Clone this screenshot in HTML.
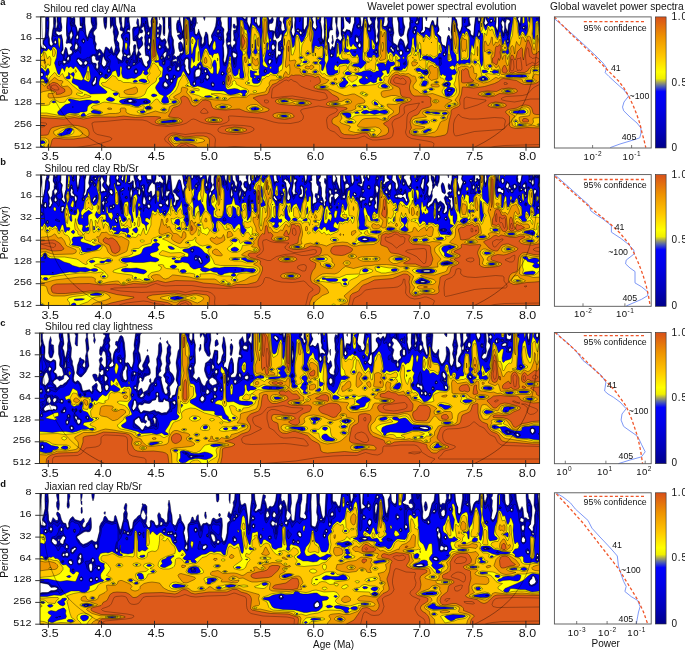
<!DOCTYPE html>
<html><head><meta charset="utf-8"><style>
html,body{margin:0;padding:0;background:#fff;width:685px;height:650px;overflow:hidden}
svg{display:block;will-change:transform}
</style></head><body>
<svg width="685" height="650" viewBox="0 0 685 650" font-family='"Liberation Sans", sans-serif'>
<rect width="685" height="650" fill="#fff"/>
<defs><linearGradient id="cb" x1="0" y1="1" x2="0" y2="0">
<stop offset="0" stop-color="#00008a"/>
<stop offset="0.12" stop-color="#0000b8"/>
<stop offset="0.3" stop-color="#0000e8"/>
<stop offset="0.43" stop-color="#0000ff"/>
<stop offset="0.47" stop-color="#5060b0"/>
<stop offset="0.5" stop-color="#a0a060"/>
<stop offset="0.53" stop-color="#f0f000"/>
<stop offset="0.58" stop-color="#ffff00"/>
<stop offset="0.7" stop-color="#ffc800"/>
<stop offset="0.85" stop-color="#ee9200"/>
<stop offset="1" stop-color="#d8501a"/>
</linearGradient>
<clipPath id="cp0"><rect x="40.6" y="16.9" width="499.0" height="130.29999999999998"/></clipPath>
<clipPath id="cp1"><rect x="40.5" y="175.0" width="499.1" height="130.39999999999998"/></clipPath>
<clipPath id="cp2"><rect x="39.5" y="333.1" width="500.1" height="130.39999999999998"/></clipPath>
<clipPath id="cp3"><rect x="40.0" y="493.5" width="499.6" height="130.70000000000005"/></clipPath>
</defs>
<g clip-path="url(#cp0)">
<rect x="40.6" y="16.9" width="499.0" height="130.29999999999998" fill="#fff"/><path d="M40.5 16l0 20-1 3 0-23zM45.5 16l3.5 0 0 12-0.5 7 1 4 0 5 1 1.5 1 0.5 1-1 0.5-1-1-3-0.5-2 1-8.5 1-4.5 0-10 2 0 0.5 5-0.5 6 0 1 1 0 1-4-0.5-3 0-5 4 0 0 6 1 5-0.5 4-2 1-3-1-0.5 2 2.5 2.5 3-1 1 5.5 0.5 8 0 2-1.5 2-0.5 1 0.5 1 2 0.5 2-7.5 1 1 0.5 1 0.5 3.5 1 2.5 3-1 1-2-0.5-1-0.5-1-1 0-0.5-1 0.5-2 1.5-1 0-1-0.5-1.5-3-0.5-2 0.5-0.5-0.5 1-5-0.5-3 0-7 0.5-12 3.5 0 1 2 1 0 2-1.5 0.5 2.5 0 5 1.5 3.5 1 4.5 1-0.5 1-3.5 2 0 0.5-1-0.5-1-1 0-0.5-1 0-9 5 0 0 7 1 11 0.5 2 1 1.5 2-6 3-4.5-1.5-5 0-6 5.5 0 0.5 8-0.5 4.5-3 3.5 0 1 0 1 1.5 2 0 5 1.5 3-1 4 1 1.5 1 0.5 2-1 1.5 1 2.5 4 2-7 1 0 2 1.5 1 1.5 2-3.5 2 6.5 0.5 0 0.5-1 0-1 0.5-2 0.5-2-1.5-7 0-4-1-4 0.5-4-1-3-2 3.5-0.5-12.5 5.5 0 0.5 9 2.5 7 0 2-1.5 4-0.5 2 2.5 3 0 4 1 4-3 5 0 1 0.5 1 4 2.5 0.5-0.5 0-2 1-3-1-4 1-5 0-5-0.5-2-1-1-0.5-3 1.5-2 0.5-1-0.5-1-2-0.5-0.5-0.5 0.5-4-1-4-0.5-6 2.5 0 0 4 0.5 6 0.5 1.5 1 1 1-2.5 0.5-10 2.5 0 0 1 0-1 2 0-0.5 3 1 10-0.5 1.5-0.5-0.5-1.5-0.5-0.5 1.5 0.5 1 2 0 0.5 3 0 8-1 4 1.5 8-1 0.5-1-0.5-1.5 1 0 1 0.5 1 1 0 1.5-1 0.5-1.5 1 0 2-4.5 0-5 0.5-1 0.5-0.5 1.5 0.5-0.5 6 1 5 2-6-1-2-1-5.5-0.5-1.5-2.5 0-0.5-1-0.5-11 1-2 3 0 1-1-1-3 0.5-3 0.5-1.5 1 1 0.5 5.5 0.5 2 0.5 0 0.5-1.5 0.5-2.5 0-7 5.5 0 1 1 1 8 1 2.5 1 0 1-1.5-0.5-5 1.5-5 4.5 0 0.5 7-0.5 3 0.5 1.5 1-0.5 1-1 0-2.5 1.5 1.5 0.5 1-0.5 7-1 4 0 1 1.5 2 1 0 2-1.5 1 1 1 2.5-1 3 0.5 1 1.5 2.5 1 0.5 0.5-2-1.5-7 1.5-9-0.5-3 0-12 2.5 0 0.5 19 2 5 0 4 1 7 0 2-1 2 0 1 1-0.5 2 2 1-1.5 1 0 1-1 1-2 1 0.5 1-0.5 0.5-1-0.5-1.5-2 1.5-1-0.5-1-3.5 0-5 2-1.5 1.5 1.5 1.5 6 0-1 0.5-7-0.5-3-1 0-2 2-1-0.5-2-3.5 0-1 2-0.5 0.5-1.5-0.5-0.5-2 0.5-1-4 0-5 1-3.5 1.5-0.5 0.5-4 0.5 0 0 4 2.5 12 1-3 0-13 3 0 1 1 2-0.5 1 3.5 1 1.5 1.5-5.5 3 0 0.5 7-2 5 0.5 5 0 1 1.5 0.5 0.5-0.5 1-2 0.5-3 2 6 1.5 3-0.5 5 0.5 1 0.5 0.5 1.5-2.5 0-4 1-3 0.5-3 1 0 1.5 3 0.5 9 1 1.5 3-5.5-1-3 0-2 2.5-5 1.5-4 1-7-0.5-3 5.5 0-1 3 1 4 0 3 2.5 3 0 1-0.5 3 0.5 9-1 4 0.5 2 0.5 8-0.5 4 1 3 1-1.5 2-8.5 0-3-1-5-0.5-5 1-3-0.5-3 1.5-3 0-15 3.5 0 0 9-0.5 7 0 9-0.5 2 1 3.5 1 1 1-2.5 1-0.5 1-1.5 0-1-0.5-1-1.5-0.5 0-0.5 0.5-2-0.5-5 0-2.5 1-0.5 1 0 0.5 0-0.5-3 1.5-2-0.5-9 5 0 3 3 1 0 1-3 1 0-0.5 6 2.5 5.5 1.5-4.5 0-7 6 0-0.5 6 0-3-1-0.5-0.5 0.5 0 3 0.5 1 1-1 1 3 1 1 1-0.5 0.5-1.5 0-8 8.5 0-0.5 2 1.5 2 1-0.5 2-3 1 3.5-1 3-1 0.5-2 0-0.5 1.5 0 3 0.5 2.5 3 0 1.5 0.5 0.5 1-1.5 7 0.5 1.5 2-0.5 1 2-0.5 6 0 4 0 4 0.5 2.5 1-1.5 1-2.5 1 0.5 1.5-1 0-2-0.5-1-2 0-0.5-7 0.5-2 3-2 0.5-4-0.5-2-1 0.5-2 3.5-2 0.5-1.5-3.5-0.5-3 1.5-6 1-10 3.5 0-1 2 0 2 2 2-0.5 6 0.5 2 1 1 2-0.5 0.5-0.5-0.5-5-1.5-3 1-6 8.5 0-0.5 4 0.5 7-1.5 4 1 3 0.5 1.5 1 0.5 1-1.5 0.5-2.5-0.5-7 0.5-5-0.5-4 9 0 0 11 0 1.5 1 1.5 2.5-5 0.5-9 6 0-1.5 2 0 1 1.5 3-1 4 0 1 3 2.5 1.5-2.5-1-4 0-7 5 0-0.5 6 1.5 8-0.5 6 0.5 2 1.5 2.5 1-5.5-0.5-8 0.5-5-0.5-3 0.5-3 8 0-0.5 10 0.5 4-2 0-1 1-0.5 2 0 4-1.5 3 0 1.5 1.5 1.5 0.5 6 1 1 2-4 1 1.5 1 0 1-5.5 1-3 1-0.5 3 2.5 2-3-1.5-4 0-18 2.5 0 0.5 11 0 1-1.5 2 0 1 1 0.5 1.5 0.5 1.5-2.5 2 0.5 1 0 2 3 3-11 0-6 5.5 0 1 6 0 4 0.5 0.5 1-0.5 1.5-10 3.5 0-0.5 3 1.5 5.5 1 0.5 1.5-1 1-2-1.5-2-1-4 6.5 0 0 2-1 3 0 6 1 9-0.5 5 1 2 1-0.5 1-2.5-1.5-4 1.5-5-1-4 0.5-5-1-4 1-2 1 0 0.5 0.5 1.5-0.5 3.5 0-0.5 6-1 3 0.5 1.5 1 0 2-0.5 1-2 0.5-2-0.5-3 0.5-3 4.5 0 0 7 1.5 10-1 4 0 4 0.5 2 2 1 2 2-0.5 3 0.5 1.5 1 0 0.5-1.5-1.5-3 2-6.5 1-1 1 0.5 2 2 2 6.5 2.5-4.5-1-8 1-5 1.5-3 0-4 0.5-2-0.5-5 8.5 0 0 2 0.5 1 0.5-3 3.5 0 0 12 0 2-2 2 1 1 1-0.5 1 0 1.5-1.5 0.5-1-0.5-3 4.5 1.5 2-6.5 1-2 1 1 1 4.5 1 0 1-1.5 0.5-8 1 0 0 9 1 4 0 2-2 2 0.5 1 1.5 1 2 2 0 5 1 2 0.5 1 2 0.5 1 1.5 1-2 1-8 1-2 1 1 0.5 2 0.5 1.5 1-0.5 0.5-2-1-5 1-11 0-5 3 0 0.5 3 1 0.5 1 5.5-0.5 2 2.5 5 1-1 1.5-5 0-10 10.5 0-1 1-1 0-1.5 1 0.5 4 1 3-1 1-2 0.5-0.5 0.5-0.5 1 1 1 1 0 2 2 0 3 1 1 2 1 2-20 3 0-0.5 4 0.5 1.5 1 0 1-1.5-1.5-4 6.5 0-0.5 3-1 4 0.5 1.5 1 0.5 2.5-2-2-4-0.5-3 10.5 0 0 6-0.5 4 2 5 1-5 0-10 8 0 0 2 0.5-2 12 0-1.5 3 1.5 3 0.5 2 1-1 0.5-7 19.5 0 0 132-501 0 0-105.5 1 1.5 1 3.5 4 1.5 1-1-1-1.5-2.5-2.5 0-1 0.5-3.5 1.5-2.5 0.5-6zM506.5 19l-1 5 0.5 4 1.5 3 0 2 1-9 1.5-2 0-1-0.5-1-2-0.5zM490.5 20l-0.5 1 0.5 1 1 0 1-1-0.5-1-0.5-0.5zM417 21l-1 1 0 1 0.5 0.5 1 0 0.5-1.5-0.5-2zM502 21l-1 2 1.5 4-0.5 2 1.5 4.5 1-4.5 0-6-1-2-1-1zM319.5 22l0 0.5 0.5-0.5-0.5-0.5zM71.5 24l0 0.5 0.5-0.5zM191.5 24l0 1.5zM358.5 25l-0.5 1 0.5 1.5 1.5-1.5zM142.5 27l-1.5 2 1.5 1 0.5 1-0.5 1.5-1 0.5-1.5 0 0-2-0.5-1 0 3-1.5 3 0.5 2 1 0.5 2-2 1 0.5 0 1-0.5 2 1 4-0.5 1.5-4 4.5 1 2 1.5 2 0 1-1.5 0.5-0.5 1.5 0.5 1 1 0 1-0.5 2 6 1.5 2.5 1.5 1 1-1 0.5-1-1-3 2-2 0.5-2-1-2-3-0.5 0-0.5-0.5-5 0-3-0.5-3 0.5-3-0.5-4 1-4-1-3-0.5-3-0.5-0.5zM415.5 27l-1 1 0 1 1 0.5 1-1.5zM523 27l0 1 0.5 1 1-1 0-1-1-0.5zM368 28l0 2 0.5 0.5 1 0 0.5-1.5-0.5-2-1 0zM389 29l0.5 2 1-0.5 0-1.5-1-0.5zM157 30l0 1 0.5 1.5 1-0.5 0.5-1-0.5-1.5-1-0.5zM297 30l0 1 0.5 0.5 1 0 0.5-0.5-0.5-1.5-1 0zM217 31l0.5 1.5 1 0 0.5-1.5-0.5-1-1 0.5zM414 31l-0.5 1 0.5 1 0.5 0.5 1-1.5-1-1.5zM71 32l-1.5 3 1 4.5 1-1 1.5-3.5-1.5-3.5zM148.5 32l-1 1 0 1 1 1 1-1 0-1 0-1-1-0.5zM299.5 32l0 1 1 1.5 1-0.5 0.5-1-0.5-1-1-1zM478.5 32l-0.5 3 0.5 2 1-1 0.5-2-0.5-2zM157.5 34l-1 2 1 1.5 1-0.5 0.5-1-0.5-2-1-0.5zM76.5 36l-0.5 2 0.5 1 1 0 1-1 0-2-1-1zM219 38l0.5 1 0.5 0 0.5-1-1-0.5zM356 38l-0.5 3 1 1 1 0.5 1-1.5-0.5-3-1.5-1zM126 39l0.5 1 0.5-1-0.5-1zM148.5 39l0 3 0 1 1 0.5 1-2 0-2-1-1.5zM83.5 40l-1 1 1 1.5 1-1.5zM507.5 40l-0.5 1 0.5 1.5 1-0.5 0.5-1-0.5-1-1-0.5zM54.5 41l-0.5 2 1.5 1 1-1 0-1-1-2zM228.5 42l-1 1-0.5 1 1.5 1 1-0.5 1-0.5 0-1-1-1zM320.5 43l0.5 0zM75.5 44l-1 3 1 3 2-1.5 0.5-2.5-1.5-2.5-1 0zM358.5 44l-0.5 2 0.5 1 1 0.5 1-0.5 0.5-1-0.5-2-1-1zM272 45l-0.5 1 0 2 1 2 1 0 1.5-2 0-1-1.5-2.5-1 0zM148 46l-0.5 2 1 1.5 1-0.5 0.5-2-1.5-2zM159 46l-0.5 1 1 1.5 1-0.5 0.5-1-0.5-1-1-1zM281.5 47l0 2 0 0.5 1-0.5 0-2-1-0.5zM390 48l0.5 1 1 0.5 1 2 1 0.5 0.5-1-0.5-2-1 0-1-2-1 0zM407 49l0 1 0 1 1.5 0 0.5-1-0.5-1zM376 51l-1 1 1.5 1 0.5-1-0.5-1zM165.5 52l-2 1.5-0.5 1.5 1.5 3 1.5-2 0.5-3 0-1zM399.5 52l0 2 1 1 1 0 1-1 0-2-1-1-1 0zM99 53l-1 2 0.5 0.5 2-0.5 0-1-1-1.5zM232.5 53l0 2 1 2.5 2 0 1-1 0.5-1.5-0.5-1-3-1.5zM269 54l0.5 1.5 0.5-0.5 0.5-1-1-1zM443.5 54l0 1 1 0.5 0.5-0.5 0.5-1-1-1zM124 55l0 1 0.5 0.5 2-0.5-1-1.5-1-0.5zM330.5 55l0 1 1 0.5 1-0.5 0-1-1-1zM92.5 56l-1 1 0 1 0.5 4 1.5 1 2 0 1 1-0.5 3 0.5 1.5 1 0.5 1-2-0.5-4 1-2-0.5-0.5-1 0-1 0-1-1.5 0-2-1-1-1-0.5zM168.5 56l-0.5 1 0.5 1 1-1zM68 57l-1 1 0 1 0.5 1.5 1 0 1-2.5-1-1.5zM103 57l-0.5 1-1 6 1 1.5 1 1 1 0 1.5-1.5 0.5-3-2-3-1-3zM161.5 57l-0.5 1 0.5 1 1-1-0.5-1zM175.5 59l-2.5 1-0.5 1.5 1 0 2-0.5 1 0.5 0.5-0.5-0.5-2.5zM186 59l-1 1-0.5 3 1 3-0.5 2 2 5 1.5 1 1-1 0-1-1-4 0-8-1-1.5-1 0zM77 60l0 1 2.5 3.5 1 0.5 1 0 1-1 0-1-1-1.5-3-2.5-1 0zM269 60l-0.5 1 0 2 1 1 1-1 1-2-1-1.5zM63 61l0 1 0.5 1.5 1 0 2-1.5-2-1.5-1 0zM84.5 62l-0.5 1 0 1 1.5 1 1-0.5 1-1.5-0.5-1-0.5-1-1 0zM126.5 62l1 0 0-1zM163.5 62l-0.5 1 0.5 1 1-1-0.5-1zM178 62l0.5 1 0.5-1-0.5-0.5zM133.5 63l-0.5 1 0.5 1 1-0.5 0.5-0.5-0.5-1zM199.5 65l-0.5 1 0.5 2.5 1-0.5 0.5-2-0.5-1zM127.5 67l0.5 1 0.5 1 1-0.5 0.5-0.5 0-1-0.5-1-1 0zM178 67l-1.5 2 0.5 1 1.5 0.5 1-0.5 0-2-1-1.5zM169 69l0.5 1 1 0 0.5-1-0.5-1-1 0zM397 69l1.5 0-1-0.5zM108 70l0 1 0.5 1 1-0.5 0.5-0.5-0.5-1.5-1-0.5zM135.5 70l-0.5 1 0 1 0.5 1 1 0 0.5-1 0-1-0.5-1zM196 70l-1 3 0.5 4 3-0.5 1-0.5 0.5-1 0.5-3 0-1-1-2-2 0.5zM205 70l-0.5 1 0 1 1 0.5 1-0.5 0-1-1-1.5zM264.5 71l1 1 0.5-1-0.5-1zM41 73l-0.5 2 1 1.5 1.5-0.5 0-2-0.5-1-1-0.5zM100 73l0 1 0.5 0.5 1-0.5-1-1.5zM221.5 73l0 1 1 0.5 1-0.5-0.5-1-0.5-1zM425.5 73l1.5 0-0.5-1zM166.5 75l-0.5 1-0.5 1 1 2 1 0.5 1-1 0-1.5-1-2zM207.5 75l-1 0-0.5 2 0.5 1.5 1 0.5 1-0.5 0.5-1.5-0.5-1.5zM105.5 76l0 1 1 0 0-1.5-1 0zM174.5 76l-1 1 1 1 1-1-0.5-1zM94.5 78l0 2-2 3 0 1.5 1 0.5 2-1.5 0.5-1.5 0.5-4-1-1zM258 79l0.5 1.5 0.5-0.5 0-1-0.5-0.5zM481 79l1.5 1 1 0 1.5-1-1.5-1-1 0zM171 80l-0.5 1 1 1.5 1-1.5 0-0.5-1-1zM164 83l-0.5 2 1 1.5 2 0.5 1-1 0.5-1-1.5-2-1-1-1 0zM193.5 83l-0.5 1 0.5 1 1 0 1-1-0.5-1-0.5-1zM223 83l0.5 1 1-1-1-1zM212 84l0 1 0.5 1 1 0 0.5-1-0.5-1.5-1-0.5zM446 84l-0.5 1 1.5 0 0-1zM448 90l0.5 1 1.5 0 1-1-1.5-0.5zM128.5 100l-0.5 1 1 1 2 0 1.5-1-0.5-1-1.5-0.5zM144.5 102l1 0.5 1.5-0.5-1.5-0.5zM147.5 108l1 0.5 1-0.5-1-0.5zM104.5 16l2.5 0-0.5 11-1 2.5-1-2-0.5-2.5-0.5-6 0.5-3zM159.5 16l0.5 0-0.5 4-0.5-3 0-1zM162.5 16l2.5 0 0 16-0.5 4-1-1-0.5-2 0-12-1-5zM176.5 16l1 0-1 1 0-1zM203.5 16l2 0-1 4.5-1-2.5zM335.5 16.5l0-0.5 2 0-0.5 10 2 7-0.5 3-1 1.5-1 0 0-0.5-0.5-4 0.5-7-1-4zM345.5 16l5 0 0 6-1 2-0.5-1-2.5-2-0.5-1-0.5-2-0.5-2zM397.5 16l8 0-1 0.5-1-0.5-0.5 2 0.5 5 1.5 4-1.5 8-2 1.5-1 0-1-1-0.5-1.5-0.5-3 0-8-1-4zM425.5 16l2 0-1 5-1-3 0-2zM448.5 16l0 1.5zM197.5 22.5l0 1zM233.5 24l1 0 1 2 0 1-1 1.5-1-0.5-0.5-2zM448.5 27l1 1 0 3-1-1zM332.5 35l1 7-1 2.5-1-1.5 1-3-0.5-3z" fill="#00009c" stroke="#000" stroke-opacity="0.7" stroke-width="0.55" fill-rule="evenodd"/>
<path d="M40.5 17l0 9-0.5 11-0.5 1.5 0-22.5 1 0zM46.5 16l2.5 0-0.5 3 0.5 3-0.5 7-1.5 5 2 4 0 5 1 2 0.5 1 1 0 1.5-1 0.5-1-1.5-3 0-2 1.5-10 0-0.5 1 0 1 1.5-0.5 3 0 1 3.5 2 2-0.5 1 0.5 1 6.5 0.5 5.5-0.5 2-1.5 2 0.5 2 2 1.5 2-7 1 0.5 1.5 7-1.5 2 0 2.5-3-0.5-0.5 1-0.5 1 1 2 1 0 3-2.5 1 0 1-2.5 0-3 0.5-1 2-1 1-2-2.5-4 1.5-2 0.5-1-2-3 2.5-6-0.5-4-1-1.5-1 0.5-0.5 2-1 2-0.5 5 0-2-1.5-3-0.5-7 1-12 2.5 0 0.5 2.5 1 2 1 0 1-1.5 1 1-1 3.5-2-2.5-1 1.5 0 1.5 1 2 2-1 2 0.5 1 2.5 1 6-1.5 2-0.5 2 1 1.5 1 0 1.5-1.5-1-4 1.5-5 1-0.5 1.5 0.5 1-1-0.5-3-2 0.5 0-0.5-0.5-9 4.5 0-1.5 3 0.5 3-1 1.5 0 1.5 1-1 1 0.5 1.5 10.5 1.5 3.5 1.5-2.5 0.5-2.5 1.5-1.5 1.5-3.5 1-0.5 0 1-1.5 3 0 1 2 5 0.5 4 1 2 0 5 1 1.5 2 0.5-1 3-2 2-2-1-2 1-0.5 1 0 5 2.5 2 2 0.5 0 3.5 1 1.5 1 0.5 1.5-3 0-4 0.5-2-0.5-3 0.5-1 1.5 1 0.5 2 0 4 2 3.5 1 0 1-0.5 2-4 1.5-1-0.5-1-3-1.5-1-2.5 0-3 1-4 1-1 2 1.5 1 2.5 2-1 2 2.5 1-0.5 0.5-1 0-2 1-4-1.5-7-0.5-14-1-3-0.5-5.5-2 9 0-10.5 4.5 0 0 8 2 4 1 5-1.5 6 0 1 2 3.5 0.5 6.5-0.5 2-2 4 0 1 3 4 2 0.5 1-0.5 1-4.5 3 0.5 1 1.5 1 0 3-1 2-6 1-0.5 2 6-0.5 5 0.5 1 1-1 0-5.5 1 0.5 1 1.5 2 0.5 2 6 2.5 2 0.5 0 1-0.5 0.5-1.5 0-3 1.5-2 0-2-1-2.5-2-1-0.5-0.5-0.5-4 1-2.5 1 1.5 1 1 1-0.5 0.5-1.5 0-4 0.5-2 0.5-2-1.5-3-1 0-0.5 2 0 5-1.5 1.5-1-0.5 0-2 0.5-3-0.5-7-0.5-3 0-3-0.5-2.5-1-1.5-0.5 3-1.5 0.5 0-0.5 0-5.5 0.5-1.5-0.5-3 3 0 0 1.5 1 0 1.5 2.5 0.5 6 2 4-2.5 3 0 1 1.5 2 1.5-2 0-5 1.5-3-0.5-5 1.5-4 0-1 4 0 0.5 7-0.5 3 1 2-1 3 1 2-1 3.5 1 1 2-0.5 2 4.5 1 0.5 2-2 1 2-1 4 1.5 4-3 4 0 3-1.5-1-0.5 1-0.5 1 1 1.5 1.5-0.5 0.5-1.5 1 3.5-1 0-0.5 1 0 2 0.5 0.5 1-0.5 0-3 2-5.5 0.5 0.5 0.5 2 1 1 1-0.5 1-1.5-0.5-1-1.5-1-1 0.5-0.5-0.5 0.5-3 2-4-1-10 1-5.5 1-1 0.5 3.5 2 5-0.5 5 1.5 5-0.5 2-1.5 4 0.5 2-1 3 0 4 0 0.5 1 0 1-2.5 1-0.5 1 0 1.5 2.5-0.5 4 0 1 1 1 1 0 1.5-2 0.5-7-2-4 2-3.5 2-0.5 0.5-1 1-4 0-8-0.5-5.5-1 0.5-0.5 2-1.5 1-1.5-2-0.5-1 2-2 0-1-3-2-0.5-5 0.5-2.5 1-1 1-0.5 1 1.5 1.5 7.5 0.5 4.5 1-5 0-14.5 2.5 0 1.5 1.5 1 0 1 0.5 1 5 0 7 1-0.5 1.5-3.5-0.5-5 1.5-5 1.5 0 0.5 6-1.5 6 0.5 6 0.5 1 1 0 2-2.5 1 1 1.5 4.5 0 6 0.5 2 1 0 1.5-1 1-3-0.5-4 1-3 1-1 1 2 0.5 8 1.5 2.5 3-6.5-1-4 5-9 0.5-11 4 0-1.5 3 1.5 4-0.5 3 0 1 2.5 2 0 1 0 3 1 9-1 3 0.5 11-0.5 4 0.5 3 1 1.5 1-1 2.5-8.5 0.5-9 2-0.5 2 4 2-2.5 1.5-4-2-9 0.5-1.5 1 0.5 1-1.5 1.5-6.5-1-9 4 0 4.5 4.5 1-1 0.5 2.5 2.5 7.5 1.5-6.5 0.5-7 5 0 0 1.5-2 1 0 3.5 1 1.5 1-0.5 1 3 1 1 1.5-1 0.5-2 0-8 7.5 0 0 2 1.5 3-1 5 0.5 4 0.5 1 3 0 1 1-0.5 6 0 2 0.5 1 2 0 0.5 2-0.5 3-2-2.5-1 0.5-0.5 1-1 2 1.5 4 1-0.5 1-1 1-0.5 0 7 1 3.5 2-4 2-0.5 1-2-1-2.5-2-0.5 0.5-3-0.5-3 1-2 2-1.5 1.5-8.5 2.5-2-1-5-1-3 0.5-3 0.5-2 2-0.5 1 0 1-0.5 3.5 0 0.5 11-1.5 4 1 4 1.5 1.5 1-1.5 1-3-0.5-6 0.5-6-0.5-4 8 0 0 11 0.5 6 1-1 0.5-2 2.5-5 0-9 5.5 0-1 2 0 1 1 3-1 4 0.5 1 3 3 1.5-3-0.5-4-0.5-7 5 0-0.5 4.5-1 0-0.5 1.5 0.5 1 1 0 1 7 0 4 0 4 2 4 1.5-7-1-9 0.5-4 0-3 0-3 7.5 0-0.5 11-2 2.5-1 2.5 0 5-1 3-0.5 1 2 3 0 5 1.5 1.5 2-1.5 1 1 1-1.5 1.5-6.5 0.5-2 1-0.5 3 2.5 2-4-1-4 0-18 1.5 0 1 10-0.5 2-1.5 2-0.5 1 4 2 1-3 3 0.5 1 1.5 0 1.5 1 1 2-9.5 1.5-3-0.5-2 0-4 5 0 1 7-0.5 1-0.5 0.5-1 0-1 1.5 0 1 1 1 1-0.5 2 1.5 1-1 1.5-12 3 0 0 3 1.5 7-0.5 4 0.5 1 1.5 0 0.5-2-1-3 1-1 3-1.5 0 3.5 1 1.5 0.5 1.5 0 11 1.5 3 1-1 1-3-0.5-4 0.5-5-0.5-4 0-8 0.5-2 1 0 1 0 1-1 2.5 0 0 5-1 5 0.5 0.5 4 0.5 2-6-1-0.5 0-1.5 0-3 3.5 0 0 7 0.5 2 0.5 8-0.5 2-2-1 0 1 0 1 1.5 1 0 4 1 3 0.5 1 2 0 1 1 0.5 4 0.5 1 1-0.5 1-1.5-1-3 1-5 1-1 1 0.5 2 2 1 4.5 2.5 4 0.5 0.5 1 0 1-1.5-1-1.5-1.5-0.5 1.5-6-1-7 1-5 1.5-3 0-3 0.5-3-1-5 8 0-0.5 4-1.5 2 0 1 1 1 1 0 1-1 1-7 2.5 0 0.5 12-0.5 2-1.5 2 0 1 1 0.5 2-0.5 1-1 1-2 0-2.5 3 1 1 1 2-6.5 1-2 1 1 1 4 1 0.5 1-1.5 1 0.5 1.5 3.5-0.5 1.5-1.5 2.5 0 1 3 3 1.5 6.5 1 2 2 0.5 1 2 1-2 1-8.5 1-1.5 2 4 1 0.5 0.5-3.5-0.5-5 1-16 2 0 0 2 2 3 0.5 7 2.5 5 1-1 1.5-5 0-11 9.5 0-2 0.5-1 1.5 1 7-3 1.5-0.5 1.5 1.5 1 1 0.5 1 1 1 4.5 3 2 1-5 0-5 1.5-11 2 0 0 4 0.5 2 1 0 1-2-1-4 6 0-1.5 7 0.5 1.5 1 1 3-2.5-0.5-1-1-2-1-4 10 0 0 6-1 4 2.5 6.5 1-6.5 0-10 5 0 0 0.5 0.5-0.5 1.5 0 0.5 3-0.5 2.5-1 0.5-1-2-1-0.5-1.5 2.5 0 2 1 3-0.5 3 2 6 1-5.5 1-2 2 7 1-1 0-4.5 0.5-5 1.5-3-0.5-2-2-2 0-2 10.5 0-1 3 1.5 3 0.5 4.5 1-1.5 0.5-9 19.5 0 0 132-501 0 0-105 1 1.5 1 4 2 0 2 1 1-1.5-1-2-2-2 0-1 0-2.5 2-2.5 0.5-4 0-11 0.5-4-0.5-3zM490 20l0 2 1.5 0.5 1-1.5 0-1-1-1-1 0zM390.5 27l-2 0.5-0.5 1.5 0.5 2 1 1.5 1 0.5 1.5-2 0.5-1-0.5-2zM414.5 27l-0.5 1 0.5 2-1.5 2 0.5 1 1 1 1-1 0-2 1-3-1-1.5zM523 27l-0.5 1 1 1 2-1-0.5-1-1.5-1zM217 30l0 4 0.5 0.5 1.5-1.5 0.5-2-1-1.5zM297 30l0 1 0.5 1 1 0 1 2 1 1 1 0 1-1 0-1-1-1.5-1-0.5-1 0-1-2-1 0zM478 32l-0.5 3 0 1 1 1 1.5-1 0.5-2-1-2.5-1 0zM219.5 37l-1 1 1 1.5 1-0.5 0.5-1zM355.5 37l0 4 1 1.5 1 0.5 1.5-2-0.5-3-0.5-1-1.5-0.5zM55.5 40l-1.5 1 0 2 1.5 1 1-1 0.5-1-0.5-1zM83 40l-0.5 1 0 1 1 0.5 1-0.5 0.5-1-1.5-1.5zM507 40l0 2 0.5 1 1-0.5 0.5-1.5-0.5-1.5-1-0.5zM360.5 41l-2.5 3-0.5 1 0.5 2 1.5 1 1-0.5 1-1.5-0.5-3zM75.5 43l-1 5 0.5 2 0.5 1 2.5-2 0.5-3-0.5-1-1.5-2-1-0.5zM320 43l0.5 0.5 1.5-0.5-0.5-0.5-1-0.5zM159 45l-0.5 1-0.5 1 1.5 2 1.5-1 0.5-2-1-1-1-0.5zM281.5 46l-1 1 0 1 1 2 1-0.5 0.5-1.5-0.5-1zM390.5 47l-0.5 1 0 1 1.5 1 1 2 1 0.5 1-1.5-0.5-2-2.5-2.5zM375.5 51l-1 1 1 1 1 0.5 1-1.5-0.5-1-0.5-1zM400 51l-1 1 0.5 2 1 1.5 1-0.5 1-1 0-2-1-1.5zM232.5 52l-1 2 1.5 4 0.5 4 1 2.5 0.5-5.5 1.5-1.5 0.5-2.5-0.5-2-3-2-1 0zM269.5 53l-1 1 0.5 1 0.5 0.5 1.5-0.5 0-1zM444.5 53l-1.5 1 0 1 1.5 1 1.5-2-0.5-1zM331 54l-1 1 0 1 1.5 1 1.5-1 0-1-0.5-1-1-0.5zM272.5 55l0-1zM186.5 58l-1.5 1-1.5 5 1 1 0.5 1 0 3 2 4 1.5 1.5 1-1 0.5-1.5-1-4 0-8-1.5-2zM439.5 58l0 1 1 0 0-1zM77.5 59l-0.5 1 0 1 2.5 4 1 0.5 2-0.5 3 0.5 2-1.5 0.5-2-0.5-1-2-0.5-2 1.5-1-0.5-3-2.5-1-0.5zM131.5 60l0-1zM269 60l-1 1 0 2 0.5 1 1 0.5 1.5-1.5 0.5-2-1-1.5-1-0.5zM126.5 61l0 1.5 1 0.5 0.5-1-0.5-2-1 0.5zM133 63l0 2 0.5 0.5 1-0.5 1-1 0-1-1-1-1 0zM404.5 64l0.5 0-0.5-0.5zM199 65l-0.5 1 0 2.5-2 0.5-1.5 2-0.5 6 1 1.5 3.5-1.5 1.5-2 1-4-0.5-2 0-3-0.5-1-1-0.5zM128 66l-1 1 0.5 1 1 1 1 0 1-1-0.5-2-0.5-0.5zM169 68l-0.5 1 0.5 1 0.5 0.5 1 0 1-1.5-0.5-1-0.5-0.5zM108.5 69l-1 2 1 1.5 1-0.5 0.5-1-0.5-2zM396.5 69l1 0.5 1.5-0.5-1.5-1zM135 70l-0.5 1 0.5 2 0.5 0.5 1 0 1-1.5-0.5-2-0.5-0.5-1 0zM204.5 70l-0.5 1 0 1 1.5 1 1.5-1-0.5-2-1-1zM265 70l-0.5 1 0 1 1 0.5 1-1.5-1-1.5zM425 72l0 1 1.5 0.5 0.5-0.5-0.5-1.5zM41 73l-0.5 1 0 1.5 1 1 1 0 1-1.5 0-1-1-1.5-1 0zM99.5 73l0 1 1 1 1.5-1-0.5-1-1-1zM221.5 73l0 1.5 1 0.5 1-1 0-1-1-1zM166 75l-0.5 1 0 2 2 2.5 1.5-1.5 0-2-1.5-2.5-1 0zM206 75l-0.5 3 1 1.5 1 0 1.5-1.5 0-2-1.5-1.5-1 0zM105 76l0.5 1 1.5 0 0-1-0.5-1-1 0zM173.5 76l0 1.5 1 1 1-1.5-1-1.5zM95.5 77l-1 1-0.5 2-2 3 0.5 2 1 0.5 2-1.5 1-1 0-5zM482 78l-1 1 1.5 1 1.5 0 1.5-1-1.5-1zM258 79l0 1 0.5 0.5 1-0.5 0-1-1-1zM170.5 80l-0.5 2 1.5 1 1-1 0.5-2-1.5-1zM46 81l0.5 1 0.5-1-0.5-0.5zM164.5 82l-1.5 2 0.5 2 0.5 1 1.5 0.5 2-0.5 1-1-0.5-2-1.5-2-1-0.5zM194 82l-0.5 0-0.5 2 0.5 1 1 0.5 1-1.5 0-1-1-1.5zM223 82l-0.5 1 0.5 1 0.5 0.5 1-0.5 0-1-1-1.5zM212.5 83l-1 1 0 1 1 1.5 1 0 1-1.5-1-2zM445 84l0 1 1.5 0 1 0 0.5-1-1.5-0.5zM447.5 90l0 1 1 0.5 2-0.5 1.5-1-1.5-1zM128 100l-1 1 0.5 1 3 0.5 4.5-0.5-2.5-2-2-1zM144 102l1.5 0.5 2-0.5-2-1zM147 108l1.5 0.5 1.5-0.5-1.5-0.5zM54.5 16l0.5 6-0.5 2.5-0.5-2.5 0.5-4-0.5-2zM57.5 16l3.5 0 0 6 0.5 6-1 1.5-2 1-1-1.5 0.5-5-0.5-4zM91.5 16l3.5 0 0.5 2 0 6-2 2-1-1.5-1-2.5-0.5-6zM104.5 16l2 0 0 6-1 5.5-1-3-0.5-3.5zM119.5 16l1.5 0-0.5 5 1 2 0 1-1 0-0.5-2 0-2-0.5-0.5zM125.5 16l1 0 1 6 0 0.5 1-1 1.5 5.5-0.5 2-2 0-0.5 2 0 1 0.5 0.5 1 0 1 1.5 0 9-0.5 4 1 7-3.5 1.5-1-1.5-1-0.5-1 0.5-0.5-1 0-3 0.5-9-2-5 0-1 2-2 0-3 1.5-4zM126.5 38l-1 1 0.5 1 0.5 0.5 1-1.5zM162.5 16l1.5 0 0.5 1.5 0 6-0.5-4.5-1.5-2zM168.5 16l2 0 0 11 0 1-1 1.5-1-2.5zM228.5 16l2.5 0 0 9-0.5 7 0 8 0 1-1 0.5-2-0.5-0.5-2 0.5-5 1-3-0.5-12zM277.5 16l2 0-0.5 2 0 2 0.5 1.5 1 0 0.5 1.5-0.5 6-0.5-1 0.5-2-1-1.5-1.5 4.5 0 1 1 2 0.5 2-1 3-1 1-1-0.5-1-2.5 1-14zM336.5 16l0 7-0.5-4 0-3zM345.5 16l5 0-1 6-3-1.5-1-2.5zM370.5 16l2 0-1 2.5-1 0-0.5-2.5zM373.5 16l2 0-1 2.5-1-0.5-0.5-1 0-1zM398.5 16l4.5 0 0 6 1 5-0.5 6-1 1.5-2-0.5-1-1-0.5-10-1-4 0-3zM272.5 18.5l0 3-1 1-0.5-0.5 0-1 0.5-1.5zM437.5 19l0 2.5zM138.5 25l1 4-0.5 4-3 6-1 1-1.5 0.5-0.5-1.5 0-10 0.5-1 1 0 2.5-1zM121.5 27l1 2-0.5 1-0.5 0-1-1 0-1zM159.5 26l1 0.5 0.5 2.5-0.5 5-1 1.5-0.5-2.5 0.5-2-0.5-2zM164.5 26.5l0 7.5-0.5-2zM141.5 30.5l0.5 1.5-0.5 0.5-0.5-0.5zM337.5 30.5l1 2.5-1 2-1-3zM137.5 39l2 0.5 1 0 1 1 1 2.5-0.5 2-2.5 3-1 0-0.5-1-1-7zM180.5 43l1.5 1 0.5 4-0.5 2-1.5 0.5-1-1.5 0-4 0-1zM134.5 45.5l0.5 1.5-0.5 2-0.5-2zM138.5 52l1.5 2-1.5 2-0.5-1z" fill="#0000c8" stroke="#000" stroke-opacity="0.7" stroke-width="0.55" fill-rule="evenodd"/>
<path d="M47.5 16l0.5 0-0.5 1.5-0.5-1.5zM58.5 16l2 0-0.5 7 0.5 4-1 1.5-1 0 0-1.5 1-4-1.5-3 0-4zM68.5 16l1 0 0.5 4 0 4 1.5 4 0 1-3 5-1-2-0.5-4 0.5-10.5 0.5-1.5zM80.5 16l2 0-0.5 7-0.5 1-1 0-0.5-6 0.5-2zM92.5 16l1.5 0 0 1 0 3-0.5 3.5-1-1-0.5-1.5 0-5zM105.5 16l0.5 0-0.5 7-0.5-3 0-4zM113.5 16l1 0-0.5 1-0.5 0.5zM153.5 16l2 0 0.5 2 0.5 5 0 3 0.5 2-0.5 3 0.5 2-0.5 4 1 1.5 2 1 0.5 1.5-2 5 0 2 1.5 1.5 1 0 2-2.5 1 0.5 1 1.5-0.5 3-3.5 5 0 2 2 2-0.5 2 0.5 1.5 1 0.5 1 0 0.5-1 0.5-3 1-1.5 3 0.5 1 1-0.5 5-2.5 1-0.5 1 0.5 2 1 1.5 2-0.5 1-1 0.5-3 1.5-1 1-1.5 1 1.5 0 4 1 1 2 0.5 1-0.5 1-1 1-5 1 0 1 0 1 1 0 3 2 4 1 1.5 1 1 1-0.5 1-3-1-4 0-8-1-2-1-1-2 0.5-3 3.5-2-3 0.5-2 2.5-2.5 1-4.5-0.5-16 0-17 2 0 1.5 2.5 1 0 1 1.5 0.5 3 0 7 0.5 1.5 2-0.5 1-3 0.5 5 1 2 1.5 1 2-2 1 1 1 4 0 7 1 2 2-1.5 1.5-1.5 1-3-0.5-4 1-1.5 1 2 0.5 6.5 1.5 3.5 2-5.5 1.5-3-0.5-3.5 2-1.5 2 1.5 1 0 3-4.5 1.5 4 0 2-0.5 0.5 0-1.5-1-1-1 0-1 0.5-0.5 1.5 0.5 1 1 1 1 0.5 1-0.5 0-1 1 1 0.5 2-0.5 3 0.5 10-0.5 5 1 5 1 1 1 0 0.5-1 3.5-17 1 0.5 1 1.5-0.5 4 1.5 4 1 8 1 2 1.5-2 0.5-7 1-3-0.5-4-1.5-4 1-4 0.5-5 2-3-1-3 0-5 0.5-3 0-4 2-4.5 3.5 3.5 1 3 1.5 0.5 1.5 2.5 0.5 4 1 2.5 2-9.5 0-7 4 0-1 1-0.5 2 0.5 4 2 1.5 1 2.5 1 1 1 0 1 0 0.5-3-0.5-9 7.5 0 0 2 0.5 3-0.5 6 0.5 4 1 1.5 1-1 2 0.5 0 7 0.5 3 0 1-2 3 0 2 1 3-0.5 2-2-0.5-1.5 1.5 0.5 1 1 1 1 0 2 2 2-7 0.5 2 0 3 1.5 7.5 2-7 2.5-1.5 0.5-1 0-3 1.5-2 0-1-1.5-4-1.5 0 1.5-1 1.5-10 0.5-1 2-2-1.5-8 0.5-2 1.5-2 2.5-1.5 0.5-0.5 3 0 0 11-1 3 0 2 1.5 5 1 1 1-2 1-3.5 1-1.5 0.5 1 1.5 0.5 2 3 2 1 1-0.5 1-1.5 1.5-5.5 1.5-3 0.5-10 4.5 0-1 2 1 4 0 5 3 4 2-4-1-4 0-7 4 0 0 3-2 3 1.5 2 0 3 1 3 0 7-0.5 1-2 0.5-0.5 1.5 0.5 0.5 1 0 1-1.5 1 0.5 1 1.5-3 0 0 2 1 1.5 1.5-0.5 0.5-3 1 3 1-4 0.5-5-0.5-9 0.5-4-0.5-3 0-2 0.5-1 7 0-1 7-0.5 2.5-2 4-0.5 3.5 0 4-1 4 1.5 3 0.5 5 1.5 3-0.5 4 0.5 1 1 0.5 1-0.5 1-1 3-15 1-0.5 1 0.5 2 2.5 2-5.5-0.5-5 0.5-1 1 0.5 2 2 1-3.5 2 0 1.5 1 0.5 5.5 1-0.5 2.5-10 0.5-2 1-1 0.5-1-0.5-7 2.5 0 1.5 3.5 0 3.5-3 2 0 1 0.5 2 2.5 1 1 1 0.5 3-1.5 3.5-1 0-2-1.5-1 0-0.5 1 0 5 0.5 1.5 1.5 1.5 1 3 2.5 2.5 1.5-3.5 0-13 0.5-2.5 2-14.5 2.5 0 0 3 1 7-0.5 3 0.5 2 1.5 1 1-0.5 0.5-1.5 0-3 0.5-1 2.5 5 0.5 2 0.5 8 1.5 4.5 1-1.5 1-4 0-3 0.5-6-0.5-4 0.5-8 2.5-3 1.5 0 0.5 5-1 5 1 1 2 0.5 1.5 1.5 1 4 0.5 7 3 2.5 1 2.5-0.5 1-1.5 0-0.5 1-0.5 2 3 3.5 1 0.5 1.5-2-0.5-3.5 1-0.5 1 3 1 1.5 1 0.5 0.5 2 1.5 1.5 1 0 1.5-1.5 0-2-1.5-2-1.5 0-0.5-0.5-0.5-3.5 0.5-2 1 0 2 0 3 7.5 2 0.5 1 0 1-1 0-2-2-2 1.5-5-1-7 1.5-5 1.5-1-0.5-6 1-0.5 1 0.5 0.5-1-0.5-1.5-1 0-1-1-0.5-3.5 7 0-0.5 4-1.5 2 0 1 1.5 1.5 1 0.5 1-1 0.5-1 1-7 2 0 0 12-0.5 2-1 1-0.5 2 3.5 1 3-5.5 2 1 1 2 2-8 1-2 2 5.5 1 0.5 1-1 1 0.5 0.5 1 0 2-1 2 0 2 2.5 3 1.5 6 1.5 3 2 1.5 1 1.5 0 2-0.5 1-1.5 0.5-0.5 1.5 0.5 2 1 0.5 1-1 1-1.5 0-2.5-1-1.5 1-1.5 1-8.5 1-2 2.5 5 0.5 7.5 0.5-13.5 0-6 0.5-15 1.5 0 0 2 2 3 0.5 3 0.5 4 2.5 6.5 1-1 2-6.5 0-11 6.5 0-1 3 0.5 4-0.5 2-1.5 1-2 0 2 3 2.5 2 1.5 5 3 2.5 1-2.5 0.5-9 2-11 0.5 0 0 4 1 3.5 1-1 1-2.5-0.5-4 5 0-1.5 7 2 3.5 2.5-2.5 0.5-1 0-1-1.5-2-0.5-4 9.5 0-0.5 6-0.5 4 1.5 6.5 1 2 1.5-8.5-0.5-10 3.5 0 0 3-1 2-0.5 2 1 4-0.5 2 1 4 0.5 3.5 1 1.5 2-6 2 5 0 1-1 3 1 2.5 1-0.5 0.5-1-0.5-3.5-0.5-0.5 1-3 0.5-10 1.5-3-1.5-6 9 0-1.5 3 2 4 0.5 7 1-1 0.5-1 0.5-12 12 0 0 0.5 0.5-0.5 6.5 0 0 1.5-1 1.5 1 2 0 127-501 0 0-104.5 2 5.5 2 0 2 0.5 1-0.5 0-2-3-4 0-1 1-2 1.5-1 0.5-1.5 1 0 0.5 0.5 0.5 5 0.5 2 1.5 1.5 1 0 2-1.5 0-1 2 0.5 1-0.5 0.5-1 0-2-1.5-2.5-1 0.5-1 2.5-1-0.5 0-3 1-3 1 1.5 1 0 1-0.5 4.5 1 1 2 0.5 8-0.5 2-1.5 4 0.5 1 2 2 0.5 3-2 2.5-1 0-1-0.5-1 0.5 0 1.5 0 2 1 1 1-2.5 1-0.5 2 2.5 1-0.5 1-1 3-1 1-1 1-2 0-4 2.5-2 0.5-2 1-0.5 1 1 1.5-1.5 1.5-0.5 2 3 0.5-5.5-0.5-1.5-1 1-0.5-0.5-0.5-3-1.5-2 0.5-1 1.5-2 0-6 0.5-2 1-1 2 0.5 1.5 1.5 3.5 9 2-4.5 1 1 2 0.5 1 2 0 4 1 1 0.5 4 1.5 3-1 2.5-3 0-1 0.5-2 2 0 1-2-0.5-2 1.5-3 0.5-3-1.5-2 0-0.5 1-0.5 2 1 2 2 2.5 3 1.5 1 1 3-2.5 2-2.5 2 1 1-0.5 1.5 1.5 2 4 3 3 1.5 3 1 0.5 1-0.5 1-1 0-1-1-1-2-0.5-0.5-1.5 1-6 0.5-1 0.5 2 2.5 3.5 1 1 3-3 2 0 1-5.5-1-2-1-0.5-1-1.5 0.5-1 1.5-0.5 2-2 2 2 2.5-1.5 0 3 2 3 0.5 3.5 1-0.5 3-0.5 2-2.5 0-1.5 1-0.5 1 1-1 3 1 1.5 1.5 0.5-2 3 1.5 2.5 2 0 1.5-1.5 0.5-2 3-0.5 4-2.5 1-1 0-2 4 6 2 1.5 1 0 2-1.5 1.5-6-0.5-4-1-3-1-1 0-0.5 1 0 1-1 1-2.5-0.5-3 1-4-1-6 1-6 1-3-0.5-4 0.5-3 1-3zM490.5 19l-1 1 0 2 1 1 1-0.5 1-0.5 0-2-1-1zM536 19l0.5 0.5 1 0 0.5-0.5-0.5-1-1 0zM464 20l0.5 3 1-3 0-1-1 0zM523.5 26l-1 1-0.5 1 0.5 1 1 0.5 1 0 1 1 1-2.5-0.5-2-0.5-0.5-1 0.5zM413.5 27l-0.5 1-0.5 4 0.5 1 1.5 1.5 1.5-1.5 0-2 1-3-0.5-1.5-1-0.5zM478.5 31l-1 4 0 1 1 1.5 1-0.5 0.5-1 0.5-2-1-3-1-1zM83 39l-1.5 1 0 1 0.5 1 1.5 1.5 1-1 0.5-1.5-0.5-1.5-1-1zM376 50l-3 2 3.5 2.5 1-1.5 0-2-1-2zM353.5 52l1 0.5 1 0 0.5-0.5-0.5-1-1 0zM425.5 58l1 0.5 1.5-0.5-1.5-0.5zM438.5 58l1 3-0.5 4 1.5 0.5 1-1.5-0.5-3 0.5-3-1-1-1 0zM269.5 59l-1.5 1-0.5 2 0.5 2 1.5 0.5 2-1.5 1-2 0-1-1-1-1-0.5zM337 62l0 1 1 0 0-1-0.5-0.5zM404.5 62l-1.5 2 1.5 1 1-0.5 0.5-0.5-0.5-2.5zM446.5 64zM199 65l-1 3-3 2-1 2 0 6 0.5 2-1.5 2-0.5 2 1 1.5 1 0 1.5-1.5-0.5-3 0.5-1 0.5-1 4 0 0.5 1-1 2 0.5 1 1 0 2-1 0-2 1-2 1.5 2 1.5 0.5 1-1 1-1.5 0-2-2-3 0-2-1-1.5-1-0.5-2 1-1-0.5-1.5-4.5-0.5-0.5-1-0.5zM108.5 68l-1 1-0.5 2 0.5 1.5 1 0.5 1 0 1-1 0-2-1-3-1 0.5zM396.5 68l-0.5 1 0.5 0.5 2 0 1.5-0.5-1-1zM135 69l-1 1 0 2 1.5 2 1 0 1.5-2-0.5-2-1-1.5zM264 70l0 2 0.5 0.5 1 0.5 1.5-2-0.5-1-1-1zM221.5 72l-0.5 2 0.5 1 1 0.5 2-1.5 0-1-2-1.5zM423.5 72l0.5 1 1.5 0.5 1 0 1-0.5 0-1-1-1zM40.5 73l-0.5 1 0.5 2 1 1 1-0.5 1-1.5 0-2-1-1-1 0zM167 74l-1.5 1-0.5 2 1 3-2.5 2-1.5 4 1.5 2 2 1 2-0.5 1-1 1.5-2.5 2.5-2 0.5-1 0.5-3 1 0 1-1 0.5-1-0.5-1-1-1-1 0-1 3.5-1 0-2 1-0.5-3.5-0.5-1.5-1-0.5zM105 75l0 2 0.5 0.5 1 0 0.5-0.5 0.5-2-1-1-1 0zM370.5 76l1 0zM507.5 76l1 0 2 0zM520.5 76l2.5 0zM94.5 77l-3 6 0.5 2 0.5 1 1 0 1 0 2-2 0.5-5-0.5-2-1-0.5zM258.5 78l-1 1 0 1 1 1 1-0.5 0.5-1.5zM481.5 78l-1 1 2 1 2 0 1.5-1-1-1-1.5-0.5zM45.5 81l0.5 1 0.5 0 0.5-1-0.5-1zM222.5 82l0 2 1 1 1-1 0-2-1-1zM211 83l0 2 0.5 1 1 1 1 0 1-2-0.5-2-1.5-1zM444.5 84l-0.5 1 2.5 0.5 1.5-0.5 0.5-1-2-1zM423.5 85l1 0zM449 89l-2 1 0 1 0.5 0.5 3 0 2-1.5-1-1zM447.5 94l-0.5 1 0.5 0.5 1 0 1-0.5-1-1.5zM129 99l-4 2-1 1 0.5 0 10 1 1 0 1-1-0.5-1-4.5-2zM144 101l-1 1 1.5 1 2 0 2-1-2-1.5zM72 107l1.5 0zM146.5 108l1 1 1 0 2-1-2-1zM254 109l2 0zM172 121l1.5 0 1 0zM422.5 122l1 0.5 1-0.5zM69.5 129l-2 1 0 1 1 0 1-1zM66.5 133l1 0zM60.5 135l1.5 0zM41.5 142l1 0zM169.5 16l0.5 0 0 4-0.5 6-0.5-10zM218.5 16l0.5 0-0.5 1.5-0.5-1.5zM228.5 16l2.5 0-0.5 12-1 2-0.5-1-0.5-8zM295.5 16l3.5 0 0.5 6 1-1.5 0-4.5 2.5 0-0.5 9 0 2 0 3.5-3-1-1-1-1 0-1 1-1-0.5 0-4 0.5-4zM346.5 16l3.5 0-0.5 3-1 1-2-0.5 0-0.5-0.5-3zM398.5 16l4 0 0 6 0.5 5-0.5 1-2 2-1-4 0-3-1-3zM39.5 18l1 8-1 11.5zM504.5 18l0.5 1-0.5 1-0.5-1zM194.5 18.5l0.5 3.5-0.5 2-1-0.5 0-1.5 0-2zM47.5 19.5l1 3.5-1 6-1-2 0-4 0-1.5zM218.5 19.5l1 3.5-1 2.5-1-0.5 0-2 0-2zM342.5 19.5l1 6.5-1 2.5-1 0 0-2.5 0-5zM145.5 21l0.5 2-0.5 1zM277.5 20.5l0.5 1.5-0.5 4.5zM179.5 24.5l1 1 1.5 5.5-0.5 6-1 0.5-0.5-1.5 1-2 0-1-2-2-1-2 0.5-3zM128.5 25.5l0.5 2.5-1.5 0-0.5 1-1 4 0.5 0.5 2-0.5 1 2-0.5 12 0 6 0 1-2.5 0.5-3-2.5 0-12-1-3 0.5-1 2.5-2-1-1.5 0-1.5 0.5-3zM125.5 38l-0.5 1 0.5 1 1 1 1-1 0.5-1-1.5-2zM72.5 26.5l1 0 2 0.5 1 5 0 2-1.5 3 0 5-1.5 8-1.5-2 0.5-3-1-3 2-6-0.5-4-1.5-3 0-1zM136.5 28l2-1 0.5 2-0.5 4-1 1.5-1 1-1 0.5-0.5 1-0.5 1.5-1 0.5 0.5-3-0.5-4 1.5-3zM146.5 28l1 0.5 0.5 1.5-1.5 3.5-1-3.5 0-1zM115.5 28.5l1 2 0.5 2.5-0.5 2.5-1 2-0.5-5.5zM220.5 29.5l0 1.5zM277.5 32.5l0.5 1.5-0.5 2.5-1-0.5 0-1 0-1.5zM228.5 33.5l1 0 0 0.5 0.5 5-0.5 1.5-1-0.5-0.5-1zM170.5 36l1.5 4 0 5 0.5 4-1 5-1 1-1.5-1 0-1 1.5-5-1.5-10 0.5-2zM115.5 39.5l0 2zM116.5 42.5l1.5 1.5-0.5 2-1-1.5zM116.5 48.5l1 0.5 0 1 0 1-1 0.5 0-1.5zM65.5 51.5l1 1 1 3.5-2 3.5-1-0.5-0.5-1zM134.5 54l1 3 0 2-1 2-1 0-0.5-2 0-2 0.5-3zM129.5 59l0.5 1 0.5 2-1 1.5-1-3.5zM202.5 73l0.5 1-0.5 0z" fill="#0000f4" stroke="#000" stroke-opacity="0.7" stroke-width="0.55" fill-rule="evenodd"/>
<path d="M153.5 17l1 0 1.5 4-0.5 15 0.5 12 0.5 3.5 2 5 0.5 2.5-0.5 1.5-3 0-1 1.5 2 0.5 2-0.5 1 3.5 3 2 0.5 1.5-1 8-1.5 0.5-1.5 0.5 0.5 2 0 1-3.5 5-0.5 2 1 2 3 4 4.5 2-2 3-0.5 3 2 1.5 2 0 2.5-0.5 1-1-1-4-2-2 4.5-3 2.5-3 2.5-4 2-7.5 1-1 2-1 0.5-0.5 1.5-4 1-1 6 10.5 1 3.5 3 2 1 0 3-1 2 0.5 13 4 5 0.5 6 0 2 1 2 2 3 1 5-1 5-1.5 2.5 1.5-1 1 0.5 1 2.5 0 0.5-1-0.5-1 2-2 0-1-1.5-1-2 0-3 0.5-3-1.5-3-0.5-7 1-1.5-1.5-0.5-2 0-7 0.5-3 1.5-2-1-2 0-2 2-7 0.5-4 0.5-2.5 1 0 0.5 1.5 0 5 1.5 10 1 2 1 1 1 0 1.5-1 1-1 0.5-4.5 1-1 0.5 3.5-0.5 2 0.5 4 2.5 0.5 1-0.5 0.5-1 0-3-1-4-1-13 1-3-0.5-1 0-1-2.5-3 0.5-5-0.5-22 0.5-2 0.5 0 0.5 0 1.5 1 1.5 8 1 1 1-0.5 1 5 0.5 8.5-1 10 1.5 5.5 1 0.5 1.5-6-0.5-7 0-7 1-11 1-3.5 3 2.5 4 7 1 7-1 11 0.5 12-1 8 0.5 3-1 0.5-3 0-2-1.5 2-1.5 1 0 0.5-0.5-0.5-0.5-4-0.5-2-1-0.5 2 0.5 5 2 1-0.5 2 0.5 2 0.5 1 1.5 0.5 3 0 2-1 1.5-2.5 0.5-3 1-1 2 0 3-2 1 0 2-2 3 2 2 0 1 0 2-2 0-4.5 1-1.5 1.5-1 1-2 1-11 1-4-1-4 0.5-7 1-3 1.5-2 1-2-1-6 0-3 0.5-1 2-1.5 2-2.5 0.5 0 0.5 1 0 7-1.5 8 1.5 6.5 1 9 1-0.5 1-2 1-8 1-2.5 1 0 1 1 2.5 6.5 0.5 0.5 2-2 2.5-5.5 1-5 1.5-4 0.5-5 0.5-5 1 2 1.5 4-0.5 5 2 5 0 3-1.5 10 0.5 8 1-0.5 1-5.5 1-1.5 3 1.5 3-1 1.5 1 0.5 3-0.5 7-0.5 1-1 0.5 0-0.5-2-0.5-1.5 0.5 0.5 1 1 0.5 2 0 0.5 0.5-2.5 2-0.5 1 2.5 2 0 5 1 1 1-2 2-6-1-3 0.5-5-1-6 0.5-1.5 1-11.5 0-17 0-1 1 1 0.5 6 0 12-0.5 4 1 4 1 14-0.5 2-1.5 3-0.5 2 1 7 1.5 2 2 0.5 3-0.5 2-1.5 2-0.5 0.5-1-0.5-2-1 0.5-1 0-1.5-1.5 0.5-3 1-1 1 0.5 1 1.5 2-2.5 1-0.5 5-0.5 2 0.5 1-0.5 1.5-1.5-1.5-2-1-0.5-5.5 0.5-2-1-1.5-2.5-2 1 0-0.5 0.5-13 0.5-1.5 1 1.5 1 10 0 0.5 1-0.5 1.5-4 0-8 1.5-4-0.5-3 0.5-1.5 2 8.5-0.5 5-1 3 0.5 2 1 0.5 3-0.5 1-1 3 5 2 0.5 1.5-0.5 0.5-1.5 1 0 1.5 3.5 0 3-0.5 2-1 0.5-4 0.5-1 1 0 1 2 0.5 4 0.5 2 1.5 1-0.5 2-2 2.5-3 0-1-3-2-0.5-2 1.5-34 0.5-4.5 1-1.5 1.5 6 0 7 2.5 9 0 8-1 3-2 2 0.5 1 0 2 1.5 1.5 2 0 1 0 1.5-2.5 1.5 0 2 3 1-0.5 1.5-1.5-0.5-2 0-2 0-5 1-6 0.5-20 0.5-1.5 1-0.5 0.5 2 0 5 0.5 2.5 3 1.5 1 2 0.5 18 0.5 2 1 2 1-2 1 0 2 2 1 2.5 1-0.5 1-2.5 1 0.5 4 4-0.5 1-2.5 1 0 1 2 1 0.5 1 0 3-0.5 0.5-5 0.5-1 1 0 1 1 1 3 0.5 3 0 1.5-0.5 1.5-2 1 1 1-1 2-3 0-3-1-4 1-3 2-1.5 1-1.5 1.5-8 0-4 0.5-2 1-0.5 0.5 1.5 0 5 1.5 5-0.5 2 0.5 1 1-0.5 0.5-0.5-1-2 0.5-4-0.5-8 1.5-5.5 2 2.5 3 2 1 2 1-1 1-2.5 1 0 3 3 1-2 1-10 1-1 1 2.5 1.5 8 2.5 2.5 1 4.5 2 1.5 0.5 1.5 1 4-0.5 3-1 1.5-1-0.5-1 1-1 2.5-4 2.5-3-2.5-2 0-2-1-1 0.5-2 0-1.5 2 1.5 1 2 0.5 1 1 2.5-0.5 2.5 1.5 3.5 1.5 1 2 2.5 1 0.5 1 1.5 8 1 0.5 1-1.5 2 1.5 1 0 0.5 0.5 0 1-0.5 1-0.5 1 1.5 1.5 2 0.5 2-0.5 1-0.5 1-1-1-3 0.5-1 0.5-0.5 2 0.5 2-2 0-1-2-3.5-1 1-1.5 0.5-2.5-2 0-1 3-1.5 1.5 0.5 0.5 1.5 2-4 1-0.5 2 1.5 2-1 3 0.5 3-1.5 2 1 0.5-0.5 0.5-1-0.5-5 1.5-11 0-1 1 0.5 1 3 1.5-8.5 0.5-2.5 1-1.5 2 3 1.5 1 0 22 1.5 4.5 1-1.5 0.5-5-0.5-13 0.5-11-0.5-3-1 0.5-1.5-3.5 0-6 1-4-0.5-4 3.5 0-1 7 1 4 1.5 3.5 1-1 1-3.5 1-0.5 2 1.5 1-1 1 0 2 2 1 6 1 3 1 1.5 1.5-3.5 0.5-3 1 0 2 13 1-1 1-3.5 1-0.5 0 2 2 6-0.5 2-1.5 1.5-3-1 0 2.5 3-0.5 2 2 1-1 0.5-1.5-0.5-3-0.5-1 0.5-0.5 1.5-5.5 0-4 1-5 2.5-17 3 0 0 3 1.5 4 0.5 9 1 4 1-1 1-3 1-0.5 1 0.5 2 4 1-1.5 1-2.5 0.5-6-1-10 1.5 0 0 5 1 1.5 1-6.5 1.5 0 0.5 3 0.5 9-0.5 6 1 5 1 0.5 0.5-3.5 0.5-13 1-2 1 0 1 1 0 1 2 17 0 85-1-1-1.5 1 1.5 0.5 1-0.5 0 23-498.5 0 1.5-1-2-1.5-2 0.5 0-2.5 2 0.5 2-0.5 1.5-0.5 0-1-1-1-1.5-0.5-3 0.5 0-61.5 4-0.5 1.5 4 1.5 0.5 1.5-1.5 0-2-1.5-2.5-1-0.5 0-1 1-1 1 0.5 1-1 1-2.5-1-3.5-1 0-2 3.5-3-3.5-1-0.5-2 0.5 0-18.5 2 4 2-3.5 3 0.5 2-2.5 2 2 1-0.5 1-2.5 1-0.5 1 0 1 1 1.5 2 0 3-0.5 4.5-2 5.5 3 10 1 1.5 1 0 2-6 1-0.5 1.5 2 0.5 1.5 1-3.5 1-1.5 1 0 1 1.5 2-1.5 1 0.5 2 2 1-2 1-0.5 1 0.5 4 5.5 3 6.5-2 1.5-7-1.5-1-1 0.5-2 0.5-2-1-2-3 2-2-1.5 0 2.5-0.5 1-2 1-0.5 1 2 1 2 0 1-1-1-3 1-1 3 3-1.5 4 0 1 0.5 1 5.5 3 1.5 3 6.5 2 4.5 3 15-0.5 1-0.5 0.5-1-0.5-1-7.5-6 0-3 1-3 0.5-1 2-1 3 2 2-0.5 3.5-3.5 1.5-3.5 2-0.5 1-1 1 2 1 4 1 1 1-1 0.5-1 0-7 0.5-2 1 1 0.5 1-0.5 5 1 4 1 1 4 1 4-1 3 0.5 2-1 2-1.5 2-1 1.5-2 0.5-2 1-0.5 1 0.5-1 2 0.5 1 1.5 1 1 0 1.5-1 0.5-1-1.5-2 0.5-1 2.5-3 1.5-5-0.5-5 0-5 1.5-26 0-5zM255 40l0 8-1.5 4 0.5 1 1.5 1.5 1.5-1.5 0.5-1-1.5-4-0.5-8.5zM420.5 49l-1 0-0.5 2 1 2 0.5 5 0.5-7zM488 52l-0.5 1 1 0.5 1 0 1.5-0.5-0.5-1-1-0.5zM306.5 53l0 1 1 0.5 1.5-0.5 0.5-1-2-1zM415 55l1 0-0.5-0.5zM300 57l-0.5 1 1 0.5 1 0 1.5-0.5-0.5-1-1-0.5-1 0zM388.5 60l-1 0.5-1.5 3.5-0.5 2.5-0.5-0.5 0.5-1-0.5-1-1.5-1-3 0-3.5 1-0.5 1 1 1.5 1 0.5-0.5 1 1 2-0.5 1-2 0-1 1-2 0.5-3-2-2 0-5 0.5-2 1-5.5 1-1.5 1 5 1.5 2.5 0.5 0.5 1-0.5 1-2.5 1.5-0.5 1.5 1 2 2 1 2.5 0.5 3-1 3-2 3 1.5 2-0.5 1-0.5 0-2 1-2.5 1-0.5 1.5 1-1 2 1 1 1.5 0 1-1-2-2 0.5-1 2.5-3-1.5-2 0-1 3.5-1 1 0.5 1 3.5 1.5-1 1.5-6.5 3-1 1.5-1.5-0.5-1.5-1-1-1 0.5-2 0-1.5-1-0.5-1.5zM414.5 60l0.5 0zM304 61l-1.5 1 1 1 2.5 0 1.5-1-1-1.5zM474 61l-0.5 1 1 1.5 1 0 1-0.5 0.5-1-1-1-1.5-0.5zM313.5 63l2 1 2.5-1-1.5-1-1 0-2 0.5zM248.5 64l-1 1 1 1 2 0 0.5-1-0.5-1.5-1 0zM297 65l0 1 1.5 0.5 1.5-0.5 0.5-1-2-0.5zM489 65l-1 1 1.5 1.5 1 0 1.5-1.5-1.5-1.5zM418.5 68l-2 0.5-1 1.5 2 1.5 3 0 3 3 3 0.5 1-0.5 1-1.5-0.5-2-1.5-2-2 1-3-0.5-2-1.5zM533 70l0.5 1 2 0 2 0 0.5-1-2.5-0.5zM302.5 71l0 1 1 1 2 0 1-1-0.5-1-1.5-0.5-1 0zM314 71l-1 1 1.5 1 1.5 0 1-1 0-1-1.5-0.5zM482 71l0.5 1.5 1 0.5 2 0 2.5-1-0.5-1-2-1-3 0zM490.5 71l0 1 1 0zM492.5 71l-1 1 2 1.5 1 0 2-0.5 2 0.5 0-3-2 0-2-0.5zM346 72l-1 1 0 1 1.5 1 3 0 2-1 0-1-3-1.5-1 0zM506.5 75l-1 1 1 1 2 0.5 5-0.5 8 0.5 4-0.5 1 0 0.5-1-1.5-1-3-0.5-9 0.5-5-0.5zM278.5 77l1 0.5 2-0.5-2-0.5zM420 77l0.5 1 2 0.5 1-0.5 0-1-1-0.5zM481 77l-2 1-0.5 1 1 1 2 1 4-0.5 2-0.5 0.5-1-0.5-1-3-2-2 0zM342.5 78l0 1 1.5 1-5 4 1 3 2.5 0.5 2.5-0.5 1-2 2-2 0-1-2-2-1-2-1.5-0.5zM141.5 79l-2.5 1 0 1 5.5 2 2.5-1 0-1-1.5-1.5-2-0.5zM526.5 80l-1 1 1.5 1 1.5 0 3.5 0 1.5-1-2-1zM133.5 81l-0.5 1 1.5 0.5 2.5-0.5 0.5-1-2-1-1 0zM423 81l-2 4 1.5 1 3 0 1-1 1-2 0-1-0.5-1-2.5-0.5zM435 82l0.5 0.5 1 0.5 1.5-1-1.5-0.5zM446.5 82l-3 1.5-1 1.5 2 1.5 3 0.5-0.5 1-2.5 2 0 1 0.5 4 1.5 1.5 3 0 2.5-1.5 2.5-3.5 0.5-1.5-0.5-1.5-2-1-4-0.5 1-0.5 1-1.5 0-2-2-1.5zM247 83l1.5 0.5 1.5-0.5-1.5-0.5zM331 83l0.5 1 1 0.5 2.5-0.5 0-1-2.5-1zM352.5 85l0 1 1 0.5 3-0.5 0-1-1-0.5-2 0zM381.5 85l-0.5 1 0.5 1 1 0.5 3 0.5 3-1-2-2-2-1-2 0.5zM469 85l2.5 1 2-0.5 1.5-0.5-2.5-1zM187 86l1.5 0-1-1zM321.5 86l-2 1 2 1 2 0 3-1-2-1zM429 89l0.5 1 1 0 2 0 0.5-1-1.5-1zM192 91l-1.5 1 1 1 2 0 1.5-1-1.5-1zM423.5 91l-0.5 1 1.5 1 1.5 0 1.5-1-1-1.5-2 0zM504.5 91l2 1 1 0 2 0 1.5-1-3.5-1zM113.5 93l-0.5 1 1.5 1.5 2 0 2-1.5-0.5-1-1.5-0.5zM361.5 93l1 0.5 1-0.5zM484.5 94l2 1 1 0 2.5 0 1.5-1-2-1-2 0zM151.5 95l0 1 2 1 3-1 0.5-1-2.5-1-2 0zM364.5 95l2.5 0-1.5-0.5zM205 96l-0.5 1 3 0.5 5-0.5-1.5-1-1.5-0.5zM107.5 98l-1 1 0 1 2 1 3 0.5 2-0.5 1-1 0-1-3-1.5-2-0.5zM128.5 98l-8 2-1 1 0 1 3 2 8 0.5 5 2 3 0 3-2 6-0.5 2.5-1 0.5-1 0-1-1-1-3-1.5-3 0-5 0.5-7-1zM215.5 98l2 0.5 1.5-0.5-1.5-1-1 0zM69 99l-1 1 2.5 2 0 1-1 0.5-4 1-2 1.5-6 6 0.5 2 1.5 1 2 0.5 3 0 3-2 2-0.5 6 0.5 3.5-0.5 1.5-1 4 0 2.5-1 0.5-4 1.5-2 3.5-2 4 0.5 2-0.5 1.5-1-2.5-1.5-4 0.5-4-1-3 0-7 1-9-2zM224 99l1.5 0-1-1zM396.5 99l-1.5 1 1 1 1.5 0.5 5-0.5 2-1-4-1.5zM194.5 100l-0.5 1 0.5 0 2 0.5 1-0.5 0-1-1-0.5zM53 101l-1.5 1 2 1 2-0.5 0.5-0.5-1.5-1zM172.5 101l-1 1 1 1 1 0.5 2-0.5 1.5-1-1.5-1.5zM280.5 101l1.5 1 2.5 0 2.5 0 1-1-3.5-1-2 0zM435.5 101l0.5 0zM300.5 102l-2.5 1 1.5 1 4 0 2-1-2-1zM346 102l1.5 0.5 1.5-0.5-1.5-1zM374 102l0 2 1 1 1.5 0 1.5 0 0-1-2-2-1.5-0.5zM332 104l1.5 0.5 2 0.5 3.5-1-3.5-1zM453.5 104l1 0.5 1.5-0.5-1.5-0.5zM448.5 105l-1 1 0.5 1 1.5 0 1.5-1-0.5-1zM494 105l2.5 1 2 0 1.5-1-3.5-1zM221.5 106l-2 1 2 1 3 0 2-1-2-1zM358.5 106l1 0.5 1.5-0.5zM380.5 106l1 1 1-0.5 0.5-0.5-1.5-0.5zM145.5 107l-0.5 1 0.5 1 1 0.5 3 0 1.5-0.5 0.5-1-0.5-1-1.5-1-2 0zM363 107l1.5 1 1 0 1-1-2-1zM251 108l-0.5 1 1.5 1 1.5 0.5 4-0.5 2-1-1-1-3-1-3 0.5zM162.5 109l-1 1 1 0.5 2 0 1.5-0.5-1.5-1.5zM374 110l-4.5 1.5-3-1.5-3 0.5-2 1.5 0 1 3 1 5-1 5 1.5 5-1.5 5 1 2-0.5 1-0.5 0.5-1-0.5-1-2-1-2 0-4 1-3-1zM91.5 111l-0.5 1 1.5 1 2 0.5 5 0.5 2-1-0.5-1-0.5-0.5-4-1-3-0.5zM140.5 111l-0.5 1 1.5 1 2 0 1.5-1 0-1-1.5-0.5zM514.5 111l-2 1 1 1 3 0.5 6 0 2.5-0.5 1-1-0.5-1-2-1zM355.5 112l-1 1 1 0.5 2 0 2-0.5-2-1.5zM425.5 112l0 1 1 0.5 5-0.5 4 1 3.5 0 1.5-1-4-1-6 0.5-0.5-0.5-2.5-1zM343 113l-1 1 3.5 2 1 1.5 2 0.5 2.5-1 0-3-1.5-1-2-0.5zM442 113l0.5 1 1 0.5 2 0 1.5-0.5 0-1-1.5-1zM82 114l-1 1 0 1 0.5 0.5 2 0 2-0.5 0-1-1-1.5-1-0.5zM282 115l-2 1 2.5 1 4 0 1.5-1-2.5-1zM443 117l-1.5 1 1 0.5 1 0 1.5-0.5-1-1zM383.5 119l1 0.5 1.5-0.5-1.5-1zM170.5 120l-8 1-2 1 1.5 1 2.5 0 10-0.5 2-1 1-0.5-1-0.5-2-1zM211 120l2.5 1 2-0.5 1.5-0.5-3.5-1zM433 120l0 1 1.5 0 1 0 0.5-1-1.5-0.5zM348.5 121l-2 1 2 1 3 0 2-1-2-1zM421 121l-2.5 0.5-2-0.5-1 1 1 0.5 2 0 4 1.5 3-0.5 1.5-0.5 1-1-1-1-1.5-0.5-2 0zM514.5 121l1 1 1 0 0.5-1-1.5-0.5zM517 125l3.5 1 4-1-5-1zM68.5 128l-3 1-3 3.5-3 1-1 0.5 0 1 1 0.5 2 0.5 8.5-2 2.5-4 0-1-2-1zM364 129l-3.5 1 2.5 1 5 0 3-1-3.5-1zM428 129l-4.5 2-0.5 1 1.5 1 1 0 3-2 2-0.5 0.5-0.5-0.5-1zM232 130l3.5 1 2 0 2.5-1-4.5-1zM414 131l-1 1 1.5 1 1.5 0 1.5-1-1-1zM372 135l1.5 0.5 1.5-0.5-1.5-1zM175 137l-1 1 0 1 0.5 1 2 1 5-0.5 10 0.5 2 0 1.5-1-4.5-1-9 0.5-2-1-2-1.5zM264.5 16.5l1-0.5 1 1 1 3 0 12 1.5 8 0 10-0.5 0-0.5 0-0.5-1 1-6-1-0.5-1 1 0 5.5-2 10 0 2 3 5 0.5 1-1.5 0.5-3-1.5-1-2 0.5-3-1.5-15 0-6 1-8-0.5-12 0.5-2.5zM317.5 16l2 0-0.5 3-1.5 1-0.5-4zM365.5 16l0 1zM487.5 16l2 0-1 3-1-2zM493.5 16l2 0-1 6zM522.5 16l2 0 0 6-1 1.5-1-0.5zM536.5 16l2 0-1 0.5zM185.5 18l3 3 0 1 1 18-0.5 14-2.5 1-1-1-1-21 0-12 0.5-2zM453.5 20l1 0.5 1.5 3.5 0 4 1.5 4 1.5 8-0.5 9 0.5 10-0.5 2-1 0.5-1-1-0.5-5.5-2.5-3.5-0.5-2.5-0.5-18 0-7zM465.5 32l1-1 1 1 2 6-0.5 20-1.5 2-4-0.5-2 1-0.5-0.5-0.5-2-0.5-18 2.5-7 1 0 1 1.5zM347.5 34.5l1.5 2.5 0.5 7 1 2.5 1 0 1-2 1-0.5 1 2 2.5 2-0.5 1-4 0.5-1-0.5-2 1.5-1-1-2-0.5-0.5-1 0-6zM192.5 36.5l2 1.5 1.5 3-2.5 7-1 5-1 1.5-1-13.5 0.5-3 0.5-1zM58.5 37.5l1 0.5 1 2-0.5 5-0.5 3.5-1-3.5-0.5-6zM270.5 38l0.5 2-0.5 2-1-2zM198.5 38.5l0 6.5 1 5.5 1 10.5-0.5 1-2.5 2-1 2.5-1 0-1-1-1 0.5-1 2-1 0.5-1-1.5 1-10 1 2 1 3.5 1-1 0.5-3.5 0.5-9 1.5-4 0.5-5zM371.5 39l1 1 2.5 5 0 3-0.5 1-1 0.5-1-0.5-0.5-1zM214.5 40.5l1 2 0.5 4.5-0.5 2-1 1-1 0-0.5-1-0.5-2 0.5-3zM125.5 42.5l1.5 0.5 0.5 2-1 5-1-0.5-0.5-2.5 0-3zM448.5 44.5l1 1.5 0.5 7 2 7-1 1-1.5 0.5-1.5-0.5-0.5-2zM205.5 48.5l1 0 0.5 0.5 2.5 5.5 2 0.5 0.5 1 0.5 1.5 0.5-2.5 1.5-1.5 2 0 1-0.5 1 0.5 1 3.5 0.5 11-1.5 5-1 1.5-1-1.5 0-9-1-3.5-1-0.5-1 1-1.5 4 1.5 3 0 4-1 2-2-1-3-5-4-1-1-2-1.5-4 2.5-9 1-2.5zM403.5 56.5l1 1.5-1 1-1-1zM87.5 66.5l1-0.5 0.5 1 1.5 10-0.5 3-1.5 2-4-2-1-1 3-7zM270.5 66.5l1 0.5 0 1-1 1-1-1 0.5-1zM254.5 76.5l1 0 0 1.5-1.5 0 0-1zM365.5 76.5l1 0 1.5 1.5 0 1-1.5-0.5-1-0.5zM40 148l-0.5-0.5z" fill="#ffff00" stroke="#000" stroke-opacity="0.7" stroke-width="0.55" fill-rule="evenodd"/>
<path d="M290.5 16.5l0.5 1.5 0 7-1.5 7 1.5 9 0.5 14 1.5 0 2-6 0.5-8 1-4.5 1 0 1 1.5 1 5 0 8 0.5 4-1 3 1.5 2 1 0-0.5 3-0.5 0.5-4 1-0.5 0.5 0 1 0.5 0.5 2 0 2 0 4-2.5 2 0 2-1 1-1-3-3-2 0.5-0.5-0.5 0-1 0-1-3-2 0.5-7 0.5-3 3.5-6.5 2-2 0.5-2.5-0.5-3 1.5-5 0.5-7 1 0.5 1 2.5 0 4 1 6-1 14 0.5 7 0.5 2.5 1 0.5 1-7 1-2 3 2 3-2 1 1 0.5 1-0.5 7-1 1-3 0-1.5 1 0 1 1.5 1 0.5 1-1.5 0.5-4 0-1 1.5 1 1 2 0.5 3-0.5 1 1 0.5 2 0 4 1 2 1.5 1 2-0.5 2 2 4 1 2-0.5 4-1.5 1 0 1-0.5 1-2-0.5-3 0.5-2.5 1-0.5 1 0 4-1 1.5 1 0.5 2-1 2-3 2-0.5 1 2.5 3-4.5 2 0 1 1 1-0.5 1-4 2.5-1 0.5 0-1-2-1-3 0-1.5 1 0 1 0.5 0.5 3 0.5 3-1 2 3 1 1 3 0.5 3-1 3-2 1-0.5 3 2 2 0 5-1.5 6 0 10-1 4-2 3 0.5 0.5-1 0.5-0.5 1-1.5-1-2 0.5-1 1.5-1 2 0.5 1-0.5 3-5 1-1 6.5 1 1.5 0.5 2-0.5 3 0 1-0.5 2-7.5 0-2-1-2 0-2 1-1 2-0.5 1-1.5 1-6.5 1 0.5 1 5-1 2 1 0.5 2 0 0.5-0.5 0-2 0.5-1 1 0 1 8 1 1 1-1.5 3 0.5 1 0.5 0.5 1.5 0 5-0.5 1.5-1 0.5-3-1-2-2.5-1 1.5-4 2 0 1 4 3.5 2 0 2 1.5-4 2 0.5 1 3 1 0.5 1-2.5 4-0.5 1 1 1 2 0.5 3 0 2-1.5 1-2 0-1-1-2-1-0.5-2.5-0.5 0.5-2-0.5-1 0.5-0.5 2 0 2.5-2.5-2-6 0-2 1.5-4 2 1.5 3 1 2 2 3 1.5 1 8 1 3 1 0 1 0 3 3-3.5 3 0 1 2.5 3-2 2-0.5 2 2.5 4 2 1 2 0.5 2-0.5 3-1 2-2 1-2 0-3-2.5-4 0-1 1.5-3.5 0.5-4.5 1.5-4-1.5-4 0.5-3 1-0.5 2 0.5 2-0.5 3 0.5 3-1 2 0.5 1-0.5 1-2-0.5-4 0.5-5.5 2 2.5 1 0 1-15 1-2.5 2 2.5 1 4.5 0 14.5-1 2-1 0-2-2-1 0-2.5 3 2.5 2.5 1 0.5 2-1.5 1 0 1 1.5 1 3 0.5 4 1 3-0.5 1-3.5 2-0.5 1 1 1 4 1.5 4-0.5 2-1 1-1-0.5-1-3.5-3 0.5-1 2.5-0.5 2 0.5 1 0 3 0.5 2-0.5 2 2 1-1 0-2-1-4-2 1-2-0.5-2 0.5-1-0.5 0-1.5 1-2-2-2-3.5 1-0.5 1 0.5 1 1.5 1 0.5 1-0.5 0.5-4-1-0.5-0.5-1-20 0-5 1.5-10 2 2.5 1.5-7.5 0.5-1 1 3 1 1 1-2 1 0.5 1.5 4.5 2 4 1.5 2 2-4.5 1-0.5 2 12 2-3.5 1 0 1.5 4.5-0.5 1.5-1 1-1 0-2-1.5-0.5 3 0 1 0.5 1 2-0.5 1.5 0.5 1 2 0.5 3.5 2-6.5-0.5-5 2-9 1.5-3.5 1-16 1-1.5 1 0.5 1.5 4.5 1 10 1.5 6 2-4.5 1-1 1 0.5 2 3.5 1-1.5 3-10 1-7 1-2.5 0.5 2.5 0.5 9-0.5 6 1.5 10 1 0 1.5-10 0.5-10 0-1 1-0.5 3 21.5 0 79.5-2 0-1 0.5-0.5 1 1.5 0.5 2 0 0 22.5-497 0 1-1-1-2 2-1.5 1-1.5-0.5-1-1.5-1-5 0 0-27 7 0 16 3 8-1.5 7 0 1 0 2 1.5 2 1 3-0.5 2-2 2-1 10 1 1.5-0.5 1.5-1 0-1-3-1.5-7-1.5-1-1 0-1 2-1.5 5-1 4-2 2-0.5 18 2.5 7 1 6 2 3 0 4-2 2 0.5-1 3.5-5 1-1 0.5-0.5 1 3.5 1.5 3 0 2-1 1-2 3-0.5 2.5-1 0.5-1-0.5-1-3-2 3-2 2.5-3 2-1 1 0 3 4 3 1.5 3 0 4-1 4 0.5 3-1 0.5-1-0.5-1-2-1-5 0-1.5-3 0.5-1 5-4 1.5-2 2-4 1-4 4.5-7.5 1 0.5 1 1.5 3 6.5-1 1-1.5 1-0.5 1 2 0.5 3 0 4 2 3 0 1.5 0.5 0.5 1-1 1-4-1-4 0.5-1 1.5 0.5 1 2.5 1 6 1.5 3 1.5 4 1 8 0 4 1 1.5 0 1.5-1-2-1.5-7.5-2.5 2.5-0.5 7 0 10 2 9-1 2 1.5 2 0.5 2.5-0.5 1-2 1.5-2 0-1.5-2-1.5-4-1.5-6.5-3.5 0-2-1.5-1.5-2 1-0.5 0.5 0.5 2-0.5 1-3.5 2.5-1.5-0.5-0.5-3 0-7 0.5-2 1.5-1-1.5-2 0-2 2.5-7.5 1 1.5 1 5 0.5 5 2.5 4.5 2-0.5 1 0 5 1.5 1 0 1.5-2.5 0.5-2-1-4-2-14 0-1.5 2.5-1.5 0.5-2-1-1-2 0-1-0.5-0.5-1.5-0.5-27 0.5-1 0.5-0.5 1 1.5 2 11 1 1 1 0 1 5 0 6-1 8 2 9 0 1-1.5 2 2 3-1 7 1 5-1 1-2 1-1 1 1.5 1.5 7 1.5 5 0 2-2 2-5 2-0.5 2-2 2 0 2-2 5 1 1 0.5 0 1 1.5 1 1.5 0 2 0 0.5-1-0.5-1-4 0-0.5-1 3.5-4.5 1 0 1-2 1-10.5 0-6 0.5-3-1-5 0.5-6 1-3 2 1 1-2.5 0.5-3.5-1.5-8.5 0.5-0.5 1.5-1.5zM307 51l-1.5 2 1 3 3-1.5 1-0.5 0-1-3-2.5zM487 52l-0.5 1 2 1.5 2-0.5 1-1-0.5-1-1.5-1zM413.5 60l1 1 1.5 0 0.5-1-2-0.5zM537 69l-4.5 0.5-0.5 1.5 0.5 0.5 1 0 5 0.5 0.5-2-0.5-1zM302.5 70l-0.5 2 0.5 1 1 0.5 3-0.5 1.5-1-1.5-1.5-3-1zM314 70l-1.5 1-0.5 1 1.5 1.5 2 0.5 3-2-0.5-1-1.5-1.5-1 0zM505.5 75l-1 1 1 1 3 0.5 5 0 12 0.5 2-0.5 1-1.5-2-1.5-4 0-10 0-4-0.5zM525 80l-0.5 1 1 1 3 0.5 4-0.5 2-1-1-1-2-0.5-5-0.5zM434 82l0.5 1 2 0.5 2-0.5 0.5-1-2.5-1zM380 84l-1.5 2-0.5 1 2 1 6.5 0.5 2.5-0.5 1-1-3.5-3-2-1-3 0zM470 84l-2 1 1.5 1 1 0 4 0 2-1-3-1zM319.5 86l-1 1 1 1 2 0.5 4-0.5 3-1-1-1-2-0.5-3 0zM429.5 88l-2 1-5 1.5-0.5 1.5 1.5 1.5 2 0 2-0.5 2-2 4-1 1-1-1.5-1-2.5-0.5zM505.5 90l-2 1 1 1 2 0.5 4-0.5 2-1-3-1.5zM253 91l0 1 0.5 0.5 2 0 1-0.5 0-1-1-0.5zM360 93l0.5 1 4 2 2 0 1.5-1-0.5-1-4-2-2 0zM485.5 93l-2 1 1 1 2 0.5 4-0.5 2-1-3-1.5zM222.5 98l0 1 1 0.5 2 0 1-0.5 0-1-1-0.5-2 0zM195.5 99l-2 1 0 1 2 1 3-1 0-1-1-1zM393.5 99l-0.5 1 0.5 1 3 1 6-0.5 2-0.5 1-1-2-1-5-1-3 0zM281.5 100l-2 1 1 1 2 0.5 5-0.5 1 0 0.5-1-3.5-1.5zM346 101l-1 1 1.5 1 2 0 1.5-1-1.5-1zM372.5 101l-0.5 1 0 1 1.5 2 1 0.5 3 0.5 3 2 2 0 1.5-1 0-1-4.5-2-2-3-1-0.5-2-0.5zM434 101l0.5 1 1 0 1 0 0.5-1-1.5-0.5zM298 102l-1.5 1 1.5 1 2.5 0.5 4-0.5 2-1-3-1.5zM332.5 103l-1.5 1 1.5 1 1 0 4 0 3-1-3-1.5zM454 103l-2.5 1-4 0.5-1 1.5 0.5 1 2.5 0.5 3-2.5 3.5 0 0.5-1-1-1zM494.5 104l-1.5 1 1 1 1.5 0.5 4-0.5 2-1-3-1zM219.5 106l-1 1 1 1 2 0.5 4-0.5 2.5-1-1-1-2.5-0.5zM357.5 106l1 1 3 0.5 2 1.5-3 1.5-5 0.5-3 2-5-0.5-4 0-1.5 0.5-0.5 1 3 2 1 1.5 2 1 4 0 3-2.5 5-1 15 0.5 11-1 2-0.5 1.5-1 0-1 0-1-1.5-1-3-1-9 0-5 0.5-2-0.5-0.5 0 0-2-1-1-1.5-0.5-3 0-3-0.5zM251.5 107l-2 1 0 1 2 1.5 6 0 2-0.5 1-1-1-1-3-1.5-3 0zM161 109l-0.5 1 2 1 3 0 1.5-1-0.5-1-2-1-2 0zM522.5 109l-3 1-6 0.5-2.5 1.5 1 1 2.5 0.5 7 1 4-0.5 2-1 0.5-1-0.5-1.5-2-1.5zM426.5 111l-2 1 0.5 1 2.5 1 7 1 7 0 2 0.5 3-1 1-0.5 0-1.5-2-0.5-14-0.5zM280.5 115l-1.5 1 1 1 2.5 0.5 4 0 1.5-0.5 1-1-1.5-1-2-0.5zM441 117l-0.5 1 1 1 1 0 2 0 1.5-1-1.5-1.5-1-0.5-2 0.5zM383 118l-0.5 1 1 0.5 2 0 1-0.5-1-1.5-2 0zM211.5 119l-1.5 1 1 1 1.5 0 4 0 1.5-1-2.5-1zM433.5 119l-2.5 1 0 1 0.5 0.5 3 0.5 2.5-1 0-1-0.5-0.5zM168 120l-7.5 1-1 1 1 1 3 0.5 12-1 2-0.5 0.5-1-1-1-2.5-0.5zM348.5 120l-3 1-1 1 2 1 6 0.5 2-0.5 1.5-1-0.5-1-2-1.5-3-0.5zM422 120l-6.5 0.5-1.5 1.5 1.5 1 6 1.5 5-0.5 2.5-1 0.5-1 0-1-4-1.5zM514.5 120l-1 1 0 0.5 2 1.5-0.5 2 1.5 1 6 0 4-1-3.5-1-6-1 1-1 0-1-0.5-0.5-2-1zM67 128l-2.5 1-6 4-1 1 0 1 2 1 2 0.5 7-1 4-1.5 1.5-2-0.5-3-3-1.5zM233.5 129l-2.5 1 2.5 1 5 0 2.5-1-2.5-1zM359.5 129l-2 1 3 1 12 0.5 2.5-0.5 0-1-2.5-1-8-0.5zM426.5 129l-4 1.5-1 1.5 1 1 3 0.5 5.5-2.5 1-1-0.5-1.5-2-0.5zM413 131l-0.5 1 0.5 1 1.5 0.5 3-0.5 1-1-0.5-1-1.5-0.5-2-0.5zM372.5 134l-1 1 1 1 2 0 1.5-1-1.5-1.5-1-0.5zM174 137l-1 1 0 2 0.5 1 2 1 7-1 11 0.5 3-0.5 0.5-1-1.5-1-3-0.5-11 0-3-1.5-2-0.5zM317.5 16l1.5 0-0.5 2-1-0.5zM481.5 16l2 0 0 1-1 5 0.5 6-1.5 3.5-1-1.5 0-4 0-3 1-3-0.5-4zM494.5 16l0 2.5-0.5-2.5zM153.5 17.5l1 0.5 1 3-0.5 15 1 14 1 8 0 1-1 1-2.5 1-1 0-1-2-0.5-7 2-25-0.5-6zM264.5 17.5l1 0 0.5 0.5 1 3 0 9 0 7-1 7-1 8-1.5 4.5-1-3.5 0-6 0-8 0.5-8-0.5-9 0.5-2zM185.5 19l2 2 0.5 1 0.5 16-0.5 13-1 3-0.5 0-1-7-1-15 0.5-11zM365.5 20l1 4 0 6 0.5 4 1.5 6 0 7-1 4-2 1.5-1 0.5-1-1 0-1 0-15 1-14 0-1zM380.5 20.5l1-0.5 0.5 1-0.5 5 1 4 2 0 1 1 0.5 2 0.5 17 1 7-0.5 4-1.5 1.5-7 0-1.5-2.5 2.5-4-0.5-2 0-2-0.5-4 1-6zM453.5 21l1 0.5 1 2.5 0.5 4 2.5 11-1 14.5-1 0-2-2.5-1-2-1-18 0.5-7zM325.5 24.5l0.5 2.5-0.5 3zM432.5 25l2 12 1 1.5 1 0 1 2 0.5 8.5-0.5 6-1 1-3 1-3-2-2 0.5-1-1-1 0-1 1-2-0.5-1 0.5-1-1.5-1-10.5-1-1 0 0.5-1 2 0 4-1 0.5 0-0.5 0-4-1-6 0-3 1-2.5 2 2 2 0.5 1.5 2 0.5 4 2-5.5 1 0 3 3 1-1.5 0.5-1 0.5-10zM252.5 27l3 1.5 1.5 3.5 0.5 1 1 0.5 1 2.5 0.5 4 0 5-0.5 3.5-1 2.5-1-1-1-2-0.5-12-0.5-1.5-1-0.5-0.5 4 0.5 10-0.5 2-1.5 2-1-1-0.5-4 0-5 0.5-11zM466.5 33l2 4 0 2-1 18-1 1.5-3-0.5-1 0.5-1 0-1-14.5 0.5-5 1.5-4 1 0 1 1.5zM343.5 35l0 1.5zM325.5 36.5l0.5 0.5 0 4 1 3 0.5 5 0 4-1 3-1-2-0.5-5zM343.5 38l1 4 0 2-1 5-1 1 0-8zM347.5 39l0.5 2-0.5 5.5-0.5-3.5zM192.5 39l0.5 2-0.5 3-1-1.5 0-1.5zM337.5 44l0.5 3-0.5 6.5zM439.5 45l1-0.5 0.5 1.5 0 3-0.5 3-1-3zM373.5 45.5l1 1.5-1 1-0.5-1zM53.5 48.5l1.5 1.5 0.5 3-1 3-1 1-1-1.5 0-3.5 0-2zM205.5 50.5l1 0.5 2 4.5 2.5 3.5 0.5 3-0.5 3 0.5 2 0 1-1 1-3-2.5-3.5-0.5-1.5-3 0-2 0.5-4 1.5-5zM342.5 50l0 1 1 0.5 1 2.5 2-0.5 1 1 1 0 1-0.5 2 3 1 0.5 4-0.5 1 0 1 3-1 2.5-1 0.5-5 0-0.5 2 0.5 1 2 1 3 0 2 1 0.5 2 0 1-1 1-3.5 0.5-2 0-3-1.5-1.5-2 0-1 1.5-4 2-2-3-3-1-0.5-1 0.5-1 0-3-0.5-0.5-0.5-0.5-2zM198.5 51.5l0.5 7.5-0.5 2-0.5-1 0-1 0-5zM43.5 52.5l1-0.5 1 1 2 6 2-3 1.5 3-0.5 6-1 1-1-2-1 0-2 4.5-1 0-2-2.5-1-0.5-2 0.5 0-11.5 2 2 1-1zM252.5 52l3 4 2-2.5 1-0.5 0.5 1 0.5 10-1 5-1 0.5-3 0.5-2-1-0.5-1-1-8 0.5-6.5zM364.5 53l1 0.5 0.5 2.5 3 3 1.5 2 1-0.5 0.5-2.5 1.5-2 1 0.5 1 1.5 1 3-1 3 0 5-1 2-1.5 0-1.5-1.5-2-0.5-3 1-1 0-0.5-1 0-3 1-2 1.5-2 1 0.5 1-0.5-3-0.5-2.5-2.5 0-2zM390.5 54l2 2 0.5 2-0.5 2.5-1 0-1.5-0.5-0.5-2 0-2.5zM448.5 54l1 0.5 0.5 2.5 0 2-0.5 1-1 0 0-1zM395.5 56.5l1 0 1 1.5-1 2 0 1 2.5 2 0 1-0.5 2-2 0.5-1 0-0.5-0.5zM217.5 58l0.5 2-0.5 1zM229.5 58l1 0.5 0 0.5 0 1-1 1zM152.5 63.5l1-0.5 1 0.5 3 2.5 2 4.5 1 0.5 0.5 1-0.5 2-1.5 2-2.5 2 0 2-1 2-4 2.5-4.5 4.5-2 5-1 1-3.5 2-4 0.5-6-0.5-7 0.5-3 0-1-0.5-0.5-1 0.5-2-1-1.5-2-1-4-1-3-2-6.5-2.5-1.5-2 0-1 1-0.5 2 0 1.5-0.5 6.5-6.5 3 1 3 4 2 0 3 2 6 0 5 1 5-0.5 5 1 3-0.5 1.5-0.5 0.5-1-2-3-0.5-2 0.5-1 2.5-2 0-1-1-2zM75.5 69.5l1 1.5 0 1-1 0.5-0.5-1.5zM87.5 71l1 0.5 0.5 4.5 0 3-0.5 1-1 0-1-2zM54.5 72.5l1 0.5 2 3 1 0.5 1 0 2-2.5 1-0.5 2 4.5 0.5 1 3.5 2 2.5 3 6.5 5.5 5.5 3.5-2.5 0.5-3-0.5-1.5 1 0.5 0.5 5 2 2-0.5 1-1 0-1 6 2 0.5 1-2.5 0.5-9 1.5-8-1-3 0-1.5 1-2 3-2.5 0.5-3 0-4-2.5-3 0-1.5 1-1 1 0 2-1.5 1-3 0.5-6 0 0-24 3-0.5 1 0.5 1 2 1 0.5 1 0 1.5-2 1-3 1-2zM352.5 75l4.5 1 1 1-1.5 2.5-4 2.5-1 0-3-2.5-1.5-2.5z" fill="#ffc800" stroke="#000" stroke-opacity="0.7" stroke-width="0.55" fill-rule="evenodd"/>
<path d="M481.5 16l1 1 0 1-1 0.5zM153.5 19l1 1 0.5 1-0.5 14 1 21-0.5 3-1.5 0.5-1-1-0.5-1.5 0-5 1.5-20-0.5-11zM264.5 19.5l1 0 1 2.5-0.5 14-1.5 8-1-2.5 0-3.5 0.5-16zM185.5 20.5l1 0 0.5 1.5 0.5 7 0 10-1 6-1-5.5-0.5-7.5zM289.5 20.5l1 0.5 0 1-1 3.5-1-3.5zM310.5 21.5l0 5.5 1.5 7-0.5 5-1 2.5-0.5-1.5-0.5-6zM453.5 23l1-0.5 0.5 1.5 0.5 8 1.5 8-0.5 5.5-1 3.5-2-11-0.5-8zM365.5 23.5l0 4-0.5-2.5zM481.5 23l0 4zM241.5 26.5l1 2 1.5 6.5 0.5 1.5 2 2 0.5 2.5-0.5 6-1 2-3 1-1-1 0-1zM380.5 31.5l1 0 1 5.5 1.5-4 0.5-1 0.5 1 1 23-0.5 3-2.5 1-2.5 0.5-1-0.5 0-1 2-3-1-2-0.5-13zM382.5 42l-1 5 1 4.5 1-2.5 0-6zM537.5 35l3 13.5 0 19.5-2-1-3 1-3-0.5-2 2.5 0 3-1 1-3-0.5-9 0.5-2-0.5-4 0.5-3-1-4 1.5-3 0-1-1-0.5-4.5-1.5-3.5-2 2.5-1-0.5-1-1.5-3-3-0.5-7 2-3-0.5-1-2-2-2-0.5-3 2-1 0 0-0.5-0.5-4 0.5-5.5 1-0.5 2 4.5 1 0 2-3.5 1-5 1 0.5 0 5.5 1 2.5 1-1 1-2.5 2 1 1-1 1-2.5 1 0 1.5 8.5-1 5 1.5 6.5 1-3.5 1-1 1 0.5 0.5 6.5 1.5 4 1-1.5 1-8.5 1.5-4-0.5-4 1-2 1-0.5 1 1.5 1 7 0.5-2 0-4 1.5-6.5 2 3.5 1 0.5 1-2 1-6 1-0.5 1 0.5 2 4.5 2-5.5 1.5-0.5 1.5 1 3 12.5 1 0.5 1-4.5 1-9.5zM258.5 37.5l0.5 3.5-0.5 5.5-1-1.5 0-4 0-3zM462.5 37.5l1 0.5 1 2 1-1 1 1 0 8-1 3.5-1-1-2 1-1-3.5 0-7zM284.5 38.5l0 7 0-2.5zM288.5 40l1 0.5 1 6.5-1 10 0 4 5.5-1 1 1 0 1-1.5 3 0 1 2 2 2.5 0 1.5 1-0.5 2 1 2 1.5 1.5 1 0 6-1 6 1.5 3-1 1 0.5 3 3 2 0.5 2 1.5 2.5 0.5-2.5 3-9 3-1 1 0.5 1 4.5 1 8 0 15 6.5 2 0 6-1.5 2 0 7.5 4 2.5 2 0.5 2-1 1-6.5 1-1 1-1 1 0.5 2-0.5 1-4.5 2-7.5 0.5-2.5 1.5-0.5 1 1.5 4-0.5 1-1.5 2 0 1 1 1 2.5 1 6.5 2 0.5 1-2 3 1 1 6 1.5 7-0.5 6 0.5 1.5 0.5 1 3 1.5 0.5 2 0 2.5-0.5 4-4 0-2-2-2-3.5-1-10 0.5-7-0.5-1-1 0-1 4-5 2-1 2-0.5 11-0.5 2 0.5 5 2 3-0.5 1.5-1 0-2 0.5-1 4.5-3 0.5-1 0-1-1-1-4.5-3-1-2 0.5-1 8 0.5 11-3.5 1.5-1-1.5-1-11-3.5-4 0-7 2-2-0.5-1-1.5-0.5-2.5 0.5-1 1-1 7-1 3-1 0.5-1-0.5-1-3.5-3-1-2 1.5-4.5 3-3.5 3-2 2 0 3 2 2-0.5 3 0.5 3-0.5 4 2.5 2 0 1 1 1 4-3 4-0.5 1 0.5 2 1 1 3 1.5 2.5 2.5 1.5 0.5 4 1 7-1 13 4.5 6 2 0.5 1-5.5 3-1.5 2 0 1 1.5 1.5 2 0 2-0.5 3-1.5 3-1 1-0.5 0.5-1-0.5-1.5-2-1.5-0.5-1 3.5-5 1-3-1-16 1-4-1.5-3 0-1 0.5-0.5 1 0 2-1.5 2 0.5 4-0.5 2 2 1-0.5 1-2 1 0.5 1 2 0.5 5 0.5 0.5 2 0 0.5 1.5-1.5 4 3 2 5 2 3-0.5 3-1 6-4 1 0 2 1 2-1.5 1 0 7 1.5 13 0.5 1 1 0 1 0.5 1 1.5 0.5 3 0.5 4 0 3-0.5 2-1.5-1-1-3-2 1.5-3 0.5-1 1 0 3 1 2-2.5 0 45-7 0.5-0.5 1 0.5 3-0.5 1-1.5 1.5-9.5-1.5-2-1-1-4 0.5-1 8-1 2-0.5 0.5-1.5 0.5-2-0.5-2-1-2-2.5-1-3 0-6 2.5-7 1-1.5 1.5 0.5 1 5.5 3-2.5 2.5-1 2.5 1 4 1 1 3 1 4 0 7-1 5-1 5 1.5 3 0 0 21.5-494 0 2.5-5-0.5-3-1-1-2-1-6 0 0-22.5 6 0 17 2 13-2 2 0.5 4 1.5 3 0 7-2 9 0 9-2 6 0 3-0.5 2-1 0-1-0.5-2 1.5-1 1 0 2 0 1.5 1 0 3 1 1 3.5 1.5 3 0.5 4 0.5 7-1 11-3.5 5 1.5 5 0.5 2-1 1-1 1-4 1-1 6-1.5 2.5-1.5 0.5-1-1-1.5-1-1-3.5-1.5-0.5-1 1-1 5.5-3 1-1 0.5-4 1-1 4 1 1.5 1-1.5 3 0.5 1 4.5 5 0.5 3 0.5 1 1 0.5 2 0.5 3-1 2-2.5 1-0.5 5 0 10 1 4 0 5 0.5 2-0.5 2.5-2 1.5-0.5 5-0.5 8 0.5 2-0.5 4-3 5 0 9-2 1.5-1 1-3 2-2 0.5-1-0.5-2 1.5-2.5 1-0.5 4 0 7-2 1-1 0-2 2-3.5 1 0.5 1 2 1 1 1-1 0.5-4-0.5-5.5-1 0.5-2 2.5-1-0.5 0-2 0-3 1-6 0-10 1-4zM467 84l-1 1 1 1 3.5 1 5-0.5 2.5-0.5 1-1-1-1-3.5-1-4 0zM502.5 90l-1 1 0.5 1 3.5 1 6-0.5 2-0.5 1-1-2-1.5-3-0.5-4 0zM482.5 93l-1 1 0.5 1 4.5 1 6-0.5 1.5-0.5 0.5-1-1-1-4-1-4 0zM279 100l-1 1 0.5 1 2 1 5 0.5 7-1 3 1.5 4 1 6-0.5 2.5-0.5 0.5-1-2-1.5-3-0.5-4 0-6 0.5-3-1.5-4-1-4 0zM344.5 100l-3 1.5-10 1-1.5 0.5-1 1 1.5 1 5 1 5-0.5 8-1.5 2.5-1 0.5-1 0-1-2-1.5-2-0.5-2 0.5zM434 100l-1.5 1 0.5 1 0.5 0.5 3 0.5 2-1 0.5-1-1.5-1-2-0.5zM492 104l-1 1 0.5 1 4 1 5-0.5 2-0.5 1-1-2-1.5-3-0.5-4 0zM218 105l-2 1-0.5 1 1.5 1 2.5 1 4 0 3 0 3.5-1 1.5-1-0.5-1-0.5-0.5-4-1-5-0.5zM250.5 105l-3 1.5-1 1.5 1 2 2 1 4 0.5 5 0 3-1 1-0.5 0.5-1-0.5-1-6-3.5-3 0zM427 110l-3.5 1-0.5 1-0.5 1 1 1.5 2.5 1.5 0.5 1-11 1.5-2 1-1 1-0.5 1.5 0.5 1 2 2 10.5 2-1 1-3.5 1-5 0-3 1-1 1-0.5 1 0.5 1 1 1 2 0.5 5-0.5 6 0.5 9-2.5 2.5-2 3.5-8 1.5-1 2.5-0.5 2.5-1.5 0.5-3 1.5-2 0-1-0.5-1-2-1.5-2 0zM281 114l-3.5 1-0.5 1 0.5 1 3 1 4 0 3 0 3-1 0.5-1-1-1-2.5-1-3-0.5zM169 119l-8.5 1-2 1-1 1 2 1.5 4 0.5 13-1 3-1 0.5-1-1.5-1.5-4-1zM209 119l-1 1 0.5 1 4 1 5-0.5 2-0.5 0.5-1-1.5-1.5-3-0.5-4 0zM66 127l-5.5 1-6.5 3-0.5 1 0.5 2 3.5 2.5 5 1 13-1 4-0.5 3-2 0-1-1.5-2-3.5-2.5-6-2zM230 129l-1.5 1 1 1 4 1 7-0.5 2-0.5 1-1-1.5-1-3.5-1-5 0zM174.5 136l-2 0.5-1.5 1.5 0 2 1 2 2.5 1.5 2 0 4-1 3-0.5 14 1 5-1 2-1 0-1-1.5-1-4.5-1-5-0.5-10 0.5-6-2zM431.5 42l0 1zM252.5 44l0 4-0.5-2zM326.5 45.5l0 4-1-0.5 0-2 0-1zM477.5 46.5l0.5 3.5-0.5 6-0.5-7zM504.5 47l1 0 0 1.5-1 0zM264.5 48.5l0 0.5zM315.5 53l0 3zM244.5 57l1 0 1 4 0 1-1 1-1-2.5zM252.5 57l1 0.5 1 2 1 0.5 1-0.5 1-1.5 1 5 0 1-1 1.5-2 0.5-3-3zM205.5 57l1 1.5 0.5 2.5-0.5 2-1 0.5-1-0.5-0.5-1 0.5-3zM412.5 57.5l1 0.5-1 0zM44.5 59l1 3 0 1-1 0.5-0.5-1.5zM412.5 61.5l5 1 0 1-2 2-2 0.5-1 0-1-3zM307.5 66l2 1 1-1.5 1-0.5 2 1 0.5 1-0.5 1-2 1.5-1 0-1-1-0.5 0.5-1.5 0-2.5-1 0-1 0.5-0.5zM429.5 66l3-0.5 2 2 2 0 1 1 0.5 2.5 0 7-0.5 1-3 0.5-3 1-3-2.5 0-2 2-3-2-5 0.5-1zM229.5 67.5l1 1.5 0 3-2 0.5-1-0.5 0-2zM355.5 68.5l0.5 0.5 0.5 1-1 0.5-1-0.5zM228.5 75l2 0 1 3-1.5 6-1.5 1.5-1-0.5-0.5-1 0-5 0-3zM54.5 77.5l1 0.5 2.5 2 1.5 0.5 2 0 1 0.5 0.5 1-1.5 2-0.5 1 1 1 1.5 0.5 4-0.5 2.5 2 1.5 2 0.5 2-0.5 2-1 1-3 1-8 1.5-8 0.5-2 0-1.5-1 0-2 0.5-1.5 4 0 1.5-0.5 0.5-1-1-0.5-4-1-6 1-4 1.5 0-9.5 3 0.5 1 1.5 1 0.5 1-0.5zM335.5 78l1 0.5 0 1.5-1 0-1.5 0 0-1zM431.5 84l1 0 6 0.5 1 1.5-1 1-1 0-2.5 0-4-1 0-1zM132.5 88l3-1 1.5 1 0.5 2 0 2-2 2-3 0.5-4 0-2.5-0.5-1.5-1-0.5-1 0-1 0.5-0.5zM40.5 98l0 1-1 0 0-1zM108.5 108l2 0 1.5 1-2.5 0.5-2-0.5 0.5-1z" fill="#ee9600" stroke="#000" stroke-opacity="0.7" stroke-width="0.55" fill-rule="evenodd"/>
<path d="M153.5 20.5l0.5 1.5-0.5 1zM186.5 24.5l0 14.5-1-9 0-3zM454.5 24.5l0 7.5zM242.5 34.5l2.5 7.5-2.5 6.5-1-8.5zM153.5 39.5l1 5.5 0.5 11-1.5 1.5-0.5-1.5 0-3zM527.5 40l1 0 3 7.5 0.5 4.5 1 2 0.5 0.5 2-0.5 2-1 1-2 1 1.5 1 3 0 10-2-0.5-3 1-3-0.5-3 2.5-2 3-3 1.5-7 0-2-1-3 1.5-2-0.5-1-0.5-0.5-2 1.5-12 0.5-2 0.5-1 1 0 1 1.5 1 3 1 0 2-8 4-4 1 1.5 0 7.5 1 3.5 1.5-10zM499.5 44.5l1 1 0.5 1.5 0 2-1 3 0.5 3.5 0 2.5-1 2.5-1-2-1 4.5-1 2-1-0.5-1-1-2-1 0-4.5 1-0.5 1-1.5 1-8.5 1-1.5 1 0.5 1-0.5zM288.5 46l0.5 2-0.5 3.5-0.5-2.5zM504.5 65l1 1 2 5-0.5 1-1.5 1-1 0-1 0-1-1-0.5-2 1-3zM465.5 68.5l2 0.5 1 2 1 5 1 2 3.5 3-0.5 0-1.5 1-7.5 1-2 0-1-1 0-11.5 1-1 1 0.5zM295.5 75l4 0 4 1.5 2-1 2 0 4.5 0.5 3.5 1.5 2-1 1 0 1.5 2.5 0.5 3-0.5 1-1.5 1-4 2-0.5 1 0.5 1 4 1.5 8 0.5 2 1 4 3.5 5 2.5 1.5 2-0.5 1-1 0.5-7 1-3 1-1.5 1.5 1 1 4.5 1.5 12 0.5 3.5 1 0 1-6.5 2.5-1.5 1.5-1.5 3-4 2-1.5 2 0 2 0.5 1.5 6 3.5 3 6 3 1.5 9 0.5 3-0.5 6-1.5 3 0 2.5 1 1 2 1.5 1 4 0.5 4.5-0.5 6.5-2 1.5-1 1.5-2 0-3-1-2-4-3 0.5-1 4.5-2.5 3.5-3.5 6.5-3 1-2 0-5 1-2 1-1 8-2.5 2-1.5-0.5-1-1.5-1-6-1-2-1-1-2-0.5-4-0.5-2-1.5-1-4.5-2-3-2 0-2 0.5-2 1.5-2.5 3-2 2 0 3 1.5 2-0.5 1 0 5 1.5 1 1 1.5 3-1.5 5 0 3 1.5 4 1.5 2 2 1 13 0 2 1 1.5 1-0.5 4 1 3-0.5 1-1.5 1-7 2-2 1.5-2 3.5-1.5 1-3.5 1-2 2-1.5 4 1.5 6-2 3 0 2 1 1 3 1.5 21 1.5 6-1 4.5-1 1.5-1 1-2 1.5-10 2-8 0-3 0.5-1 1-1 6-2.5 1.5-1.5 0-1-0.5-4 2-6 0.5-5 0.5-2 2 0 4 0.5 5 0.5 11-1.5 10-3 4-2 3-2.5 2-0.5 13 2 5 3 3 1 6 0 5-1 3-1.5 1-1 0-4 1-1.5 0 39-4 0-2.5-0.5-1-1-1-4-1-2-2.5-1.5-3-0.5-4 0.5-4.5 2.5-8.5 1.5-2.5 1.5-0.5 1 0.5 1 3.5 3 0 9 0 1 2 1.5 5 1 11-1 13 0.5 0 20-331.5 0 0.5-8-1-2-1.5-1-3.5-1-8 0-11 1-8-2.5-5 1-2 1.5-1 2 0.5 2 5.5 5.5 1 0.5 1-0.5 4-3 6-0.5 7 2 3.5 2 0.5 1-147.5 0 2-8 1.5-1.5 2-0.5 8 1 10 0 12-1.5 2-0.5 1.5-2 0-3-1.5-3-3-1.5-7-2-8-0.5-7 0.5-8 1.5-3 1-1.5 2-1.5 4-1 1-8 0.5 0-18 24 1.5 11-1.5 9 1.5 11-2 21 0 8-1 12 1.5 11-1 9 0 4.5 0.5 1 1-3.5 1-2 2-0.5 1 1 1 2.5 1 4 0.5 5 0.5 11-1.5 3.5-1.5 0.5-1-1-1.5-3-1.5-9.5-1-0.5-1 4-7.5 1-1 5-1.5 2-2 1-2-1-4 1-1 2-1 2 0.5 2.5 1.5 3 6 0.5 1 2 1 2 0 2-1 5-4.5 3-0.5 4 1 1 1 1.5 5 1.5 1.5 4 1 8 0.5 12-1 2 0 6 2.5 5 1 7 0.5 7-1 3.5-1 1-1 0-1-6.5-3-6-5.5-3.5-2.5 5-2 8.5-1.5 2-1.5 1.5-5 2.5-3.5 4-1.5 3-2.5 3-1 3-2.5 1 0 2 0.5 3-2.5 2 0.5zM501.5 89l-5 2.5-9-0.5-5 0.5-3 1-1.5 1.5 0.5 1 3 1 7 1 6-1 5-2.5 9 0.5 5-0.5 3.5-1.5 0.5-1-0.5-1-1.5-1-3-0.5-4-0.5zM279 99l-3 1-0.5 1 0 1 2 1.5 4 1 21 1.5 6-1 2.5-1 0.5-1-2-1.5-5-1.5-9-0.5-9-1.5-4 0zM491 103l-2 1-1 1 0 1 2.5 1 2 0.5 5 0.5 5-0.5 3-1 1-1.5-2-1.5-4-1-5-0.5zM276.5 113l-3 1-0.5 1 0 1 1.5 1.5 4 1 6 1 5-1 3-1 1.5-0.5 0-1-0.5-1-2-1.5-5-1-6 0zM208 118l-2.5 1-0.5 1 1.5 1.5 4 1 8 0 3-1 1-1.5-1-1.5-4-1-5-0.5zM229 128l-3 1-1 1 1.5 1.5 5 1 5 0 5 0 4-1.5 1.5-1-1-1-1.5-0.5-4-1-6-0.5zM228.5 76l1 2-1 3.5-0.5-3.5zM52.5 82.5l2 0 3 1 3 3 4 2.5 0.5 2-0.5 1-4 2-4 0.5-0.5-0.5 0.5-1-0.5-1-0.5-0.5-8-3-0.5-1.5 0.5-1zM523.5 118.5l2 0 2 0.5 1 1 0 1.5-0.5 0.5-1.5 0-3 0-1-1 0-1z" fill="#dd5a1a" stroke="#000" stroke-opacity="0.7" stroke-width="0.55" fill-rule="evenodd"/>
<path d="M540.5 99l-10 0-16 3-8-1-4-1-1.5-1 1-1 2.5-1 2-0.5 16-1 4-1 2-1.5 4.5-5 3.5-2 4-2M39.5 122.5l6 0.5 1.5 1-2.5 2.5-2 0.5-3 0M73 148l16.5-2.5 12.5-2.5 7-2 2-1 1-1-0.5-1-2-1-12-2.5-2.5-1.5-1.5-2-1.5-7 0-1 2.5-1 10-0.5 20-2 18 0.5 4.5 1 5 3 4.5 1.5 6 0.5 6 0.5 9-1 5-1 4-1.5 5-3.5 2-0.5 2 0.5 5 2.5 5 1.5 6 1 7 0 4-0.5 4-1.5 2-1.5 0.5-1-0.5-3.5 1-0.5 3 0 27 2 4 1 10 3 5 1 12 0.5 8-1.5 3-1.5 1.5-1.5 0.5-3-3-5 0.5-1 2-1 15.5-3 9 1.5 7 0.5 2.5 1 0.5 1-0.5 1-1.5 1.5-5.5 2.5-2.5 2-1 3 0.5 4 0.5 3.5 1 1.5 2 1.5 4 1.5 6 5.5 4 1 11 0 3-0.5 4-1.5 2-0.5 4 2.5 4 1.5 4 0 10-1 4-1 2-2 0.5-2 0.5-3-1.5-7 0.5-2 2-2.5 5-2 3.5-2.5 1.5-2-0.5-5 1-2 2.5-1 12-2-2.5 5-1.5 1.5-6 3-1.5 1.5-1 3-0.5 11-1 4 0.5 2 1.5 2.5 4 2 15.5 2.5 4.5 1 2 1 0.5 1-1 4M179.5 148l1-2 5-1.5 3 1.5 1.5 2M215 148l0-4 0.5-4-0.5-2-1.5-2-3-2-4-1-9 0-5 0.5-7 1-10-1.5-3 0-3 1-3 2-1.5 2-0.5 1 1 2 1 1 3 2 1.5 2 1 2M253 148l-18.5-1.5-5 0.5-4.5 1M489 148l5.5-1.5 10-1 36-1M527.5 47.5l1 1.5 1 7.5 2 1 1 1 2-0.5 2-0.5 2 1 1 1.5 0 1-4 3-1 0-2-2-2 1.5-2 0.5-2 2-0.5-4-0.5-6 1-7zM520.5 57.5l1 6 0.5 5.5-0.5 1-1 0.5-1-0.5-2 0.5-1-2.5 0-7 1-2.5 2 0zM511.5 59l1 0 1 2 0.5 6-0.5 3-1 1-1 0-1-1 0-1zM395.5 77.5l2 0 3 1.5 2-1 1 0.5 2.5 2.5 0 2-0.5 1-2 0.5-8.5-1.5-1-1-0.5-2zM290.5 79.5l1 0 2 1.5 3 1 4 4 4.5 2 7.5 2.5 12.5 2.5 1.5 2 1 3-1 1-2 0.5-5 1-12-2-15-2.5-8 0.5-11 1.5-2 0 0-2 0.5-5 0.5-2 1-1.5 11-7 2-0.5 2 1zM310.5 81l0.5 0zM504.5 82.5l1 0 1.5 0.5 0.5 1-2 0.5-1 0-0.5-0.5zM53.5 85l2 0 2 1.5 1.5 2.5-0.5 1-3 0-4-2-0.5-2zM466.5 97l7 1.5 12.5 1.5 0 1-8.5 4-13 4-0.5-1 0-8 0.5-2zM264.5 100l3 0 1 1 0 1-1 1-2 0-1-1zM421.5 102l2 0zM203.5 108.5l1 0 1 0.5 2.5 3 0 1-4.5 0.5-2.5-0.5-0.5-1 0.5-1zM458.5 114l1.5 2 2.5 1.5 7 1.5 8 0 17-1.5 8 0.5 2 1 1 2-1 4 0.5 3-1 1-2.5 0.5-27 2-16 4-3 0.5-1-1-1-3 0-8 1-4 1-2zM224.5 126l-3 0.5-2.5 1.5-1 1 0 2 1 1 2.5 1 6 1 9 0.5 9-1 4-1 3-1.5 1.5-1 0-1-0.5-1-3-1.5-7-1-11-0.5-8 1" fill="none" stroke="#000" stroke-opacity="0.6" stroke-width="0.5"/><path d="M41.6 16.9 L41.7 20.3 L41.9 23.7 L42.0 27.1 L42.2 30.5 L42.3 33.9 L42.5 37.3 L42.8 40.6 L43.0 44.0 L43.3 47.4 L43.6 50.8 L43.9 54.2 L44.3 57.6 L44.7 61.0 L45.2 64.4 L45.8 67.8 L46.3 71.2 L47.0 74.6 L47.7 78.0 L48.5 81.4 L49.5 84.7 L50.5 88.1 L51.6 91.5 L52.9 94.9 L54.3 98.3 L55.8 101.7 L57.6 105.1 L59.5 108.5 L61.7 111.9 L64.1 115.3 L66.7 118.7 L69.7 122.1 L73.1 125.5 L76.8 128.8 L80.9 132.2 L85.5 135.6 L90.7 139.0 L96.4 142.4 L102.8 145.8 L109.9 149.2 M538.6 16.9 L538.5 20.3 L538.3 23.7 L538.2 27.1 L538.0 30.5 L537.9 33.9 L537.7 37.3 L537.4 40.6 L537.2 44.0 L536.9 47.4 L536.6 50.8 L536.3 54.2 L535.9 57.6 L535.5 61.0 L535.0 64.4 L534.4 67.8 L533.9 71.2 L533.2 74.6 L532.5 78.0 L531.7 81.4 L530.7 84.7 L529.7 88.1 L528.6 91.5 L527.3 94.9 L525.9 98.3 L524.4 101.7 L522.6 105.1 L520.7 108.5 L518.5 111.9 L516.1 115.3 L513.5 118.7 L510.5 122.1 L507.1 125.5 L503.4 128.8 L499.3 132.2 L494.7 135.6 L489.5 139.0 L483.8 142.4 L477.4 145.8 L470.3 149.2" fill="none" stroke="#000" stroke-opacity="0.75" stroke-width="0.5"/>
</g>
<rect x="40.6" y="16.9" width="499.0" height="130.29999999999998" fill="none" stroke="#222" stroke-width="0.9"/>
<text transform="translate(32.0,18.5) scale(1.2,1)" font-size="9.0" text-anchor="end" fill="#111">8</text>
<text transform="translate(32.0,40.2) scale(1.2,1)" font-size="9.0" text-anchor="end" fill="#111">16</text>
<text transform="translate(32.0,61.9) scale(1.2,1)" font-size="9.0" text-anchor="end" fill="#111">32</text>
<text transform="translate(32.0,83.6) scale(1.2,1)" font-size="9.0" text-anchor="end" fill="#111">64</text>
<text transform="translate(32.0,105.4) scale(1.2,1)" font-size="9.0" text-anchor="end" fill="#111">128</text>
<text transform="translate(32.0,127.1) scale(1.2,1)" font-size="9.0" text-anchor="end" fill="#111">256</text>
<text transform="translate(32.0,148.8) scale(1.2,1)" font-size="9.0" text-anchor="end" fill="#111">512</text>
<text transform="translate(50.2,160.4) scale(1.22,1)" font-size="10.2" text-anchor="middle" fill="#111">3.5</text>
<text transform="translate(103.2,160.4) scale(1.22,1)" font-size="10.2" text-anchor="middle" fill="#111">4.0</text>
<text transform="translate(156.3,160.4) scale(1.22,1)" font-size="10.2" text-anchor="middle" fill="#111">4.5</text>
<text transform="translate(209.3,160.4) scale(1.22,1)" font-size="10.2" text-anchor="middle" fill="#111">5.0</text>
<text transform="translate(262.4,160.4) scale(1.22,1)" font-size="10.2" text-anchor="middle" fill="#111">5.5</text>
<text transform="translate(315.5,160.4) scale(1.22,1)" font-size="10.2" text-anchor="middle" fill="#111">6.0</text>
<text transform="translate(368.5,160.4) scale(1.22,1)" font-size="10.2" text-anchor="middle" fill="#111">6.5</text>
<text transform="translate(421.6,160.4) scale(1.22,1)" font-size="10.2" text-anchor="middle" fill="#111">7.0</text>
<text transform="translate(474.6,160.4) scale(1.22,1)" font-size="10.2" text-anchor="middle" fill="#111">7.5</text>
<text transform="translate(527.6,160.4) scale(1.22,1)" font-size="10.2" text-anchor="middle" fill="#111">8.0</text>
<path d="M35.8 16.9H44.8 M35.8 38.6H44.8 M35.8 60.3H44.8 M35.8 82.0H44.8 M35.8 103.8H44.8 M35.8 125.5H44.8 M35.8 147.2H44.8 M48.6 143.8V150.8 M101.7 143.8V150.8 M154.7 143.8V150.8 M207.7 143.8V150.8 M260.8 143.8V150.8 M313.9 143.8V150.8 M366.9 143.8V150.8 M419.9 143.8V150.8 M473.0 143.8V150.8 M526.0 143.8V150.8" stroke="#222" stroke-width="0.9" fill="none"/>
<text x="43.6" y="11.9" font-size="10" fill="#111">Shilou red clay Al/Na</text>
<text x="0.3" y="4.5" font-size="9.4" font-weight="bold" fill="#111">a</text>
<text transform="translate(8.2,74.6) rotate(-90)" font-size="10.3" text-anchor="middle" fill="#111">Period  (kyr)</text>
<rect x="655.3" y="16.9" width="10.800000000000068" height="131.1" fill="url(#cb)" stroke="#333" stroke-width="0.6"/>
<text x="671.5" y="20.4" font-size="10" fill="#111" letter-spacing="0.8">1.0</text>
<text x="671.5" y="85.5" font-size="10" fill="#111" letter-spacing="0.8">0.5</text>
<text x="671.5" y="150.6" font-size="10" fill="#111">0</text>
<path d="M554.3 18.6 L566.0 28.5 L580.0 41.0 L595.0 55.0 L603.0 63.0 L606.5 67.8 L605.2 72.7 L608.9 76.4 L616.0 83.0 L624.0 90.0 L628.6 96.1 L624.0 102.0 L622.5 107.1 L623.7 110.8 L630.0 117.0 L637.0 123.0 L640.9 128.0 L641.0 133.0 L639.7 137.9 L630.0 141.0 L620.0 144.0 L610.2 147.6" fill="none" stroke="#6f8cf5" stroke-width="0.9"/>
<path d="M554.3 16.9 L570.0 33.0 L590.0 52.0 L606.5 69.0 L613.0 75.5 L618.8 81.3 L624.0 88.0 L628.6 96.1 L633.0 105.0 L637.2 115.7 L640.0 124.0 L642.1 133.0 L644.0 140.0 L645.8 147.6" fill="none" stroke="#f0562a" stroke-width="1.3" stroke-dasharray="3 2.2"/>
<path d="M583.8 21.6H646" fill="none" stroke="#f0562a" stroke-width="1.3" stroke-dasharray="3 2.2"/>
<text x="583.6" y="30.9" font-size="8.9" fill="#111">95% confidence</text>
<text x="610.9" y="71" font-size="8.8" fill="#111">41</text>
<text x="629.6" y="98.5" font-size="8.8" fill="#111">~100</text>
<text x="621.7" y="140.3" font-size="8.8" fill="#111">405</text>
<text x="583.6" y="160.0" font-size="9.6" fill="#111" letter-spacing="0.5">10<tspan font-size="6.5" dy="-4">-2</tspan></text>
<text x="622.6" y="160.0" font-size="9.6" fill="#111" letter-spacing="0.5">10<tspan font-size="6.5" dy="-4">-1</tspan></text>
<path d="M592.6 145.0V148.0 M631.6 145.0V148.0" stroke="#444" stroke-width="0.7"/>
<rect x="554.4" y="16.9" width="96.80000000000007" height="131.1" fill="none" stroke="#555" stroke-width="0.9"/>
<g clip-path="url(#cp1)">
<rect x="40.5" y="175.0" width="499.1" height="130.39999999999998" fill="#fff"/><path d="M40.5 174l1 0 0.5 8-1 6-0.5 7-1 2.5 0-23.5zM44.5 174l5 0-0.5 4-1 2 1.5 2 0 6 0 1-1.5 2-0.5 1 2.5 6-0.5 0.5-0.5 2.5 0.5 3-1 2 1 1 1-0.5 2-3.5-2-5 1.5-2 0.5-5 1.5-2 0-2 0.5-3-1.5-3 0.5-5-0.5-2 2.5 0-0.5 1 0.5 1.5 1 0 0-2.5 4.5 0 0 6-0.5 2 2 3-1 5 1.5 7-1.5 2 3 3.5 1-1.5-1-3 0-2 0.5-3 1-3 0.5-16 10 0 0 7 1 6.5 1-0.5 1-7 0.5-2-0.5-4 7 0-1.5 6 0 11-1.5 4 1 1 2-2 0.5-4 2.5-3 0-1-1-3 1.5-9 7 0 0.5 1 0.5-1 9 0-0.5 7-0.5 2 0.5 1 2 2.5 1.5-2.5-0.5-4 0.5-4-0.5-2 13 0-0.5 3-1 2 1.5 1.5 1-0.5 0.5-6 6 0-0.5 5 0.5 2-0.5 1-1-0.5-0.5 1.5 0.5 0.5 3-1.5 1-1.5 1 0.5 0 5 1 2.5 1-1 0.5-1.5-1.5-6-0.5-2-0.5-4 2.5 0 0.5 0.5 2.5-0.5 0 1-1.5 2 0 1 2 2.5 1 0 1.5-1.5-1-2 0-3 7 0-1.5 2 0 1 1 2.5 1 0 3 0 0-5.5 4.5 0 0 5-1 2 0 1 0.5 1 2-1 1 0.5 1-1 1 0.5 2 1.5 1-2.5-2.5-4-0.5-3 5 0 0.5 9 0.5 2 1.5-6 0.5-5 2 0 2 19 1.5 2 0 2 1 3 0 1-2 3 0.5 1 1 0.5 1-0.5 0.5-4 0.5-1 2 0 0.5-1 0-1-0.5-1-1.5-1-1.5-2.5-2-1-0.5-1.5 2.5-3 3-8 1-0.5 1 1 2 10.5 1 0.5 0.5-2.5 1-2-1-3-1.5-10 3.5 0 0.5 3.5 1.5-3.5 11.5 0 0 2 1 2 2-1 0.5-1-1-2 4 0 1 8-2 3 0.5 1 1 0.5 1-1.5-0.5-2 2-7 0-2 2 0 0 8 1.5 3-2 5 0.5 1 0.5 0.5 2.5-2.5 0.5-1-1-3-0.5 0 1-2 0-6 0.5-1 1 0-1-0.5-0.5-1.5 10.5 0 0.5 5 1.5 3 1-8 4.5 0 0.5 5.5 2 2.5 0.5 3 1.5 2 1-4-1.5-3-0.5-6 4.5 0-1.5 2 0.5 2 0 2 0.5 1 1-0.5 1 1.5 0.5 2-1 2 0 1 1 2 2.5 2.5 1 0 0.5-0.5 0.5-2-1-1-1-0.5-1-3.5 1-2.5 2 0 0.5-1.5-1-2 0.5-4 2 0-0.5 3 0 4 0.5 3 1 0.5 1-0.5 1-2-1-3 0-5 7 0 1 2.5 1-2.5 14 0 0 4 1 4 2-1 1 1 0.5-1-1-1-0.5-6 16 0 1 2 0 7-1.5 8 1.5 4 1-1 1-0.5 1 0.5 0.5-1-0.5-0.5-1 0.5-0.5-1 0.5-5-1-4 2-2 0-1-1-1-1 0.5-0.5-0.5-0.5-5 10.5 0 1.5 8 1.5-3 0-5 6 0-1.5 3 0.5 3-0.5 1-2 0 1.5 1 0.5 1 0 7 1.5 5-0.5 5 0 3.5 1 0.5 0.5-1 1.5 0 1-1-0.5-4-1-1 0-2 0.5-1.5 1 0 1 0.5 1-4 0-4-1-0.5-1-2.5 0-9 4 0 0 3-2 3 1 2 1 0 0 3 1 3 0 8 2.5 6-0.5 3 1 1.5 1-1.5-0.5-2 0-1 1-1 0.5-1-1-1 0-1 0.5-3-0.5-3 0.5-7-0.5-1-1-1 0-3 0-1.5 1 0 1 2 0-6.5 6 0 0 6 1 2.5 1-0.5 1.5-3 0-1-1-2 0-2 1 0-0.5 2 1.5 2 0 4 0.5 1 2 6 0.5 0 0.5-1 0-14 2.5 0 0 6 1.5 2 1-0.5 0.5-1.5-0.5-2-0.5-4 6 0 0.5 8 1 2 1-1.5 0.5-1.5-0.5-7 7 0 1.5 9-1.5 1-2-1-0.5 1 0.5 1 1-0.5 1 1.5 1 0.5 1-0.5 0.5-4 2-2-1.5-2 0.5-4 3.5 0-0.5 3 1.5 2 1-2-0.5-3 11 0 0.5 2 0.5-2 3.5 0 0 7-1.5 2 0.5 1.5 1.5-0.5 0.5-1.5 1-0.5 2.5-1 0.5-1-2.5-2 0-4 5.5 0-0.5 6 3.5 3 0 4.5 1 2 1-1 1-2.5-0.5-2-1.5-5-0.5-5 10 0-0.5 1.5-1.5 0.5-0.5 2 2 2 2 5 1 1 1-0.5 2-3.5-1.5-4 0.5-2-1-2 8 0 0 2 0.5-1 0-1 10.5 0 0.5 7-0.5 1-1.5 2 0 1 1.5 2 0 1-0.5 6 0.5 1.5 1 0.5 1.5-2 0.5-3 1-1 0-1 0 2-0.5 2 0.5 3-1.5 5-3 2-1 3 0.5 0.5 1 0.5 1.5-2 2.5-2 2-4 1-0.5 1 0 1 3.5 1 0.5 1-1 1-0.5 3.5 3 1 3-1 4-0.5 1 0 1 1 0.5 1-1 1-0.5 0.5-1 0.5-1-0.5-3 0.5-1-1.5-2-2-6 1.5-2.5 2 1.5 1-1 0-1-1-1 0-1 1-1 1-0.5 1 0.5 1.5-1-0.5-1.5-1-0.5-1 1-1-1-0.5-3 0.5-2.5 1 0.5 1 2 1.5-6 0-6 3 0-0.5 1 0 1.5 1-0.5 0.5-2 2 0 0 4-1 3 2.5 7.5 1 0 2.5-6.5-1.5-3 0.5-3-0.5-2 13.5 0 0 5-0.5 2 1 1 1.5-1-1-2 0.5-0.5 1 0 1 1 1 0 0.5-1.5-1.5-4 6 0 0 6 1 3.5 1-2 0.5-2.5-0.5-5 9.5 0 0.5 5 1 0 0.5-5 20.5 0-1 3 0.5 2-0.5 2 1 1.5 1 0.5 1.5-2 1-7 11 0 0.5 3.5 1-3.5 6 0 0 9.5-1-0.5-1 2 0 1 1 1.5 1 0 0 118.5-501 0 0-105.5 1 1.5 1 3 1-1 0-2 2.5-13 0.5-8 1.5-5-1.5-1-1 0.5zM191.5 175l-0.5 1 0 2 0.5 0.5 1 0 1-1.5-0.5-2-0.5-1zM220.5 175l0.5 1 1 0-0.5-1zM255 175l0 2 0.5 1.5 1-3.5-1-0.5zM72 176l0.5 1 1-1-1-1zM116.5 176l-0.5 2 0.5 1.5 1 0.5 1.5-2 0-1-1.5-2zM265 176l0.5 0.5 1-0.5 0-0.5-1-0.5zM101.5 177l-1.5 3 1 5-0.5 6 1 1 2-1 1 0.5 1-0.5 0-1-2-2.5-1-1.5 0-2 1.5-2 0-1-1.5-3.5-1-1zM94.5 178l0 1 1 0.5 0.5-0.5 0-1-0.5-0.5zM376.5 178l0 1 1 0.5 0.5-1.5-0.5-1zM186.5 179l-1 1 0.5 1 0.5 0 0.5-1-0.5-1.5zM263 179l0.5 1 0.5-1-0.5-1zM423 179l-1 1 0 2-1.5 4 1 2 1 1 1 0 1-9-1-1.5zM501.5 179l-0.5 2 1.5 2.5 1-0.5 0.5-1 0-2-0.5-1.5-1 0zM72.5 180l1 0.5 0.5-0.5-0.5-1zM255 180l0.5 1 0.5-1-0.5-0.5zM284 180l0 1 2 2 0 3 1.5 7-0.5 6 0.5 1 1 0.5 1.5-1.5 0-1 0-2-1-2-0.5-2 0.5-3 1-2 0.5-2-3-4.5-1 0-1-1.5zM416 180l0.5 1.5 0.5-0.5 0-1-0.5-0.5zM470 180l0 1 0.5 0.5 1 0 0.5-0.5-0.5-1-1-0.5zM529.5 180l-0.5 1 0.5 1 1.5 0 0-1-0.5-1zM532.5 180l-1 2 0.5 2 0.5 1 1-0.5 0.5-1.5-0.5-3.5zM91 181l0.5 1.5 1-0.5 0-1zM117 182l-0.5 2 1 1 3-0.5 0-1-3-2zM464 182l0 1 0.5 0.5 1-0.5-0.5-1-0.5-0.5zM151.5 183l-2.5 4-1 4 0.5 1.5 1 0 1-1.5 1 0 0.5 4 0.5 1.5 2.5-2.5 0.5-4-0.5-5-0.5-1-1 0-1-1.5zM403 183l0 1 0.5 1 1-1 0-1-1-1zM94.5 184l-0.5 1 0.5 1 1-1zM253 184l0.5 0.5 0.5-0.5-0.5-0.5zM345.5 184l-0.5 2 0.5 4 1-2 2 0 1-2-0.5-1-1.5-1.5zM506.5 184l-1 3 1 1 1 0.5 0.5-0.5 1-2 0-2-1.5-1zM231.5 185l0 1.5 1 0.5 0.5-2-0.5-1zM389 185l-1 2 0 1 1.5 2.5 1.5-1.5 0.5-3-1-2zM514 185l-0.5 1 0.5 2 0.5 0.5 1 0 0.5-2.5-0.5-1-1-0.5zM523 185l-0.5 1 1 1.5 1 0 1-0.5 0-2.5-2-0.5zM71 186l0.5 1.5 0.5-1.5-0.5-0.5zM142 186l0 1 0.5 1 1 0-1 1 0 1 1 2 0.5-2 0-1-1-3-0.5-0.5zM195 186l0.5 1 1 0 0.5-1-0.5-1-1 0zM282.5 186l1 0-1-0.5zM301.5 186l-1 1 0 1 1 2 0 2 0 2-2 1-0.5 1 0.5 1 3 0 1-3-0.5-6zM376 186l-0.5 1 0 1 1 5 1-0.5 1-1.5 0.5-3-1.5-2-1-0.5zM473 186l-0.5 2 1 1 1-0.5 0.5-1.5-0.5-1-1-0.5zM478 186l-0.5 1 1 1 0.5-1 0-1-0.5-0.5zM162.5 187l-1 1 0 2 0 4 1 3.5 0.5-2.5-0.5-4zM368 187l0.5 1.5 1-0.5 0.5-1-0.5-0.5-1-0.5zM382.5 187l0 1 1 0 0-1zM409.5 187l0 1 1 0.5 0.5-0.5 0-1-0.5-0.5zM498.5 188l-1 1.5 0 1.5 1 1 2 0 2 1.5 1-0.5 0-2 0-1-2-0.5-1-1.5zM508.5 188l1 1.5 1-0.5 0.5-1-1.5-1zM528.5 188l0.5 0-0.5-0.5zM71 189l-1 3 0.5 2.5 1 1.5 1 0 1 0.5 1-0.5 0-1-2-2 0.5-3-1.5-1.5zM122.5 189l-1.5 1 0.5 1 2-1 0.5-1-0.5-0.5zM137 189l0.5 1 1 0-0.5 4 1.5 1 1-2-0.5-3-0.5-1-1 1 0-1-1-0.5zM158 189l0.5 0.5 0.5-0.5-0.5-1zM206 189l0.5 1 1-1-1-0.5zM231.5 189l-1 6 1 2 1.5-2-1-5zM235 189l-0.5 1 1 1 0.5-1 0-1-0.5-1zM520.5 189l0.5 1 0.5 0.5 1-1.5-1-0.5zM525 189l-1 1 0.5 1 1 1.5 1-1.5 0-1-1-2zM54.5 190l-0.5 1 0 1 0.5 2.5 1 0.5 0-1 2-2 0-1-1-1.5-1-0.5zM110 190l-0.5 1 0.5 2 1.5 1.5 1-0.5 0.5-1-0.5-2-1-1zM130.5 190l-0.5 3 0.5 5 1-1 1-4-1-4zM178.5 190l-0.5 1 0.5 0.5 0.5-0.5zM335 190l-0.5 1 1 1 1 0 0.5-1-0.5-1.5zM362.5 190l-0.5 1 0.5 1 1 0 0.5-1 0-1-0.5-0.5zM400 190l0.5 1 1-1-1-0.5zM511.5 190l-0.5 1 0.5 1.5 1-0.5 0.5-1-0.5-1zM534 190l-0.5 2 1 2.5 1-1 1-2.5-1-1.5-1 0zM166.5 191l-1 4 1 1 1 0 1.5-3 1-1-0.5-1-1 0-1 0.5-1-1zM240 191l-1 3 0.5 3 1-1 0.5-3-0.5-2.5zM329 191l0 1 0.5 1.5 1 0.5 0 1-1.5 3 0 3 0.5 2 1 0.5 1-2.5 0-4 1 0 1-1-0.5-1-0.5-0.5-1 0-0.5-0.5 0.5-2-1-2-1 0zM385.5 191l-0.5 1 0.5 1 1 0.5 1-0.5 0-1-1-1.5zM458.5 191l-1 1 0 1.5 1 1.5 1-0.5 0.5-0.5 0-2-0.5-1-1-0.5zM479 191l0.5 1 0-1zM210 192l-1 2 0.5 7 0.5-5 1.5-2 0-1-1-1.5zM254 192l0.5 1 1-1-1-0.5zM467 193l0.5 0.5 0.5-0.5-0.5-0.5zM244.5 194l-1 1 1 1 0.5-1-0.5-1.5zM281 194l0.5 1 1 0.5 0.5-1.5-0.5-0.5zM335 194l-1 2 0.5 2.5 1 1 2.5-2.5 1-2-1.5-1.5-2 0zM353 194l1.5 1.5 1 0 0.5-0.5 0-1-1.5-1-1 0.5zM404.5 194l-2 1.5-1-1-3 0-1 1-2 0-0.5 1.5 0.5 0.5 1 0 1-1 1 1 2 0.5 1 0 1-1 1 0 1.5 2 0.5 2 1 1 1-0.5 0.5-1.5-1.5-2-0.5-3-0.5-2zM525 195l0 1 0.5 1.5 1-1.5 0-1-1-0.5zM273.5 196l-0.5 1 0.5 1 1 1 1 1.5 1 0.5 0.5-1 0-1-1-1-1.5-2.5zM317.5 196l0 2 1 0.5 1-1.5-0.5-1-0.5-1-1 0zM343 196l-0.5 1 0.5 1 1.5 0.5 1-1.5-0.5-1-0.5-1zM376.5 196l-1.5 3 1 4-2 3 1.5 3 1 0 0.5-1 0-4 0.5-4zM388.5 196l1 1 0.5-1-0.5-1-1 0.5zM420.5 196l1 0.5 0-0.5 0-0.5zM519.5 196l-1 1 1 1 0.5-1zM74.5 197l0 2 1 3 1.5-2 0-2-0.5-1.5-1-0.5-1 0.5zM105 197l0 1 0.5 0.5 1-0.5 0-1-1-0.5zM126 197l0.5 1 0.5-1-0.5-0.5zM143.5 197l-1 6 1 1.5 1 0 1-0.5 0.5-3-1.5-4zM149 197l-0.5 2 1 1.5 1-1 0.5-1.5-1.5-1.5zM361 197l-1 1-0.5 1 1 2 1 0 1-1.5 2 0.5 0.5-1-0.5-1.5-2 0.5-1-1zM55 198l-1 2 0.5 1 1 1 1-1 0.5-1-1.5-3zM93.5 198l-1 3 1 1 2.5-4-1.5-1zM370 198l-0.5 1 1 2 1-0.5 1.5-1.5 0-1-1.5-0.5-1 0zM448.5 198l0 1 2 1 0 1-0.5 3 1.5 5 1-1 0.5-2-0.5-7.5-1-1-1 0.5-1-0.5zM83 199l0.5 1.5 0.5-1.5-0.5-1zM193 199l0.5 1 0.5-1-0.5-0.5zM356.5 199l1 0.5 0.5-0.5-0.5-0.5zM167.5 200l-2 2 0 1 1 1.5 1 0.5 1-0.5 0-2.5 0-2.5zM279.5 200l0 0.5 1-0.5zM251.5 201l1 0zM320 201l1.5 2 1.5-1-1.5-1.5-1 0zM520 201l0 1 0.5 0.5 1-0.5-0.5-1-0.5-0.5zM102 202l0 1 1.5 3 1-4-1-1zM105.5 202l1 1 0.5-1-0.5-1zM539 202l0.5 0.5 0.5-0.5-0.5-0.5zM45 203l-1 3 1.5 1.5 1-1.5-0.5-3-0.5-0.5zM369 203l-0.5 1 1 1.5 1-0.5 0.5-1-0.5-1-1-0.5zM159 204l0 1 0.5 1.5 2 0 1-0.5 0-1-1-1-2-0.5zM365 204l0.5 1 0.5-1-0.5-0.5zM525.5 204l1 1 0-1.5zM147.5 205l0 2 1 1 1 0 1-1-0.5-2-1.5-0.5zM113 206l0 1 0.5 0.5 1-0.5 0-1.5-1-0.5zM330.5 206l-0.5 1 0.5 1 1-1-1-1.5zM61.5 207l-0.5 1 0.5 1-0.5 2 0.5 0.5 1 0.5 1.5-4 0-1-0.5-0.5zM110 207l0 1 0.5 0.5 1.5-0.5 0-1-0.5-0.5-1 0zM337 207l0.5 1 0-1zM439.5 207l0 1-1 0.5-0.5 1.5 0.5 1.5 1.5-0.5 0-2 1-2-0.5-1zM538 207l-0.5 1 1 1 1-1-0.5-1zM140.5 208l0 1.5 0.5-0.5-0.5-1zM103.5 209l-1 1 0 1 1 0.5 0.5-0.5 0-1-0.5-1.5zM71 210l0.5 1 0.5-1-0.5-0.5zM74 212l0.5 0.5 1-0.5-1-0.5zM164 212l-0.5 1 1 0.5 0.5-0.5 0-1-0.5-0.5zM41 214l0.5 1 1-0.5 0.5-0.5-1.5-1zM117 214l0 1 0.5 0.5 0.5-1.5-0.5-0.5zM438 215l-0.5 2 1 1 1 0 0.5-2-1.5-1.5zM445 218l0 1 0.5 0.5 1 0 0-1.5-1-0.5zM115 219l0 1 1.5 2.5 1-0.5-0.5-2-0.5-1-1-0.5zM124 219l0.5 0.5 0.5-0.5-0.5-0.5zM46.5 222l1 1 0.5-1-0.5-1zM463.5 222l0.5 0zM441.5 230l2 0.5 1.5-0.5-1.5-0.5zM362 239l0.5 1 2 0.5 2.5-0.5 0.5-1-3-1zM191 250l0.5 1 1 0.5 0.5-1.5-0.5-1-1 0.5zM207.5 256l-1 1 1 0.5 0.5-0.5zM44 257l0.5 1 1-1-1-1zM195 258l0 1 0.5 1 1.5-1-0.5-1.5-1 0zM198.5 258l0 1 1.5 2 0.5 2 1 0 0.5-1-1-2 0-1-1.5-1.5zM445.5 263l1.5 0zM425 270l-3 1 2.5 1 4.5 0 2-1-2-1zM421.5 281l-1.5 1 1.5 0.5 2 0 2.5-0.5-2-1zM158.5 174l2 0 0 2-1 1-1-1-0.5-2zM431.5 174l1.5 0-1 1 0 1 1.5 0.5 0.5 0.5 0.5 3-0.5 3 1.5 2-2 3.5-1 0.5 0-6-1.5-5 0-4zM436.5 174l2.5 0 0.5 3-0.5 5-1 2-0.5 2.5-2-1.5-1-4 1-7zM446.5 174l2.5 0-0.5 4-1-3.5-1 0.5-0.5-1zM442.5 182.5l1 1 0.5 1.5 1.5 6 0 2-1 1-2-1.5-0.5-0.5-1-6 0.5-2z" fill="#00009c" stroke="#000" stroke-opacity="0.7" stroke-width="0.55" fill-rule="evenodd"/>
<path d="M40.5 174l0.5 0 0.5 8-1 5 0 8-1 2 0-23zM44.5 174l4.5 0-0.5 4-0.5 2 1 2 0.5 5-0.5 2-1.5 3 1.5 5 0 7-0.5 2 1 1.5 1-0.5 2-4-1-5 1.5-3 0.5-2.5 1 4.5-0.5 4 1.5 1 2-1 0-1-1.5-4 0.5-2 1-2 0.5-1-1.5-3 0.5-6-0.5-0.5-1 3.5-2-3.5 0-2.5 0.5-3-0.5-2 1.5 0-0.5 2 1 1.5 1 0 0.5-1.5 0-2 4 0-0.5 6-0.5 2 2 3-0.5 4 1 8-1.5 2 3.5 4 1-2-0.5-3 0-2 0-3 1-3 1-16 9.5 0 0 7 1 8 1-1 1-7 0.5-3 0-4 6 0-0.5 3-0.5 2-0.5 12-1 4 1 1.5 2-2.5 1-4 2.5-4 0.5-1-0.5-1-0.5-0.5 0-1.5 2 1 1-0.5 0.5-0.5-0.5-1.5-1 0-1 0.5 0 0.5-0.5-0.5 0.5-7 6.5 0 0.5 2.5 1-2.5 3 0-0.5 3-1 3 0.5 3 0 8 1 1.5 2-1 1 0.5 1.5-1 0-1-3-4 0-2 1-2 0.5-1-1.5-3 0-2 0-2 3.5 0-0.5 10 2.5 4-0.5 4 1.5 0.5 1 1.5 1 0.5 1 0 0.5-1.5-0.5-2.5-1-1-2.5 0.5-0.5-1 0.5-2 1-3 0-5 0.5-3-0.5-2 12 0 0 2-1 3 1.5 2 1 0 0.5-7 6 0-0.5 7-1.5 1 0 1 0.5 0.5 3 0 1-1.5 0.5 5 1.5 2 1.5-2 0-1-0.5-3 0.5-3-1.5-3 0-3 0.5 0 1.5 2 0.5 2 1.5 1.5 1 2 2-1 0.5-1.5-1-5 6.5 0-1.5 2 0.5 2 1 2 2 0 1 0.5 0.5 1.5-0.5 2-1.5 2-1.5 5 0 1 2 2 1-2 1 1-0.5 3-0.5 0-1-1-1.5 3 0.5 2 1 1 1-1 1-3.5 1 1 2-2 1-1.5 0.5-4-0.5-6 1-1 1 0 1 1 1-1.5 1 0 1 1.5-0.5 6 1 8 0.5 2 1.5-4-0.5-1-0.5-4 0-6 1-4-2.5-4-0.5-3 4 0 0.5 5 0 5 1 3-1.5 9 2 2-2 5 2.5 3 1-0.5 0.5-2.5-0.5-5-0.5-1 1-3 1.5-2-1-1.5-2 0-1-3.5 2-7 0-6 1.5 0 2 19 1.5 3 0.5 3 0 2-1 3 0.5 1.5 1 0.5 1 0 0.5-1 1-4 1.5-0.5 1-1.5-0.5-2-2.5-2-0.5-2 0.5-5 2-7 1-0.5 1 1 2 10.5 1 2.5 0.5-4.5 1.5-3-1.5-3-1.5-10 3.5 0 0 4-1 2 0.5 1 1 0.5 0.5-1.5-0.5-2 2-4 3.5 0-0.5 0-0.5 2 0.5 3 1 0 0.5-1 0.5-2-0.5-2 3 0 0 2 0.5 1.5 1-1 1 1 1 1.5 1 0 0.5-1 1.5-1 1-1-1-2 3.5 0 0.5 8-1.5 3 0.5 1.5 1 0.5 1-1 1.5-7 0.5-5 1 0 0 8 1.5 3-3.5 9 0.5 6 0.5 3 0.5-6 1.5-3 0-2 3-3 0.5-1-1-3 0-6 0.5-2 1 0 0.5-1-1.5-1.5 0-0.5 9.5 0 0 4 2.5 6.5 1-10.5 4.5 0 0.5 7 1 1 1.5 4 0 2-1 2 1.5 1.5 1-1.5 1.5-7 0-1-1.5-3-0.5-5 3.5 0-1 2 0 2 0 2 0 1 1 0.5 1 0 1 1.5 0 1-1 2 0.5 2 0 1 3 3 0.5 1-1 2 1 1.5 1-1.5-1-2 2-2 0.5-2-0.5-1-2-1-0.5-2 0-2 0.5-1 3-0.5 1.5 4.5 0 2 0.5 1 1 0 0-1.5-0.5-1.5 1.5-4-1-3 0-5 6.5 0-0.5 1-1-0.5-0.5 0.5-0.5 2 1 2 1-3.5 2 1.5 1-1.5 0.5-1.5 13.5 0-0.5 1 0 3 1.5 5.5 2-2 1 1 0.5-0.5 0.5-1-1-1-1-6 8.5 0 0.5 1 0-1 7 0 0.5 4 0 5-1.5 8 2 6 1-2 2.5-1 0-1-0.5-0.5-1-0.5-0.5-1 1-4-0.5-4 1.5-2 0-1-1-1-1.5 0-0.5-1-0.5-4 10.5 0 0.5 7 1 2 1.5-3 0.5-6 5 0-1.5 3 0.5 2-0.5 1-2 1 0.5 1 1.5 1 0 1 0 6 1.5 6-0.5 5 0.5 5 1-1 1-1.5 2-1 1-3 1 0 1.5-2.5 0-1-1-2-0.5-1 1-5 1-1.5 1 6.5-0.5 3 1.5 2 0.5 2-0.5 1-1-1-1 0-1 1 0.5 1 1 1 1.5 0 2 3.5 1-1.5-0.5-2 1.5-2 0-1-0.5-2 0-3 0-3 1-12 0-6 5 0 0 6 1.5 4 1 1 1-4 1 0 3 10 1 6 1 1.5 1-0.5 2 1 1-2 0.5-8 2.5-1 1-2-1-2-2-1.5 0-2.5-1-2-0.5-4 5.5 0 0.5 8 0.5 2 1 0.5 2-3.5-1-7 6.5 0 1.5 8 0 1-1 0.5-2-0.5-0.5 1 0.5 1.5 1 0 1 1 2 0.5 1-4 1.5-3-1-2 0-4 3.5 0-0.5 3 1.5 2.5 1-2.5 0-3 10 0 1 2.5 1-1 0.5-1.5 2 0 0 7-1 2 0.5 2 1 0 3-3 2-1 0.5-1-2.5-2-0.5-1 0.5-3 5 0-1 6 3.5 3 0 5 1.5 2.5 1-1 1-3.5-1-5-1-3 0-4 9 0 0 1-2 0 0 6-1 3 1 1.5 1-1 0.5-1.5 0-2 0.5 0 1.5 4 2 2 0.5 1.5 1 0.5 0.5-1 0-1-1-1 1.5-4-1-4 0.5-2 0-1-1-1 7 0 0.5 3.5 2-1 1 0 0-0.5-1-0.5-1-1.5 9.5 0 0.5 7-2 3 0 1 1.5 3-1 6 1 2 1.5 1.5 1-1.5 1 0 0 1-1.5 4-2.5 2-0.5 3 0.5 1 1 0.5 2-2.5 2-1 2-4.5 1-0.5 2 4.5 1 1.5 1-2.5 1-0.5 3 3 1 2 0 1-1.5 4 0 1 1.5 0.5 2-1 1-2.5 0-2 0-2-1.5-2-1-6 1.5-1 1 0 1 2 1.5 2 0 3 1.5 6 1-1.5 1-2.5-0.5-5-0.5-3.5-1-1-1 0.5-1 0-1-3 1-1.5 2-0.5 0.5-1 0-1-1.5-2 1.5-8 0.5-6 2 0-0.5 2 0.5 0.5 1.5-0.5 0.5-2 1 0 0 4-0.5 3 1 3 0.5 5-1.5 4 0.5 1 1 1 1 0 1-1-0.5-3 1.5-3 1-4 1-2-1.5-3 0.5-3-0.5-2 12.5 0-0.5 7 1.5 1 1.5-1 0-2 0.5-0.5 1 2 1-0.5 1-2-1.5-4 5.5 0-0.5 6 1.5 4.5 1.5-4.5-0.5-6 9.5 0 0.5 6.5 1 0 0.5-6.5 20 0-1 3 0.5 4 2 3 1.5-3 1.5-7 6.5 0 0.5 2.5 0.5-2.5 2.5 0 0.5 3-0.5 2-1 1.5-2-1.5-0.5 2 0.5 1.5 1.5 0.5 1.5 2.5 1-0.5 0.5-1 0-5 1-5 5.5 0 0 2.5-1 1.5 1 0.5 0 4.5-1-0.5-1.5 2.5 0.5 1.5 2 2.5 0 117-501 0 0-105 1 2 1 3.5 2-1.5-1-4 2.5-12 1-8 1-5-0.5-1-2-0.5zM72 175l0 1 0.5 1.5 1-0.5 0.5-1-0.5-1-1-0.5zM117 175l-1.5 2 0.5 2 1 2-0.5 3 1 1.5 2-0.5 1 0 0.5-1-3.5-3 1.5-3 0-1-0.5-1-1-1.5zM220.5 175l0 1 1 0.5 1-0.5-1-1.5zM265 175l0 1 0.5 0.5 1 0 0.5-0.5-0.5-1zM93.5 177l0 1 2 2 1-1 0-1-1-1-1 0.5zM376.5 177l-0.5 2 0.5 1 1 0 1-2-1-1.5zM536.5 177l1 0.5 0.5-0.5-0.5-0.5zM263 178l-0.5 1 1 1 1-1-0.5-1zM73 179l-0.5 1 1 1 0.5-1-0.5-1 0-0.5zM284.5 179l-1 1 0 1 2 2 1.5 9-0.5 7 1 1.5 1 0.5 2-2 0-3-1.5-2 0-3 0-2 1.5-2 0-2-3-6-1 0-1-0.5zM422.5 179l-0.5 3-1 2-0.5 3 3 4 1-11 0-1-1-1zM501.5 179l-0.5 1 0.5 2 1 1.5 1-0.5 0.5-1 0-3-1.5-1zM255 180l0.5 1 0.5-1-0.5-1zM356.5 180l1 0zM416 180l0 1 0.5 0.5 1-0.5 0-1.5-1 0zM470 180l0 1 0.5 1 2 0 0.5-1-0.5-1-2-0.5zM223.5 181l-0.5 2 0.5 1.5 0.5-1.5-0.5-2.5zM463.5 182l0 1 1 1 1-0.5 0-1.5-1-0.5zM506.5 183l-1 3 0.5 2 0.5 0.5 4 1.5 0.5 2 0.5 0.5 1 0 0.5-1.5-0.5-2.5-1 0.5 0-1-2-1.5-0.5-2.5-0.5-1-1-0.5zM94 184l-0.5 1 1 1.5 1-1.5-1-1.5zM232 184l-1 1 0.5 3-1.5 6 0.5 2.5 1 1 1.5-2.5-0.5-7 1-2-1-3zM253 184l0.5 0.5 0.5-0.5-0.5-1zM389.5 184l-1.5 2-1 4-1.5 0.5-0.5 1.5 0 1 1.5 1 1 0 1-1 0-1 1-0.5 1.5-2.5 0.5-3-0.5-2-0.5-1zM523.5 184l-1 2 0.5 1 1 1 0 3 1.5 2 1-1 0-1-0.5-7-0.5-1zM195.5 185l-0.5 1 0.5 1 1 0.5 0.5-0.5 0.5-2-1-0.5zM282.5 185l-0.5 1 0.5 0.5 1 0 0-1zM472.5 185l-0.5 3 0.5 1.5 1 0 1-1 0.5-1.5-0.5-1.5-1-1zM478.5 185l-1 2 1 1 1-1 0-1zM513.5 185l-0.5 1 0 2 1.5 1 1-0.5 1-1.5-0.5-2-1.5-0.5zM70.5 186l0.5 2-1 4 0.5 3 1 2 1-0.5 1.5 0.5 1.5 5.5 1.5-2.5 0-3-2.5-2-1.5-2 0-3-1-2 0-2-0.5-1zM141.5 186l0 1 0.5 1 0 2 1.5 3-0.5 3-0.5 2 0 5 2 3 2-1 1.5 3 1.5 0.5 1-1.5-0.5-2-0.5-1-1 0-1 0-1-0.5-1-5.5-1.5-3-0.5-2 1-3-1-4-1-0.5zM301 186l-1 1 0 1 1 2 0 3 0 1-1.5 0.5-0.5 1.5 0.5 1.5 3 0.5 1-4 0-5-0.5-2-1.5-1.5zM368 186l-0.5 1 0.5 1 0.5 0.5 1 0 0.5-1.5-0.5-1-1-0.5zM375.5 186l-0.5 1 0 8-1 3 1.5 5-1.5 3 1 3 1.5 0.5 1-1.5 0-13 1.5-7-0.5-1.5-2-1.5zM382.5 187l0 1.5 1 0 0.5-0.5-0.5-1.5zM417 187l0 1 0.5 0 0-1zM497.5 187l-0.5 3 0.5 2.5 3 0 2 1 1 0.5 0.5-3-0.5-1.5-2 0-1-2zM519.5 187l0 3.5 2 0 1-0.5 0-1.5-1-0.5-1 0-1-2zM131 188l-0.5 0.5-0.5 4.5 0.5 9.5 2.5-9.5-1.5-5 0-0.5zM139.5 188l-1 0.5-1-0.5-1 1 1.5 2 0 3 1.5 1.5 1-1.5 0.5-2-0.5-3zM158 188l0 1 0.5 0.5 1-0.5-1-1.5zM206.5 188l-0.5 1 0.5 1 1 0 0.5-1-0.5-1-1-1zM528 188l0.5 0.5 0.5-0.5-0.5-1zM122 189l-1.5 1 1 1 2-1 0.5-1-0.5-1zM334.5 189l-0.5 2 0 3-0.5 0.5-1.5-1.5-0.5-2-1-1.5-1 0-1 1.5 1 4-0.5 2 0 4 0.5 3 1 0.5 1.5-3.5-0.5-3 2-1.5 0.5 2.5 0.5 3.5 2-3.5 2.5-3 0.5-1-1-1-2-1 1-3-1-1-2-0.5zM362.5 189l-0.5 2 0.5 1.5 1 0 1-1.5-1-1.5zM177.5 190l-0.5 1 1.5 0.5 0.5-0.5 0-1-0.5-0.5zM239.5 190l-1 4 1 6 1-2.5 1-5.5-0.5-2-0.5-0.5zM400 190l0.5 1.5 1-0.5 0.5-1-0.5-0.5-1-0.5zM534 190l-0.5 2 0.5 2 0.5 6 0.5-4 1.5-5-1-2-1 0zM478.5 191l0 1 1 0.5 0.5-1.5-0.5-0.5zM254 192l0.5 1.5 1-1.5-1-1zM405 192l-1 2-1.5 1-2-1-2 0-3 1-0.5 1 0 1 0.5 1 5 0.5 1 0 1-1 1 0 1 1.5 1 2.5 1 0.5 1-0.5 0.5-1.5-1.5-2 0-3-1-3.5zM281 193l-0.5 0 0 2 1 1 1-0.5 1-1.5-1-1zM353.5 193l-0.5 1 0.5 0.5 2 1.5 0.5-1 0-1-1.5-1.5zM467 193l0.5 0.5 0.5-0.5-0.5-1zM475 193l0.5 0.5 0.5-0.5-0.5-0.5zM525.5 194l-0.5 2 0.5 2 1-1 0.5-1-0.5-2-1-0.5zM388 195l0 1 0.5 1 1 0.5 0.5-1.5 0-1-1.5-1zM273.5 196l-0.5 2 3.5 3.5 1-1.5-0.5-1-2.5-3.5zM420.5 196l0 0.5 1 0.5 0.5-1-0.5-1zM519 196l-0.5 1 1 1.5 1-1.5-1-1.5zM96.5 197l-2 0-1 1-1.5 3 1.5 1.5 1.5-2.5 1.5-1zM104.5 197l0 1 1 1 1.5-1 0-1-0.5-0.5-1 0zM125.5 197l0 1 1 0.5 0.5-1.5-0.5-1zM360 197l-0.5 2 0 2 1 1.5 2-2.5 2 0 1-1-0.5-1-0.5-0.5-2 0-1-1.5zM83 198l-0.5 1 0 1 1 0.5 1-1.5-1-1.5zM357.5 198l-1 1 1 0.5 0.5-0.5zM369.5 198l0 2 1 2 2.5-2 0.5-2-1-0.5-2-0.5zM193 199l0.5 1 1-1-1-1zM248.5 200l0 6.5 0.5-1.5 0.5-3-0.5-2-0.5-0.5zM279 200l0.5 1 1 0 0.5-1-0.5-0.5-1 0zM103 201l-1 1-0.5 1 1.5 5-0.5 2 0 1 1 1 1-1-1-3 1-4.5 1-0.5 1 0.5 1-1.5-1-1.5-2 1-1-1zM120.5 201l0 4.5 1 4 0-5.5 0-1.5-1-2zM243 201l0.5 0.5 0.5-0.5-0.5-0.5zM251 201l0.5 0.5 1 0 0.5-0.5-0.5-0.5-1 0zM512.5 201l0 1 1-1zM519.5 201l0 1 1 1 1-1 0-1-1-1zM538.5 202l1 1 1-1-1-1zM44.5 203l-1 2 0 1 0.5 1 1.5 1 1-1 0-1-0.5-3-0.5-0.5zM369 203l0 2 0.5 0.5 1 0 0.5-1.5-0.5-2-1 0zM159 204l-0.5 1 1 2 2 0 1-1 0-1.5-1-1-2 0zM365 204l0.5 1.5 0.5-0.5 0.5-1-1-0.5zM525 204l0.5 1 1 0 0.5-1-0.5-0.5-1 0zM113 205l-0.5 2-2-1-0.5 1-0.5 1 1 1 1 0 1-2 1 1 1-0.5 0.5-1.5-0.5-0.5-1-1zM330 206l0 2 0.5 0.5 1-0.5 0.5-1-0.5-1-1-1zM439.5 206l-1 1.5-1 2.5 1 2.5 1.5-1.5 1.5-4-1-1.5zM61 207l0 4 0.5 1 1 0 2-4-0.5-1-0.5-1zM336.5 207l0.5 1 0.5 0 0-1.5zM537.5 207l-0.5 1 0.5 1 1 0.5 1.5-1.5-1.5-1.5zM140 208l0 1 0.5 0.5 0.5-0.5 0-1-0.5-0.5zM71 210l0.5 1.5 0.5-1.5-0.5-0.5zM74 212l0.5 1 1-1-1-1zM164 212l-0.5 1 1 1 0.5-1 0-1-0.5-0.5zM41 213l0 1 0 1 1.5 0 0.5-1-0.5-1-1-0.5zM117 214l0 1 0.5 0.5 0.5-0.5 0-1-0.5-0.5zM438.5 214l-1 2 0 1.5 1 1 1-0.5 0.5-1 0-1zM445 218l0 1 0.5 1 1-0.5 0.5-0.5-0.5-1.5-1 0zM115 219l-0.5 1 1 2 1 0.5 1 0 0-1.5-1-2.5-1-0.5zM124 219l0.5 1 0.5-1-0.5-0.5zM47 221l-1 1 0.5 1 1 0.5 1-1.5-1-1.5zM464 221l-0.5 0-0.5 1 0.5 0.5 1-0.5 0-1zM443 229l-2.5 1 1 0.5 3 0.5 1-1-1-1zM363 238l-1.5 1 0.5 1 1.5 0.5 3 0 1.5-0.5 0-1-2-1zM191.5 249l-0.5 1 0 1 1.5 0.5 1-1.5-1-1zM44.5 255l-0.5 2 0.5 1 1 0 0.5-1-0.5-2-1-0.5zM206.5 256l-0.5 1 1.5 1 0.5-1-0.5-1zM195 258l-0.5 1 1 1 1 0 1-1-0.5-1-0.5-1-1 0zM198 258l0 1 1.5 2 0.5 2 1.5 0.5 0.5-1.5-1.5-4-1-1zM444.5 263l0 1 1 0 1 0 2-1-2-0.5zM423.5 270l-2 1 3 1 5 0 2-1-2-1zM420.5 281l-1 1 2 1 3 0 2.5-1-1.5-1-3-0.5zM152.5 174l3.5 0-0.5 5-1 4-1 0-1-3-0.5-3 0-3zM159.5 174l0 1zM197.5 174l1 0 0 1.5-1 0.5-0.5-2zM247.5 174l0.5 0-0.5 5.5-1-1.5 0.5-4zM317.5 174l2.5 0 0 2 0 1-2 3 1.5 3-1 1-1 0.5-0.5-2.5-0.5-8zM341.5 174l1.5 0 0 6 1.5 3 0.5 7-1 5-1.5 0.5-1.5-6.5-0.5-4 0.5-11zM431.5 174l1 0-1 0.5zM436.5 174l2 0 0.5 2-0.5 5-1 2-1 0-1-3 0.5-6zM431.5 176.5l2 0.5 0.5 1 0 3-0.5 1-1 0.5-1-3.5zM336.5 177.5l0 3.5-0.5-1zM324.5 181l1-0.5 0 2zM442.5 184l1 0.5 0.5 1.5 1 5-0.5 2-2-1 0-1-1-4zM432.5 185l1-0.5 0 2-0.5-0.5zM448.5 185.5l1 0 0.5 1.5 0 1-0.5 0.5-1-1.5zM54.5 187l1-1 0.5 1 0 1-1 0z" fill="#0000c8" stroke="#000" stroke-opacity="0.7" stroke-width="0.55" fill-rule="evenodd"/>
<path d="M40.5 174l0.5 9-1 12-0.5 1.5 0-22.5zM46.5 174l2 0 0 1-1 0.5-1-1-1-0.5zM57.5 174l3 0-1 8 2 3 0 2-1 3 1.5 6 0 1-1.5 2 0.5 1 1.5 1 1 2 1 1 1.5-3-1-5 0.5-3 1-3 0.5-16 9 0 0 7 1.5 10.5 1.5-3.5 0.5-7 1-3-0.5-4 5.5 0 0 1.5-1 2.5-1-3-0.5 2 1 2 0.5 5-0.5 3 0 4-1 4 0 2-1 1 0 1 0.5 2 1 0 1-2-0.5-2 0.5 0 2.5-3 0.5-3.5 3-3.5 1-2.5 1-1 0.5 0.5 0.5 1 1 1.5 1-0.5 0.5-1-0.5-1.5-1-1-1 1 0-2.5-2.5-2 0-5 5.5 0 0 2-1 0.5-2 0-0.5 0.5-0.5 1 2 2.5 1 0 1.5-1.5 2-5 1.5 0 0.5 2-1.5 4 0.5 3 0.5 8 1 2 3-1 2-1 0.5 2 0 2-3 2-1 3-1.5 2 0.5 9 1.5 1.5 1-1.5 0-3 0.5-4 0.5-0.5 1 0 1.5-1.5-0.5-1-1-1-2 0 0-0.5 2 0.5 3-5.5 3 1 1-1.5 0-2-1-2.5-2.5-0.5-0.5-1 1-4-0.5-10 7 0-1.5 2 0 2 0.5 3 0 3 0.5 1.5 1 0.5 3-0.5 0.5-1.5 0-1-2-1-0.5-1 0.5-4-1-3 4 0 0 2-1.5 3 2 3 1 0.5 0.5-3.5 0.5-5 5.5 0-1 6-1.5 2 0 1 1 1 1 0 1 1-1 8 1 14 1-3.5 0.5-6.5 1.5-6.5 1 0.5 1-2 1 1 1 1 0.5 4 1.5 1.5 1.5-2.5 0.5-4.5 1 4-0.5 3.5 0 6 1.5 3-0.5 3 0.5 2.5 1-3.5 2-0.5 2 2 2-1.5 0.5-2-1.5-3 1.5-2 0.5-2 1 0 2-2 1 1-0.5 3 0.5 2.5 0.5-2.5-0.5-4 1-12.5 1 0.5 1 1 1-2 1 0.5 0 3-1 0-1-0.5-1 2 1 1 1-0.5 1 2 0.5 7.5-0.5 3-2 3 1 2.5 2 0 1.5-1.5 0.5-1.5 1 0 1 0.5 2 2 1 0 0.5-4 0-7 0.5-2 1-1 3 4.5 0 2.5-0.5 4 0 1 0.5 1 2 1 1-1.5 1-3.5 1-0.5 1.5-2.5-0.5-2-2-2-0.5-1 0-1 0.5-0.5 1 0 1-1.5-0.5-1-2-2 1.5-5 1-1 1 1 3 15 0.5-8 1.5-3-1.5-3 0-4-0.5-1.5-0.5-4.5 2.5 0 0 4-1 2 0.5 1 1.5 1 0.5-2 0-2 2-4 2 0 0 4 0.5 1.5 1 0 1.5-2.5 0.5-2 0.5 2 1.5 2.5 1-0.5 1 2 0 1.5-2 0.5-2 3 0.5 1 1 1 0.5 2 2-5 1-0.5 1.5-5.5 2.5-3-0.5-2 2.5 0 0.5 8-1 3 1 2 0 3 0.5 0.5 2-0.5-0.5-5 0.5-2 1-1 1.5 3-0.5 2-1.5 3-0.5 4 0 7 1 5 1-9 1.5-3 0-2 3-3 0-1-0.5-9 0-1 1-0.5 0.5-1.5-1-2 6.5 0-1 0-0.5 1 0 1 2 2 0.5 6.5 1 1 2-1 1 2.5 0 2 1 1.5 0.5-0.5 0.5-1-0.5-2-0.5-5 0.5-8 3.5 0 0.5 8-1 3 0 3-1 2 0 4 0.5 3.5 1 1 2-3.5-0.5-3 0.5-1.5 0 0.5 2 1 1 0 1-1 0.5-1 0.5-5.5 1-2 1 0 0.5 1.5-2 5-1.5 5 1 3 0.5 4 0.5 1.5 1-1.5 0.5-5 1.5-5 1 1.5-0.5 2.5 1.5 2 1-1 0-3 2-3 0-1.5 2 2.5 1 0 0.5-1 0-5 0.5-3-0.5-3 0-5 4.5 0-1 1 0 2 0.5 2 0 2 0.5 0.5 0.5-0.5 0-2 0.5-2 2 1 1-1.5 0.5-2.5 11.5 0 0 1 0.5-1 0.5 0 1.5 10 0.5 1.5 1-2.5 1-0.5 1 0 1-0.5 0-1-1-2-0.5-5 5.5 0 0 8 2 1 0.5 1 1.5 8 0 7 1 2 1 0 1.5-1 0.5-2 0.5-1-1.5-3.5-0.5-2.5 0.5-2 1.5-3-0.5-2-1.5-2-0.5-4-2-1 0-3 5.5 0 0.5 8-1 10 1 5 1 2.5 1-1.5 1-3 1 0 1-1 0-1-2-2 0-1 0.5-3 0-3 1.5-4-1-1.5-2 0 0-0.5-0.5-4 4.5 0 1 3 0.5-3 3.5 0 1 10.5 1 0 1.5-1.5 0.5-9 4.5 0-1 2-0.5 3-2 2 0.5 1 1.5 2 0 6 1.5 6 0 13 0.5 1 1 0 0.5-1-0.5-2 0.5-2 0.5-1 2-1 1-1.5 4 2 1 0 1 2.5 1 1 1-1 0-3 1.5-2 0-1-0.5-2 0-6 1 0 1 2-0.5 6 1.5 5 0 2 1 2 1-0.5 1-1.5-1.5-2 1-3 0.5-4 1 0 0.5 5 0.5 2 2-5 2-2 1-0.5 1 1.5 1 1 1-1 2 0.5 0.5-0.5 1-2 0.5-7 0.5-1 1.5-0.5 1.5-1.5 0.5-1 0-1-3-3 0-2-1.5-2-0.5-4 5 0 0.5 11 0.5 1 1.5-1 1.5-4-0.5-7 5.5 0 1 8-2 0.5-1 1.5 0 1 1 1 3 2-0.5 5-1 3-1.5 2.5-1-1-1 0-0.5 1.5 0.5 0.5 1 0.5 1-0.5 1 4 2 4.5 0-5 1-2 1-0.5 1 0 1.5-1.5-0.5-1-1-1-1 0-1-1-0.5-1 2.5-4-1.5-3 1-6 1-2-1-2 0-4 3 0 0 3 0.5 2.5 1 1.5 1.5-4 0-3 6 0 0.5 2-1 3 0.5 3-1.5 3 0 5-0.5 4-1 2-0.5 0.5-2 0-1 1-0.5 3.5-1 3 1 2 0.5 0.5 1-0.5 1-1 0-3 2-1.5 1 1 0.5 1.5-1 2 0 2 1 2 1.5 1 1-2 0.5-11 1-9-0.5-2-1-1-0.5-3 2-4-1-2 0-2 1 0 1.5 4 1.5-2 0.5-1.5 1 2.5 0 3-1 3 0.5 3-1 1 0 1 0.5 0.5 1 0.5 1-1 0-2 1 0 0.5 3-1.5 2 0 2 3 2 1 2.5 1 0 1-1.5-0.5-2 2-7-0.5-4 0.5-1 0.5 0 1 0.5 1 1.5 0.5 6 2 3-1 1-1.5 1 0 2 0.5 1 2.5 1 4-0.5 1-0.5 1 0 2 4 1 0.5 1-0.5 0.5-2-1-2-1-7-0.5-1.5-1 0.5-1 4-1 0.5-2-1.5-2 0-0.5-1 1-6-0.5-5-1.5-3 0-4 6 0-1 10 0.5 1 1 1 1-0.5 1-2 4 5.5 1 0.5 1-1.5-0.5-3 1-4-1-3 0-3-0.5-1 6.5 0 0 4-1.5 2 0 1 1 1 1.5-1 1-3 1.5-1 0.5-1-1.5-1-0.5-1 6 0 0 3-2.5 1-1 2 0 2-1.5 4 0 1 1.5 2 2 5 1-3 0-5 1-6 0-6 2 0 0.5 6-1.5 3-0.5 2 1.5 2.5 0 1.5-2 6-1 0 0 5 1-1 0.5-2 0.5-1 1.5 2 0.5 2-1.5 3 0 3 0.5 1.5 1 0 3-2 1 0.5 1.5-5 0.5-0.5 1-0.5 1 3 1 4-0.5 10 0.5 3 1 0 2-2 0-1-1.5-4 2-3 0.5-1.5 2-0.5 0 2-1 1 0 1 0 1 1 1 3-0.5 1-2.5 0.5-5-1.5-2.5-0.5-2.5 0-2 0.5-1 1 0 0.5 1 2 2-0.5 4 2 6 1-1 0.5-2 0.5-3-0.5-7-0.5-1.5-1-1.5-1 1-1-0.5 0-0.5 0-1 2-1 0.5-2-0.5-4 1.5-11-0.5-2 1.5 0-0.5 2 1 1 1-0.5 1-1 0.5 0.5 0.5 2-0.5 3 1 3 0 4-1 5 0.5 1.5 1 1 1 0 1-1.5 0.5-3 1-2 0.5-4 1-1 1 0.5 1-0.5 0.5-1-0.5-2-1-0.5-1 0.5-1-1-0.5-2 1-2-1-2 12 0-1 4-1.5 1-1 0-1 1 0 1 2 3-1 9.5 1 0.5 1-1 3 1 0.5-1-0.5-0.5-1 0-0.5-0.5 0-2 1.5-3-1.5-3 0.5-1 2-1 1-1 0-1.5 1 2.5 0 2-1.5 3 1.5 2 0.5-1 0.5-2 0-5 1-3-1-4 4.5 0 0 6 1.5 7 1-2.5 0.5-4.5 0-6 9 0 1 19 0.5 1 2-1.5 1 0 2 1.5 1 2 1-5-1-3 0-0.5-1 1-1 0-1-1-1.5-0.5-1-2 0-11 20 0-1.5 3 0 4 1.5 3 0 3 1 4 0.5 1 3.5-2 0.5-1 0.5 2 1 2-0.5 3 1 2.5 1-1 0.5-1.5 0-3 0-5-0.5-5-1-1.5-3 3.5-0.5 2-0.5 0.5-1-1.5 0-2 2.5-10 5.5 0 0.5 4-0.5 4 1 1 1 0 2 3.5 1-0.5 1-2 0-5 1-3 0 1 1 1 1 0 1-0.5 1 2.5-1.5 5 2 5 0.5 5 0 5-2.5 2 0.5 1 1 0.5 1-0.5 0 4.5 0-0.5-2-1-1.5 1-0.5 1 1 1.5 1 0.5 1.5-1 0.5-1 0 98-501 0 0-104.5 0.5 1.5 0 4 0.5 1 3-1 2 1.5 1.5-1.5-0.5-4-1-1-2 1-0.5-2 2.5-12 1-8 0-1 1-1 0-1 0 2 1 2 0.5 3-0.5 3-1.5 4 1.5 5 0 7-0.5 2 1.5 2 1 0 0.5-1 2-4-0.5-5 1-0.5 0 3.5 0.5 1 2.5 1 2 3.5 1-1.5 0.5-5-0.5-1-1 0-1-1-1-2 1-2 2.5-1-1-2-1-4 0-3 0.5-2-1.5-3zM71.5 175l0 1 1 2-0.5 2 0.5 1 1 0.5 1-1.5-0.5-1-0.5-1-1 0 1 0 0.5-2-0.5-1.5-1-0.5zM265 175l-0.5 1 1 1 1-0.5 0.5-0.5-0.5-1.5-1-0.5zM347 175l0.5 1 0.5-1-0.5-0.5zM263 178l-0.5 1 1 1.5 1-1.5 0-1-1-0.5zM502 178l-1 1-0.5 2 1 2 1 1 1 0 1-2-0.5-3-0.5-1zM356.5 179l-1 1 1 1 1 0 0.5-1-0.5-1zM506.5 181l-1.5 6 2 3 0.5 1.5 1 1 0.5-1.5 0.5-0.5 1 1.5 1 1 1 0 1-1 0.5-2 1.5-0.5 1-1.5 0.5-2-0.5-1-1-1-1 0-4 2.5-0.5-0.5-1-3zM253 183l-0.5 1 1 1 0.5-1-0.5-1.5zM71 185l-0.5 1-1 6 1 5.5 1 1 1-1.5 1 0 1.5 6 0.5 4 0.5-4 1.5-4 0-2 0-1-1-1-1 0-2-2 0-3-1-2 0-2-1-1.5zM282 185l0 1 0.5 1 1 0 0.5-1 0-1-1.5-1zM300 186l0 2 0.5 2 0.5 2-0.5 1-1.5 2-0.5 1 1 2 2 1 1 0 1.5-4 0-8-2.5-2zM367.5 186l0 2.5 2 1 1-1.5-0.5-2-0.5-1-1 0zM416 187l0.5 1.5 1 0 0.5-0.5 0-1-0.5-0.5zM528 187l-0.5 1 1 1 1-0.5 0-1.5-1-0.5zM122.5 188l-3 2-0.5 3 1 14 1.5 6.5 1 0.5 0-10-2.5-8 0-3 0.5-1.5 1 0 2.5-1.5 0.5-1-0.5-1-0.5-0.5zM400 189l-0.5 2 1 1.5 1.5-1.5 0-1-0.5-1.5zM534 189l-1 2 1 3 0 6 0.5 3-1 3 1 0.5 0.5-0.5 0-4 2-11-1.5-2-1-0.5zM254.5 191l-1 1 1 2.5 1-1.5 0.5-1-0.5-0.5zM279.5 191l0.5 4 1.5 3-2 1-1 1 0 1 1 0.5 1.5-0.5 1-4 1.5-3-1-1.5-1.5-0.5-0.5-1-1-0.5zM478 191l0.5 1.5 1 0 0.5-1.5-0.5-1-1 0zM467.5 192l-0.5 1 0.5 1 1-1-0.5-1zM353 193l0 1 0.5 1 1 1 1.5 0 0.5-1-0.5-2-1.5-0.5zM96.5 195l-0.5 1-2.5 1.5-1.5 2.5 0.5 2 1 1 3.5-4 0-2zM420.5 195l-0.5 1 0.5 1 1 0.5 1-1.5-0.5-1-0.5-0.5zM126 196l-1 1 0 1 1.5 1 1-1 0-1-1-1zM249 196l-0.5 0.5-1 5.5 1 8 1 1 0.5-10-0.5-6zM273 196l0 2 3.5 4 0 3.5 1 0 1-5.5-4-5-1 0.5zM518.5 196l-0.5 1 1.5 3 0 2 1 1 1-0.5 0.5-1.5-1.5-1.5-1-0.5 1-1 0-2-1-1zM193.5 198l-1 1 1 1.5 1-0.5 0.5-1zM415.5 198l-0.5 2 0.5 2 0.5-1zM251.5 200l-1 1 1 1 1 0 0.5-1-0.5-1zM242.5 201l1 0.5 0.5-0.5-0.5-1zM512 201l0.5 1 1 0 0-1.5-1 0zM365.5 203l-1 1 0 1 1 0.5 1-0.5 0.5-1zM525 203l-0.5 2 1 1 1-0.5 0.5-1.5-0.5-1-1-0.5zM112.5 205l-1 0.5-1-0.5-1 1 0 2 1 1.5 3-0.5 1.5-2-0.5-2.5-1-0.5zM184 205l0.5 1 2 0.5 1-1.5-3-0.5zM63 206l-1.5 0-1 1 0 1 0 3 1 1.5 1 0.5 1-1 1-4-0.5-2-0.5-0.5zM336 207l0.5 1.5 1 0 0.5-0.5 0-1-0.5-1-1 0.5zM140 208l-0.5 1 1 1 1.5-1-1.5-1.5zM70.5 210l0 1 1 0.5 1-0.5 0-1-1-1zM255.5 210l0-0.5zM74 211l0 1 0 1 0.5 0.5 1-0.5 0.5-1-0.5-1.5-1 0zM164.5 211l-1 1-0.5 1 1.5 1.5 1-1.5 0-2 0-0.5zM40 213l0.5 2 1 1 1-0.5 1-1.5-1-1.5-1-0.5zM185.5 213l0 1 1 1 0.5-1-0.5-1.5zM116.5 214l0 1 1 1 1-1 0-1-1-1zM234.5 217l0 0.5 1-0.5zM446 217l-1.5 1 0 1 1 1.5 1 0 1-1.5-0.5-1-0.5-1.5zM115 218l-0.5 1 0.5 2 1.5 2 1 0 0.5-2-1-2-0.5-1zM124 218l-0.5 1 1 1.5 1-1.5zM186.5 218l-0.5 2 0 1 0.5 0.5 1 0 0.5-1.5-0.5-2zM224 218l-1 1 0 1 0.5 1 2 0 0.5-1 0-1-1.5-1.5zM56.5 219l-1 0.5-0.5 0.5 0.5 0.5 4 1.5 0-1.5zM463.5 220l-1 2 1 1 1.5-1 0.5-1-0.5-1-0.5-0.5zM46.5 221l-0.5 2 1.5 1 1-1 0-2-1-1zM437.5 221l0-0.5zM389 229l2.5 0zM440.5 229l-0.5 1 0.5 1 3 0.5 2 0 1-0.5 0.5-1-1-1-1.5-0.5zM375.5 232l1.5 0zM526.5 232l2 0.5 1.5-0.5-1.5-0.5zM447.5 233l1 0.5 1.5-0.5-1.5-1-1 0.5zM530.5 233l1 1 1.5 0-0.5-1.5-1 0zM362 238l-1.5 1 0.5 1 3.5 1.5 3-1 1.5-0.5 0-1-1.5-1-2-0.5zM448.5 247l1 0.5 1.5-0.5zM86.5 249l4.5 0zM191 249l-0.5 2 1 1 1 0.5 0.5-0.5 1-1-0.5-2-1-0.5zM44.5 254l-0.5 3 0.5 1.5 1 0 0.5-1.5-0.5-3zM195 256l-0.5 2 0 2 1 0.5 2-0.5 3 4 1 0 1-1 0-2-1.5-3-1.5-1.5-2-0.5-1-0.5-1 0zM206 256l0 1 0.5 1 1 0.5 1-1.5-0.5-1-0.5-0.5zM443.5 263l-1 1 3 0.5 2.5-0.5 2-1-3.5-0.5zM234.5 270l1.5 0zM241 270l1.5 0.5 1.5-0.5-1.5-0.5zM251.5 270l-1 1 1 0.5 1.5-0.5-0.5-0.5zM422.5 270l-2 1 1.5 1 2.5 0.5 5 0 2-0.5 1-1-1.5-1-1.5-0.5zM52.5 272l-0.5 1 1.5 0zM421 280l-2 1-0.5 1 2 1 4 0 3-1-1-1-4-1-1-1zM175.5 298l2 0.5 2-0.5zM104.5 174l2 0-1 9 1.5 4-0.5 3-3-4 0-2 1.5-2-1.5-5 0.5-3zM142.5 174l2 0 3 9.5 1-1.5 0.5 1-2 8 1.5 3-0.5 1-0.5 1.5-1 1-2-4.5 0-8-1-0.5-1 0.5-2 1-1-1 0.5-2 2-3-0.5-6zM152.5 174l3 0-0.5 4-1.5 3.5-1-4.5zM162.5 174l2 0 0 6-2.5-3-0.5-3zM169.5 174l0 5.5-0.5-5.5zM194.5 174l0 1zM222.5 174l1 0 0 0.5-1 0-0.5-0.5zM236.5 174l2.5 0-1 2-0.5 2.5-1-1-0.5-3.5zM256.5 174l-1 0zM317.5 174l2.5 0 0 1-0.5 2-1.5 2-0.5 1.5-0.5-6.5zM327.5 174l4.5 0 0 9 1.5 4-1 3.5-2-2-2 0-0.5-0.5zM329.5 177l1 1 0.5-1zM341.5 174l1 0 0.5 6 1 4 0 7-0.5 3-1-1.5-1.5-7.5 0-11zM388.5 174l3.5 0-0.5 4.5-1 1.5-2.5-3 0-3zM436.5 174l1.5 0 0.5 5-1 2.5-1 0-0.5-1.5zM530.5 174l1.5 0 0 3-0.5 2.5-1.5-1.5zM536.5 174l4 0 0 1-2 2-0.5-1-2.5-1 0-1zM54.5 177.5l1 2.5 0 1-1 1.5-1-2.5zM432.5 177l1 1 0 2-1 1-0.5-3zM137.5 180.5l1 1 1 2.5 0 2-1 2-1-0.5-1 0.5-0.5-5 0.5-1.5zM169.5 181l1 4 0 4 0 1-1 0-1.5-1-0.5-3 1-3.5zM164.5 183l1 5-1 5.5-1-0.5-0.5-3 0.5-4.5zM245.5 182.5l1.5 0.5 0.5 3 0 1.5-2-0.5-1-1 0-2.5zM336.5 183.5l1 1.5 0.5 3 0.5 2 0.5 2-0.5 1-1-1 0.5-2-2.5-3 0-2zM132.5 185l0 3.5zM321.5 198l0.5 1-1 0zM164.5 199l0.5 1-0.5 0.5zM440.5 203l1 1 0.5 1-0.5 0.5-1-0.5-0.5-1z" fill="#0000f4" stroke="#000" stroke-opacity="0.7" stroke-width="0.55" fill-rule="evenodd"/>
<path d="M80.5 174l1 0 0 2.5zM92.5 174l1.5 0-0.5 1-0.5 0zM120.5 174l0 1.5-0.5-1.5zM125.5 174l1.5 0 0 4-0.5 3-1 2.5-0.5-2.5zM217.5 174.5l1.5-0.5 2 4 0.5 7 1 2.5 1.5 1.5 0.5 5-0.5 15-1 6-1.5 2.5-3 1-4-1.5-1-1 0-5 1.5-2-3.5-4.5-0.5-3.5 0.5-4 2-3 1 0 2 6.5 0.5-1.5 0.5-3-1-8-0.5-8zM228.5 174l2 0 0 7 0 1-1 1-1-2.5zM252.5 174l1.5 0-0.5 6-1 1-1-3 0-4zM261.5 174l1 0-1 4 0 2 1 2 1 1 2-4 2.5-3 0-2 1.5 0 2 8 1.5 10-0.5 6 0.5 2 1.5 2 1 3.5 0.5 9.5-0.5 2-1 1.5-2-1.5-1.5 2-2 2 3.5 1.5 2-0.5 0.5 2-2 2 0.5 1 1 0.5 2 0.5 1-0.5 1.5-1.5-1-2 0.5-1.5 1-0.5 1 0.5 1-0.5 0.5-1-0.5-2-2 0.5-1-0.5-1-4 1.5-11 0.5-1 1 0 2 1 0.5-2 0.5-5 1-3-2-3.5 0-1.5 2-1 1 3 0 8 1 4.5 4-0.5 0.5 3 0.5 6 0.5-4 1-2 0.5-1 3-1.5 4 9 1.5-8.5 3-8 0.5-6.5 1-2 0.5 1.5-1.5 3 1.5 9 0.5 1 1-1 0.5-4 0.5-0.5 1-0.5 0.5 2 0 11 1.5 4 1 0.5 1-2.5 1-1 2 0.5 0.5-0.5 1-3 1.5-2 1 0 1 0.5 1.5 3.5-2 10-2 5-0.5 3-1 1-2-1.5-1 0-1 0.5-1 1 0 1 0 1 1 1 1 0.5 3-3.5 1 0 2 2 2-2.5 1-0.5 1 0 1 3.5 2-1 2 2.5 4-0.5 3-1.5 0-1.5-1 0-3-1.5 0-2 1-2.5 1-0.5 1 1 1 1.5 2-3 1 0 2 0.5 3-1.5 1 0 1 0.5 1.5-3-0.5-0.5-1 0-1 2-1 0-3.5-1.5-1.5-1-0.5-1 1-3 0.5-6 1-3.5 1 1.5 1 4.5 1 1 1-1.5 1-4-1-4 0-2 1.5-8 1.5-1 0.5 1-0.5 4 1 3.5 1 0 1-3 1 1 1 1.5 1 2.5 2 1.5 1 3 1 5-1 9 1 6-1 3 0.5 1 1.5 1 2 0 4.5-1 2-1-4-2-0.5-1 0.5-5-1.5-9 0.5-3 0.5-0.5 1 0.5 2 6 1 1.5 1 0.5 1 4 1 1 2-0.5 3 1 1.5-0.5 0.5-1-1-1.5-4 1-1-0.5-0.5-3 1.5-4 1-0.5 2 2.5 1-0.5 1-5.5 2-26 1-2 0.5 2-0.5 6 2 5.5 2.5 2.5 1.5 3 1 1.5 1-1.5 1 0 3 4.5 2-1 1 1.5 0.5 2 0 2-1.5 1.5-1 0.5 0 0.5 2 0.5 1-0.5 0.5-4.5 1.5-3.5 1-1.5 2 0.5 3 3.5 1 0.5 1-0.5 2-4-1.5-5 0-3 0.5-1 2-0.5 2-3 1 1 0.5 1.5-0.5 9 0.5 3 1.5 3 1-0.5 1-1.5 1 0.5 1.5 4.5 0 6-1.5 5 1 3.5 1 0.5 2-3 2 0.5 1 1 1 2.5 1 0 1-2.5 1 0 4 0.5 2 1.5 2-0.5 1.5 1 0 2-0.5 3 2 4 1 0.5 4 0 3 0.5 2 0 1-1 0.5-1-2-4 0.5-1 3-2 0-0.5-3.5-1.5 0-1 0-3-1.5-3-0.5-2 0.5-3 1-4 1 7 1 1 1-1 0.5 1 0 5 1 3 0.5 0.5 1-1.5 1.5-4 0-4-2.5-7-0.5-11-1-11 1-7 1.5-1 1 0 0.5 8-0.5 7 1 6 1 11.5 1 3 1.5-8.5 0-7 1.5-4 1 1.5 1 4 1-5 1 0 2 1 0.5 0.5 0 6 0.5 1.5 2-2 1 1 0.5-0.5 0.5-1 0-3 1-2 3-3 1 1 1 0 1.5-2-1-3 0.5-8 0.5-3-1-4 3.5 0 0 11-1 3-0.5 3 0.5 7.5 5 5.5 1-1.5 0.5-2.5-1-16 0.5-5.5 0.5-1.5 2.5-3 4 0-0.5 13 0.5 7 1 3 1 1 2-4 1 0 1 1 0 10-0.5 2 1.5 1 0.5-1 1.5-9 1-2.5 1 2.5 0 4 1 5 1 0 2-5-0.5-4 0.5-2 1 0.5 0.5 1.5-0.5 1.5-1 0.5 0.5 2 1.5 1 1 0 1-1 2-4 1 1 1 5 3 3 0.5 4 0 4-1 1-2.5 1 0.5 1 1.5 0.5 2 3 3 0 1.5-1.5-1.5-2-0.5-2 0.5-3.5 1-1.5 1.5 2 1.5 3.5 0.5-0.5 0-8 1.5-2 2 2 0.5 2 0.5 4-1.5 2 2.5 0 1-1.5 2-1 2 2 0 90.5-465.5 0 1-1 0-1-1.5-1-1 0-2 1-0.5 1 1 1-29.5 0 0.5-1-0.5-0.5-2-0.5-1 0.5 0-29.5 14 0 7-1.5 9-1.5 6 0.5 5-1 5 0.5 5-1.5 3 1 2 0 1.5-0.5 1-1-1-1-1.5-0.5-2 0-3 1-5-2-6 0-7-2-3-2-5.5-1.5-5.5-3-3-0.5-5 0-3-1.5-1-3-1-1-1 0-1 1-1 2.5-3 1.5 0-34 2 2.5 1 0 2-3.5 3 4.5 2-1.5 3 1.5 3-2 1.5 1.5 1.5 4 1 0.5 2-6 1-1 1 1.5 1 5.5 1 1 2-2.5 1 1 1.5-2-0.5-1.5-3 0-0.5-1.5-1.5-10 0-4 2.5-10-1-6 1.5-4.5 1-0.5 1 6-0.5 3-2 4 0.5 1 2 8.5 1.5 1.5-0.5 0-1 2 0.5 3 0.5 1 1 0.5 0.5-0.5-0.5-6 1-0.5 2 0.5 1 0 1-1 0.5-1 0-3 0.5-1.5 1 0.5 1 4-2 7 0.5 2 0.5 2 1 0.5 2 0 1 0.5 0.5 1-1 4 1.5 2 2-0.5 3-0.5 0.5-2-0.5-2-1 0-1 1-1.5-1 0.5-1 2-0.5 1-1.5-0.5-7 0.5-2 4-2-4-3-1 1-3 2-2 3-1-1-0.5-1 0-2 1-2 1.5-1.5 1-6.5 1.5-4 1.5-1 1-5 1.5 4 1 6 2.5 3.5 1 0 2-1 1-2 1-3.5 0-4-2-8 2-9 1-1.5 0 1.5-0.5 2 0.5 2 0 9 1.5 5-0.5 17-0.5 1-1.5 0-2-2.5-1.5 3.5 1 2 0.5 1 1 0.5 4-4 4 0 0.5 2.5-0.5 4 2 1.5 1 0 2 7.5 1-1 1-3.5 1 1 0.5-0.5 1.5-0.5 1 0.5 0 1-1 0.5-2-0.5-1.5 2 1.5 1.5 3 0.5 0 1-2.5 1 0.5 1 4 0 2-3 1 0 2 1 2 0 2 1.5 1-1 0.5-1.5-0.5-2-1-1.5-2 1-2-0.5-2 1-1-1-2-10 1-2.5 1 1 1.5 4.5 1.5 1 2-1 1-1 0-2-2-2-0.5-1-0.5-8 1-4.5 3-1 1 1.5 0 6 0.5 4 2 3 0.5 4.5 1 2.5 1-3-1.5-8 0.5-11 1-5 2-1.5 1 0 1 3.5-2 8 0.5 10 0.5 2 1.5-3 0.5-6.5 0.5 1.5 1.5 2-0.5 3 1 3 1 5 2.5 1.5 1 1.5 0.5 3 0.5 1.5 0-4.5 0.5-1 1.5-1 0-1-3.5-2 0.5-3 2 0 2 1.5 1.5-3.5 1-5 0.5-0.5 1 0 1 1.5 1 0 1-0.5 1-3 1 1 1 3 1 1 1-1 3 3.5 1-0.5 3.5-5.5 1-4 0.5-6 1-2 0.5 6 0.5 2 3 5.5 1 1 1-3.5 2.5-3 1.5-4.5 1.5 11.5 0 1 2 2-0.5 2-1 2 1.5 2 1.5 4.5 1 0 1-2 0.5-4.5-1.5-12 1.5-3-2.5-2-1-2-1-9 0.5-2 1.5-3-0.5-3 0.5 0 1-2 1-5.5 1-0.5 1.5 4 0.5 9 1 1.5 1-2 1 0.5-0.5 3 0 3-2 4 1 4 0.5 4-0.5 5 0.5 4 1 0.5 0-0.5 0.5-8 3.5-3 2 12 4-7 0-1-1.5-4-1.5-2-1-3.5-2 1.5-1-2 0-2 1-4.5 1-1 1-2 1-8.5 1-2 1-0.5 1 0.5 0 1-0.5 5 1 6 0.5 2 1 0.5 0.5 0.5 0 2-0.5 6 0.5 8 2 3 2 2 1 6 2 3 0 3-1.5 3 0.5 1 1.5 1 1 0 1.5-1 0-1-1-3 0-3 0.5-2 1-1 1-0.5 3 1.5 1 1.5 2 1.5 3-2 3 1 1.5 1 1.5 3.5 1 0.5 1-2 3-3 1 0 1 2 0 4 0.5 2 1.5 2 1 0.5 3-4.5-2-2-2-4 0-2 0.5-2-1-2-1-5 0-1 1.5-2-1-3 0-3 1-1 3-0.5 1 1 1 12.5-0.5 4 0.5 0.5 3-4.5 1-6-0.5-5 0.5-1.5 2 0 0.5 2.5-0.5 4 0.5 1 1.5 2 1-1 0.5-2-1-11 0.5-7-1-2-2-1 0-1 2-5 2-1.5 1-1 1.5-2.5 1-4zM261.5 186l-0.5 5 0.5 6 1 1 0 3 0 1-2 2 0 1 1 2 3-1 1-1-1-3.5-1.5-2.5-0.5-9-0.5-3zM480.5 201l-1 6 1 12 0 1.5 1 1.5 2.5-7-1-2-1.5-11.5-1-1zM272.5 204l0 1 0.5 0zM286.5 205l-2 5 0.5 8 3.5 3.5 1-0.5 1-2-0.5-1-2-3-1-7 0.5-2-1-1.5zM307.5 207l-1 1.5 0 1.5 0 4.5 1-1 0.5-2.5 0-3-0.5-1.5zM498 207l1.5 0zM468.5 210l0 2 1 1.5 1-1.5 1-0.5 2 0.5 1-1-1-1-3 0.5-1-1-1 0zM344 213l1 0zM394 217l-1 3 0.5 2 1-1 0-1 0-3.5zM405 217l-1.5 1-1 0.5-1-1.5-0.5 3 0.5 1.5 2 1.5 1 2-0.5 1-0.5 1-3 2 1 1.5 3 1 2 0 1.5-1.5-0.5-1.5-2.5-2.5 0-1 2-3 0.5-2-1-2.5-1-1zM351 218l1.5 1 0.5-1-0.5-1-1 0zM463.5 218l-3 2-0.5 1 0.5 1 3 2 2.5-1 2.5-3-0.5-1-1.5-1zM475.5 218l-1.5 1-0.5 1 0.5 1 1.5 1 1.5-1 0.5-1-1-2zM177.5 219l-2 1 0 1-1.5 2 4.5 2.5 1-0.5 0.5-4-1-2zM292.5 219l0 1 2 1 2 0 1-1-0.5-1-1.5-1-2 0zM304.5 219l-2 1 1 1 3 0 1-1-1-2zM469 219l0 1 0.5 0 0-1.5zM103 220l-0.5 1 1 1 2-1-0.5-1-1.5-0.5zM414.5 220l1 0.5 0.5-0.5zM314 221l1.5 1 1.5-1-1.5-0.5zM197 225l1.5 1 3-1-3-1-1 0.5zM93.5 226l0 4 1 0 0.5-1-0.5-2.5zM179 227l-2 1-0.5 1 4 1 0.5-1-0.5-1-1-1.5zM135 228l-2 1-0.5 1 3 3 1 0 1.5-3-1.5-3zM186 228l-1.5 1 2 0.5 1-0.5-1-1.5zM387 228l-0.5 1 0.5 1 1.5 0.5 3 0 3.5-1.5-1-1-2.5-0.5-3 0zM97.5 229l1 1.5 1-0.5 0-1-1-0.5zM493 229l-0.5 1 1 1 1 0.5 3-0.5 1-1-1-1-2-0.5zM46.5 230l0 1 1 0.5 1-0.5 0-1-1-0.5zM72 231l-1 1 2.5 2 1.5-2-1.5-2-1 0.5zM372.5 231l-2.5 1 2.5 1 4 0.5 3-0.5 1.5-1-0.5-1-4-0.5zM525.5 231l-2 1 1 1 7 2 2 0.5 1.5-1.5 0-2-2.5-2-5 0.5zM508.5 233l-1 1 2 1 3.5 0 2.5-1-2-1zM127 235l-0.5 1 1 1 2 0.5 1-0.5 0.5-1-2.5-1.5-1 0zM167.5 235l-1.5 1 0.5 0.5 1 0 1.5-0.5-0.5-0.5zM255 235l1.5 0-1-0.5zM363 236l-3.5 1-1.5 1-0.5 1 1 1.5 3 1.5 4 0.5 5-1 4 0 1.5-0.5 1-1-0.5-1-2-1-8-1.5zM480 236l-1.5 1 2 1 3 0 2.5-1-0.5-1-2-0.5zM536.5 236l0 1 1 0.5 1.5-0.5-0.5-1-1-0.5zM76.5 237l-3 0-1.5 2 0 1 1 3-1 1-0.5 1 9 1.5 0.5 0.5 0.5 3 1 1.5 1 0.5 3 0 10-2 5-4-1-1-2-0.5-4 1.5-1 0-6-2.5-6-1.5-1-1 0-1 0.5-1 2-1 0-1-2.5-0.5zM158.5 237l1 1 2-0.5 0.5-0.5-1.5-0.5zM440.5 237l-3.5 1-1 1 2.5 1 4-0.5 1-0.5 0-1-2-1zM250.5 238l0 1 1 0.5 1.5-0.5 0-1-0.5 0zM280 238l-3 1 2.5 0.5 2 0 1.5-0.5-1.5-1zM155.5 239l-1 0-1 1.5 1 1 2 0 1-1.5zM233 239l-1.5 1 0 1 1 0.5 3 0.5 1.5-1 0.5-1-1-1-2-0.5zM333 239l-0.5 1 1 1 2 0 1.5-1-1.5-1zM413.5 239l-0.5 1 0.5 1 1 0.5 2 0 1.5-1.5-0.5-1-1-0.5zM422.5 239l-0.5 1 1.5 1.5 3-0.5 1.5-1-0.5-1-1-0.5-2 0zM94 240l0.5 0.5 1-0.5zM527.5 240l-1.5 1 2.5 1 4 0 1.5-1-1.5-1zM471 241l-3 1 2.5 1 2-0.5 1.5-0.5zM186.5 242l1 1 1 0 0.5-1zM244.5 242l-0.5 1 2.5 1 4 0 1.5-1-1.5-1-3-0.5zM155 243l-2.5 1-1 2-5 1-2.5 1-1 1-1.5 4-2 1.5-9 3-7 0.5-2 1-0.5 1 0.5 1 2 1 2 0.5 5-0.5 4 0.5 9 0 7-1 5 0.5 2.5-1 1-1-0.5-1-2-1-4-1-1.5-1-1-1 0-1 1-1 5.5-1.5 2-1.5-1-3 2-2 0-1-3-1.5-1 0zM315.5 243l0.5 1 0.5 0 1.5 0 0-1-1.5-0.5zM353 243l-0.5 1 1 0.5 1 0 1.5-0.5-0.5-1zM208 246l-2 1 0.5 1 1 0.5 2-0.5 1.5-1-1.5-1zM296.5 246l-2.5 1 1.5 0.5 3 0.5 2-1-2-1zM444 246l-1.5 1-1 2 1 2 2 2 0 3 2 1 2 0.5 3-0.5 2.5-1-7.5-3 0-1 2-2 5-2 1.5-1-0.5-0.5-1-0.5-4-1-3 0.5zM168 247l2 2 1.5 0.5 2 0 1-0.5-0.5-1-2.5-1.5-3-0.5zM191 247l-2.5 1.5-4 0.5-2 1 1 1.5 4 1.5 1 1 0 2-1 1-3-0.5-2 0.5-1.5 1-0.5 2.5-5-0.5-1 1 0 1 1 1 3 0 4-1 5 1 1.5 1 1.5 3 3 2 2 0 3-1 2 0 1 0-1 1 0 1 2 1.5 3 0.5 4-1.5 1 0 3 1.5 4 0.5 0.5 1.5 2.5 1 1.5 0 2.5-1.5 5-1 5 0.5 12-1.5 5 1 2 0 2-1.5 0-1.5-2-1-6 0-11-1.5-12 0-5 1-5-0.5-5 1.5-3-1-3.5-1 6.5-5.5 0.5-1.5-0.5-4-2-2-2.5-1-3.5-4-3-2-4-1zM232 248l-1 1 0 1 1 1 1.5 0.5 3 0 2-1.5 0-1-2-1.5-2-0.5zM505.5 249l2 1 2 0 2-1-3-1-2 0.5zM133 250l-0.5 1 1 0.5 2 0 1-0.5-1-1zM254 250l1.5 0zM485 252l-1 1 1 1 1.5 0.5 3-0.5 2-1-3-1zM81 253l1.5 0-1-0.5zM350.5 256l1 0.5 1.5-0.5-1.5-0.5zM523 257l0 1 0.5 0.5 3 1.5 1 1.5 6 1.5 1 1-1.5 1-0.5 1 1 1 2 1 2 0 2-1 1-1-1-1.5-3-1.5 1-0.5 1.5-1.5 0-1-1.5-1.5-2-0.5-2 0-5 1.5-0.5-1.5-1.5-1.5-2 0zM172 258l0 1 1.5 0.5 1 0 1-0.5 0-1-1-0.5zM235 258l-3.5 1 2 1 4 0 2.5-1zM242.5 258l-1.5 1 6.5 3 5 0 2-1-2-0.5-5-1-2-2zM286 258l-2.5 1 2 1 3 0 2-1-2-1zM318 258l-2.5 1 3 1 5 0 1.5-1-1-1-1.5 0zM395.5 258l-1 1 1 1 2 0.5 4-0.5 2-1-3-1.5zM364 259l2.5 0.5 1.5-0.5-1.5-0.5zM374.5 259l1 0.5 2-0.5-1-0.5-1-0.5zM106 260l-1.5 1-3.5 0-1.5 1 1.5 1 1.5 0 1 0 2-1.5 3 0.5 2-0.5 1-0.5-0.5-1-0.5-0.5-3-0.5zM89.5 261l0 1 2 1 3-1 0.5-1-2.5-1-2 0.5zM442.5 262l-1.5 1-0.5 1 1 1 2 0.5 4-0.5 4.5-1 1.5-1-2-1-4-1-3 0.5zM490 263l-2 1 2.5 1 3 0 2.5-1-2.5-1zM325 265l2.5 2 2 0.5 1.5-0.5-0.5-2-1-0.5-3-0.5zM170.5 266l-0.5 1 2.5 1.5 2 0 2-1.5 0-1-2-1-2 0zM376.5 267l1 1 1 0 1 0 0.5-1-1.5-0.5zM404.5 268l2 1 2-1-2-1zM122 269l-0.5 1 0 1 3 1 7 0 12 2 2-1 1-1 0-1-1.5-1-8.5-2-6 0.5-5-0.5zM363.5 269l-1 1 0 1 1 1 3 0 1.5-1 0.5-1-1.5-1-1.5-0.5zM392 269l-1 1 1 1 1.5 0.5 3-0.5 1-1-0.5-1-1.5-0.5zM425.5 269l-8 0.5-1 0.5-1 1 1 1 4 1 7 0.5 5-0.5 2-1 1-1-1-1-3-1zM181 270l-1 1 0.5 1 2 1 3-0.5 1-1.5-2-1.5-2 0zM525 272l-1.5 1 0.5 1 1.5 0.5 8 0 2-1.5-1-1.5-2-0.5zM232.5 274l-1.5 1 0.5 1 2 0.5 2-0.5 0.5-1-1.5-1.5-1-0.5zM289 275l-2 1 2.5 1 3.5 0 1.5-1-2-1zM102 276l0 1 1.5 0.5 2-0.5 0-1-1-0.5zM196 276l0 1 0.5 0.5 2.5-0.5-0.5-1-1-0.5zM43.5 278l0 1 1 1 2 0 1.5-1-0.5-1-1-0.5-2 0zM134 278l1.5 0.5 1.5-0.5-1.5-1zM322 278l0.5 1.5 3 0 2 1.5 2 0.5 6 0 1.5-0.5 1-1-0.5-1-2-0.5-9 0-3-1zM421 278l-1.5 0.5-4 2.5-0.5 1 1.5 1.5 3 0.5 6 0 3.5-1 1.5-1-1-1-1-0.5-6-2.5zM144 279l0 1 2.5 0.5 3.5-0.5-1-1-2.5-0.5-2 0zM234 279l-1 1 1.5 1 1 0 1-1-1-1zM342.5 279l-0.5 1 1 1 1.5 0.5 2-0.5 1-1-0.5-1-1.5-0.5zM127.5 280l1 0.5 1-0.5zM223 281l-1 1 2.5 0-1-1zM316.5 281l2 0.5 1.5-0.5-1.5-1-1 0zM515.5 281l2 0.5 3.5-0.5-3.5-1zM98 282l1.5 1 2-1-1-0.5-1 0zM123 283l1.5 0zM344 283l-1 1 1.5 1 2 0 0.5-1-1.5-1.5zM227 284l1.5 0.5 1.5-0.5-1.5-0.5zM422 291l4.5 1 3.5-1-3.5-1zM95 293l-4 1-1 1 2.5 0.5 7 0 2-0.5 0.5-1-3.5-1zM414 293l1.5 1 2-1-1-1-1 0zM171.5 297l-1.5 1 1 1 3.5 1 5-0.5 4.5-1.5-2-1-4.5-1-3 0.5zM74.5 299l-0.5 1 2.5 0.5 6-0.5 2-1-3-0.5zM339 300l1.5 0.5 1-0.5-2-0.5zM342.5 301l2 0-1-0.5zM279.5 174l1.5 0-0.5 4zM290.5 174.5l1 1.5 0 3 0 3-1 0.5-0.5-4.5zM295.5 174l0.5 0-0.5 2-0.5-2zM318.5 174l0 2-0.5-2zM329.5 174l1.5 0-0.5 1zM365.5 174l1 0-1 4-1-4zM398.5 174l3 0 0 4-1 3-2-4.5zM414.5 174l1.5 0-0.5 4-1 0zM499.5 174l0.5 0 0 2-0.5 6.5-1-4.5 0.5-4zM504.5 174l0.5 0 0 1-0.5 2-1-3zM68.5 175.5l1 0.5 0.5 3-0.5 3 0 4-1 3.5-1-1.5 0-2 0.5-4 0-4zM356.5 175.5l1-0.5 0 2-1-1zM302.5 178l0 4-0.5-1zM400.5 181l0 2.5zM114.5 183l1 5 2 3.5 1 5.5 0 6-1 2-2-1-0.5-2 0-12-1-5zM476.5 184l0 2.5zM276.5 185.5l1 0.5 0.5 8-0.5 2-1 0-1.5-2 0-1 0.5-4.5zM128.5 187l0 3.5zM466.5 187l1 0 1 2-0.5 1-1.5 1-0.5-1zM476.5 187l0.5 3-0.5 2-1-1 0-1zM530.5 188.5l1 0 1 1.5 0.5 4-0.5 10-1 2-3-2-1-3 1-10zM298.5 189.5l0 2-0.5-1.5zM416.5 190l1 0 1 1 0.5 2-0.5 6-1 0-1.5-7-0.5-1 0.5-1zM157.5 190.5l1.5 0.5 0.5 2-1 9-1-0.5-1-8.5 0-2zM122.5 193.5l0 1.5zM522.5 193l1 1 0.5 5-0.5 2.5-1-1.5-0.5-2 0-3zM537.5 196l1 1 0 2-1 2-1 0.5 0-4.5zM233.5 197l0.5 1 1 5 0.5 1.5 3 1 1.5 1.5 0.5 6-1 3-1 0.5-2-2.5-0.5-5-0.5-1-3-2 0 8-1 2.5-1 1-2-1-2-3.5-0.5-6 0.5-2 5-1zM242.5 196l1 2-1 1-0.5-1zM72.5 200.5l1 0.5 0.5 2-0.5 3.5-1 1-2-1.5 0.5-2zM421.5 202l1 0 1 5 2-1.5 1 3 2 2.5-0.5 2-0.5 0.5-1 0-1 1-2-2.5-1 2.5-1.5-5.5zM447.5 202l1 0 0 2.5zM338.5 202.5l0.5 1.5-0.5 0.5-0.5-0.5zM434.5 202.5l1 0.5 0.5 9-0.5 5.5-1 2-0.5-1.5-0.5-4zM138.5 203l1.5 1 0.5 1-2 2 0 1-0.5-3zM327.5 206l1.5 4 2 2-0.5 1-1-0.5-0.5 1.5 0.5 0.5 1-0.5 1 0.5 0.5 2.5-1.5 5-1-2.5-1-0.5-1 3-1 1.5-1 0-1-0.5-0.5-1 0-7 1-6 1.5-3zM54.5 207l1.5 1 0 2-0.5 1-1 0-1-1.5 0-1.5zM106.5 206.5l1 1 0.5 4.5 0.5 1 3-0.5 1 1.5 0.5 2-1.5 4.5-0.5-1.5-2-2-1.5-4-1 0zM315.5 206.5l0.5 0.5-0.5 1zM162.5 209l0.5 1-0.5 1-0.5-1zM335.5 210.5l2 0.5-1 6-1 1-1 0-0.5-3 0.5-3zM81.5 216.5l1-0.5 0.5 1-0.5 1.5-1-0.5z" fill="#ffff00" stroke="#000" stroke-opacity="0.7" stroke-width="0.55" fill-rule="evenodd"/>
<path d="M218.5 175l2.5 4 0.5 8.5 2 2.5 0.5 5-0.5 14-1 6-1 1.5-2 0-1 0.5-1 0-1-2-1 0-0.5-3 0.5-1 1 0 0.5-1-0.5-2-1-2 0-1 1-1.5 1-3.5 0-5-1-8 0-7 1-4zM221.5 200l0-0.5zM219 210l0.5 0.5 0-1.5zM229.5 174l0.5 0 0 2-0.5 4.5-0.5-4.5 0-2zM252.5 174l1 0-1 5-0.5-5zM400.5 174l0 4-0.5-2zM480.5 174l2.5 0 0 1 0 9-1 3-0.5 2.5-0.5-1.5-0.5-7 0.5-3zM493.5 174l1.5 0 0.5 5-1 11 1 8.5 2 1 1-1 1-3 1-1 0.5 1.5 0 9-0.5 1-2 0-1.5 1 1.5 0.5 2 0 2 2.5 1.5-2 0.5-5.5 1-1 2 8.5 1-1 2-5 1-0.5 2 0 3-3 2 5 2.5 2.5 0.5 5-0.5 2-1.5 1-2 0.5-2-1-0.5 2.5 0.5 1.5 1-1 1-0.5 1.5 1 3 3 1.5 0.5 2-0.5 4-1.5 1 0 1 3 1 1 0.5-2.5-0.5-1.5-1.5-1.5-0.5-1 1-1.5 3 1 3-0.5 3 1.5 0 4.5-0.5 1 0.5 1.5 0 34-3-1.5-7-0.5-5-1.5-3 0.5-0.5 1.5 1 2-0.5 7 1 3-1 3 0.5 1 1.5 1 2 0 8 0 2-1 2.5-3 1.5-1 0 36-462.5 0 2.5-1.5 7-2.5 5-4 3-1 5-0.5 3-1.5 0-1-1-0.5-6-1-4.5 0.5-9.5 2.5-9 1-4 1-2 1.5 0 1 2 2.5 0 2.5 1 1-27 0 0.5-1-0.5-1-2-1-2 0.5 0-27 2 1 0.5 1.5 1.5 1 3 0.5 2.5-1.5 1.5-2 13-2 16-2 6 0 5-0.5 5 0.5 6-1 2 1-2 1.5-1 1.5 0 1 2 1.5 2 0 2-0.5 1-1 0.5-1-0.5-1-2-2-0.5-1-1.5-1-5-3.5-4.5-1.5 0.5-1 3-1 7 0 6-1.5 2-1.5 0-1.5-3-1.5-3 0-4 0.5-5-1-3 0-3 1-3.5 1.5-1.5 2 1 2-2 0.5-3-1.5-4-3-2-1-12-2-13 0-3-1-3-3.5-1.5 0.5-2.5 2.5-2 0 0-28 2 2.5 1 0 2-4.5 1 1 0 1.5-0.5 3 0.5 1 2 0.5 1 0 1.5-1.5 0-1-0.5-1 0-1 1 0 2 1.5 2-1.5 1 0 1 0.5 2 5 1 0 2-3.5 1 0 2 4.5 3 1 1.5 1.5 1.5 5-1 3 2 1 7 1.5 1 1 1 2.5-1 2.5 1 1 2 0 3-1.5 14-3 1.5-1 1.5-3-0.5-1-1.5-0.5-5-0.5-2.5-1-1-1 2.5 0 1.5-1 0.5-1-1-1-3 0.5-2 2-5-1.5-1-1 0-2-1-2 0.5-1 1.5-1.5 3 1 1.5-2.5-0.5-6 1-5.5 1 0 1 2.5 0 7 1 3.5 1 0 1-1.5 1-0.5 2 1.5 2-2 0-1-2-2.5-1-0.5-1 2-1-2.5-0.5-4.5 0.5-1 2 3.5 2-5.5 2-1 1 0 0.5 1-1.5 2 0 1 1 2 1 5.5 1-4.5 1-0.5 3 3 1 5 1 0.5 1-0.5 1 0.5 0.5 2 1.5 1 4 0 3-2 4 1 0 2 0.5 1 1.5 0.5 3 0.5 2-1 3 0.5 1-0.5 2-3 2 1.5 3-7.5 1.5 6 0.5 0.5 1 0 0.5-0.5 4-9 0-5 1.5-6.5 1 0 1 1.5 1 0 2-3.5 1 0.5 1 3 1 0.5 1-1 1 0 2 3 3-3.5 1-0.5 2 2 0.5-1.5-0.5-2 0-3 0-2 1-1 1 5 1-0.5 1 1 1 2.5 1 1 2-4.5 1-0.5 1-1.5 1 2 0.5 3.5 2 2-0.5 1.5-2 0.5-1 0.5-3-1.5-4 2-1 0-1-1-0.5 1 1 4 0.5 1 3 1 0.5 1-1 3 1.5 1.5 4 1.5 2-3 6 2 1-11 0-5-1-3-1-4 1-1.5 1-1 2 1.5 0.5 1 0 6 1.5 4.5 1 0.5 2.5-6 1.5-2 2 11-0.5 1-2.5 0.5-1 1.5 1 1.5 3 1 0.5 4.5 1.5 1.5 1 0 3 1.5 1-0.5 2-3.5 0-1-2-2.5-3 1.5-1-0.5-1-4.5-1.5-3 1.5-5.5 2-3.5 1-1 1 0.5 4 4.5 0.5 4 2 6-0.5 2-2 2 0.5 1 3.5 2.5 1-0.5 3-2 0.5-1-1.5-2-0.5-2 0-3 1.5-1.5 3 2.5 2 3 1 2 1 1 4-1-3-1-0.5-1 0.5-2 1-1 3 1.5 2 3.5 2 3 4-4 1 1.5 2 5.5 1 1.5 1 0 2-3.5 1-1 2 0.5 2 3 2-1.5-0.5-1 0.5-4-1-2-1-0.5-1 1-2 0.5-2-0.5-1-0.5-1-4 1-1.5 1 0 2 1 2-1 1 0.5 0.5-2 0-5 0.5-3 1-1 3 3.5 1.5-2.5 0.5-2-1-11 0-7-1-5 1-3 1-0.5 1.5-2.5 1.5-3 0.5 3-0.5 9 1 11-1.5 4 0.5 2-0.5 15 0.5 4 1 0 1-18 1-0.5 1.5 0.5 0.5 5 1-2-1-10.5-2-5.5 0-8 1.5-5 1-3 2.5-2.5 1-0.5 0.5 5 1.5 4 0.5 5 0 11-0.5 2-1 1 1 3-0.5 10-1 2-2 2 1.5 1.5 2 1 0.5 0.5 0.5 3 2 1.5 2 1 1-0.5 4.5-4 3.5-3.5 1 0 2 1.5 1 0 1-2 1-0.5 4 1.5 3-1 2 0 1 0.5 1 2 2-1.5 4 0 1 3.5 1-4.5-1-2-1 0-1-2 2-5.5 1-1 1 1.5 1 2.5 1 0.5 1-3.5 0.5-0.5 1 0 1.5 1.5 1-1 1-1.5 1-3 1-1.5 1 1 0.5 2.5-1.5 8.5-1 2-1 1-4-0.5-2 0.5-0.5 0.5 1.5 1.5 4 0 0.5 0.5-0.5 2-1 1-2-0.5-3 2.5 0 2 0 1 2 2 1 0 3-2.5 1 0.5 2 2.5 1 0 1-1 1 0 2 2.5 2-1 2 1 5-2.5 2-0.5 1-2 0.5-5 0.5-1.5 1-0.5 2 1 1-0.5 2-1.5 1 0.5 1 0.5 2-3 1-0.5 2 4 1-1 1-4.5 0-1-2-1-3 0-0.5-1-0.5-7 0.5-3-1-2-0.5-3 0-2 1-2 3 6.5 1-4 1-0.5 2 5 1 0 1 1 1 5-1.5 9 1 7-0.5 3 3 4.5 1 0 0.5 0.5-0.5 1-1 0-1 1-3 3-0.5 1 0.5 2-1 1-3 0.5-0.5 1.5 2.5 1 2.5-1 0.5-1 1-0.5 6 0.5 11-1 1.5-1 0.5-1 0-1-1-1-10.5-3-1.5-1-0.5-1 1.5-2 2-0.5 0.5 2.5 1.5 1 7 0 4-0.5 1-1.5 0-1.5-1-0.5-2 0.5-2-0.5-3 0.5-3.5-0.5 0-2-0.5-1-1-0.5-2-0.5-1-2 0.5-3 0-5 0.5-1 2 6 1 0.5 2 0.5 2-0.5 3 1 2.5-0.5 0.5-1-1.5-5 1-11 1.5-20 1-1 0-2 0 3-0.5 2 1.5 6 1 1.5 2 1.5 0.5 1 1.5 5.5 1 1.5 1-2.5 1-0.5 3 4.5 2-1 0.5 1.5-0.5 2-2 0.5-0.5 0.5 0 1 1 3-1.5 4-2 2-2-2-1 4 1 3 2-2.5 3 2 1-0.5 1-3 0-7 2-1 0.5-1 1-5 0.5-2 1-0.5 1.5 1.5 0.5 1.5 1-1.5 1 0.5 1 2 2 0 0.5 0.5 1.5 5.5 0-7.5 2-2 1-4 0.5 3 2.5 4.5 2-1.5 1 1 1 7-1 4.5-1 0.5-3-0.5-3 1-0.5 0.5 0.5 1.5 1-0.5 5 2 2 3.5 3-2 2-1 1 1 1 2.5 1-0.5 1-2 3-1 2 1 1 1.5 1 0.5 2-1 1 1.5-0.5 4 1.5 4 0 1-1 1-4 1-1 1 3 1.5 5 0 3-0.5 1.5-1 0-1-1-1 0.5-1 1 0 2 0.5 3-1.5 1.5-2-1.5-4 1-1 2-1 3-6 1 0 1.5 2 3.5 1.5 7-3.5 0.5-1-1-4 0.5-3 1-0.5 3 0 1-1.5-1-1.5-1-0.5-2 1-1-0.5-0.5-1.5 0-2 0.5-1.5 1-1 2 3 1-8.5 0.5-2 1.5-1 1-0.5 1 1 1 0.5 1-2 0.5 0 0.5 1-0.5 2-1.5 2 0 3 0 15.5-1 2-2-2.5-1 0-2.5 2-1 1 3.5 2.5 3-2 1 0.5 2 3.5 0.5-0.5 1-2 1.5-5 1.5-1 0-1-1.5-1-1-2-0.5-9 0.5-0.5 2 0.5 2 2.5 1-1.5 1-4-0.5-17 0.5-4 2-3.5 1-0.5zM268.5 186l0 3.5 0.5-2.5 0-1-0.5-0.5zM401.5 213l-2 7 1 2.5 2 2.5-1 1-1 0.5-1.5 2.5 1.5 2 1 0.5 3 0.5 2 0 1.5-1 0.5-1-1.5-4 0-1 0.5-2 1.5-3 0-1-2-2-1.5-4-0.5 2-1.5 2-1-1-1-3 0-0.5zM537.5 223l-1 6.5-1 0.5-3-1.5-3 1.5-6 1-1.5 1 1 1 8.5 2.5 3 0 0.5 1.5 1.5 1 2 0 1-1 0-1-3-2 1-0.5 0.5-1.5 0-4 1.5-4-1-1zM387.5 227l-2 2 0.5 1 1.5 1 4 0 3.5-1 1.5-1-2-1.5-6-1zM490.5 228l-0.5 2 0.5 1 4 1 4-0.5 0.5-0.5 0-1-0.5-1.5-4-0.5-3 0.5zM198.5 230l-0.5 4 0.5 2 1-1 0.5-3-0.5-1.5-1-1zM307 233l1.5 1 2-1-1-1-1 0zM507.5 233l-1 1 1.5 1 1.5 0.5 6-0.5 1-1-1-1.5-6 0zM252.5 234l0.5 1 1.5 0.5 2 0 1-0.5 0-1-1-0.5zM165.5 235l-2 1-5 0-2 1-3 1-1.5 1-0.5 1 0 2-1 1.5-8 2-4 3-4 0-2 0.5-1 1 0 1 1.5 2-0.5 1-4 2-7 1.5-2 1.5-0.5 1 0.5 1 2 1.5 5 1.5 1.5 1-1 1-5.5 1.5-7 2.5-1.5 1 0 1 4 1 14.5 2 1.5 1-1 2 1.5 1 2 0.5 4-0.5 4 2 5 0 3-1-3.5-3 0-1 0.5-1 3-2.5 7-1.5 2-1 0.5-1 0.5-2-3.5-2 3.5-0.5 2 0.5 0.5 2 2.5 1.5 6 0.5 6 0 0.5 3 2.5 1.5 3 0 5-0.5 5 1 0.5 1-0.5 1 0 1 2 1 2 0 1.5-1 0.5-1-0.5-1 0-1 10.5-0.5 4.5 0.5 3.5 1.5 3 0.5 8 0 3.5 2-1.5 1 0 1 1 1 2 0.5 2 0 1.5-1.5-0.5-1-1.5-1-0.5-1 1.5-1 1-2 6-1 8.5 0 3-0.5 1.5-1.5 0.5-1-1-2-3-1-16-1.5-17 0-5-1-1-0.5-1.5-4-5-8 0-2 2.5-1.5 1.5-1.5-1.5-1.5-3-0.5-5 1-3-1-3.5-3-0.5-1 0.5-3-0.5-1-2 3-2 0.5-4 0.5-2 1 0 1 1 0.5 3 0.5 1 1-2 2-2 0.5-6 0.5-8-4-6-3.5-4-1.5 3-1.5 3 0 1-1 0.5-0.5-0.5-1-1-0.5zM482 235l-3.5 1-1 1 1 1 5 0.5 2-0.5 1.5-1-0.5-1-3-1.5zM250 237l-1 1 0.5 1.5 3 0.5 1.5-1 0-1-0.5-0.5-3-1zM234 238l-2.5 1-1.5 1 0.5 1.5 2 1.5 0 1-5 4 0 1 0.5 1 1.5 1 3 1.5 4 0 3.5-1.5 1.5-2 1-3.5 8-1 1.5-0.5 0.5-1-2-1.5-4-1-3 1-3 2-1-1-0.5-2.5-1-1-2.5-1.5zM277 238l-1 1 2.5 1 3.5 0 2-1-1-1-1.5-0.5zM331.5 238l-1 1 0 1 2 1.5 2 0.5 2-0.5 1-0.5 1-1-0.5-1-1.5-1-3-0.5zM423 238l-2.5 1.5-1 0-2-1.5-3 0-2 1-0.5 1 0.5 1 2 1 2 0 3-1 4 1 2 0 2.5-1 1-1 0-1-2.5-1.5zM140.5 240l-0.5 1 1.5 1 2 0 1-1-1-1zM526 240l-1.5 1 1 0.5 4 1 4 0 1.5-1.5-0.5-1-2-1-4 0.5zM468.5 241l-1.5 1 2.5 1 4 0 2-1-1.5-1-1.5-0.5zM314.5 243l0.5 1 1.5 0.5 2.5-0.5 0.5-1-1-0.5-2-0.5zM444 245l-4 2-1 2 0.5 2 3 5 2 1.5 3 0.5 6-1 2-1-1.5-1-3.5-1-1-1-0.5-1 1.5-2.5 5.5-2.5-1-1-5.5-1.5zM294.5 246l-1.5 1 2.5 1 4 0 2.5-1-1-1-1.5-0.5zM504.5 248l-0.5 1 0.5 1 2 0.5 4-0.5 2-1-1.5-1-1.5-0.5-3 0zM253.5 249l-0.5 1 1.5 1 1 0 1.5-1-1.5-1.5zM483 252l-0.5 1 0.5 1 2.5 1 5-0.5 2-1.5-1.5-1-3.5-1-3 0zM349.5 256l1 1 1 0 1.5 0 1-1-1.5-1-1 0zM230.5 258l-1.5 1 1.5 1 4 1 6.5 0 5.5 2 6-0.5 2-0.5 1-1-2-1-5-1-2-1.5-2-0.5-4 0.5-6 0zM284 258l-1.5 1 1.5 1 1.5 0.5 4-0.5 2-1-1.5-1-1.5-0.5zM316 258l-1.5 1 1 1 8 1.5 3-1 1-1.5-0.5-1-2.5-1zM363.5 258l-1.5 1 2.5 1 4 0 2.5-1-3.5-1zM374 258l-1.5 1 2 1 2 0 1.5-1-0.5-1-1-0.5zM393.5 258l-0.5 1 0.5 1 3 1 6-0.5 2-1.5-1-1-4-1-3 0zM443.5 261l-2 1-1.5 1-0.5 1 1 1 2 1 5-0.5 5.5-1.5 1.5-1-2-1-5-1.5zM345.5 263l1 0.5 1 0 1-0.5-1-0.5-1 0zM487 263l-0.5 1 1.5 1 2.5 0.5 4-0.5 2.5-1-1.5-1-2-0.5-4 0zM324 264l-0.5 1 1 1 4 2 2-0.5 1-0.5 0.5-1 0-1-0.5-0.5-2-1-3-0.5zM377 266l-2 1 0 1 1 3 5.5 2 4 0 5-1 5 0 2-0.5 1.5-1.5-0.5-1-1-0.5-2-1-6 0.5-6-1-4-1zM404.5 267l-1 1 1 1 1 0.5 3-0.5 1-1-2-1zM364 268l-2.5 1-1 1-1 3.5-1 0.5-12 0.5-7 3-9-0.5-7-0.5-2 0.5-1.5 2-3.5 1-1 1 1 0.5 2 0.5 4-0.5 11 1.5 6-0.5 1.5 0.5 0.5 2 1 1 2 0.5 2-0.5 1.5-1 0.5-1 0-2 2-2 7-3 2-2.5 8-1 4.5-1.5 1-1-0.5-1-4-1.5-2-0.5zM414.5 269l-2 1 0 1 2 1.5 3 1 14 0 4-1 1.5-1.5-1.5-1.5-4-1zM287.5 275l-1.5 1 1.5 1 2 0.5 4 0 2-1.5-1-1-2-0.5zM418.5 278l-4.5 3 0 1 0 1 2.5 1 11 0 3.5-1 1-1-1.5-1.5-8-3-2 0zM128 279l-2 1 0.5 1 3 0 1.5-1-1.5-1zM223 280l-2 1 0 1 0.5 0.5 4 0.5 1 1 2 1 1 0 1.5-1-1.5-1.5-2.5-0.5-1.5-2zM514 280l-0.5 1 3 1 3 0 3-1-1.5-1-3.5-0.5-2 0zM98.5 281l-1 1 1 1 2 0.5 2-1.5-1-1.5-2 0zM122 283l1.5 1 2-1-1-1-1 0zM422.5 290l-3 1 4 1 5 0 3-1-1.5-1-1.5 0zM414 292l-0.5 1 1 1 1 0.5 2-0.5 1.5-2-0.5-0.5-2-0.5zM172 296l-3 1-1 1 1.5 1.5 4 1 4 0 9-2.5-8-2zM190.5 298l2.5 1 1.5 0 1 0 0.5-1-2.5-1zM338.5 299l-1 1 2 1.5 4 0.5 1 0 1.5-1-1.5-1.5-4-0.5zM333 304l-1.5 1 1 1 2 0 1-1-1-1zM189.5 177l1 3 0.5 9 1.5 6-1 4 0 3-2 2.5-1-0.5-2-3-1-4-0.5-5 0.5-2.5 1.5-1.5 0-4 1-6 0.5-0.5zM455.5 178.5l0.5 0.5 0.5 5-0.5 9 1 7 0.5 11.5-2-3.5-1-5-0.5-18 0.5-5zM203.5 179.5l0.5 1.5 0 4 0 6-1.5 11-2-7 1.5-14 0.5-1zM98.5 180l0.5 4-0.5 7.5-1-5.5zM68.5 184l0 3zM476.5 190zM531.5 190l1 2 0.5 3-0.5 8-1 1.5-1-0.5-0.5-2-0.5-9 0.5-2 0.5-1zM157.5 191l1 0.5 0.5 1.5-0.5 3.5-1 0.5-0.5-5zM276.5 190.5l1 2.5-1 1.5-0.5-1.5zM284.5 190.5l0 2zM412.5 190.5l0 7.5-0.5-5zM99.5 192l0.5 4 0 15-0.5 2-1 0-1-3-0.5-3 2-8 0-6zM116.5 192l1 2.5 0.5 4.5-0.5 3.5-1 0.5-1-1-0.5-4 0.5-4.5zM67.5 193l1 0.5 0.5 3.5-0.5 2.5-1 1-1-3.5zM213.5 196l0.5 1 0.5 3-0.5 2-1.5 0.5-0.5-3.5 0.5-2zM284.5 195.5l1 8.5-1.5 4-0.5 1-1.5 1 1.5 1 0.5 2 0 2-0.5 1-1 0-1-2-2 3-1-1 0-2 1-9 1-1 2 2 1.5-4zM88.5 196l1 1 1.5 6 2 5-0.5 1.5-1 0.5-2-2-1-0.5-2 2-1 0-0.5-0.5 0-3 0.5-4 1-2 1 0zM305.5 196.5l1 6.5-1.5 9 0.5 5-1 1-3 0.5-0.5-0.5-0.5-2 1.5-5 0.5-7zM462.5 197l1.5 4 0.5 0.5 1-0.5 1 0.5 0.5 1.5 0.5 4 0 5 1 4-1 1.5-4-0.5-2 1-1-1-0.5-2 1.5-14.5zM133.5 198l1-1 1 2-1.5 12-0.5 1-0.5-8zM125.5 204.5l1 0 1 2.5 0.5 7-0.5 1.5-1 0.5-1-1-1-3 0-4.5zM244.5 204.5l1 0.5 0.5 1 0 4 0.5 5-0.5 2-0.5 1-1 0.5-1-0.5-1-1-0.5-4 0.5-2 2-1 0-1-1.5-2 0.5-2zM252.5 204.5l1 0.5 0 1 0 1-1 2-1-3zM229.5 206l1 0 1 2 0 5.5-1 2-1 0-1-1.5-1.5-4 0.5-2zM274.5 206l1 3.5 0 2.5 0 2.5-1 2.5-0.5-1-0.5-7 0-2zM289.5 205.5l1 2.5-1 4.5-1-4.5zM237.5 207l1 0 1 4 0 3-1 1-1-0.5-0.5-1.5zM295.5 207l1 0 2 3.5 1.5 5.5 0 1-1.5 1.5-2-1-2-0.5-1-1 0-7.5zM342.5 206l1 2 0.5 3-1.5 1.5-1-1.5 0-1zM531.5 207l1.5 1 0.5 5 0 1-2 1.5-1-2.5 0.5-5zM66.5 208l1 2 1 5-1 8.5-1-0.5-1.5-7 0.5-5zM425.5 208.5l0 2.5-0.5-1zM434.5 208.5l1 0.5 0 2 0 2-1 3.5zM326.5 209.5l0.5 1.5 0 5-0.5 3-1 0.5 0-3.5zM374.5 214l1 0 1 2-0.5 1-1.5 1-1 0-0.5-2 0.5-1.5zM526.5 213.5l1 0.5 1 3 0 1-1 0.5-1-0.5-1-2zM342.5 214.5l4 0 0.5 1.5-0.5 1.5-1 0.5-2-1-1-1zM138.5 217l1 0.5 0.5 4.5-0.5 4-1 1-1-2 0-2zM119.5 218l0 0.5zM75.5 218.5l0.5 3.5 1.5 5 1 2 4.5 5 0 1-1.5 0.5-2.5-0.5-1-1-0.5-3-2-1-0.5-1-0.5-4zM128.5 218.5l1 0 1 2 1 5.5 0 1-1 1-1 0-2-2.5-2 1-1.5-0.5-0.5-1 2.5-2zM120.5 220l0 2.5zM121.5 223l2 2-0.5 1-1.5-0.5-0.5-2.5zM134.5 222l1 2-1 2-0.5-1zM181.5 222.5l1-0.5 1 0 1 1 1 3 0 1-1 1-2 1-1-1-0.5-2zM132.5 233l0.5 1-0.5 1-0.5-1zM536.5 234.5l0 0.5zM162.5 250.5l2 0.5 6 2 10-0.5 4 1.5 0.5 1-3.5 1.5-3 1.5-4-1.5-6 0.5-8.5-2-1-1 1.5-2z" fill="#ffc800" stroke="#000" stroke-opacity="0.7" stroke-width="0.55" fill-rule="evenodd"/>
<path d="M481.5 174l1 0 0.5 3-0.5 4-1 2-0.5-8zM494.5 175.5l-1 22.5 0.5 6-0.5 3 0.5 1 0.5 0.5 2-0.5 4 1 2 4 3-0.5 2 2 1.5-2.5 2.5-6 1-0.5 2-0.5 1-1 1 0.5 2.5 5.5 0.5 3 0 1-2 0.5-2-3-1 1-1 5.5 1 5.5 1 0 1-2 1 0 2 1.5 1 0 2 1 5.5 0 1.5 2 0 2-7 2-3 1.5-2 0.5-2-0.5-3 0.5-4-0.5-3.5 1.5-0.5 1 2 1.5 4 1 5-0.5 5-2 6 1 3 1 1 1.5-1 0.5-6 2-1 1 0.5 1 1.5 0.5 6 1 3 0 3-1 4-5 0 19.5-8-1-6-1.5-3 0.5-2 1-1 2-1 16 1.5 1 7.5 1 5 1.5 7-0.5 0 29-201 0 1-1.5 4-1 2.5-1.5 0.5-1 0-1-3.5-4 1-1 16.5-14 11-4.5 4-0.5 11-0.5 9-2 7-2.5 3 0 2 1 5 4 0 1-2 5 0.5 2 2.5 3 0 1-2.5 4 0 1 0.5 1 2 1 2 0 5-2 9 0 3.5-1 1-1-0.5-1-2-1-13 0-2-1-0.5-1 1.5-1 4.5-1 9.5-0.5 2-1 1.5-1.5-0.5-1-2-1.5-13-3.5 0.5-1 3.5-0.5 10 0.5 10-3 2-1 1.5-4 1.5-1 6-2 1-1-1-1-5.5-2 0-1 5.5-1.5 2-1.5-1-1-5-2-0.5-1 1-2 5.5-2 0.5-1 0-1-1.5-1-6-2-1-1 5-4.5 1-3.5 0-5 2-4 1-0.5 3 0 2 1 4-2 2 0 2-1.5 1 0.5 2 1.5 1 0 2-1 1 0 1 1.5 1 2.5 1 6-0.5 1-2.5 1-3 2 0.5 1 2.5 1.5 5 0 4.5-1.5 1-1 0.5-1-1.5-2 1.5-1 2-0.5 5 0.5 2 1 1-1 0.5-3-0.5-2-1-1.5-2 0.5-4 0-1-1-1-7.5-2.5-7.5 2-9 0.5-23 1-2 2 0zM470 240l-3.5 0.5-2 1.5 1 1 2 0.5 6 0 3-0.5 1-1-0.5-1-1.5-1zM503 247l-1 1-0.5 2 0.5 1 1.5 1 2 0 4-0.5 4-1.5 1.5-1-1.5-1-5-1.5-3-0.5zM483 249l-2.5 2-0.5 2 0.5 1.5 3 4.5 0 1-1 3 0 1 2 1.5 4 0.5 6 0 3.5-1 1-1-1-1-9.5-2-1.5-1 0-1 1-2 6-3 0.5-1-1-1-8-3zM514 276l-2.5 4 0 1 1 1 3 1 4 0 4-1 2-1-1-1-5-2-1-2-1-0.5zM218.5 176.5l1 1 0.5 1.5 1 12-1.5 13-1 1.5-0.5-1.5 0.5-8-1.5-15 0.5-3zM188.5 178.5l1 0 0.5 1.5-0.5 11-1.5-6zM266.5 179.5l1 0.5 0.5 1-0.5 10 1 4 2-6.5 1 4.5-0.5 5-0.5 1-1-1.5-0.5 1.5-1 5 2 6 0 5-1 3-2.5 3 1.5 2 0.5 3 1 2 1-0.5 3 4.5 3 0.5 1 0 3-2.5 2 0.5 3-6 1 0 1 0.5 1 2 1-0.5 1-3 1-1 4 1 3-0.5 2 1 0.5 1 1.5 7 0 3-1.5 5 1 4-9.5 2-1.5 1 1 1 4.5 1 5-0.5 3-1.5 0-2 1-1 5-1 5 2 2 0 4-0.5 5 1.5 5-2.5 11-1.5 5 0.5 3.5 2.5 2.5 1 3 0 4-1 13-0.5 3-1.5 2.5-2 0-2-1-3 0.5-1 2-0.5 4-3 4 0.5 9-1.5 4 2 5 0.5 6-1.5 1-3.5 1-1 2 2 1 2 1 0.5 2-2 4-2.5 1 1 1 3 2-3.5 3-1 1 0.5 1 2-1 6-1 1.5-3 0-2-1.5-2 1-1 0-3 1-3-0.5-4 0.5-2 1.5-0.5 1.5 0 1 1 1 2.5 1 11 0 7-1.5 7 0.5 2 1-6 4-1 2 0.5 3 6 7-0.5 1-3 3 0.5 4-15.5 1-7-1.5-8-0.5-7 1-5-1.5-9-1-9 0-6 1-8 0.5-10 2.5-8-2-3 2-3 3-2 1.5-3 1-8-0.5-4 0.5-3 1.5-5 4-0.5 1.5 1 1 5.5 2 1.5 1 5 4 1.5 3 0 1-1 0.5-5 2-7 5.5-2 3-0.5 2-222.5 0 2-2 2-1 11.5-3 4.5-2-0.5-1-1.5-2-3.5-2-4.5-1-7 0-21 2.5-8 1.5-11 0-2-0.5-2.5-1.5-1-2-1.5-5-1-1-2-0.5-4-0.5 0-3.5 4 1 2 0 9-2.5 25-3 7 0 5 0 3 1 1 1-0.5 2 0.5 1 1 1 2 1 3 0 7-2 8-1 2 0 1.5 2 1.5 1 3 0.5 4-2 6-1.5 10 1.5 3 0 4-1 2.5-1.5-3-3 0.5-1 2-1 3-0.5 3 0.5 4 3.5 2 0.5 3-1 4-3 2 0 7 1 8 1 7 2 18 0 2 1 3.5 3 8.5 2.5 3-0.5 2-2 4-0.5 7.5-2.5 5.5-3.5 6-1.5 3-3 0.5-2-0.5-2-2-2-3-1-1-1 3-1.5 1-0.5 0-1-1-1-7-1.5-3-2-5-1.5 2-2 5-2.5 1 0 5 1.5 2-0.5 1-0.5 1-1-0.5-1-1.5-1.5-4.5-0.5-0.5-1 2.5-2 0-1-0.5-2 2.5-2 0.5-2 1-0.5 1.5-1.5-0.5-1.5-2.5-2.5 0-3-3-7 0-3 0.5-1 1 0.5 1 0 1-2 1.5-4.5-1-10 0-5 1-10 0.5-1 1 0.5 1 14.5-1 5 0 2 0 9-0.5 10 1.5 4.5 1 0 1-1.5 1-6 1-3 0-1 0.5-1 1.5-0.5 1-3.5 0-10-1-6-1.5-4-0.5-2 1-10zM277 237l-2.5 1-0.5 1 2.5 1.5 6 0 2-0.5 1.5-1-1-1-2.5-1zM324.5 255l-10 2.5-2 1.5 1 1 6 2 1 1 0 2 2 1.5 5 2 4 0 2-1.5 1-2 0-1-2.5-2 0-3-0.5-1-4-3zM349 255l-1 1 0.5 1 2 1 3 0.5 2-1 1-0.5 0-1-2-1.5-3-0.5zM393.5 256l-3 1-1 1-0.5 1 0 1 1.5 2 3 1.5 3 0 8-3 1.5-0.5 1-1-1.5-1-5-1.5-4-0.5zM287.5 257l-5 0.5-2 1.5 1 1 3 1 3 0 4-0.5 1.5-0.5 0.5-1-0.5-1-2.5-0.5zM361 257l-3 1 0 1 2.5 1.5 4 1 13-0.5 2-1 0.5-1-0.5-1.5-3-1-11 0zM344 262l-1 1 0.5 1 2 1.5 3-0.5 1.5-1 0.5-1-0.5-1-1.5-1-3 0zM288 274l-2.5 0.5-1.5 1.5 1 1 2.5 1 3 0 4 0 2.5-1 1-1-1-1-2.5-1zM170.5 295l-9 2-1.5 1 2 1 11.5 3 3 0 6-2 5-0.5 2.5 0.5 5.5 2.5 2 0.5 4-2 2-2 0-1-1-1-2.5-1-3.5-1-3 0-6 1.5-4-0.5-7-1.5zM380.5 190.5l1 0.5 1 5 1 1 1-0.5 1.5 1.5 1.5 12 0 3-1 8 0 5-1 1.5-2 0.5-1 0-1-1 0-1 1.5-5-0.5-1-3-3-0.5-2 1-9 0-9zM531.5 192.5l0.5 1.5-0.5 3.5-0.5-3.5zM455.5 197l1 6 0 1-1 0zM476.5 197l1.5 9-0.5 5-1-1-1-2-0.5-2 0.5-7.5zM88.5 202.5l0 1zM496.5 203l2 0 1 1-1 1-2 0.5-0.5-0.5 0-1zM462.5 203.5l3 1 1 2 0 4-1 4-3 0-0.5-1.5-0.5-4.5zM98.5 205.5l0.5 1.5-0.5 2.5zM353.5 206.5l0.5 2.5-0.5 1.5-0.5-1.5zM412.5 207l1 1 1 4 0 2-2 2-1-1.5 0-3.5 0-2.5zM188.5 207.5l1 0 0.5 0.5 0 1-0.5 1.5-1-1zM531.5 210.5l1 1 0 1.5-1 0zM417.5 211l0.5 3-0.5 1.5-1-0.5-0.5-1zM66.5 213.5l0.5 1.5-0.5 0.5zM315.5 214.5l1.5 2.5-0.5 1-1 0.5-1-0.5 0-1.5zM472.5 214.5l1 0.5 0 1-1 0.5-0.5-1.5zM311.5 216.5l0 1zM205.5 218l1 0.5 0.5 2.5-0.5 1-1 0-1-1zM166.5 219l1-1 0.5 2 0 1-1.5 2-0.5-2zM161.5 219l1 0.5 1 5 1 1 1-1.5 1 0.5 1 3.5 1-1.5 1 0 1.5 3.5 2.5 3.5 2 0 2 0.5 4 4 1.5-6 0.5-0.5 1.5 0.5 1 2 0 3-1.5 2-1.5 1-2 3-1.5 0.5-2-0.5-4-2-2-2 0-1 1-3-2-1.5-2-1-6 2-2.5-0.5-1-1 0-3 1.5-5zM191.5 220l2 3 1 0 1-1 0.5 0-0.5 1-1 0-0.5 1 0.5 1 2 2 0.5 1-0.5 2-1 2-3 3-1 0-1-1-0.5-1 0-6 0.5-5.5zM396.5 223l1 2 0 1-1 0.5-1-0.5 0-1zM312.5 224l0 0.5zM372.5 224l1-0.5 3 1.5 2-0.5 1 0.5 1 1 0 1-2 2-2-0.5-3 0.5-1-1-1-2zM306.5 226l1 1.5 0 1.5 0 1-1 1-1-0.5 0-1.5 0-1.5zM352.5 231l3-0.5 0.5 1.5-0.5 1-3 2.5-1-0.5 0-1 0-2zM228.5 231.5l2 0 1 1 1.5 2.5-0.5 1-5 2-0.5-2 0.5-3 0-1zM101.5 232.5l3 0 2-0.5 3 3 2 0 7 2 3-0.5 6.5 3.5 1 1 0 2-2 8-1.5 1-9 4-3 0-3-1.5-2.5-2.5-1.5-4-1.5-2-6.5-4 0-3-2-2 1-0.5 1 0.5 1-1zM54.5 234l1 0.5 2 3 1 0.5 3-0.5 0.5 0.5 2.5 3 1.5 4 1 1 8.5 3.5 1 1.5-1 2-3 1-18 0.5-4-1-5-2-6 1 0-14.5 3-1 2 0 2-0.5 2 0.5 3-1zM340.5 233.5l0.5 1.5-0.5 0.5-1-0.5zM343.5 234l0 1.5-0.5-0.5zM540.5 233.5l0 2zM223.5 234.5l1 2.5 0.5 3-2.5 2-4 2-2 0.5-2-1-3.5-2.5-1-2 0.5-1 1-0.5 3 1 2-2 2 1.5 3 0zM215.5 249l2 0.5 2.5 2.5 2.5 3-1 1-5-0.5-3-1.5-1-1 0-2 1-1zM50.5 306l8.5 0z" fill="#ee9600" stroke="#000" stroke-opacity="0.7" stroke-width="0.55" fill-rule="evenodd"/>
<path d="M218.5 178l1 0.5 0 1.5 0 15.5-2-12.5 0.5-4zM491.5 178.5l1.5 0.5 0 1 0 8-0.5 16-1 3.5-0.5-13.5zM266.5 181.5l1 0.5 0 1-1 7zM258.5 190l1 2 0 6 0 4-1 2-0.5-2-0.5-4zM381.5 196.5l0 1.5-0.5-1zM384.5 198.5l1 1.5 1 11 0 4-1 3-1-0.5-2-1.5-1-2 1.5-6 0.5-8zM490.5 209l0 1.5zM496.5 209l3 1 2 5 1 0.5 2-0.5 1.5 1 0.5 2 1 11-0.5 1-1.5 1.5-2 0-1-0.5-4-7-2 1.5-4-1 0-5.5 1.5-3 1-5zM258.5 214.5l0 4-0.5-0.5 0-2zM510.5 217l1 0.5 0.5 0.5 2.5 9.5 1 0.5 1-3.5 1 0 2 1 1-0.5 1 0.5 1 1 1.5 0.5 0.5 1-2 0.5-2 1-3 1-1.5-0.5-0.5-2-2 2.5-2 0.5-2-1-0.5-1 0-1 0.5-8.5zM257.5 219.5l0 0.5zM291.5 224.5l3 0 2 1.5 1-0.5 1.5 0.5 1 2 0.5 4-2 6-0.5 5-7.5 2.5-1.5 1.5 0.5 1 4 1.5 7 0 5-1 5-2.5 2 0 7 1 1.5 1 0.5 2-0.5 3-1.5 2-8 2.5-1.5 0.5-0.5 1 1 1.5 5 2.5 0.5 1-1 4-2.5 3-1.5 4-0.5 3 0.5 3 1.5 2 4.5 2 1.5 1 1.5 2 0 2-0.5 2-1 1.5-5 2.5-1 1-2.5 5-0.5 4-101 0 1-8-1-2-2-1-11-1.5-10 1.5-7-1.5-4-0.5-22 2-3.5 1-2 1 0.5 1 3.5 2 2.5 0.5 14 2 7 3.5 1 0 5-4.5 4-1 3 0.5 3.5 2 1.5 3-89 0 1.5-1 6-2 22.5-5 0.5-1-17.5-2.5-11-3-4-0.5-11 0-25 2.5-8 0-4-0.5-1.5-1-0.5-2-0.5-2 1-2 1.5-1 3-1 33-0.5 11 1.5 15-1 8 1.5 10-2 10 0.5 3 0 11-3.5 8 2 10-2 19 0.5 9 2 12 1 13 2.5 2 0 6-2 10 0 8-2 1.5-0.5 1.5-1 3.5-7 1.5-4 0-3-2.5-3 0.5-3-1.5-1-8.5-2.5-2-1.5-0.5-1 0.5-1 1-1 7 0 2-1 1-1 0.5-2-2-4 0-4 1.5-4 2-2.5 1-1 1 0.5 1 0 1-8 1-0.5 0.5 0.5 1.5 7 2-0.5 2.5 2.5 0 1-1.5 2 0 1 1 1 4 1.5 5 0 5-1 1.5-0.5 1-1-0.5-2.5-3 0-1-0.5-1-1 2-4 1-1 2 5 1.5-3zM281 257l-2 1-1 1 0.5 1 2 1.5 4 0.5 4 0 5-0.5 3-1.5 0.5-1-1.5-1.5-4-1-6-0.5zM286 273l-3.5 1-1.5 1-0.5 1 0.5 1 1.5 1 3 0.5 5 0.5 5 0 4-1.5 1.5-1.5-1.5-1.5-3-1-5-1zM471.5 224.5l1 0 2 2 3-1 0.5 0.5 1 4-0.5 3-2 1.5-5 2.5-3 2-6 1-2-0.5-1-5.5-1-3 0-2 3-2 2 0.5 3-2 2-0.5 1 0.5zM191.5 225.5l1.5 3.5-0.5 1-1 1-0.5-3zM394.5 232l3 0 3 2 3 0 5.5 1 1.5 1-1.5 3 0 2 1.5 2 2 1 3 0.5 12 0.5 2 0.5 1 1.5 0.5 6 2 6-2 6-2.5 1.5-4 0.5-2 0-7-3-11 0-1-1 6-3 0.5-1-0.5-1-11-4-7-1-1.5-1-2.5-4.5-6.5-2.5-0.5-1 0-1 0.5-3 0-3 1-2 3.5-1.5 3 0.5zM493.5 236l3-1 2 2 2-2 1 0 8 2 6 0.5 5-1.5 3.5 0 1 1-0.5 0.5-4 2-1.5 1.5 0.5 1 2 1.5 4 1 7 0.5 8-1.5 0 11.5-7-0.5-8-2-3 0.5-2.5 2-1.5 3-1 12-1.5 2-3.5 1-2 1.5-1 1.5-1 4 0.5 2 1.5 1 3 1.5 2 0 11-2 8-0.5 6-0.5 0 24.5-192.5 0 1.5-5 0.5-4 0.5-1.5 2-2 4-1.5 2-1 3-4.5 2-1.5 4-1.5 7-3.5 18-1.5 11-4.5 2 0 2 0.5 2 1.5 0.5 1-1 5 1 5-0.5 5 1 2 1 1 2 1 3 0 7-2 10 0.5 4-1 1.5-1.5 0-1-0.5-4 1-4 0.5-5 0.5-1 1.5-1 6.5-2 1.5-2 1-4 0.5-1 6-2.5 1.5-1.5-0.5-1-4-2 0-1 5-2 0.5-1 0-1-6-3 0.5-1 6.5-3 0.5-1-0.5-2 0.5-0.5 1-0.5 7 1 10-0.5 1.5 0.5-3 6-0.5 2 2 6 0 5 0 1 2 1.5 3 1 5 0 8-1 3-1 1.5-1.5-1-1-9.5-3-0.5-1 0.5-2 1-1 5-1.5 6 0.5 3-0.5 10-4 1.5-1.5-0.5-1-1-0.5-8-3.5-2 0-3 0.5-2 1-4 5.5-2 0-3.5-1-3-2-5.5-6 1-1 6-2.5zM105.5 237.5l3 1.5 2-1 2 0 4 3 3.5 6 0 3-1.5 2-3 1.5-2-0.5-1.5-1-2.5-7-4.5-2-2-2 0.5-2zM51.5 240l3 0 5 3 4 5 0.5 1-2.5 1.5-6 0.5-3 0-7-2-6 0 0-8zM334.5 246l9-0.5 4 0.5 4 2 1 1 0 1-1.5 2-6.5 3-3 0.5-6-0.5-3-1-1-1-1-2 1-3 1-1zM423.5 287l2-0.5 2 0.5-2 0.5z" fill="#dd5a1a" stroke="#000" stroke-opacity="0.7" stroke-width="0.55" fill-rule="evenodd"/>
<path d="M540.5 252l-5-1-2-1 0-1 2-1 5-1M117.5 306l3-1.5 5.5-1.5 8.5-1 9-1 4 0.5 7 2 9 1 3 1.5M179.5 306l1-2 5-1.5 2.5 1.5 1 2M215 306l-0.5-4 0.5-4-0.5-2-3-3-4-1.5-13-1-9 2-7-1.5-4 0-33 1.5-21-1.5-10-2 4-1 32-1 9-3.5 2 0.5 4 1.5 4 0.5 10-0.5 16 0 13 2 21 1 11-1 11 0 9-0.5 4-1.5 2.5-2.5 1.5-4.5 1-1 1 0 3 0.5 5 2.5 7 1.5 11 0.5 11-1.5 2 1 3 3.5 4.5 3.5 0 1-3.5 2.5-1 1.5-3 12M253 306l-18.5-1-5.5 0-4 1M352 306l1.5-6 1-2 6-3 5-5 9-1.5 19-1 4-0.5 3.5-2 1.5-2 1-4 1 0 0.5 1 0 3 1 4-0.5 6 2 3 3 2 4 1 5-0.5 5-1.5 2 0 3 1 4 2 1 1-2 5M489 306l5.5-1.5 10-1 36-0.5M218.5 179.5l0 2.5zM258.5 195.5l0 4.5zM384.5 206.5l0 3.5zM496.5 213.5l0.5 3.5-0.5 5-1-1 0-2 0-3.5zM499.5 217l1 0 1 1.5 1 0.5 1-1 1-0.5 1 1.5 0 8-1 1.5-1-1.5-1-3.5-1-1-1 0.5-1-1.5zM511.5 223l1.5 4-0.5 1.5-1 0.5-1-1.5 0-1.5 0-1zM293.5 228l1 0 1.5 3 0 3-0.5 1-1 0.5-2-1.5 0-1 0-3.5zM471.5 228l1 0.5 0 0.5 0.5 2-0.5 1-1 0-0.5-1 0-2zM475.5 230l1 0 0 1-1 0.5zM395.5 234l3 1 2 2 2-0.5 1 0.5 1.5 1 0 1-0.5 3-1 1.5-4.5 2.5-1.5 1.5-1 0.5-4.5-4-6-3-1-2 0.5-2 1 0 1 0.5 1 0 1-0.5 2-0.5 2-1.5zM501.5 239l1.5 0 0 1-3.5 2.5-4 4.5-1 0-1-0.5-1-2.5 0-2 1-1 3-1.5 3 0.5zM264.5 240l2-0.5 4 2 4 1 14.5 0.5-3.5 3-0.5 1 0 1 1.5 1.5 2 1 5 2 3 0 7-1 10-2 2.5 0.5 0.5 2-0.5 1-1.5 1-9 1.5-4 0-7-2-10 1-8 2-6 4-3 0-10.5-3.5-0.5-1 4-2 2.5-3 0.5-2-1-7 1-2zM49.5 243l3 0 3 1 0 2-1 1-1 0.5-2.5-0.5-10-3zM415.5 249l8-0.5 2 0.5 0.5 1 0.5 2 0 5-0.5 4-0.5 2-1 0.5-1 0-7-7-4-2-6-2.5-1-1 2-1zM512.5 256l2-1 0.5 1-0.5 3.5-1 1.5-1 1-3 0-4.5-2 1-1 3.5-1zM469.5 258l3 0 1 0.5 0.5 1.5-0.5 1-1 0.5-2 0.5-3.5-1-1-1 0.5-1zM300.5 265l3-0.5 2 0.5 1 2-1 3.5-1 0.5-2 0-4-2-1-1 0-1 0.5-1zM456.5 269l2-0.5 2 0.5 0.5 1-0.5 3 0.5 1 2.5 2 4 1 8 0.5 20-2 7 0.5 1.5 1 0 4 3 4 0 2-1.5 1-2 0-19 0.5-10 1-24 6-5 1-1-1-0.5-7.5 1-7 1.5-1.5 5-2 2-1.5 1.5-2 1-4zM524.5 286l2.5 0-1.5 1-1-0.5z" fill="none" stroke="#000" stroke-opacity="0.6" stroke-width="0.5"/><path d="M41.5 175.0 L41.6 178.4 L41.8 181.8 L41.9 185.2 L42.1 188.6 L42.2 192.0 L42.4 195.4 L42.7 198.8 L42.9 202.2 L43.2 205.6 L43.5 208.9 L43.8 212.3 L44.2 215.7 L44.6 219.1 L45.1 222.5 L45.7 225.9 L46.2 229.3 L46.9 232.7 L47.6 236.1 L48.4 239.5 L49.4 242.9 L50.4 246.3 L51.5 249.7 L52.8 253.1 L54.2 256.5 L55.7 259.9 L57.5 263.3 L59.4 266.7 L61.6 270.1 L64.0 273.5 L66.6 276.8 L69.6 280.2 L73.0 283.6 L76.7 287.0 L80.8 290.4 L85.4 293.8 L90.6 297.2 L96.3 300.6 L102.7 304.0 L109.8 307.4 M538.6 175.0 L538.5 178.4 L538.3 181.8 L538.2 185.2 L538.0 188.6 L537.9 192.0 L537.7 195.4 L537.4 198.8 L537.2 202.2 L536.9 205.6 L536.6 208.9 L536.3 212.3 L535.9 215.7 L535.5 219.1 L535.0 222.5 L534.4 225.9 L533.9 229.3 L533.2 232.7 L532.5 236.1 L531.7 239.5 L530.7 242.9 L529.7 246.3 L528.6 249.7 L527.3 253.1 L525.9 256.5 L524.4 259.9 L522.6 263.3 L520.7 266.7 L518.5 270.1 L516.1 273.5 L513.5 276.8 L510.5 280.2 L507.1 283.6 L503.4 287.0 L499.3 290.4 L494.7 293.8 L489.5 297.2 L483.8 300.6 L477.4 304.0 L470.3 307.4" fill="none" stroke="#000" stroke-opacity="0.75" stroke-width="0.5"/>
</g>
<rect x="40.5" y="175.0" width="499.1" height="130.39999999999998" fill="none" stroke="#222" stroke-width="0.9"/>
<text transform="translate(31.9,176.6) scale(1.2,1)" font-size="9.0" text-anchor="end" fill="#111">8</text>
<text transform="translate(31.9,198.3) scale(1.2,1)" font-size="9.0" text-anchor="end" fill="#111">16</text>
<text transform="translate(31.9,220.1) scale(1.2,1)" font-size="9.0" text-anchor="end" fill="#111">32</text>
<text transform="translate(31.9,241.8) scale(1.2,1)" font-size="9.0" text-anchor="end" fill="#111">64</text>
<text transform="translate(31.9,263.5) scale(1.2,1)" font-size="9.0" text-anchor="end" fill="#111">128</text>
<text transform="translate(31.9,285.3) scale(1.2,1)" font-size="9.0" text-anchor="end" fill="#111">256</text>
<text transform="translate(31.9,307.0) scale(1.2,1)" font-size="9.0" text-anchor="end" fill="#111">512</text>
<text transform="translate(50.2,318.6) scale(1.22,1)" font-size="10.2" text-anchor="middle" fill="#111">3.5</text>
<text transform="translate(103.2,318.6) scale(1.22,1)" font-size="10.2" text-anchor="middle" fill="#111">4.0</text>
<text transform="translate(156.3,318.6) scale(1.22,1)" font-size="10.2" text-anchor="middle" fill="#111">4.5</text>
<text transform="translate(209.3,318.6) scale(1.22,1)" font-size="10.2" text-anchor="middle" fill="#111">5.0</text>
<text transform="translate(262.4,318.6) scale(1.22,1)" font-size="10.2" text-anchor="middle" fill="#111">5.5</text>
<text transform="translate(315.4,318.6) scale(1.22,1)" font-size="10.2" text-anchor="middle" fill="#111">6.0</text>
<text transform="translate(368.5,318.6) scale(1.22,1)" font-size="10.2" text-anchor="middle" fill="#111">6.5</text>
<text transform="translate(421.5,318.6) scale(1.22,1)" font-size="10.2" text-anchor="middle" fill="#111">7.0</text>
<text transform="translate(474.6,318.6) scale(1.22,1)" font-size="10.2" text-anchor="middle" fill="#111">7.5</text>
<text transform="translate(527.6,318.6) scale(1.22,1)" font-size="10.2" text-anchor="middle" fill="#111">8.0</text>
<path d="M35.7 175.0H44.7 M35.7 196.7H44.7 M35.7 218.5H44.7 M35.7 240.2H44.7 M35.7 261.9H44.7 M35.7 283.7H44.7 M35.7 305.4H44.7 M48.6 302.0V309.0 M101.6 302.0V309.0 M154.7 302.0V309.0 M207.7 302.0V309.0 M260.8 302.0V309.0 M313.8 302.0V309.0 M366.9 302.0V309.0 M419.9 302.0V309.0 M473.0 302.0V309.0 M526.0 302.0V309.0" stroke="#222" stroke-width="0.9" fill="none"/>
<text x="44.6" y="172.1" font-size="10" fill="#111">Shilou red clay Rb/Sr</text>
<text x="0.3" y="165.3" font-size="9.4" font-weight="bold" fill="#111">b</text>
<text transform="translate(8.2,232.7) rotate(-90)" font-size="10.3" text-anchor="middle" fill="#111">Period  (kyr)</text>
<rect x="655.3" y="174.6" width="10.800000000000068" height="131.70000000000002" fill="url(#cb)" stroke="#333" stroke-width="0.6"/>
<text x="671.5" y="178.1" font-size="10" fill="#111" letter-spacing="0.8">1.0</text>
<text x="671.5" y="243.4" font-size="10" fill="#111" letter-spacing="0.8">0.5</text>
<text x="671.5" y="308.9" font-size="10" fill="#111">0</text>
<path d="M555.1 174.9 L572.0 190.0 L589.4 205.6 L590.6 210.6 L595.7 214.5 L603.0 219.0 L608.4 223.3 L611.4 225.9 L611.4 232.2 L621.0 238.5 L628.0 244.0 L633.8 250.0 L634.3 253.8 L626.2 260.1 L625.6 263.9 L630.0 268.0 L635.0 271.5 L635.0 282.9 L641.4 286.7 L647.7 291.8 L647.7 295.6 L641.4 299.4 L626.2 306.0" fill="none" stroke="#6f8cf5" stroke-width="0.9"/>
<path d="M555.1 176.4 L572.0 191.5 L589.4 206.8 L611.0 224.6 L620.0 233.0 L628.7 243.6 L634.0 253.0 L638.8 263.9 L643.0 275.0 L646.4 286.7 L648.5 296.0 L650.2 306.0" fill="none" stroke="#f0562a" stroke-width="1.3" stroke-dasharray="3 2.2"/>
<path d="M583.8 179.5H646" fill="none" stroke="#f0562a" stroke-width="1.3" stroke-dasharray="3 2.2"/>
<text x="583.6" y="187.8" font-size="8.9" fill="#111">95% confidence</text>
<text x="614.7" y="229.7" font-size="8.8" fill="#111">41</text>
<text x="608.2" y="255.0" font-size="8.8" fill="#111">~100</text>
<text x="622.4" y="301.4" font-size="8.8" fill="#111">405</text>
<text x="574.0" y="317.4" font-size="9.6" fill="#111" letter-spacing="0.5">10<tspan font-size="6.5" dy="-4">-2</tspan></text>
<text x="615.9" y="317.4" font-size="9.6" fill="#111" letter-spacing="0.5">10<tspan font-size="6.5" dy="-4">-1</tspan></text>
<path d="M583.0 303.3V306.3 M624.9 303.3V306.3" stroke="#444" stroke-width="0.7"/>
<rect x="554.4" y="174.6" width="96.80000000000007" height="131.70000000000002" fill="none" stroke="#555" stroke-width="0.9"/>
<g clip-path="url(#cp2)">
<rect x="39.5" y="333.1" width="500.1" height="130.39999999999998" fill="#fff"/><path d="M41.5 332l1 0 0 6 1 5 1.5 4 0 5-0.5 4 0.5 2 1.5 1.5 4 2 1.5-0.5 0.5-1 1-0.5 2 1 0.5 2.5 0 5-0.5 1.5-1.5 1.5 0 1 0.5 1 1 0 1 1 1 3 2-1 2 0.5 2-1.5 0-1-1.5-6-1.5-1-1-2 0.5-5-1.5-6 0-8 1.5-5-1-5 0-4 3.5 0 1.5 12-1.5 4 1.5 3 0.5 4 1 3 2-8 0-5.5 0.5-3.5-0.5-9 1.5 0 1 9 1.5 7-0.5 9 0.5 2 1 2 0 3 1 3 1 6-1 5 0.5 3 1.5 1 2-1.5 1 0.5 2.5 3 1.5 6 1 1 6-1.5 2 2.5 1-1.5-0.5-3.5 0.5-1 2-1.5 1-1 1-0.5 1 2-0.5 3 0 1 1.5 2 2 1.5 1-1 0.5-1.5-1-5-2.5-3.5-1-1-2 1-1-1.5-1.5-3-0.5-2 1-1 2 0 1.5 1 0.5 3 1-1.5 1-4 0.5 1.5 1.5 1.5 1-0.5 1-1 0-3-0.5-1-0.5 0-1 0-1 2-1 0-0.5-3 1-5-1-4 0.5-1 1-1.5 1-0.5 1 2 0 1-1.5 3 3.5 4.5 1-0.5 0.5-1 0-10-1-4-1.5-1-1 1-1 3.5-1 0-1-1.5 0-4 1-3.5 1 0.5 1-1 1-3 0-3 2-4-1-1.5-1 0-0.5-2.5 6.5 0-0.5 4 1 4-1 3 1 3-1 4 2 4 0 3 1 4-1 2-2 2 0.5 2 1 0 2-0.5 1.5-1.5-0.5-2-1-2 1.5-8 1.5-3.5 2-1.5 0-1-0.5-1-1.5-1 0-3 1-1 1 0.5 0.5-0.5 2-5 1.5-0.5 1.5 1.5 1.5 6 1 13-0.5 6 0.5 1 1 0 1-0.5 1 0.5 2 4 1 0.5 1-1.5 1-5-0.5-8 1.5-4-0.5-4 1.5-11 0.5-2 5.5 0 0 1.5-1 0.5-0.5 2 0 6-1.5 9 1.5 3 1 7-2.5 4 0 2 1 1.5 2 2 1 0 0.5-0.5 0.5-2-1-1 0-2 2.5-5 1.5-4 1-1 1 0.5 0.5 1.5 0.5 4 0 1-1.5 2-0.5 1 2.5 4 0.5 4-1 2-2 0.5-3 1.5-1 3-1 1.5-1-0.5 0.5-2-1-1-0.5-0.5-1 0.5-0.5 1 0.5 3-1 2-1 6 1 0.5 2-2 1-0.5 0.5 1 1.5 4-1 0.5-2.5 2.5 0 1 1.5 0.5 2.5-1.5-0.5-3 0.5-1 3.5-2 2-5 1.5-2-1.5-1 0-2.5 1-1 0.5 1.5 0 2 0.5 1 1-0.5 1-0.5 1-3 1.5-2 0-4 0-5 1-3-0.5-6 1.5-4 0.5-6 0-4 1-2.5 1 0 1 1.5 0 1 0.5 6-1.5 7 1.5 6-1.5 4 0.5 3-2 2-0.5 2 0.5 1 2.5 1-0.5 2 0.5 3 3 11 1 1 1 0 1-1 0-2-1-3 1.5-3-0.5-1-2-2 0-3-2-3 0-1 2-3 0-4 1-4-0.5-3 0-4 1-4 0-5 1.5-3-2-2.5 0-1 1-1 1 3.5 1 0.5 1.5 2.5-0.5 3 0.5 4-1.5 4 1 5-1.5 3 0.5 4 0 1 3 3 1 2 1 3-1 3-4 5 1 7-1 3 1 1.5 1-0.5 1-2.5 2-0.5 1-1 0.5-3 2-6-2-5 1-9-1-8 2-12 1.5-2.5 0-1.5 0-15 7 0 1 0.5 0.5-0.5 1.5 0-0.5 6 1.5 2.5 1 0.5 1-3 0-6 1.5 0 0 7 1.5 6-0.5 5 0.5 10 0 3-1.5 4 0.5 6-1.5 3 0 1 3.5 3 2-3 1 0.5 2 5.5 2 2.5 1 0.5 1-1.5 1-3 1.5-1.5 0-1-1.5-2-2-6 0-2 1-6 3-2 2-2.5 1 0.5 1-0.5 2-8.5 3 0.5 0.5 0.5 0 7-1 4 0.5 1.5 1 0.5 1.5-1 1-2 1-5 1.5-3-1.5-7 1-5 0-3 0.5-1.5 1 1.5 1.5 9 0 8-0.5 7-1 1-1 3 1 1.5 1-0.5 2 3 1-2.5 2-8.5 1-1.5 1 1.5 1 5 0 8 0 1-2 1.5-1 1.5 1 1.5 4-0.5 1.5-4 0.5-9 1-6.5 1-0.5 1 0.5 1-1.5-1-1-1 0-0.5-1 1-6-1-5 0.5-3 2-2 1-1.5 2 6.5 1.5-1 0.5-1 0-9 4 0 0 4-2 3 0 1 0.5 1 2.5 3 0.5-4 0-8 28 0 0 1 0.5 1 1.5-1-1-1 2 0 0.5 5.5 1 0 1-5.5 16.5 0 0 3-1.5 2 2.5 2 0.5 3 1 1 1-0.5 0.5-1.5-0.5-1-1.5-1 0-7 8 0-1 3 2 4-3 6 0.5 1.5 2-1.5 2 1.5 1 0 1-1.5 1-2 0.5 0 0.5 1 1 8 1 2 1-1 1 0 2 1 1-1-2-3-1.5-1-0.5-1 0.5-3-1-3 0-5-0.5-4.5-1 0-1 2-1-2.5 9.5 0 0.5 10 1 9-0.5 2-1 3 0.5 3-0.5 3 0.5 1 1 0.5 2-3 0.5 0.5 0.5 2 0.5 3-2.5 3.5-0.5 2.5 1.5 2 2 0.5 1 0.5 1-1-0.5-2 1-4-0.5-8 1-6.5 0.5-1.5-0.5-0.5-0.5-2.5 0-5-0.5-3 0-3 1-3.5 2 1 0.5-3.5 5 0 0.5 7 1 9.5 1-1 1-4 1 0 2 0.5 1-0.5 0.5-2.5 0-9 8 0-2 10 1.5 3 2 1 0.5 3 1.5 1.5 1.5-0.5 1-3 0-1-1.5-3 1.5-11 6 0 0.5 21 3-1.5 3.5-4.5 0-3-2-3 0-2 0.5-1 2-1 2 2 1-1 1-1.5 1-0.5 1 2.5 1.5-2.5 0.5-4 21 0-0.5 3 0.5 4-0.5 3 1.5 6.5 1 1 1.5-2.5 0.5-1-0.5-3 0.5-11 10 0 0 8 1.5 3 0 3 3.5 9 1 0 0.5-1-0.5-4.5-1-4.5-0.5-8 0.5-3 2-1 0.5-1 3.5 0 0.5 3-1 13 0.5 2.5 2 2.5 1 0.5 1-0.5 2-4 0.5 2-0.5 5 1 4 1.5 3 0.5 0.5 1 0 1.5-1.5 1.5-3 1-5-0.5-7 0.5-0.5 1 0.5 1.5 2 1 4-0.5 10 1 2.5 1 0.5 1.5-2 1-4-1.5-6 1-5-1-4 1.5-7 0-6 2.5 0 0 7 1.5 7-1 4 0 3-1 3 0 8 0.5 3 1 0.5 3-1 0.5-1.5-0.5-1.5-2-1.5-0.5-1 0.5-3 3-6 0-4-1-2 0.5-4-1-10 3 0 0 9 0.5 4-1.5 2-0.5 2 1 1 1 0 0.5-2-0.5-4 4-6 0-1-1-1 0-4 10.5 0-1 3 1.5 3.5 1 1 2-3.5-1-4 6.5 0 0.5 9-0.5 6 0.5 4-0.5 2-0.5 1-1-0.5-1 0.5-1.5 2 0 2 1.5 1 2-1 1-1 1.5-6 2-4 0.5-2-2.5-3 0.5-4 1-0.5 1 1.5 1-0.5 0.5-1.5-0.5-1.5-1-0.5-2 2 0 1-1-6 19 0 0 6 1 1 2 0.5 1-0.5 1-1 0-6 16 0 0 3.5 1 4.5 1-1.5 0.5-6.5 10.5 0 0 132-502 0 0-55.5 0.5-1.5-0.5-2 0-42 2.5-7-1-3 0-5 1.5-4-0.5-3 0-9zM415.5 333l-0.5 7 0.5 4-1 2 1 1 0.5-1-0.5-3 1.5-2 0-1zM536.5 333l-0.5 1 0 2 0.5 1.5 1 0 1-1.5 0-2-1-1.5zM274.5 336l-0.5 1 0 1 1.5 1 1 1.5 1 0 0.5-1.5 0-1-2.5-2zM392 339l0 2 1.5 2 0 1-1.5 3 0.5 1 1 1 0.5 1-1.5 5.5 1.5 4.5 2.5 0 1 2 2-3 1 0 0.5-1 0.5-1-1.5-2 0-4 2-2 0-1-2-4-3.5-4.5-3-1.5zM401 340l0.5 1 1-1-1-0.5zM496 340l-0.5 1 0 1 1 1 1-1 0-1-1-1.5zM502 340l0.5 1 0.5-1-0.5-0.5zM468 343l-0.5 3 1 1 1 0.5 1.5-1.5 0-2-0.5-1-1-0.5zM504.5 343l-2 1-0.5 1 0.5 1.5 3-0.5 1-1-0.5-2zM388.5 344l0 1 0.5 1 0.5 0.5 1-0.5 0.5-1-0.5-1.5-1-0.5zM420.5 345l-1 1 0 3 0 1 1 0.5 1.5-1.5 0.5-1-0.5-2-0.5-0.5zM481.5 345l0 1.5 1 0 0-1.5zM243.5 346l-0.5 1 0 1 0.5 1 1 0.5 2 0 0.5-0.5 0.5-2-1-1-2-0.5zM509 349l0 2 1.5 0.5 0.5-1.5 0-1-0.5-1zM292.5 350l-0.5 6 0.5 5.5 1-5.5-0.5-5-0.5-2zM403 350l-0.5 4 1 1.5 1 0 1-1.5-0.5-4-0.5-0.5-1 0zM467 350l0 1 0.5 1 1-1 0-1-1-0.5zM344.5 352l-0.5 2 1.5 1.5 1-1 0.5-1.5-1.5-2-1 0.5zM354.5 352l0 1.5 0.5-0.5zM371.5 354l-2 2 0 3-1.5 2 0 1 0.5 1.5 2 1 1-1 0.5-1.5 0-6-0.5-3zM320.5 356l-1 1-0.5 2 0.5 1.5 1 0.5 1-0.5 0.5-1.5zM363.5 356l-0.5 1 0.5 1 1-1zM190 358l0.5 1.5 1-1.5 0-0.5-1-0.5zM119.5 360l0.5 2 0.5 0.5 1-0.5 0-1-0.5-1-0.5-0.5zM65.5 361l-0.5 4-0.5 3 1-0.5 0.5-1.5zM223 361l0.5 1.5 0.5-0.5-0.5-1zM364.5 362l0 1 1 0.5 0.5-1.5-0.5-0.5zM397 363l-0.5 2 1 2 1-0.5 0.5-1.5-0.5-2-1-1zM212 365l0 3 0.5 1 1 0 1-2-0.5-1-1.5-1.5zM125.5 366l-1 3.5-1.5 1.5-0.5 4 1 4 2 1.5 1 0 0.5-1.5-0.5-8 1-3-1-2zM520.5 366l0 1 1.5 0-0.5-1zM48.5 368l0 2 1 1 1-0.5 1-1.5-0.5-1-0.5-0.5-1-0.5zM189 368l0.5 2 1 0 1-1 0-1-1-1-1 0.5zM106.5 369l0 1 1 1 1-1-0.5-1-0.5-0.5zM216 370l-1 1 0 1 0.5 1.5 1 0 1-1 0-1.5-0.5-1zM40 372l0.5 1 1 0 0-1-1-0.5zM227.5 372l0 2.5 0.5-1.5-0.5-1.5zM45.5 373l-2.5 5-0.5 5 0.5 1 2.5 1.5 3-3.5 0.5-3-1.5-5.5-1-1zM133.5 373l0 1 1 1 1-1 0-1-1-1zM442.5 373l0 1 0 2 2 2.5 1-0.5 0.5-2-1-2-0.5-1-1-0.5zM239 374l0 2 1.5 1.5 0.5-1.5-0.5-2-1-0.5zM64.5 375l-0.5 1-0.5 3-4 2-2-2-1 0-3 2-0.5 2 2.5 2 1 2.5 1 0 3-2.5 2 0 2-2 2-1 0.5-1 2-2 0.5-1-2-2-1-1zM213.5 375l0 1.5zM104.5 376l0 4 1 1.5 1.5-1.5 0.5-2-1-1.5-1-0.5zM245 376l-0.5 2 0.5 1 1.5 0.5 1.5-0.5 0.5-2-1-1.5zM291.5 376l1 0zM469 376l0.5 2 1.5 0 0.5-1-1-1-1-0.5zM211 378l-2 2 0.5 3 1 1 2 1.5 4-1.5 0.5-1-1-3-3.5-2.5zM227.5 378l0 3 1-0.5 0.5-1.5-0.5-2-1 0.5zM329 379l0 2 0.5 2 1 1 1-0.5 1-1.5-0.5-3-1.5-1zM235.5 380l-1 0-0.5 1 0 1 0.5 1.5 1 0 1-1.5 0-1zM444.5 380l0 1 1 0.5 0.5-0.5-0.5-1.5zM435.5 382l0 1 1 0.5 0.5-1.5-0.5-0.5zM155 384l0 1 0.5 0.5 0.5-0.5 0-1-0.5-0.5zM106 385l-1 1 0 2 0.5 2 1 0.5 1.5-0.5 1-3-0.5-1.5-1-0.5zM412.5 385l0 0.5 1-0.5-1-0.5zM417 385l-0.5 1 1 1.5 1 0 1-0.5 1 2 1 1 1-0.5 0-2.5-1-1.5-2 0-1-1.5-1 0zM445 386l-0.5 2 1 1.5 1 0 1-1.5 0-1-1-1-1-0.5zM134 387l0 1 0.5 1 1.5 0 0.5-1-0.5-1-0.5-0.5zM214 388l-0.5 2 1 1.5 1 0 1-1.5-0.5-2-0.5-0.5-1 0zM221.5 388l-1 2 1 1 1-1 0-1-1-1zM432 388l0.5 1.5 1 0 0-2-1 0zM47.5 389l-0.5 1 0 1 1.5 1 1-2-1-1.5zM40 390l0 1 0 1 0.5 0.5 1 0 0.5-1.5 0-1-0.5-0.5zM206.5 390l-0.5 3 0.5 1 1 0 1.5-1 0.5-1-1-2-1-0.5zM421 392l-0.5 1 1 2 1-1 0.5-1-1.5-1.5zM425 392l-1 1 0.5 1 1 1.5 1-0.5 0.5-2-1.5-1zM148.5 393l0 1zM156.5 393l-0.5 1 0.5 1.5 1 0.5-1.5 2-0.5 2-3 0.5-2 2.5-1 0.5-2 0-3-0.5-2 2-1 0-2-0.5-1 0.5-0.5 2 2.5 5.5 1 0 2-2 6 1 5-1.5 2 1.5 2 0 3 1.5 1 0 2-0.5 2 0 2-2.5 1-2-0.5-6-1.5-1-2-0.5-1-1.5-1 1-0.5 2-3.5 0-1-0.5 0-3.5-1-2 1-2-1-1.5zM429 394l0.5 1.5 1 0 0-1.5-1-0.5zM79.5 395l1 0zM131.5 395l1 1 0.5-1-0.5-1zM214 396l0 1 0.5 1 1 0 0.5-1-0.5-1.5-1-0.5zM201 397l-1 2 0.5 1 1 1.5 1 0 1-0.5 1-2-0.5-2-1.5-1zM47.5 398l-0.5 1 0 2 1.5 2 1 0.5 1.5-2.5-0.5-2-1-2zM54.5 398l-1.5 1 0 2 0.5 1 1 0.5 1.5-1.5 0.5-2-1-1zM61 400l-0.5 1 0.5 1 0.5 0.5 1 0 0.5-1.5-0.5-1zM211.5 400l0 1 1 1 0.5-1 0-1-0.5-0.5zM133.5 401l0 3-1.5 4 0.5 1.5 1 1 1.5-1.5 1.5-3-0.5-5-1.5-1zM174 401l-1.5 1 0.5 1 1.5 1.5 1-0.5 0-2-1-1zM48.5 405l-2 0.5-2.5 2.5 0 2 0.5 0.5 1 0.5 3-1 4 0 1-1 2 1 1-1 0-2-1-1-4-0.5-1-1-1-0.5zM64 410l-1 1 0 1 1.5 0.5 1-1.5-0.5-1-0.5-0.5zM75.5 410l0 0.5 1-0.5zM80 411l0.5 1 0-1 0-0.5zM41 415l0.5 1.5 0.5-0.5 0.5-1-1-1zM68 415l0 1 0.5 1.5 1-1.5-0.5-1zM75.5 416l-0.5 1 0 1 0.5 1 1.5 1 0 2 0.5 1 1 1 1 0 1-2 0-2-1-0.5-2 0-0.5-0.5 0-2-0.5-0.5zM145 416l-0.5 2 0 1 1 1.5 1.5 0.5-1.5 2.5-2-1-2 0-1-1.5-1-3-1-0.5-2 1.5-1 0.5-1 1.5 0 2 5 4 2 3 1 0 1-1 1-2.5 1-1 2 1.5 1 0 1.5-1 0.5-1-0.5-4-2-1-0.5-4-1-0.5zM87 417l0 1 0.5 1 1-0.5-0.5-1.5-0.5-0.5zM153 418l0 1 1 2 0.5 3 1-1 0.5-4-1.5-1.5zM315 419l2 0-1.5-0.5zM66.5 421l-0.5 2 0.5 1 1 0 1-2-1-1.5zM345 421l1.5 1 1.5-1-1.5-0.5zM70.5 427l0 1 0 1 1 0.5 1 0 0.5-1.5-0.5-1-1-0.5zM420 427l-0.5 1 5 1.5 3 0 1-1.5-3-1zM531 429l-0.5 1 0.5 2 1.5 1.5 1.5-1.5 0.5-2-0.5-1-1.5-0.5zM507.5 432l1 1 1-1-2-0.5zM516 434l1 2 2 0-0.5-2-1-0.5zM41.5 446l-0.5 1 0.5 1 1 0.5 1-1.5-0.5-1-0.5-0.5zM191 456l-1.5 1 2 0.5 1-0.5-0.5-1zM52.5 332l0 1-0.5-1zM74.5 332l3.5 0-0.5 14-1 0-1.5-2 0.5-6 0.5-2-1.5-3-0.5-1zM86.5 332l1.5 0-0.5 4 1.5 13-1.5 4 1.5 13-2 4-1 2-4.5 5-1 0-1-0.5-2.5-2.5-0.5-1 0.5-3 0.5-5 1.5-4 0.5-3 1-0.5 1 1.5 2.5 1 0.5 2-1.5 2-0.5 2 1 1 1 0.5 1-1.5-0.5-4 0.5-2 0-4 1-4-0.5-7-0.5-5 1-3-0.5-5zM93.5 332.5l1 1 0 3.5 1 3-1 3.5-1-2.5 0.5-3 0-1-0.5-0.5zM161.5 332l0 1-0.5-1zM200.5 332l2 0 0 1 1-0.5 1 1.5 1 0.5 1.5-2.5 3.5 0 0.5 8-1.5 8 1 6-1 2.5-2-0.5-3-5.5-0.5-5.5 0.5-7-2-4.5-0.5 1.5-1.5 2.5-0.5-2.5zM216.5 332l2 0-1 3-1-1zM331.5 332l0 0.5zM377.5 332l4.5 0-0.5 2-2-0.5-1 1-1.5-0.5-0.5-2zM444.5 332l2.5 0 0 3-0.5 2-2-2.5zM507.5 332l3.5 0 0 3-1.5 0.5-1.5-0.5-1-3zM347.5 333.5l0 3-1-1.5zM50.5 336.5l1 3.5-0.5 3 0.5 1.5 2 0.5 0.5 7-1.5 5-1 1-1 0-1-1-1-4 0.5-11zM160.5 337.5l0 2-0.5-0.5 0-1zM216.5 339.5l1 0.5 1 4-0.5 1-2.5 1.5-0.5-0.5 0-4 0.5-1.5zM231.5 339l0 2-0.5-1zM200.5 344l0.5 1 0 4-0.5 1-1 1.5-0.5-2.5 0.5-1.5 0.5-0.5 0-2zM231.5 343.5l1 1.5 0.5 2-1 7-0.5 1.5-1 0-0.5-1.5 0.5-3-0.5-4 0.5-3zM330.5 349l0 6.5-0.5-1.5-0.5-3zM147.5 349.5l0.5 0.5-0.5 1.5-0.5-1.5z" fill="#00009c" stroke="#000" stroke-opacity="0.7" stroke-width="0.55" fill-rule="evenodd"/>
<path d="M59.5 332l2.5 0 1.5 12-1.5 4 1.5 4 0 2 1 4-0.5 6-0.5 3.5-1 1-2.5-2.5 0-1 0.5-6-1-5 0-7 1-7-1-4zM68.5 332l0.5 4-0.5 1.5-0.5-5.5zM76.5 332l1 0-1 3-0.5-3zM86.5 332l1 0 0 1.5-1 0zM105.5 332l4 0-1 5 1.5 3-1.5 3 1 3-1 4 0.5 2 1.5 2-0.5 3 1 4-0.5 2-1 1-0.5 1-0.5 1 1 1.5 3-0.5 1.5-2 0-1-1-3 1-8 1.5-2.5 2.5-0.5 0-3-0.5-3 2-3 1.5-4 0.5 0 0.5 1 1.5 5 0 3 1.5 5 0 5-0.5 5 0.5 4-3 9 0 4 0.5 1.5 3 1.5 1 0 1-3-0.5-3 0-4 0.5-3-1-3 0.5-1 0.5-0.5 1 0 2 4 1 0.5 1-1 1.5-5 0-10 1.5-3-1-4 1.5-10 0.5-3 2.5 0-0.5 6 0.5 4-1.5 6 0.5 4 1 3 1 6-2 5 0 1 2.5 4 2 0.5 1.5-0.5 0.5-3-1-2 0.5-2 2-4 0.5-2 1-1.5 0.5 1.5 0 2 0.5 2-1 3 1.5 5 0.5 2.5-1 1.5-2 0-2-0.5-2 5.5-1-1.5-2-1-1 2-1 8.5-1 0.5-1-1.5-1 0.5-0.5 1.5 0.5 1.5 2 0 2 3 1-2 1-1 1 0.5 0.5 2-0.5 2-2 1-1-1.5 0 1.5 0 1 1 0.5 1 1.5 2-0.5 1.5-1.5 0.5-1.5 1-1.5 1 0 2 2 1-0.5-0.5-5.5 1.5-3.5 3.5-2.5 1.5-4 1-1 3 0 1 0.5 2.5 12.5 2.5 3.5 1.5-0.5 1.5-1 0-1 0.5 2 0 3 1.5 2 1-0.5 1.5-2.5 1.5-0.5 1-0.5 1.5-7 1.5-3-2-5 1.5-10-1.5-8 0.5-2 1.5-3 1-3 0.5-9 0-13 5.5 0 2 1.5 1 0 0.5 4.5 2.5 5 2-4 1.5 6 0 5 0 12-0.5 2.5-2 4-1-3.5-0.5 1-1.5 1-0.5 2 1.5 2 0.5 5 1 2 2.5 1 2 2 2-2 1 0.5 2.5 7.5 0 4 0.5 0.5 2-0.5 1 1.5 0.5 1.5 1.5 0.5 2-1 0.5-1.5 0-1-3.5-4 0.5-3 0.5-1.5 1 0 0.5 1.5 2 2 1.5 4 2 2 1 0 1.5-2 0-1-1-3 0.5-1 2.5-1-2.5-4-2-2 1-3 2.5-2 0-2-0.5-1-1-0.5-1.5 0.5-0.5 3-2 0.5-1.5 3.5-1.5 1-1-0.5-1-1.5-2.5-6 0-2 1.5-4.5 1-1 3 0 0.5 1.5 0.5 6 1 1.5 1-1.5 1-4-1.5-3-0.5-2 2-9 0.5-1 2 0 0.5 1 0 5-0.5 4 0 2 1.5 1.5 1.5-1.5 1.5-2 2 2 0 3.5 1 1 1 0.5 1 1 0.5 2 0 9 0.5 3 2-4-1-4 0-5 0.5-6 1.5-4 1-1 1 2 1 4 0 7-1 1-2 2-0.5 2 1.5 1 2 0 1 1-1 3 1 2 1 0 3.5-4 2-1 0.5-1-0.5-4-1.5-1-2 1 1.5 4-1.5 1-0.5-1 1-5 0-9 0.5-4.5 1-1.5 1 0 1-0.5 0.5-1.5-2-2-0.5-1 2-6-1-4 0-1.5 1-1.5 1 0 1 4-1.5 3 1.5 2.5 3 1 1-0.5 0.5-2-0.5-3 1-3 2 2 1 5.5 1-9.5-0.5-8 28 0-0.5 1 1 1.5 1.5-0.5 0.5-1-0.5-1 0.5 0 1 7.5 1 0.5 1-8 15.5 0 0 2-1 3 2 2 1.5 4 1 0.5 1-0.5 0.5-2-2-3 0.5-6 7 0-0.5 3 1.5 4-3 6 1 1.5 2-1 3 1.5 1-1 1-1.5 1 2.5 1 7-0.5 5 0.5 2 1 0.5 1-0.5 0.5-2-1-3 0.5-2 1-0.5 2 1 1.5-1.5-2-3-2-2 0.5-3-1-3 0-3 1-1-1-1.5-0.5-4.5 5.5 0 1 17 0 3-1 4 0.5 3-0.5 3 1 1.5 1 0.5 2-1 0.5 3-2 3 0 3 0.5 1.5 2.5 1.5 1.5 2.5 2.5-3.5-1-2 0.5-5-0.5-7 1-5 2-3-0.5-1-1.5-1-0.5-1 0-3 0.5-3-0.5-2 0-3 0-0.5 1 1 1-0.5 1-2 0-4 4.5 0 1.5 18-0.5 4 0.5 1 1 0.5 1.5-1.5-0.5-2-1-2 1-5 1-0.5 2 1 1 0 1-4.5 0-9 7 0-1.5 9 0 2 3.5 6 2 2 1-0.5 0.5-0.5 1-3-1-4 1-11 6 0 0 21-1.5 3-0.5 3-1 2-0.5 1 1 2 2 1 1-0.5 0.5-1.5 1-10 2.5-2 2.5-3 1-2 0-2-2.5-3 0-2 2-0.5 1 1.5 1 0.5 2-3 1 0 1 3 1.5-2.5 1-3 0-3 9 0 0.5 5-1 1-2-0.5-2 1.5-0.5 1 0.5 3-2-0.5-1 1-0.5 1.5 0.5 1.5 2 1 2 2.5-0.5 6 0.5 2 0.5 3 3.5 1-0.5 3 0.5 1 1 1 1 0 0.5-1 0-5 0.5-1 2-2 0-1-1-2 0.5-4 0.5-1 0.5 1 0 3 1.5 2 1 0 1-1 0-1 0-4-1-1-2 0-0.5-2-5-9-0.5-2 1-4 10 0-0.5 3 0 4 0 4 1.5 7 1 1 2.5-5-0.5-3 0.5-11 3 0-0.5 9 0 2-1 3 0.5 1 1.5 1.5 1.5-2.5 0-3 0.5-2-1-9 3.5 0 0.5 5-1.5 3 0 1 1.5 1.5 1-0.5 0.5 1-0.5 0.5-1 0-1 0.5-0.5 1-0.5 5 1 1.5 1 0 2-2.5 1 0.5 2.5 5.5 0.5 0.5 1 0 0.5-2.5-0.5-8 0.5-1 1.5-1.5 1 0 1 1.5 0 5 1 2.5 2 3 3-0.5 1.5 6 1.5 3.5 1 1 1 0 1-1 3-4.5 1.5-4-0.5-3 0-1 1 1 0.5 5 0 4 1.5 5 1 1 1.5-2 1.5-5-1.5-6 0-2 1-3-1-4 0.5-3.5 1.5-2.5-0.5-7 1 0 0 7 1 3 0.5 4-1 3 0.5 4-2 7 1 6 1 2.5 1 0.5 1-1 2-1 1-1-0.5-2-2-2 0-1 0-3 1.5-3 3-3.5 1-2.5 0-4 0.5-2 1.5-1.5 1-0.5 1.5-3 1-6 6.5 0-0.5 3 1.5 4.5 1 1 2.5-4.5-1-4 5 0 0 3 1 6-0.5 5 0 5 0 1-2 1-2 4 0 1 1 1 4 1 0.5-2 2-3 1.5-7.5 0-2.5-1-3 0-2 2-1 1-2-1-2-1-0.5-1 0.5-1-0.5-0.5-2.5 18 0 0.5 8.5 2-0.5 2 0 1-0.5 0.5-7.5 15 0 0 4 1.5 6 1-1 0.5-9 10.5 0 0 132-502 0 0-54.5 2.5-1.5-0.5-0.5-1-2.5-1-1 0-38.5 2.5-9.5-0.5-3 0-5 1-3 1-1.5 2 3.5-0.5 10 0.5 1.5 1 1.5 1 1.5 2 1 3-1 2-1 1.5 0.5 0.5 1 0 6 0 1-2 2 0 1 0.5 1 1.5 1 0.5 4-0.5 1-2.5 2-0.5 2 0.5 1 1.5 1 0.5 1 0 3 0.5 1 1 0 2-2.5 2-1.5 2-0.5 4-2 1-2.5 2-2 0-1-3.5-5-0.5-2 1.5-6-1-6 1-3 0-4 1-2 0-6 0.5-2 1-0.5 1.5 6.5-0.5 5-1 3 1.5 5 0 4 1.5 1.5 1.5 5.5-1 7 0.5 2 1 1.5 1 0.5 2-1.5 1 0.5 2.5 4 0.5 4 1 1.5 2 0.5 4-1.5 1 0 2 2 1-0.5 1-4.5 2-1.5 0.5 2 1 2 2 2 1.5 0.5 1.5-1.5-0.5-4 1-3-1-0.5-1-0.5-1.5-2 0-2 0.5-3.5 2 0 2-0.5 0.5 5 0 3 0.5 5 0.5 2 1.5 1 1-0.5 1-1.5 0.5-2-0.5-1.5-2-1.5-0.5-1 2-4 0-1-3-4 0-2 0.5-2 2 1 1-1 0-1-2-1.5 0-0.5 0-7-0.5-8-0.5-1-2.5-2 0.5-4 2-3-0.5-1 0-1 1.5-4-1.5-3-0.5-1zM536 333l-0.5 3 1 2 1 0 1.5-2 0-2-1.5-2zM518 335l0.5 0.5 0-0.5zM274 336l0 2 2.5 3 1 0 0.5-1 0-2-2.5-2.5-1 0zM401 339l-0.5 1 0 1 1 0.5 1.5-1.5-1-1zM495.5 340l-0.5 1 0.5 1.5 1 0.5 1-0.5 0.5-1.5-0.5-1.5-1-0.5zM501.5 340l1 1.5 1-1.5-1-1zM468 342l-0.5 2 0 2 1 2 1 0 1.5-2 0-2-0.5-1.5-1-0.5-1-0.5zM504 343l-2 1-0.5 1 0.5 1 0.5 0.5 4-0.5 0.5-2-0.5-1.5zM481 345l0.5 2 1 0 0.5-1 0-1-0.5-0.5-1 0zM292.5 346l-1 11 0 3 1 3 1-3 0.5-4-0.5-8zM509.5 348l-1 1 0 2 1 1 1 0 0.5-1 0.5-2-1-1.5zM467.5 349l-1 1 0 1 1 1 1-1 0.5-1-0.5-0.5zM354 352l0.5 1.5 1-0.5 0-1-1 0zM363 356l0 1 0.5 1 1 0 0.5-1-0.5-1-1-0.5zM190.5 357l-0.5 1 0.5 2 1-0.5 0.5-1.5-0.5-1.5zM118 358l1.5 4 1 1 1-0.5 0.5-1.5 0-1-2.5-2.5-1 0zM364 362l0.5 1.5 1 0.5 0.5-1 0-1-0.5-0.5zM519.5 366l1 1.5 1 0 1-0.5-1-1.5-1 0zM48.5 367l-1 3-2 1-4 8 0.5 5 3.5 2.5 4-4.5 0.5-3-0.5-4 0-2 2-4 0-1-2-1.5zM305.5 368l0 1 0-1zM305.5 369l1.5 0-0.5 0zM40.5 371l-1 2 1 1 1-0.5 0.5-1.5-0.5-1zM134 372l-2 3 0 1 0.5 0.5 0.5-1.5 1.5 0.5 1.5-1.5 0-1-0.5-0.5-1-0.5zM138 373l0 1 0.5 1.5 1-0.5 0-1.5-0.5-0.5zM442 373l0 1 0 2 1.5 3 0 1-1.5 0 1.5 1 1 1 1 0 0.5-1-0.5-2 1-3-2-3.5-1-0.5zM246.5 375l-1.5 1-1 2 1.5 2 2 0 1.5-1 0.5-2-1-2-1-0.5zM291.5 375l-0.5 1 0.5 0.5 1 0.5 0.5-1-0.5-1.5zM469.5 375l-1 1 0.5 2 1.5 0.5 1.5-0.5 0-1-0.5-1-1-1zM221 377l0.5 1.5 0.5-1.5zM330 378l-0.5 0.5-0.5 1.5 0 3 1.5 1.5 2-0.5 1-1 0-4-1-1zM435 382l0.5 1.5 1 0 0.5-0.5 0-1-0.5-0.5zM155.5 383l-1 1 0 1 1 1 1-1 0-1zM412.5 384l-0.5 1 0.5 1 1 0 0.5-1-0.5-0.5zM417 384l-0.5 1 0.5 2 0.5 0.5 2 0.5 1.5 2 0.5 1-1 2 0 1 1 1 1.5-1 0.5-1 0-1-1.5-1 1-2 0-2-1.5-2.5-3-1zM444.5 386l0 1 0.5 2 1.5 0.5 1-1.5-0.5-2-1.5-0.5zM221 388l-1 2 1.5 1.5 1-1.5 0-1-1-1.5zM432 388l0 1 0.5 1 1 0 0.5-2-0.5-0.5-1 0zM46.5 389l0 2 1 1 1 0 2-2-0.5-1-1.5-0.5zM40 390l0 2 0.5 1 1 0 0.5-1 0-2-0.5-0.5-1 0zM423.5 392l0.5 2 0.5 1 1 0.5 1 0 0.5-1.5-0.5-2-1-0.5zM156 393l0 1 0.5 2-1 3.5-3 0.5-2 2-2 1-4-1.5-2 2-3 0-2 1-1-1.5-0.5-2-0.5-1-1 0-1 1-1.5 6 0 2 0.5 1 1 0.5 3-2.5 2 1.5 2 3.5 1 0 2-1.5 4 0.5 2 0.5 4-1.5 1 0 2 2 2-0.5 3 1.5 5-0.5 3.5-3.5 0.5-1 0-6.5 1 0 2 2.5 1 0.5 1.5-1.5 0-2-1.5-1.5-5 1.5-1-1-2-0.5-2-1.5-1 0.5-1 2-2.5-0.5-1-1-0.5-4 0.5-2-0.5-1-1-0.5zM84 394l0.5 1.5 1-0.5-0.5-1-0.5-0.5zM132 394l-0.5 1 1 1.5 1-1.5-0.5-1zM429 394l0 1 0.5 1 1-0.5 0.5-0.5-0.5-1.5-1 0zM79.5 395l0 0.5 1 0 0.5-0.5-0.5-1-1 0.5zM214 395l-0.5 2 1 1.5 1-0.5 1-1 0-1-1-1-1-0.5zM201.5 396l-1.5 2 0 2 1.5 2 1 0 2-2 0.5-2-1.5-2-1-0.5zM47.5 397l-1 2 0 4-0.5 1-1.5 2.5-3 2.5 1 1.5 0.5 0.5 2.5 0.5 4-1.5 3 0.5 1-1 2 0.5 1-0.5 0.5-1.5-0.5-1.5-3.5-2.5 4.5-3.5 0.5-1.5-0.5-1-2-1-1 0.5-1 0.5-2 2.5-1-4-1 0zM92.5 399l0 0.5 0-0.5zM60.5 400l-0.5 1 0.5 1 1 1 1 0 0.5-1 0-2-1.5-0.5zM211 400l0 1 0.5 1 1 0.5 1-1.5-0.5-1-0.5-0.5zM68.5 402l1 0.5 0-1.5-1 0.5zM81.5 403l0 1zM80.5 404l0 0.5 1-0.5zM91 405l0.5 0zM353.5 407l-1 1 2.5 0zM64 409l-1.5 1.5-1 0.5 0 1.5 3 0 0.5-0.5 0.5-1 0-1.5-1-1zM72.5 409l0 1.5 1-0.5zM75 410l0.5 1.5 1-0.5 0.5-1-0.5-1-1 0.5zM80 411l0.5 1.5 0.5-1.5-0.5-1zM41 414l-0.5 1 0 1 1 1 1-1 0-1-1-1.5zM68 415l-0.5 1 1 2 1-0.5 0-2.5-1-0.5zM146.5 415l-1 0.5-1 1.5-0.5 4-2.5 0.5-1-1-0.5-2.5-1.5-1-4 3-0.5 2 1.5 3.5 4 2.5 2 2 1 0.5 3-3 3 0.5 2-1 2-1.5 2 0.5 2 1 0-6-0.5-3-1.5-1-1 0.5-0.5 0.5 0 4-0.5 2-1-0.5-1-3.5-2-1-1-3zM74.5 416l0 2 2.5 5 1.5 1.5 1-0.5 1.5-2 0-2-3.5-2 0-1-1-1-1-0.5zM86.5 417l0.5 2 1.5 0 0.5-1-0.5-1-1-0.5zM314 419l1.5 0.5 2-0.5-1-0.5-1-0.5zM66 421l0 2 0.5 1 1 0.5 1-1.5 0-2-1-1-1 0.5zM344.5 421l2 1 2-1-2-1zM71.5 426l-1 1-0.5 1 0.5 1 1 1 1.5-1 0.5-1-1-1.5zM419.5 427l-0.5 1 5.5 1.5 3 0 1-0.5 0.5-1-1.5-1-2-0.5-4 0zM532.5 428l-2 1 0 2 0.5 2 1.5 1 1.5-1 1-2-1-2zM505.5 431l2 2.5 2-0.5 2-1-4-1.5zM516.5 433l-1 1 1 2 2 0.5 1-0.5-0.5-2-0.5-0.5zM41 446l0 2 1.5 1 1-1 0.5-1-0.5-1-1-0.5zM185 453l1.5 1 0.5-1zM189 456l0 1 2.5 1 3-1.5 4-0.5-7-0.5zM207.5 332.5l2-0.5 0.5 2-0.5 3 1 3-1 3-0.5 4 0.5 6 0 1-1 0.5-1-1.5-1-3-1-0.5-1-3.5 0.5-2 0.5-1.5 1 0 1-3.5-1-3 0-2zM217.5 332l0 1.5-0.5-1.5zM247.5 332l2.5 0 0 2-0.5 3-1 2-1 0.5-0.5-2.5 0-5zM380.5 332l1 0-1 0.5zM430.5 332.5l0.5 2.5-0.5 4-1 1-2 0-0.5-2 0-1 0.5-0.5 2.5 0.5zM445.5 332l1 0 0 2.5-1-1zM460.5 332l2 0 0 4.5-1 1zM508.5 332l2 0 0 2-1 1.5-1.5-1.5 0-2zM86.5 338l1 0.5 0.5 1.5-0.5 4 1 4-1 3-0.5-2 0-5-1-3zM41.5 340l1 1.5 0 1-1-0.5zM223.5 343.5l1 1 1 4.5 0 12-1 0.5-1-1.5-1 0-0.5-1 0.5-3 1.5-3 0-2-1.5-4 0-2.5zM50.5 345l0.5 1 0.5 3 1.5 4-1 3-0.5 0.5-1 0.5-1-4 0.5-4 0-3zM159.5 344.5l1 0 1 3.5-1 5.5-1 0 0-0.5zM231.5 345l1 2-1 7-0.5-1 0.5-2-1-4zM101.5 348.5l0.5 0.5 0 1-0.5 1.5-1 0.5 0-2.5zM168.5 352l1 0 0.5 2-1.5 4 1 4-0.5 1-0.5 1-1.5-2-0.5-3 0.5-3zM86.5 355l0.5 1-0.5 1zM100.5 359l1 1-1 1.5zM158.5 358.5l1 1 1.5 4.5-0.5 2-1 2-1 4-1 2.5-1-1.5 1-3 0-10zM81.5 360l1 0 1 1 0 1-1 2-0.5 2 3 3 0.5 2-2 3.5-2 1-2 0.5-2-2-0.5-2 1-2 0.5-6.5 2-3.5zM87.5 361l1 4-0.5 2-1.5 1.5-0.5-1.5 0-4 0.5-1.5zM101.5 364.5l1.5 1.5 0.5 3-2 0.5-1 0.5-0.5-2 1-3zM167.5 366l1 1 0.5 4 3.5 4.5 1 2.5-1 4-3 3.5-1 0-0.5-1.5-2-2-0.5-4-1-3 1.5-3 0.5-5.5zM193.5 370.5l0 2zM59.5 377l2 1-1 1-1 0.5-0.5-1.5zM167.5 388l0.5 0-0.5 0.5zM168.5 390l0 1z" fill="#0000c8" stroke="#000" stroke-opacity="0.7" stroke-width="0.55" fill-rule="evenodd"/>
<path d="M106.5 332l2.5 0-0.5 2.5-1 0.5-1-2-0.5-1zM180.5 332l4.5 0 3 4 1 3 2.5 6 2-3 1 2 0 3-1 9 1 2 0 4.5-1 1.5-2-1-3 5 0 1 1.5 3 0.5 5 1 3.5 2-0.5 3 2.5 2-1 1 0.5 1 6 0 4 1 2 0 1-2 3 0 3 2 1.5 1 0.5 1.5-1 1-1 1-3-0.5-2-1-1 1-0.5 1 1 3-1.5 1-1 1-2 1.5 2 0.5 5-2.5 1-0.5 2 1 1.5 1 0.5 1-2 0-2.5 2 0.5 1.5-2-1.5-4 2-3 0-3 1-1 1 0 1 1-1 3 1 2 1 0 1-2-1-5.5-5.5-6.5 0.5-2 1.5-2 0.5-3 0-2-3 0-0.5-1-1-5 0.5-6 1-3 1 0 0.5 2-0.5 6 0.5 2 1.5 1.5 3-3 1.5 1.5 0.5 3 2 2 1 7 0 8 1 2 3-7 2 0 0.5 1 0.5 3 1 1.5 1 0 3-1.5 1-1 4-3 4 2 1 0 2-2 2 0 1-1-1-2.5-1-0.5-1 1-1-1-1-2-1-0.5-1 1.5-2.5 2-0.5 1-1-1-1.5-3-2-1-0.5-2 0.5-3-0.5-4 0.5-3 0.5-1 2-0.5 1-1.5-0.5-2-1.5-2 1-3 0-0.5 1 0 1 1 4 1 1-2.5 0-4 0.5-1 0.5 0 1 2 1 16 1-1.5-0.5-5.5 0.5-23 26 0 0.5 2 1.5 1 2 0 1 7 1 0 1.5-10 14 0-1 5 2 2 2.5 5.5 1 0 1-1.5 0.5-2-1-3 0-6 6 0 0 3 0.5 4-2 5 0 2 1 1 2-0.5 1 0 2 2 2-1 1 6.5 0 5 1 3 1 0.5 1-1 1-1.5-0.5-5 0.5-0.5 3.5-0.5 0.5 1 0.5 4-0.5 3 2.5 4-0.5 3 0 3 0.5 1 2.5 3-0.5 1-1.5 1-1 1 0 4 1 2 2 0 1 1.5 1 0 1-3.5 0.5-6 2-2 2-5-1.5-4.5-1-1.5-0.5-3 2.5-9 0-1.5-1.5-2.5-0.5-1 2-5 1-10 3 0 1.5 18-0.5 4 1 2 1 0 1-0.5 1-1.5-0.5-4 0.5-2 2 1.5 1 0 0-0.5 1-7 0-10 6.5 0-1 10 1 4 0 4 0.5 1 1 0.5 4-0.5 1.5-2 0.5-3-1-4 1-6 1-2-0.5-2 4.5 0 0 21-1.5 3-0.5 3-1.5 3 1.5 2 3 2 1-3 0.5-9 2.5-2 4-6 1-1 1-4 1-1.5 1 1.5 0 2 1 1 1-1.5 1-0.5 2 6.5 1 2 1.5 0.5 0.5 1-0.5 2-0.5 1-1 0-1 1-0.5 2 0.5 2 1 0 1-2 1 0 0 3 0.5 1 3.5 1.5 0.5 2.5 0.5 1 1 1 1-0.5 0.5-1.5 0.5-5 2-2 1-3 2 1 1-1 1-2-0.5-4-1.5-2.5-1 0-1-1-1-3.5 1.5-1 1.5 1.5 0.5-4.5 0-2-0.5-0.5-1 2-2 0-2 1.5-1-0.5-0.5-3.5 0.5-4 8.5 0-0.5 3 0 7 2 11.5 1-0.5 1-2.5 2-2 1 0 2 2.5 1-1 1 0 0.5 1 2.5 2.5 2-2.5 1 0.5 2 3.5 1 1 1-0.5 1-1.5-0.5-8 0-1 1.5-1.5 1 0.5 0.5 1 0.5 5.5 2 6 3 1 1 1 4 7.5 1 0 3-4 1-1 1 0 2 3 1 4.5 1 1.5 1-3 1-1.5 1 0 2 4.5 1 0.5 2-2.5 1.5-1 1-2-2.5-5 0.5-2 0.5-2 3-2.5 2-4.5 0.5 2 1 1 0.5 0.5 1-0.5 2.5-6 0-3-1-3 0.5-8 5.5 0-0.5 2 0.5 2 1.5 5 1 1 1-0.5 1.5-5.5-1-4 4.5 0-0.5 4 0.5 5 0 2-1 1-2-0.5-1 1.5 0 1 1 2 1 0 1-1 0.5 1-0.5 2-1 0.5-0.5 3.5-1 3 1 2 2 1 1.5 2 1 0 3.5-6 0.5-5 0.5-10 1.5-4-1-2.5-2-1-0.5-1.5 16.5 0-0.5 9-0.5 1-2 1-1.5 2 1.5 2 2-0.5 2 1.5 0.5 1-0.5 3 3 0.5 1 0 1-1 0-3.5 0-1-1-1-2.5 2-0.5-1 0.5-5 0.5-1 1-0.5 1 1 1 0.5 1-10 14 0 0.5 6 1.5 7 1-0.5 1-12.5 6 0-1 2 0 2 1 2.5 1 0 1.5-2.5 0.5-1-1.5-3 2.5 0 0 99.5-2.5 2.5 2.5 1 0 29-502 0 0-54 2 0.5 2 2 4-0.5 3-1.5 6 0 1-0.5 1-2-0.5-2-1.5-2 0.5-1 2.5-1 3 1.5 1 0 1-1.5 0-1-1-2-3 0.5-1.5-2.5-2.5-1.5-3 1.5 0-2-1 0-4 0.5-2-1.5-1 2 0 1 1 2-1 2-1 0.5-5 1 0-22 1.5 1.5 1 3 2.5 1 2 5.5 1 1 2 0.5 3-2.5 4 1.5 1-0.5 3-3.5 1-0.5 3-0.5 3-2.5 2-3.5 1.5-2 0-1-2-3-0.5-2 0-2-0.5-2 0.5-1.5 1 0 1 0.5 2.5 2 1 2-1 7 0.5 2 0.5 1 2.5 2 2-1 1 0.5 1.5 2.5 1 5 2.5 2 0.5 2 0.5 1 1-0.5 0.5-0.5-0.5-2 0.5-1 1.5-0.5 2 0 2 2 1 0 2-4.5 1 0.5 4 3.5 2-0.5 1-1.5 0-4 1-0.5 0.5 2.5 1.5 2 1 0.5 1-0.5 1.5-2 0.5-2-1-2-1-2 1-5-2.5-4 0-1 0.5-1 2-1 0.5-1 0-2 3.5-0.5 1.5-1.5 0.5-2-0.5-3 0.5-7 1-2 1-0.5 2 1 1-0.5 0.5-8 1.5-3.5 1.5 2.5 0 4 1 5 0.5 4.5-1 2-1 0-1.5-1.5-0.5-2-1 0-2 1.5-0.5 1.5 1.5 4 1 1 2.5 1 1 2 0 1-3 8 1.5 5.5 1 1 3 0.5 1-0.5 1-1.5 0.5-2-0.5-3 0-4 0.5-3-1-3 0.5-0.5 1-0.5 1.5 3 2.5 3 1-5 1-3 1-9 1 0 1 6 1 2 0 2-1 3 1.5 5-1.5 1.5-1 0-2-1-2 0-1 1.5-0.5 4 0.5 3.5 1 0.5 1-0.5 1-3.5 0.5-1 1.5-1 1 1 0 2-1 7-2 0.5-1 1.5 0 1 1 2 2 1 1.5 6 2.5 1.5 2 0.5 1-0.5 2-3.5 1-0.5 2 1.5 1 0 1-4 3-2-0.5-4 0.5-0.5 2 1 1-0.5 0.5-1-1-4 0.5-1 1-0.5 2 0.5 0.5 1 2.5 11 3 3 2.5 0 0.5 1 0 3.5-2 0-2-1.5-1 0.5-1 2-1 0-1-0.5-1.5-4 0-3-1.5-1-1 0-1 1 0.5 3-0.5 2-1 1-2 0.5-3 1.5-2 0.5-3-1.5-1 0-1.5 2-3.5 1-1 0-2-3.5-1 0-1.5 1.5-1.5 6 0 2 1 1.5 1 1 2-1.5 2 0.5 3 3 4-1 5 1.5 3-0.5 1.5 1.5 0.5 1-1 0.5-2 3-2.5-1.5-1.5-3.5-1-0.5-1 0.5-1 1.5-2 4-1 0-1.5-3-1.5-0.5-4 2.5-1 1-0.5 7 1.5 1 4 0.5 3 2 1 0.5 3-1.5 8-1.5 2 1.5 2-0.5 0.5-1 0.5-4-1-4-1-2.5-1-1-1-0.5 2-0.5 1-1.5 1-0.5 3 1.5 5-0.5 3-2.5 2-0.5 0.5-2.5 0.5-0.5 2-0.5 2-4 0-2-1-1.5-3-1-0.5-0.5 1-2 2.5-1 0.5-1 1-6 1.5-4-1-6 1-4 0-3 1-3-2-7 0.5-2 1.5-2 0.5-3 0.5-10-0.5-8zM366.5 334l0.5 1 0.5 0.5 0.5-0.5-0.5-1zM518 335l0.5 1 0.5-1-0.5-1zM273.5 336l-0.5 1 1 2 2.5 2.5 1 0 1.5-2.5-0.5-2-3-1.5-1-0.5zM497 338l-1.5 1.5-0.5 1.5 0.5 2 1 0.5 1.5-0.5 2.5-2 2 1 1-1 0.5-1-1.5-1-2 0.5-3-1.5zM292.5 342l-1 7-0.5 8 0.5 6 1 3.5 1.5-7.5 0-8-0.5-7.5-1-2zM354 352l0 1 0.5 1 1.5-1-0.5-1.5-1 0zM191 356l-0.5 0.5-1 1.5 1 2.5 1-0.5 2-3 0-1zM362.5 356l0.5 2 0.5 1 1-0.5 0.5-1.5 0-1-1.5-1zM364.5 361l-0.5 2 0.5 1 1 0.5 1-1.5 0-1-1-1zM519.5 365l-0.5 1 0 1 1 1 1.5 0.5 1.5-1.5-1.5-2-1-0.5zM305.5 367l-1 0.5-0.5 0.5 0.5 1 2 1 1-0.5 0.5-0.5-0.5-0.5zM487.5 368l-1 1 2.5 0zM420 372l-2 6 0.5 3-2.5 4 0 1 1.5 2 1.5 1 1 1 0.5 4.5 1 1 2-0.5 2 1 1 0 1-2 1 0-1 0-0.5-2-0.5-0.5-2.5-1.5-0.5-3-2-5 0.5-3-0.5-5-1-2.5zM442 372l-1 2 0 4-1 2 0.5 1 3 3.5 0.5 3.5 0.5 1 1 1 1 0 1-1 0-2-1-2-1.5-1 0-1 1.5-2-0.5-2 0.5-3-2-4-1-0.5zM479.5 373l0 1 0.5-1zM291.5 374l-1 2 1 1.5 1 0 1.5-1.5-0.5-1-1-1.5zM469 375l-1 1 0.5 1 0 1 1 1 2 0 1-1 0-1-1.5-2-0.5-0.5zM260 376l1 0zM221 377l-0.5 1 1 1.5 1-1.5 0-1-1-0.5zM364 378l0.5 1 1-0.5 0.5-0.5-1.5 0zM292 381l0.5 1 1 0.5 0.5-1.5-0.5-0.5zM435.5 381l-0.5 2 0.5 1 1 0 1-1 0-1-1-1.5zM304.5 384l1 1 0.5-1-0.5-0.5zM412 384l0 2 0.5 0.5 1 0 0.5-1.5 0-1-1.5-0.5zM397.5 385l1 0zM293.5 386l1 0.5 1-0.5-1-0.5zM432 387l-0.5 2 1 1.5 1 0 1-1.5-0.5-2-1.5-0.5zM269 388l3 0zM276 388l4 0-1.5-0.5zM487.5 388l2 0.5 1-0.5-1-0.5zM40 389l-1 2 0 1 1.5 1.5 1 0.5 1-1 0.5-2-1.5-2.5zM429 393l-0.5 2 1 1.5 1-0.5 0.5-2-0.5-1-1-0.5zM508 393l2.5 0zM79.5 394l-0.5 1 0.5 1 1 0.5 0.5-1.5 0-1-0.5-0.5zM131.5 394l-0.5 1 0.5 1 1 1 1.5-2-0.5-1-1-0.5zM221.5 396l0 0.5 0-0.5zM92 399l0.5 1.5 0.5-1.5-0.5-0.5zM68 401l0 1 0.5 1 1 0 0.5-2-0.5-0.5zM80.5 403l-0.5 1 0.5 1.5 1.5-1.5 0-1-0.5-0.5zM90.5 405l0 1 1 0 0.5-1-0.5-0.5zM64 407l-1 2-2 2 0 1 0.5 1 3 0 1.5-2 0-2-0.5-1.5zM352 407l0 1 1.5 0.5 2.5-0.5-0.5-1-1 0zM509 408l2 0zM72 409l0 2 2 1 0.5 1-1 3 1 5 3 4 2 0 1.5-2 0.5-3-1-1-2-1-1-2-2.5-2-0.5-1 2.5-2 0-2-0.5-0.5-1 0-1 1-2-1zM79.5 410l-0.5 1 1.5 2 1-1 0-1-1-1.5zM505 411l0.5 0.5 1.5-0.5-1.5-0.5zM41.5 413l-1.5 2 0.5 1.5 1 0.5 1-0.5 0.5-1.5-0.5-1.5-1-1zM67.5 415l-0.5 1 0.5 2.5-1.5 1.5-0.5 2 0.5 2 0.5 1 1 0 1.5-2 1.5-7-1-1.5-1-0.5zM86 416l-0.5 1 0 1 2 2 1 0 0.5-1 0-2-1.5-1zM314.5 418l-1 1 1 0.5 2 0.5 1.5-1-1.5-1zM345 420l-1.5 1 2 1 2 0 1.5-1-1.5-1zM70 426l-0.5 1 0.5 2 1.5 1.5 1.5-0.5 1-1 0-1-1-2-1.5-0.5zM494 426l-0.5 1 1 0.5 1-0.5-1-1zM414.5 427l-1.5 1 1.5 0.5 4 0 6 1.5 3 0 1.5-1 0-1-1.5-1-3-0.5-4 0-3 1zM531 428l-1 1 0 2 0.5 2 2 1.5 2.5-1.5 0.5-1 0-2-0.5-1-1.5-1-1-0.5zM300.5 429l1 1 1.5-1-1.5-0.5zM506 430l-1.5 1 1.5 2 1.5 1 4.5-1 1.5-0.5 0.5-0.5-6.5-2zM514 433l1.5 3 1 0.5 2 0.5 2-1-0.5-2-1.5-1-2-0.5zM41 445l-0.5 2 1 2 1 0.5 1.5-1.5 0-2-1.5-1.5zM356.5 447l1.5 0zM182.5 452l0.5 1 2.5 1.5 2 0.5 0.5 2 2.5 1.5 5-1.5 8.5-1-3.5-0.5-12-0.5-0.5-2-0.5 0-3-1zM248.5 332l1 0 0 4-1 1.5-0.5-1.5-0.5-4zM322.5 332l4 0 0.5 16-0.5 3.5-3.5-3.5 0-3-1-4 0-1 1.5-2-1.5-3-0.5-3zM390.5 332l4.5 0 0 1 0 2-0.5 1-4 2-0.5-1 0-2-0.5-3zM417.5 332l1.5 0 0.5 4-1 2.5-1-2zM461.5 332l0 1.5zM509.5 332l0.5 0-0.5 2-1-2zM61.5 334.5l0 3.5zM137.5 334.5l0 1.5-0.5-1zM136.5 336l0.5 0-0.5 0.5zM412.5 335.5l1 0 0 1.5 0 2-1 0zM107.5 338l1 0.5 0.5 1.5-0.5 1.5-1 1-0.5-2.5zM136.5 339l1 1.5 0.5 1.5-0.5 2-1 2-1-0.5 0-1.5zM61.5 341l1 1.5 0 1.5-1 3 0 2 1 2-0.5 3 1.5 4 0 6-1 2-1 0-0.5-2 0.5-5-1-8 0.5-4 0-3zM454.5 342.5l1 0 0 0.5 0.5 2-0.5 1.5-1 0-1-1.5zM107.5 343.5l1 1 0.5 1.5-1 3 0 2 2 4-0.5 1-1 0.5-1 0-0.5-5.5-2.5-4 0.5-2zM69.5 345l0 3.5-0.5-0.5-0.5-1 0-1zM42.5 345.5l1 1.5 0.5 2-0.5 11 1.5 2 1.5 5-2.5 4-0.5 2.5-2-3-1 0-2 1 0-4 0.5-1.5 2.5-9-0.5-4 0-5 0.5-1.5zM466.5 346l0 2zM68.5 351l1 1 0 1-1 1.5-1-0.5 0-1zM454.5 351l1 1 0 1.5-1 2-1-2.5zM224.5 356l0 2-1 0.5 0-1.5zM67.5 358l1-0.5 1 1.5 0 2.5-1 1-1-0.5-0.5-1zM108.5 359l1 0 1 2-2 4 0 2-1 0-0.5-3 1-4zM52.5 361.5l1 0 1 0.5 0.5 1 0 5-0.5 1-1.5 2 0 1 2.5 3 0 2-1 2-3 2.5-1-7.5 1.5-5 0-1-2.5-3 0-1 0.5-1zM146.5 362l0.5 1-0.5 5.5-1-0.5-0.5-3 0.5-2.5zM231.5 362l1 3 0 6 0 1-2 1.5-1-0.5-0.5-2 0.5-6 1-2zM79.5 364l1-0.5 0.5 1.5-0.5 2 3 2 0.5 1 0 2-1.5 2-3 0.5-1.5-1.5 1.5-4.5 1-1.5-1-1zM207.5 365l2 0 1 1 0 5.5-1 3-1 0-1-1-1.5-3.5 0-2zM167.5 368.5l0 2zM167.5 372l1 0.5 3 4.5 0 4-1 2-1 0.5-1-0.5-1.5-2 0-1 1.5-2 0-1-2-0.5-1-1.5 1-2.5zM141.5 372.5l1 0.5-1 2.5-1-0.5 0-1 0-1zM100.5 376.5l2 0.5 0.5 1 0 2-1.5 1.5-1 0-0.5-1.5zM48.5 384.5l2-0.5 3 2 0.5 1-0.5 0.5-6 0 0-1.5zM210.5 388l0.5 2-0.5 0.5-0.5-1.5zM204.5 394l0 1zM42.5 403.5l1 0.5-1 1.5-0.5-1.5z" fill="#0000f4" stroke="#000" stroke-opacity="0.7" stroke-width="0.55" fill-rule="evenodd"/>
<path d="M182.5 332l1 0 1 1 2 4 0.5 4 1.5 3 1 4 0.5 6-1 4 0.5 5-1.5 6 1.5 11 1 3.5 3 0.5 1.5 2 0.5 5.5 1 3.5-0.5 2-1 1-2.5 1-2 1-0.5 2 0.5 1 13 7.5 10 0.5 1.5 1-0.5 2 1 1 2 0.5 4 0 0.5 0.5 0.5 2 1 1 4 1 0.5 1 1.5 0.5 1.5-0.5 0-1-2.5-1 0-2-3-3-1.5-4-1-3-1.5-1.5-3-1-3-0.5-0.5-1 0.5-1 2-1.5 2-0.5 2 0.5 1-1 0.5-1.5 0.5-8-0.5-9 0-4-0.5-3.5-1-0.5-1-2 0.5-3 0.5-1.5 3 4.5 1 4 0.5 23 0.5 3 1 1 6-0.5 6 3 6 1 3 0 4-1.5 0.5-1-0.5-1-1-0.5-4-0.5-6 0-2-0.5-0.5-0.5 0-3 1-1 2.5-0.5 1.5-1.5 1-4-0.5-4 1-1.5 1 0.5 0.5 5 1 1 0.5 0.5 2-1.5 3 0 2.5-1 0.5-1-4-2-2 0-0.5-1 0.5-1.5 2-1.5 1.5-2 3.5-2 3 0.5 3.5-0.5-0.5-2-3-1-4 1.5-1 0-1-1.5-1-2-0.5-6 1-8-0.5-7 0-20 5.5 0 0.5 10.5 1-10.5 10 0 1.5 17 0.5 3.5 1 1.5 1 0 1-0.5 1-1.5 0.5-2 1.5-6 2-4.5 1 0.5 1 6 0 11.5 1 2 1-3.5 1.5-19 0.5-4.5 0-0.5 4 0 0.5 5-0.5 20 0.5 13-1 4-1.5 2-1 0-3.5-6 1.5-2 0-1-2-1.5-1 0-2 2-2.5 0.5-0.5 1 3 1.5 0 0.5-1.5 1-0.5 1 2 2 0 1.5-10 0.5-2.5 1 1.5 1 5 0 4-0.5 1.5-0.5 0.5-0.5 4 0.5 3-2 1 0 2 2 0.5 1 0 3 1 2-0.5 2 1 1.5 1 0.5 3-0.5 1.5-1.5-3-2 0.5-3-1.5-2 1.5-3-1-4 0-6 1.5-15 0.5-8 0-3 1-1 2 0.5 1 1.5 3.5 13 0 10-2 4 1 2 1.5 1 1 0.5 2-0.5 1.5-1 0-1-1-2-1-3 2.5-7.5 2-1.5 1-2.5 1 0.5 0.5 2 1 4 2.5 2 1 2 0.5 3 0.5 5.5 1 1.5 1-3 2-8 0-5 1-1.5 1 0.5 0 6 1 4 1 10-0.5 8 0.5 3 1 2.5 2.5 1.5 2.5 2.5 1-0.5 3-4 3.5-9 0.5-0.5 3 0.5 4-2 0-1-4-1.5-3 1-1-2.5-0.5-28 0.5-6 1-2.5 1 3.5 0.5 14 1.5 3.5 1 1 1-0.5 2-3 1-0.5 1 0 2-1.5 2 1.5 2 0 3 3.5 5 11.5 1 0.5 3-4 1 1.5 1 3.5 1 1.5 1-1.5 0.5-2 1.5-12.5 4-6 1 0 1.5 2.5 2 9 0.5 6-1.5 2 0.5 1 2 1 2-2.5 3 1.5 6-1.5 1 0 2 1.5 1.5-2 1.5-6.5 1-1 1-0.5 2 2.5 2-1.5 1 0 1.5-2 1.5-5.5 1-1 0.5 1.5 0.5 2-0.5 7-1 5 2.5 3-1.5 4 0.5 4-2.5 3 0 2 1.5 3 1 1 2 0.5 3 2.5 1.5 4 2 2 1 2 1.5 1 3-1 3-2.5 1.5-2.5 1-3 3.5-3 1 0 7 1 2 0 1.5-1 0.5-3-1.5-4 0.5-8-3-6 0.5-2 0.5-2 1-0.5 1.5 0.5 1 6 1.5 5 1-0.5 1-2.5 1-0.5 1 0 1 0.5 0.5 1 0 2-1 2 1.5 1.5 2-0.5 1.5-3 3.5 0 0.5-2-1-3 1.5-14 1-3.5 3 0.5 0.5 1 1 11-1 3 0.5 3-0.5 1-2 2-0.5 2 0.5 1 2 2 1.5 3 1 0.5 2-0.5 0.5-1-1.5-1 0-1 4-2-0.5-1-2.5-1-2-3-0.5-1 2.5-3-2.5-2 0-1 1-6-0.5-11 1-7 2-2.5 1 0.5 1.5 6 1.5 13 1.5 7 0 4-1.5 2-1 1 0 1 1.5 2 0 2 0.5 1 1 0.5 2-0.5 3 1 2-1 0.5-1-0.5-1-1-1.5-1 0-3 1-0.5-0.5 0-3-1-3 0.5-2 0.5-2 0.5-0.5 0.5 0.5 1 3 1.5 3.5 1 0 4-3.5-1-4 2-9 1-11 1-3 3 4 2 7 3-4 2 0 0 1-1.5 8 0.5 3.5 1 1 2-2 2-0.5 3-1 1-1.5 1.5-7.5 0-18 7 0-0.5 1-2 0.5-0.5 1.5 0.5 2 1.5 1 0.5 1-1.5 7 0 8-0.5 5-0.5 8-0.5 2-1 0 5 1.5 5-3.5-3-3.5-1-8.5 1-11 2-3.5 1 0.5 2 12 1 3 1 2 1-0.5 0.5-4.5 0-9 1.5-7 0-5 2 0-1 3 0 2 2 3 1 3 1 0.5 1-3 1-1.5 1-0.5 0 87.5-7-0.5-5 1-4 0-1.5 0.5-1 1-0.5 2.5-2 0.5-4 0-3.5-1-6.5-3.5-2 0-4 0.5-3-1.5-2-0.5-2 0.5-0.5 0.5 0 1 0.5 1 2 1 5-1 1 0.5 1.5 3.5 2.5 2 2 1 5 0 5 3 7 0.5 5 0 5 1 7 0.5 0 24-502 0 0-13 7 2 5-0.5 1.5-0.5 1-2 3.5-0.5 2-1.5 0-1-1-0.5-6-1-5-3-4-0.5-4 0.5 0-11 8 0.5 6 0.5 7-1 6 0 7 1 4-1 5-2 4 0 3-0.5 2 1 2 0.5 1-0.5 1-1-2-1-3 0.5-3-2-3.5-1.5 0.5-1.5 1-1 7-1 2-1.5-0.5-1-2.5-1.5-3-5-2-1-2-0.5-1-1-0.5-2 1-4-0.5-2-1-0.5-1 0.5-2 3.5-2 0-2 1-1 0-2-1.5-0.5-1 0-3-1.5-2-1 0-2 1-1-1-0.5-2 0.5-0.5 4-1.5 3-6.5 1 0 4 2.5 0.5 4 1.5 2 1 0.5 2-1.5 2 1 3 0.5 3-0.5 0.5 3 0.5 1.5 1 0.5 2-2 2 1 1.5-1 1-2 3.5-3.5 3 1.5 1-0.5 4-5 1 0 3 1.5 3-0.5 2.5-1.5-0.5-1.5-6-4-2 1.5-1-1.5 0-3 1-1.5 2 2.5 2-4 1 0 5 9.5 2-1 1-0.5 2 0.5 3-0.5 1.5 1.5 0.5 2 0 1-1 4 1 4-3 4-0.5 2 4 9-0.5 1-5.5 2-0.5 1 1 2 0 1-0.5 1-4.5 3 0 1 0.5 1 2 1 13.5 3.5 4 2 10-0.5 5 1.5 5-1.5 1 0.5 2 1.5 3 0 1-1-1-1-2-1-0.5-1 4-6 1.5-3.5 2-1.5 3 0 2-1 1.5-2 0-1-2-2 0-1 0.5-8-0.5-7 1.5-11 2-2 0-1 0.5-14 0-33 0.5-3zM270.5 369l0 1 1 0.5 1-0.5 0.5-1-1.5-0.5zM407.5 370l-1 1 1 1 3-1 0-1zM352.5 371l-0.5 1 0.5 1 1 0.5 1.5-0.5 0.5-1-1-1.5zM406.5 375l0 1.5 0.5-0.5-0.5-1.5zM303 376l-1 1-0.5 1 0.5 1 2 2 0 1-2 2-0.5 2-1 1 0 1 3.5 3-1 1 0 1 2.5 1 2.5-1-3-2 1.5-2 0.5-1-0.5-2 1.5-2 0-1-1.5-2 1-3-1-1.5-1-1-1 0zM363 377l-0.5 1 0 1 2 1 2-0.5 1-1.5-0.5-1-1.5-1zM383 377l-1 1 1.5 1 1 0.5 1-1.5-1-1.5zM314.5 379l1 0.5 0.5-0.5zM319 379l0.5 7 1 0.5 2-1 1-1.5 0-1-1-0.5-2-0.5-1-1 0-2 0-0.5zM390.5 379l-0.5 1 0.5 0.5 1 0 1.5-0.5-0.5-1zM308 382l1.5 0.5 2-0.5-1-0.5zM398 383l-2 1-1.5 2-1 1-0.5 1 0.5 0.5 4 1 1.5-0.5 1-1 1-3 0-1-1.5-1.5zM527.5 383l-0.5 1 1.5 1 3 0 2.5-1-1.5-1zM262.5 387l-1 1 2 1 5 0.5 10 0 6-1.5-2-1-4-0.5-14-0.5zM364.5 387l-1 1 1 1.5 1-0.5 1-1-1-1zM483.5 387l-0.5 1 0.5 1 2 0.5 5 0.5 1.5-1 0.5-1-1-1-2-0.5-4 0zM318 389l-1.5 1-0.5 1 1.5 0.5 2 0 1.5-1.5-0.5-1.5-1-0.5zM377.5 389l-2.5 1 0.5 0.5 2 0.5 2.5-1-1.5-1zM349 390l0.5 0.5 1-0.5zM519.5 391l-1 1 2 1 6 0 2.5-1-1-1-1.5 0zM122 392l0 1 0.5 0.5 3-0.5-1-1-2 0zM506 392l-1 1 2.5 1 4 0 2-1-0.5-1-1.5-0.5zM406.5 393l1 1 1 0 1.5-1-1.5-1-1 0zM372 394l0 1 1.5 0 1-1-1-0.5zM463 395l-1.5 1 1 1 2 0 0.5-1-0.5-0.5zM333 396l-0.5 2 0.5 1 1.5 0.5 3 0 2-1.5-1-1.5-2-1-2-0.5-1 0.5zM352 396l0.5 1 2 0.5 1-0.5 0.5-1-2.5-0.5zM453 396l1.5 1 2-1-2-0.5zM479.5 396l-1 1 2 1 3 0 2-1-2-1zM252 397l0 1 0.5 1 1 1 2-0.5 1-0.5 0.5-1-0.5-1-1-0.5-2 0zM274.5 397l-0.5 1 1 1 1.5 0.5 3-0.5 2.5-1-3.5-1zM345 397l0 1 0.5 0.5 2 0 1-0.5 0.5-1-1.5-0.5zM362.5 397l-2.5 2-2.5 1-1.5 1 0.5 1.5 3 1.5 0.5 1-7.5 1-2 1 0 1.5 2 1 4 0.5 2-1 2-1.5 3-0.5 1.5-1 1-3 3.5-2 0.5-1 0-1-2.5-1.5-2-1zM414 397l-0.5 1 1 1 1.5 0 1.5-1-1-1zM527.5 398l-1.5 1 2.5 1 3 0 2-1-2-1zM383.5 400l-2.5 1 1.5 0.5 3 0.5 2.5-1-2-1zM463.5 400l-1 1 1 1 2 1 4-0.5 3-1.5-1-1-3-0.5-3 0zM296 402l-2 1 1.5 0.5 3 0.5 2-1-1.5-1zM90 403l-0.5 1-0.5 3 0.5 1.5 1 0 1.5-1.5 1-2-1.5-2.5zM317.5 403l2 0.5 2.5-0.5-2.5-0.5zM181.5 404l-0.5 1 0.5 2.5 1.5-2.5zM440 404l-1.5 1 0.5 1 2.5 1 2.5 2 1.5 0.5 2-0.5 3.5-2-0.5-1-1-0.5-5-0.5-3-1zM504.5 407l-1 1-1 3 1 1 2 0.5 2.5-0.5 1.5-2 5.5-2-1.5-1-3-0.5-3 0zM114.5 410l1.5 0-0.5-0.5zM238.5 410l1 0.5 1.5-0.5-1.5-0.5zM437.5 411l-0.5 1 0.5 0.5 1 0 1.5-0.5-0.5-1zM484.5 411l-0.5 1 0.5 1 2 1 3-0.5 4-1.5-1.5-1-2.5-0.5-3-0.5zM342 415l0.5 0.5 1.5-0.5zM233 417l-1 1 1.5 1 1 0 1.5-1-1-1zM384 417l-3.5 1-1 1 0.5 1 1.5 0.5 2 0 3-1 0.5-0.5 0.5-1-1.5-1zM393.5 417l-1 1 0 1 2 1 3 0.5 1 0.5-1 1.5-2 1-9 2-3.5 1.5-1 1-0.5 3 0.5 1 1.5 1 0 2 1 0.5 1.5-0.5 0-1 1-1 3.5-1 14 1 8-2.5 6 0 7 1 3-0.5 2.5-2 0-1-0.5-1-3-1.5-10-0.5-5-0.5-2-1.5-3-3.5-2-1.5-2 0-4 1-2.5-2zM96 418l-0.5 1 1 0 0-1zM193 418l0.5 1 1 0.5 2-0.5 0.5-1-1.5-1-1 0zM282.5 418l3 1 3.5-1-1.5-0.5-2-0.5zM311 418l-0.5 1 1 1 2 1-1 2 1 1 2-0.5 0.5-0.5-0.5-1 0.5-1 2.5-0.5 2-1.5-1-1-3-1-3 0.5zM342.5 420l-1 1 0.5 1 3.5 1.5 4-1 1.5-1.5-0.5-1-3-1-3 0.5zM496 421l1.5 1 2 0.5 2.5-0.5 1-1-3.5-1zM329 422l0.5 1.5 2-0.5 0-1zM444.5 422l-1.5 1 2.5 1 3 0 3-1-1-1-1 0zM242 425l-1 1 1.5 1 2-0.5 0.5-0.5-0.5-1zM203.5 426l-0.5 2 1 1 2 0 1.5-1 0-2-1-0.5-1 0zM341 426l0 1 1.5 1 2 0 2-1 0-1-2-1-2 0.5zM233 427l-1.5 1 0.5 1 1.5 0.5 3 0 1.5-1.5-1.5-1-2-0.5zM292 427l-3.5 1 9 1.5 4 1.5 3-0.5 1-1.5-1-1.5-2-0.5zM323.5 427l-1 1 0 1 1 1 2 0.5 2-1.5 0-1-1-1-1 0zM223.5 428l0 1 1 1 2 0 1.5-1-0.5-1-1-0.5zM183 430l2.5 0-1-1-1 0zM312.5 430l-0.5 1 1.5 1 2 0 1.5-1-1.5-1zM342 432l-0.5 1 2 1 2 0 1-1-1-1-2-0.5zM138.5 434l-1.5 1 1.5 1 2.5-1-0.5-0.5-1-1zM195.5 434l-0.5 1 0.5 0.5 1 0 2-0.5-1-1zM324.5 434l-2 1-1 2 1 2 1.5 1 2.5 1 3 0 3 0 2.5-1-0.5-1-5-2-3-3zM429 435l1.5 0.5 1-0.5-1-1-1 0.5zM421.5 436l-2 1 1 0.5 2 0 1-0.5-1-1zM226 437l0.5 0.5 1.5-0.5-1.5-0.5zM415 437l-1.5 1 1 0.5 2.5-0.5zM189.5 438l0 1.5 2-0.5 0-1zM204.5 438l1 1 1 0 0.5-1-1.5-0.5zM216 438l1.5 0.5 0.5-0.5zM196 440l0.5 1 2.5 0 0-1-0.5 0zM426 441l1 0zM154 442l-3.5 0.5-1.5 1.5 1 1 1.5 0.5 8-2.5-2-1zM213.5 444l-3 1 0.5 1 2.5 1 4-0.5 6-1.5-4-1zM436 444l0 1-2.5 2 1 1 3 0 5-1-3.5-2 0-1-0.5-0.5-1 0zM63.5 446l-2 1-0.5 1 2 1 2.5 0.5 1.5-0.5 1-1 0-1-1.5-1zM356 446l-2 1 0.5 1 2 1 6-1 2.5-1-2.5-1zM142 448l2 0-0.5 0zM173.5 450l0.5 1 0.5 0.5 2 0 1.5-0.5-0.5-1-1-0.5-2 0zM181 451l-1 1 0.5 2 0 4-1.5 2 0 1 1.5 1.5 2 0.5 3-0.5 3.5-2.5 6.5-1.5 3 0 6 1 2 0 4-1.5 2.5-2-0.5-1-1-1-4-1.5-3-0.5-6 1.5-4 0-3-0.5-3-1.5-3-0.5-2-0.5zM306.5 332l1.5 0 1 1 0.5 1 0 6-1 5 1.5 6-0.5 3-2-0.5-1-0.5-0.5-2 0-5 1-4-1.5-7 0.5-3zM323.5 332l1.5 0-0.5 4-1-1-0.5-1 0-2zM352.5 332l4.5 0-0.5 1.5-2.5 1.5 0 1 2 2 0 1 0 8-0.5 1-1 1-1-0.5-0.5-1.5-0.5-9 0.5-3zM368.5 332l1 0 0 1-1 0-1-1zM493.5 332l1.5 0-0.5 3.5zM501.5 332l3 0-0.5 4-0.5 1.5-1.5-0.5-0.5-0.5-0.5-4.5zM524.5 332l1 0 0 3-1 3.5-0.5-6.5zM368.5 337l0.5 1-0.5 3 0.5 11-1.5 5-3-4 1.5-5 0.5-6.5 1-3.5zM324.5 340l0 2-0.5-1zM429.5 346l1 2 1 11 0.5 2 1.5 1.5 4 0.5 1 1 1 2 0.5 4-1.5 4.5-1 0.5-4-2.5-1 0-2 1-1 0-0.5-2.5-2.5-2.5-2 2.5-1 0-1-2 0-6 0.5-6 0.5-1 1 0.5 2 2.5 1-1 1.5-4 0-6zM417.5 355l1 2-1 5-1-0.5-0.5-3.5 0.5-2zM244.5 362l1 0.5 0.5 1.5 0 4-0.5 3-1 1.5-1 0-1.5-2.5-0.5-3 1.5-4zM116.5 363l1.5 2 0.5 2-1 4.5-1 2.5-1-0.5-1-4.5 1-5zM129.5 370l0 0.5zM69.5 371l1.5 2-0.5 1-1 1.5-1-2.5zM128.5 381.5l1 0.5 0 2.5-1-0.5zM231.5 384l1 0.5 0.5 2.5-0.5 6.5-1 1.5-1-1-0.5-7zM54.5 413l3-0.5 1 0.5 0 3-3.5 1 0.5 1 1.5 1-0.5 0.5-2 0.5-9-2 1-1zM39 418l1 2-1.5 1 0-4z" fill="#ffff00" stroke="#000" stroke-opacity="0.7" stroke-width="0.55" fill-rule="evenodd"/>
<path d="M183.5 333l1 1 1.5 3 0.5 6 2 4.5 0.5 5.5-0.5 5 0.5 4-1.5 7 1 8 1 6.5 1 3 2 0 1 1 0 7.5-1 2-2 1.5-3 4.5-1 0.5-3 0-2-2-1-0.5-0.5 4 0.5 7-0.5 1-0.5 0.5-1-0.5-0.5-2 0-7-0.5-6 1-9.5 1-1 1 3.5 0.5-3 0-9 1-7-0.5-9 0.5-9-0.5-17 1-3.5zM254.5 332l3.5 0 1.5 19 1-2 0.5-17 8 0 1.5 8 1 11 1 5 1 1.5 4-2.5 2-11 1-1.5 1 1 0.5 20.5-1.5 2.5-3 1-1.5 1.5 2 2-0.5 2 0.5 2-1 1-6.5 0-4 1.5-3-2-2-1-2 0-3 1-1-0.5-1-1-1-6 1.5-9-1-9 0-18zM270 369l0 1 1.5 1 2.5-1 0.5-1-2-1-2 0.5zM287.5 332l2.5 0 1 5-0.5 33-0.5 3-1.5 1.5-1 0-2.5-4.5 1-2 0-1-2-2 0-1 1.5-9 0.5-18 0.5-4 0.5-1zM306.5 332.5l2 1.5 0.5 2 0 5-1 4 0.5 6-1 0.5-0.5-0.5 0-4 0.5-6-1.5-5zM353.5 332l2.5 0-0.5 1-2 0.5-0.5-1.5zM502.5 332l1.5 0-0.5 4-1 0-0.5-1-0.5-3zM513.5 332l5 0-1.5 1-0.5 2 1.5 4-1.5 27.5-1 1.5-3.5 1 4.5 1 4 2 3-3 3-1 1-0.5 0-1.5-3-1.5-1-1.5-1-4.5-0.5-6.5 0.5-3 1-2.5 1-0.5 0.5 1 1.5 9 0.5 2 2.5 5 1 0 1-2.5 0.5-2.5 0.5-8-0.5-5 0.5-2 2-2 1 1.5 1 7.5 1 2 1.5-8 1.5-1.5 0 82.5-7-0.5-5 1.5-5 0-1.5 1-2 3-4.5 0.5-4.5-1.5-3.5-3.5-4-1.5-0.5-1 1.5-1 0-1-2-1-4-0.5-2.5 0.5-1.5 1 0.5 1 7 2-2.5 0.5-6 0-2 1-0.5 1.5 1 1 1.5 1 5.5 1 4.5 4.5 3 1.5 4 0 7 2.5 10 1 6 1.5 7 0 0 23-333 0 2-3 7-4 0.5-2-1-5 1-2 2-1 6.5-2-2.5-1-6.5-0.5-6 0.5-5 1-1.5 1-4 5-3.5 1.5-3 0-8-2.5-6 0-3-1-3 0.5-1 0.5 0.5 1 0.5 0.5 4 1.5-0.5 8 2.5 3-141 0 0-11.5 6 1 3 0 4-1 3-2 5-1.5 5 1 2 0 2-1 1.5-1 0.5-1-1-1-3-1-8 0-6-1-3-2-3-1-8-0.5 0-6.5 19-0.5 7 1 11-1 7-3 5 0 5 0.5 3-1 0.5-1-0.5-1.5-3.5-1.5-2-1 0-1 1.5-1 4-2.5 3-1.5 0-1-1-0.5-5 0-1.5-1.5-0.5-5 1.5-2 1.5-3.5 1-1.5 1 0.5 3-2 4 1 2.5-0.5 0.5-1-1-1 3-1 1-1 0.5-4 1.5-2 1-0.5 3 0.5 3-1 1.5 0 3.5 2 4-1 0-1-2.5-1-0.5-1 1-1.5 2 0.5 2-1 1 1 0.5 2 0 8-1.5 2-2 0.5-7-0.5-2.5 1 2.5 2 5 1.5 2 1.5 3 4 0 3-1 1-4 2-1 3-5 4-1 1 0 1 1.5 2 2 1 7.5 1.5 7.5 2.5 0 2 1.5 1.5 2 0 5-1 7-1 8 0.5 4 2.5 1 0 2-1 2-1 1-1.5-0.5-3 4-8 1.5-1 5.5-2 2-2-0.5-4 0-1 1.5-2 2.5-1.5 5-1.5 5 0.5 9 4.5 14.5 4 4.5 4.5 5 1 2-0.5 3-1.5 3-1 1-1.5-1-1.5-4.5-2.5-2.5-7 0-1 2-0.5 2.5 0.5 2.5 2-0.5 2 0.5 0.5 2 1 2 0 2-1.5 0.5-2 5.5-0.5 6-3.5 0.5-1 0.5-2 2-2 0.5-1-0.5-1-2-1.5-3-1.5-1.5 0 1.5-0.5 1-1.5 2-1.5 3-1 2 0.5 18 0 6-1 1.5-1-0.5-1-1 0-6-1-7 0-5-0.5-2-1-1 0-5 2.5-1 0-3-1-1-1-0.5-1 1-3 2.5-1.5 3-0.5 5 2.5 2-2 12 0 3-1 3 0.5 3-2 1 0 1.5 1 0.5 1 0 2 1 3 0 3 1 1.5 1 0.5 3-1 2 0 2 3 0.5 2 2.5 1.5 3 0 4-1.5-3.5-2 0-1 0.5-2 0-2 1-2 3-1 1-1-1-1-3 0-1-1 0.5-2-0.5-1-2-3-1-0.5-4.5 3.5 0.5 2 1.5 2 0 1-0.5 1-3 1.5-2-0.5-0.5-1 0.5-2-1.5-2 1.5-3-1.5-4 0-6 0.5-4 1.5-6 0-13 1.5-2.5 1 0 1 2.5 1 5 1.5 6 0 10-2 4 1 2 2.5 3 1 0 4-3 0.5-1-2-3 0-2 1.5-4 2-1.5 1 0 2.5 2.5 2.5 2 0.5 1 0.5 10 0 3-1 1.5-3 0-1 0.5 0.5 1 2.5 0 1 0.5 0.5 0.5 0 7-2.5 2 0 1.5 2 1 2 0 3-1.5 1-1 0-4 1-2-1.5-5 1.5-22.5 0.5 0.5 0.5 2-0.5 3 1.5 7.5 0.5 7.5-0.5 7 0.5 6 4.5 3 1 2-0.5 3 0.5 1 1 1 2 0.5 3-0.5 4-1.5 4 1 5-1.5 3 1 1 0-1 2 0.5 3-4.5 2-1 1 0 1 0.5 1 2.5 1.5 2 0 10.5-1.5 2.5-1 0.5-1 1-4 2-3-0.5-1-3-2.5-3-1-6 1-3-1.5-2-0.5-4 1.5-4 0-3 0.5-1 0-4-2.5-0.5-1 1.5-2 2-7 1-2 3-0.5 5-3.5 0-1-4-2-0.5-1-0.5-3.5-1.5-1.5-1-2-1-18 0-8 0.5-1.5 1 1.5 0 17 1 0 2 4 3-3 1 0 2 1 1-1 0.5-2 0.5-0.5 1.5 0.5 0.5 1 0 1-1.5 1-0.5 1-0.5 6-2.5 5 1 2 1 0.5 1 0 2-1 1-1.5-1-4 1-8.5 2 1 3.5 8.5 2.5 4 1 0.5 2-2 1-0.5 1 0.5 1 3.5 0 3 1 2 1-0.5 0.5-5.5 1.5-12 1.5-2 1.5-5 1-1 1 0 1 2 2 10-0.5 3-1 2 0 1 2 1 1.5 2-3 3 2 1.5 1 0.5 1.5-1 0.5-1-1.5-3 1.5-1.5 4 1 5-2.5 1 0.5 1 1.5 0 2-1 1.5-5 0-2.5 1.5 0 1 2.5 1 2-0.5 2-2 1 0.5 1 2 0 1-5.5 5-0.5 1 1 1 6 1.5 1-0.5 1.5-1 1-4-2-11 2-8 0.5-1 1 0 1 3 0 10 2 5.5 1 1 2-6.5 1-0.5 1 3.5-1 2 0 3 1.5 6 1.5 1 2-0.5 2 1.5 0 1.5-3 0.5-2 1 0 1 0.5 1 2.5 0.5 4 0 3 2.5 2 0.5 7-0.5 2.5-1-1-4 0.5-2 1-1 5-2 7 0 2.5-2 0.5-3-1.5-4 0-4 0.5-4.5 2 4.5 1 0 0.5-1 0.5-3 0.5-1 1.5 0 0.5 1 0 1-1 1-0.5 1 3 2 1 0.5 4-1 2 0 2-1 2.5 1.5 1.5 3 2 1 2.5-1 0.5-1-1-1 0.5-1 2.5-0.5 2 0 2 1.5 2-1 3 1 2-1 1-2-1-4 3.5-5-0.5-4 3-20.5 1 0 1 1.5 1.5 6 1.5 9.5 2 0 1.5 3.5 0.5 4.5 1 1.5 1-1.5 1.5-3.5 2.5-2.5 1-0.5 1 0.5 1-0.5 0.5-2 1.5-11zM365 375l-2.5 2-1 1 1 2 2 1 1 0 2-1.5 1-1.5-3-3zM526.5 383l-0.5 1 0.5 0.5 2 1 5-0.5 2-1-1.5-1-2.5-0.5-3 0zM364.5 386l-1.5 1-1 1 1.5 2 2 0.5 1.5-1.5 0.5-1-2-2zM484 386l-2 1-1 1 1 1 3.5 1.5 5 0 3-1.5 0.5-1-1-1-2.5-1-4-0.5zM372.5 389l-0.5 1 0.5 0.5 3 1 3 0 3-1.5-0.5-1-2.5-0.5zM348 390l0 1 1.5 0.5 2.5-0.5 0.5-1-2-0.5zM407.5 391l-1 0.5-0.5 1.5 0.5 1 1 0.5 2 0 2-1.5-0.5-1-3.5-1.5zM510.5 391l-5 0.5-1 0.5-1 1 2 1 2 0.5 5 0 3-1.5-1-1zM518.5 391l-1.5 1 0.5 1 3 0.5 7 0 1.5-0.5 1-1-1-1-1.5-0.5-7 0zM372.5 393l-1.5 1 0 1 1.5 0.5 2.5-0.5 0.5-1-1-0.5zM453 395l-1 1 1 1 1.5 0.5 2 0 1.5-1.5-1.5-1zM461 395l-1 1 2 2-1.5 3 0 1 2 1 2 1 3 0 5-2 1-1-1-1-6.5-2 0-2-0.5-1-2-0.5zM275.5 396l-2 0.5-1 1.5 0.5 1 1.5 1 5-0.5 2-0.5 1.5-1-2.5-1zM478.5 396l-1 1 1.5 1 1.5 0.5 4-0.5 2-1-1-1-2-0.5-3 0zM526 398l-1 1 3.5 1.5 4 0 2-1.5-0.5-1-2.5-0.5-3 0zM306 399l-0.5 1 1 0.5 2-0.5-0.5-1-0.5 0zM380.5 400l-1 1 3 1 4 0 2.5-1-1-1-1.5 0zM294 402l-1 1 2.5 1 4 0 2-1-0.5-1-1.5 0zM317.5 402l-2 1 2 1 3.5 0 2-1-1.5-1zM439 403l-1.5 1.5 0 0.5 0.5 1 5.5 4 4-0.5 3-1 1.5-1.5 0-1-1-1-3.5-1.5-5-1zM505.5 406l-3 1-1 1-0.5 2 0.5 1 0.5 1 2.5 1 3 0 3-2.5 4-1.5 1.5-1-1-1-2.5-0.5zM114.5 409l-1 1 1 0.5 1 0.5 2-1-1-1zM483.5 410l-1 2 0.5 1 2.5 2 4-0.5 5-2.5-1-1-6-2-2 0zM436.5 411l-0.5 1 1.5 1 2 0 1.5-1 0-1-1.5-0.5zM341 415l1.5 1 1 0 1-1-2-0.5zM192.5 416l-2 1-1 1 0 1 1 1 2 1 4 0 2.5-1 1.5-1 0-1-2-1.5-3-0.5zM403 416l-3.5 1-5-0.5-5 1.5-3-1.5-2 0-5 1.5-1 1 0.5 1 1.5 1 3 0.5 3-0.5 3-1.5 1 0 2 1.5 0 1-10.5 2-3 1-3 2 0 1 0.5 1 4.5 4 1.5 2.5 1 0.5 2 0 4-1.5 3 0 2 0.5 2 2.5 4 0 3 1 1.5-0.5-0.5-1-3-1 0-1 6-1.5 5-2 6 0 5 1.5 1 1-6 2-5 0.5-1 1.5 1 1 2 0.5 3-1 5 0 3-2.5 4 0 2-1-1-1.5-3-0.5 0-1 3.5-3 0.5-2-1-1-4-1-10-0.5-4-1-3-2.5-3-4-2-1zM282.5 417l-1.5 1 3.5 1.5 4-0.5 1.5-1-1.5-1-1 0zM312 417l-2.5 1-0.5 1 2 2 0.5 2.5 2 1 2 0 1-0.5 1-2 3.5-2 0.5-1-0.5-1-3.5-1-3-0.5zM210 419l-0.5 1 2 1 2-0.5 1-0.5-0.5-1-1.5-0.5zM344 419l-3 1-1 1 0 1 2 2-2.5 2-0.5 1 2.5 1.5 3 0.5 2-1 1-1-0.5-2 0.5-1 3-1.5 1.5-1.5-0.5-1-2-1-3-0.5zM220.5 422l-1 1 1 0.5 1 0.5 1.5-1-0.5-1zM328 422l-0.5 1 2 1 2 0 1.5-1 0-1-1.5-0.5-2 0zM442.5 422l-1.5 1 4.5 1.5 4 0 3.5-1.5 0-1-2.5-0.5-4 0zM203.5 425l-1.5 1-1.5 2 0 1 1 1 2 0.5 3 0 2-0.5 1.5-1-1-3-1.5-1-2-0.5zM240.5 425l-2 1-4 0-5 1-4-0.5-2 0-2.5 1.5-2 2 2 1 3.5 0.5 6-1 6 0 2-1 2-1.5 3-0.5 2-0.5 0.5-1-0.5-1-1-0.5-2 0zM323 426l-2 1-1.5 2-1 0.5-4-0.5-3 0.5-1 0.5 0 1 1 1 2 1 5 0 0.5 1 0.5 3 1 2 2 1.5 2 1 3 0.5 4-0.5 3.5-0.5 2-1-0.5-1-4-2-1-1-1-4 0-3-1-2-3-1.5zM285.5 427l-0.5 1 1.5 1 10 0.5 6 1.5 3-0.5 2-1.5 0-1-1-1-3-0.5-16 0zM182 429l-0.5 1 2 1 2 0 1-1 0-1-2-0.5zM342 431l-1.5 1-0.5 1 1.5 1 2 1 2-0.5 2-1.5-0.5-1-1.5-1-2 0zM196 433l-2 1 0 1 0.5 0.5 2 1 2-0.5 1-1 0-1-1-0.5zM226 436l-1 1 1.5 1 1 0 1.5-1-1.5-1zM62.5 437l-1 1 1 1.5 2 0.5 2-1 0-1-1-1-2-0.5zM188.5 438l0 1 1 1 2 0 1.5-1-0.5-1-1-0.5-2 0zM203.5 438l0.5 1 1.5 0.5 2-0.5 0.5-1-2.5-1zM215 438l1 1 1.5 0.5 1-0.5 0.5-1-1.5-0.5zM195 440l0 1 1.5 1 2 0 1.5-1 0-1-1.5-0.5-2 0zM425 440l-0.5 1 1 0.5 1 0.5 1.5-1-1.5-1zM150 442l-1.5 1-0.5 1 1.5 1.5 2 0 9-2 1.5-0.5 0.5-1-1-0.5-4 0zM135.5 443l0 1 1 0.5 2-0.5 0-1-1-0.5zM437 443l-4.5 3-0.5 1 1 1 4.5 0.5 6-1.5-3.5-2-0.5-1-1-1zM354.5 446l-1.5 1 0.5 1 1 1 2 0 7.5-1 2.5-1-1.5-1-2.5-0.5-6 0zM141 448l1.5 1 1 0 1.5-1-1.5-1-1 0zM353.5 337.5l2 0.5 0.5 1-0.5 4-1 1.5-1-2.5zM474.5 343l1 0.5 1 3 0.5 8.5 2 11-0.5 5-1.5 2 0 3-0.5 0.5-3-1.5-1-2 0-2 1.5-2-2-2 0-1 0.5-9 0-10 1-3zM367.5 343.5l0.5 1.5 0 6-0.5 2.5-1 0-0.5-1.5zM429.5 347l0.5 1 0 5 2 9 1.5 2 4 0.5 1 0.5 1 2 0 2-0.5 2-0.5 1.5-1 0.5-4-2.5-3 0-2-1.5-1-2-0.5-5 2-7 0-7zM466.5 354.5l1.5 0.5 0.5 2 0.5 9-0.5 3 0.5 3-1.5 2-2 0.5-1-2.5-0.5-2 1-13 0.5-1zM424.5 359l1 5-1 4.5-1-1-0.5-3.5 0.5-3.5zM243.5 365l1-0.5 0.5 1.5 0 2-0.5 2-1-0.5-0.5-1.5zM446.5 366.5l1 1.5 0 4-1-0.5-1-2.5 0-1zM483.5 371.5l1 2.5-1 1-0.5-1zM69.5 372.5l0 1zM224.5 373l1 3 0 21 1 7-0.5 2-1.5 0.5-1.5-1.5-0.5-2 1-5 0.5-8-1-15 0.5-2zM116.5 382.5l1 0.5 0.5 1-0.5 1.5-1-0.5-0.5-1 0-1zM231.5 386.5l0.5 0.5-0.5 1.5zM73.5 393l3 0.5 1.5 2.5 1.5 2 1 0 2-1 7 2 0.5 2-1 2-0.5 4.5-1 2-4-0.5-0.5-2 0.5-2 0-2-1-1.5-1-0.5-1.5 1-1.5 2.5-1 0-2-0.5-2 1-1.5-1-2-6 2.5-4.5zM246.5 394l2 1 2-0.5 0.5 0.5-1 2 0 2-1.5 0.5-2 0.5-4-1 0-1 0.5-1 2.5-2.5zM94.5 402.5l0 1.5-0.5-1zM195.5 460l2 0 2 1 2.5 3-12.5 0 1-2 1.5-1z" fill="#ffc800" stroke="#000" stroke-opacity="0.7" stroke-width="0.55" fill-rule="evenodd"/>
<path d="M255.5 332l2 0 0 17 1 4.5 1 7.5 1.5-12 0.5-17 6 0 1 3 1 7 0.5 7 1 7 0.5 9-0.5 2-2 2 0 1 1.5 1.5 3 1 1 0.5 0.5 1-0.5 1-4 0-4 1-2-1.5-4-1.5-4 0.5-1-1.5-0.5-3 0-3 2.5-7-2-9 0-9-0.5-9zM287.5 332.5l1-0.5 0.5 1 1 4 0 32-0.5 2.5-1 1.5-1-0.5-1-2.5 0.5-3-1.5-2 0-2 0.5-7 0.5-19zM514.5 333l1 1.5 1 4.5-0.5 12-0.5 4-1-2zM183.5 335l1 0.5 0.5 1.5 0.5 18 2 2 0.5 5-1 7 0 6 1.5 10 0.5 11-1 3-1.5 2-1 1-2-0.5-1-1.5-0.5-3 0.5-17 1.5-7-1.5-8 0-11-0.5-12 0-5 0.5-1zM307.5 335l0 2zM298.5 343l1-0.5 0 0.5 0.5 6 1 4-0.5 1.5-1 0.5-1-2zM494.5 349l1.5 5 2.5 12.5 2 2.5 2 7 1 1 3-4.5 2-1 2 0.5 3-1.5 2 0.5 5 3 3-3.5 1-0.5 1 0.5 2 1 2-0.5 2-3 2.5-7 0.5-8.5 1 1.5-0.5 6 1.5 4.5 1 0 2-5 1-1 0 64.5-7 0-5 1.5-6 1-2 1-2.5 2.5-2.5 0.5-2-0.5-1.5-1-5-7-1.5-1-3-1-4 0-5 0.5-2 1-0.5 0.5 1 2-2 3 0.5 2 1 1.5 7 3 5 5 2 1 27 4 8 0 0 21.5-323.5 0 2.5-7 0.5-7 0.5-2 1-1 7.5-2-1.5-1-11-2-6-0.5-2.5-0.5 2.5-2 0.5-1-0.5-1 1-1 1 0.5 0 1.5 0.5 1 2.5 1.5 2 0 2-1 2-2 4 1 3 0 2-1.5 0.5-2 0.5-0.5 6-1.5 9-4 1-1.5 0.5-1.5-1.5-1.5-3-1-6.5-0.5 3-4 0.5-5 2-1 6-1.5 6-2 2-1 1.5-3.5 0.5-4 1-2 0-2-0.5-3 0.5-0.5 3.5-1.5 2.5-0.5 12-0.5 5-1 3 0 3-2-0.5-1-2.5-2-3 1-11.5-1-2.5-2 0.5-1 1-1 5.5-1 3 0.5 2.5-0.5 4.5 2 1.5-3 1.5-1 1 1 0 2 0.5 3-1 3 0.5 1 3 3 1 0.5 3-1 1 0.5 2 3 4.5 3-0.5 4-6 0-4 0.5-2 0.5-0.5 1 1 1 5.5 1 5-1 2-1 0-1 4-0.5 2-1.5 0-1-1-1-2-1 0.5-1 3.5-1 3-1.5 4 0.5 3-1 5-0.5 3.5 1.5 0.5 1 0.5 4 1.5 2 3 0.5 12 1 1 0.5 0 1-2 3 0.5 2 1.5 1.5 2 1.5 4 0.5 15-2 2-1.5 2-5 1.5-1 11.5 0 3-1 1.5-1-0.5-1-2-0.5-12-0.5-2.5-1 0-1 3-2 0.5-2 4-1.5 3.5-0.5 1-2-0.5-4 1-3 1-0.5 2 1 1.5 0.5-1 5 1.5 2.5 8 2 4-1.5 2 3.5 2 1 3 0 1 3.5 1 1 5 1 5 2.5 7 1 3.5 1.5 3.5 2 0 1-2 1.5-0.5 1.5 0.5 2 1 0.5 5-1 4-2 4 0 2 0 1.5 1.5 0.5 5-0.5 1-1.5 1-9 1-2.5-1-2.5-3-1-1-1 0-1 1-3 4-1 1.5-2 0.5-4 0-7-0.5-3-1-1.5-1.5-2.5-5-2-1-3-0.5-6 1.5-8 0.5-5 0-4 0-3 0.5-1.5 1-1 1-1 3-4 4-0.5 3 1 3 2 1.5 10 4.5 5 0.5 6 1.5 8 0.5 3 0 4-1 4 1.5 7 0 4 2.5 4 0 1.5-0.5 0.5-1-0.5-2 0.5-1 3-2 1-1 0-3 4-6 3-1 10 0 3-1 1.5-1 1-1 1-7 1-2 2.5-1.5 5-1.5 1-0.5 3-5.5 4.5-2 1-1-0.5-1.5-6-2.5-1.5-2-2.5-1.5-6 0.5-3-0.5-3 0-1.5-0.5-0.5-10 1-3 1 0 1 0.5 3 3 9-1.5 3 2.5 2 1 4-2.5 0.5-2 1.5 0 1 0.5 0.5 1.5 0 6 1.5 2 2 0 8 1.5 3-0.5 4 1.5 3-0.5 3 1.5 5 1 3 0 5-1 12 0 1 0 2-1.5 0.5-1-1-1-3.5-1.5-3 0-4 0-5 1.5-5-1-9 1.5-1-0.5-2-6.5-1-0.5-2 1.5-1 0-6-2.5 0-1 1.5-3-0.5-5 2.5-5-0.5-4 1-8.5 1-6zM526.5 382l-1.5 2 2.5 2.5 7-1 2.5-0.5 1-1-1-1-2.5-0.5-6-1zM272.5 395l-1.5 1-0.5 2 0.5 2 2.5 1.5 3 0 3-1 4-1 1.5-1.5-0.5-1-8-2.5-2 0zM478.5 395l-2.5 1-1 1 0.5 1 1 1 7 0.5 3-1 2.5-1.5-0.5-1-3-1-5-0.5zM526 397l-2.5 1-0.5 1 1.5 1 3 1 7 0 2.5-1 0.5-1-1-1-4-1.5-4 0zM313.5 402l-1 1 1 1 3 1 6-0.5 2.5-1.5-0.5-1-4-1-4 0.5zM482 405l-0.5 1-1 3-0.5 4 2.5 5 1 1 2 0.5 2.5-0.5 2-3 3-2 5.5-1.5 5 1.5 4-0.5 2-0.5 2-2 5.5-2 1-1-1-1-2.5-1-7-1-3 0-3.5 1-1 1-1.5 3-1 1-6.5-2-4.5-4-2-0.5zM341 414l-1 1 0 1 1.5 1 0.5 1-5.5 2-2 0.5-6-1-5-2.5-6-1.5-4-0.5-4 0.5-3 1-2 1.5-0.5 1 1 3-2 2-2 1-7.5 1-9-1.5-1.5 0.5-1.5 1-0.5 2 1.5 2 2 1 2 0.5 6-1.5 3 0.5 6 1.5 7 1 12 9 4 1.5 3 0.5 9-1.5 3-1 2.5-1.5 5.5-5 1.5-2-0.5-3 1.5-5 4-3 1-1-0.5-1-2-1.5-6.5-1.5 0.5-2-1-1-2-0.5zM276.5 417l-1 1 1.5 1 7.5 1 5-0.5 1.5-0.5 1-1-1.5-1-3-1-5 0zM386.5 442l0.5 1 1.5 0.5 2-0.5 0.5-1-1.5-1-2 0.5zM433 443l-3 3 0 1 1.5 2 2 1 4 0 8.5-3-1.5-1-3-1-1.5-2-1.5-0.5-3-0.5zM353 445l-2 1-0.5 2 1 1.5 3 1 2 0 10-2 3-1.5-1.5-1-4.5-1-7-0.5zM429.5 357l1 3 0.5 6-0.5 2-1-1-1-3 0-3zM474.5 357l1 1 1 3 1 5-0.5 5-1.5 2-1 0-0.5-1 1-3-2-2 0-2 0.5-5zM310.5 362.5l2 0 1 0.5 3 2 1 2 0 7 0 2-1 1-3 1-3 1.5-1-1-2-4.5 0.5-2 2.5-2 0.5-1-1.5-2.5 0-1.5 0-1zM466.5 363l0.5 3-0.5 2zM359.5 372l2.5 2 0 1-2.5 3 0 1 0.5 1 2.5 3-0.5 1-3.5 3-1 0.5-1-1-0.5-1.5 0.5-9 2-4zM375.5 373l3-0.5 3 1.5 0.5 1-0.5 1-1 2 2.5 3 0.5 4-1 2.5-8-0.5-1-1 1-6 0-6zM224.5 375l0.5 2-0.5 6.5-0.5-7.5zM348.5 381l1 0 1 1 0.5 3-0.5 2-0.5 1-2.5 1-3 2-2 0.5-1-2.5 1-3 1 0 3-3.5zM255.5 382l2-1 1 1 0.5 1-0.5 1-1 1-2-0.5-0.5-1.5zM367.5 382l2-0.5 1 1.5 0.5 2-0.5 2-1 0.5-2.5-2.5-0.5-2zM482.5 382l1 0 1 1-0.5 1-1.5 0.5-0.5-1.5zM313.5 384l1 0 1 1 0 3-3 2-3 0 0-4.5 1-0.5zM445.5 395l1.5 0 0 1-1.5 1-3 0-1-1zM123.5 396l2-1 1 0.5 1 0.5 0 1-1 1.5-2 0-1.5-1.5zM178.5 396l0.5 2-0.5 1zM75.5 398l1 0 3 2 0 1-1 1-1 0.5-3-0.5-1-1 0.5-2zM84.5 399.5l2 0.5 1 1 0 4-1 0.5-1-0.5-2-4 0-1zM224.5 401l0 2.5zM102.5 406l3-0.5 6.5 0.5 1.5 1-1.5 2 0 1 1 1 3.5 0.5 4-2 2 0 2 0.5 1 1 0 2-8 6.5-3 1-2 0-5.5-3.5-5.5-1-1.5-1-0.5-0.5 1-6.5 1-1.5zM101.5 430l4-1 8 1 16 3 2.5 1 3.5 3 5.5 2 1.5 3 4 3.5 4 1 13-1.5 3.5-1 1.5-2 0.5-5 3-5 2.5-1.5 3 0 5 2 4.5 0.5 2 1 1 1-0.5 1-2 1-1 1 0 1 1 1.5 5 1.5 2.5 2-1.5 1.5-3 1-9 1-7 0.5-3.5 1-0.5 1 0 1 1 3 0.5 10-133.5 0 0-9.5 8 0.5 5-1.5 6-2.5 9 0 9-1.5 2.5-1.5 0.5-3-0.5-3-3.5-4 0.5-1 8.5-4.5 11 0 3-1zM135 442l-1 1 0 1 2.5 1.5 3-0.5 1.5-1 0.5-1-1-1-1-0.5-2 0zM143 446l-1.5 0-1.5 1-0.5 1 1 1 2 1 2-0.5 1.5-0.5 0.5-1 0-1-1-0.5zM152.5 438l2-0.5 1.5 0.5 0 1-2.5 0.5-1-0.5z" fill="#ee9600" stroke="#000" stroke-opacity="0.7" stroke-width="0.55" fill-rule="evenodd"/>
<path d="M262.5 332l2.5 0 0.5 2 2 3 2.5 18-0.5 11-1.5 3 0 1 0.5 2 0 1-1 1.5-1 0-1-1.5-1-6-2 3.5-1-2.5 0-13 0.5-9 0-9 0-5zM288.5 334l1 3 0 14 0 13-1 6.5-0.5-0.5 0-2-1-3-0.5-3 0.5-25 0.5-2.5zM183.5 337l1 0 0 5 0 4.5-1 1.5-0.5-6zM494.5 354.5l1 2 1 4.5 2 16-0.5 2-1.5 3-2 0.5-1.5-0.5-1-1-1-6 1.5-6 0-4 1-8zM474.5 364.5l1 0 0 2-1-0.5zM540.5 364l0 18.5-2-1-7-0.5-3-1.5-1 0-3 3-1 0-1-0.5-1-2 0-2 0.5-3 1.5-2 1-0.5 1 0.5 2 2.5 1-0.5 6-4.5 3 0.5 1-1.5zM313.5 370l1 0.5 0.5 1.5-0.5 3-1 1-3 0-1-2 0-1zM514.5 372l2 1 2.5 5 0 6 0.5 3-0.5 1-1.5 1-2 0.5-3-0.5-1-1.5-1 0-0.5 0.5-2.5 1-4 0-1-1 0-2 0.5-1 1.5-1.5 4-2.5 2 3 0.5-2 0-6 1.5-3zM499.5 376l1 1 0 3-1-0.5-0.5-1.5zM185.5 379.5l1 2.5 0.5 15-0.5 2.5-1 0.5-1 0-1-1-0.5-3 1-14 0.5-1.5zM272.5 382l4-0.5 2 1.5 1-1 1 0 1 0 1 1 0 1-2 0.5-1.5-0.5-0.5-1-2 1.5-3-0.5-1.5-1zM380.5 381l0.5 1-0.5 1.5-1-1.5zM462.5 385l4-0.5 1.5 0.5 1.5 3 0 3-2 1-3-1-2 0.5-2.5-0.5-1-2 0.5-1.5 1-1.5zM475.5 385l1 0 0 4 1.5 4-1 1-2.5 0.5-1.5-0.5 0-1 1-7zM523.5 386l2 1 0 1-1 0.5-2-0.5-0.5-1 0.5-1zM540.5 385.5l0 11.5-4-2.5-0.5-2.5-4.5-3-1-1 2-1 6 0zM281.5 391l2 0 2 1 3-1.5 1 0.5 3 3 1 0 3 0 3 3 0.5 1-0.5 1-9 1.5-2 1-0.5 0.5 0 1 0.5 1 3 1 4 0.5 13-0.5 2.5 1 0.5 1 0 1-1 2-1 1.5-7 2.5-2 2-1.5 2 0.5 4 0 1-2 1.5-2 0.5-3-0.5-3-1.5-1-1 1-1 5-2 1-1-2-1.5-3-1-16-1-2 0.5-0.5 1-0.5 2 0.5 2 1.5 1.5 4 1.5 0.5 1 0.5 4 0.5 2 1.5 2 2 1 4 0.5 6-2 3 0 12 4 4 4.5 6 3 1.5 1 1 2 0.5 3 0.5 2 2.5 1.5 4 0.5 17-1.5 10 1 3 0 5.5-2.5 2.5-0.5 10 0.5 0.5-1 0-1-0.5-1-2-1.5-21-2.5-2-1-1-1 0-3 2-10 2-2.5 4-2 1-1.5 0-6 0.5-1 2-1 4.5-0.5 4 1 1 1 0.5 1.5 0 3-2.5 4-0.5 2 0.5 4 1.5 3 1.5 2 2 1.5 10 3.5 1 1 0.5 2 1.5 1 3 0.5 5-2.5 6-0.5 8-0.5 10 1 8 2.5 0.5 0.5 0 2 0.5 1 4 4.5 2 0.5 3 0 4-3 7-2 1.5-1-1-1-5.5-2-5-5-0.5-2 3-8 1.5-2 2-0.5 11-1 4.5-1.5 1.5-2 1-5 1-2 7-3 1.5-2 1.5-5 2-1 3-0.5 0.5 0.5 0 1 0 8 1 5 1 2 2.5 2 5 2 0.5 3 2 3 1.5 1.5 5 2 2 1.5 2.5 5 1.5 1 3 1 10 0.5 17 1.5 8 0 0 20-320 0 1.5-7 0.5-8 1-1 8-1.5 3-1.5 0-1-1-0.5-8.5-2.5 6.5-1.5 6-3 4-2.5 6-2 2-1.5 1-2.5 0-2-1-2-2.5-4 0-2 1.5-2 2-2 7-2.5 2-1.5 1.5-4 1-8 1-3 1.5-0.5 2 0 1 0.5 0.5 4 2 3 2.5 1.5 4 0 9-3 2.5-1.5 0-1-1.5-2-1-0.5-4.5-0.5-1.5-1-0.5-1 0-1zM388.5 391l3 1.5 4 0.5 3 2 5 0 4 2 5.5 7 0 3-1 4-7.5 1-7 1.5-5 0-9.5-0.5-3.5-1.5-1-1.5-1-2 0.5-2 1-1 2-1 9.5-1 2.5-1 1.5-1-0.5-1-2.5-1-11-2-0.5-1 0.5-2 2-0.5 2 0 2-1.5zM321.5 395l4-0.5 2 1 1 1.5 0 3.5-1 1-1-0.5-10.5-2-0.5-1 1-0.5 2-0.5zM493.5 396l7-0.5 10 1 6-0.5 2.5 1 1 2 1 1 3.5 1.5 9 1.5 7-0.5 0 18.5-8 0.5-6 1.5-4 0.5-2 1-4 2.5-1 0.5-2-1-3-5.5-3-2-5-1.5-9 0-0.5-0.5 0-1 2.5-1 3 0 6 0.5 5-1 4-2.5 6-2.5 1-1.5-0.5-1-2.5-1-9-2.5-4-0.5-4 1-4.5 4-2.5 0-3.5-4-3-3 0.5-1 3.5-2zM328.5 403.5l3-0.5 5 0.5 2 1 1.5 1.5 1 2 0 3-3 3-1.5 2.5-1 0.5-2 0.5-2-0.5-4-2-6-2-2-2-1-2 1-2zM419.5 405.5l3-0.5 4 0.5 2 1 1.5 1.5 0.5 3-1 5-1.5 3-1.5 1.5-3 0.5-7-0.5-2-1-1-1.5-1-3 0.5-3 3.5-2 1.5-3zM442.5 415l2-0.5 2 0 1.5 1.5 0.5 2-1 1-1 0.5-4.5-0.5-0.5-2 0-1zM103.5 432l12 0.5 10 1 3 1 2 1.5 2 3-1 5 2.5 5 1 1 2.5 1 4 0.5 12-0.5 9 1 3 1 2 1.5 0.5 1.5 1 8-123 0 0.5-5 1.5-2 3-2 7.5-2 15-0.5 4-0.5 2-1.5 1.5-2.5 2-6 0-4 0.5-1 3-1 9-1zM174.5 434l2-0.5 2.5 0.5 1.5 1 1 2 0 2-1 2-3 2-2 0.5-2-0.5-1-1-1-2 0-3 1.5-2z" fill="#dd5a1a" stroke="#000" stroke-opacity="0.7" stroke-width="0.55" fill-rule="evenodd"/>
<path d="M540.5 378.5l-1.5-1.5 1.5-3M540.5 459l-97 0-4 0-1.5-1 2.5-2 4-5 8-2 2-1 1-1-0.5-1-1.5-0.5-7.5-2.5-2-2-1-2-0.5-3 0.5-3 1.5-2.5 3-1.5 11-0.5 7.5-1.5 3.5-1.5 4-3.5 1 0 5 4 4.5 2 4.5 5.5 2 1.5 4.5 2 2.5 5 2 2 2 1 4 0.5 35 1M52.5 464l0-4 0.5-2 1-1 1.5-0.5 6-0.5 16-0.5 4-2 3.5-4.5 1.5-1 9-1 3-1 1.5-1 1-2 0-5 0.5-1 1-1 2-1 3 0 11 0.5 5.5 0.5 2.5 1 0.5 1 0.5 2 0 10 1 3 1 1.5 3 1.5 11.5 2 1.5 1 0.5 1 0 4M257 464l38.5-3 22-3.5 15.5-1.5 11.5-0.5 12 0 3-1 6-2 7 2 5 0.5 3-1 2-2 0.5-5 1-1 7.5 0 9-1 12 0 2 0 3 1 3.5 4 0.5 2 7 4.5 6.5 2.5-3.5 3-1 2M263.5 332.5l2 5.5-1 12-1 6.5-1-1.5 0.5-9-0.5-9zM288.5 336l0.5 1 0 14-0.5 13-1-1-0.5-14 0.5-12 0-0.5zM266.5 348.5l1 0 1.5 7.5-0.5 8-1 3.5-1-1 0-1.5-0.5-10zM494.5 360l1 1.5 0.5 3.5 0.5 9-0.5 4-0.5 1-1 0.5-1-2-0.5-3.5 1-5-0.5-5.5zM514.5 374.5l1 0.5 1 1 0.5 2-1 8-0.5 1-1 0-0.5-1-1-7 0-3zM534.5 375l2.5 1 1 1-0.5 1-1.5 1-2.5 0-1-1 0.5-2zM523.5 376l1-0.5 1 1.5 0 2-1 1.5-1-0.5-0.5-1zM496.5 400l2 0-2 2-1.5 0-0.5-1zM512.5 401l2 0 4 2 1.5 0-3.5 0-3-1zM399.5 403l5-0.5 2 1.5 0.5 1 0 2-0.5 1-2 1-7 1.5-4 0.5-8-1-1.5-1-1-1 0.5-2 2-1zM522.5 404l3 0 5 2.5 4 1.5 2.5 1 0.5 1 0 1-2 2-2 1-3 0.5-2-1-1.5-1.5 0.5-4-0.5-1-3.5-2.5-2-0.5zM279.5 406l4-0.5 8 2 11 0.5 0.5 1-6.5 4-2 0.5-10.5-0.5-5.5-2.5-4-1-3 0-2 1-2 1.5-0.5 3 0 4 2 8 0.5 1 4 2 4 4.5 3 2.5 3 1 3 0 8-0.5 9 1.5 2.5 2 2.5 4-1 1-2.5 0-14.5-2-6-0.5-33 1-6-0.5-3-1.5-0.5-1.5-0.5-2 2-2.5 7-2 11-5.5-0.5-1-5.5-2.5-2-2.5-1-3 0.5-2 0.5-1 8-3 2-2 3-3.5 1-1zM364.5 417.5l1 0 0.5 1.5-0.5 2-1 0-1-2zM357.5 433l4-1 3 1 2 2 1 2 1 2 0 2-2 1.5-2 0-2-0.5-7-3.5-0.5-1.5 0-1 0.5-1.5zM412.5 452l-4 1 6 1 5.5-1 0.5-1z" fill="none" stroke="#000" stroke-opacity="0.6" stroke-width="0.5"/><path d="M40.5 333.1 L40.6 336.5 L40.8 339.9 L40.9 343.3 L41.1 346.7 L41.2 350.1 L41.4 353.5 L41.7 356.9 L41.9 360.3 L42.2 363.7 L42.5 367.0 L42.8 370.4 L43.2 373.8 L43.6 377.2 L44.1 380.6 L44.7 384.0 L45.2 387.4 L45.9 390.8 L46.6 394.2 L47.4 397.6 L48.4 401.0 L49.4 404.4 L50.5 407.8 L51.8 411.2 L53.2 414.6 L54.7 418.0 L56.5 421.4 L58.4 424.8 L60.6 428.2 L63.0 431.6 L65.6 434.9 L68.6 438.3 L72.0 441.7 L75.7 445.1 L79.8 448.5 L84.4 451.9 L89.6 455.3 L95.3 458.7 L101.7 462.1 L108.8 465.5 M538.6 333.1 L538.5 336.5 L538.3 339.9 L538.2 343.3 L538.0 346.7 L537.9 350.1 L537.7 353.5 L537.4 356.9 L537.2 360.3 L536.9 363.7 L536.6 367.0 L536.3 370.4 L535.9 373.8 L535.5 377.2 L535.0 380.6 L534.4 384.0 L533.9 387.4 L533.2 390.8 L532.5 394.2 L531.7 397.6 L530.7 401.0 L529.7 404.4 L528.6 407.8 L527.3 411.2 L525.9 414.6 L524.4 418.0 L522.6 421.4 L520.7 424.8 L518.5 428.2 L516.1 431.6 L513.5 434.9 L510.5 438.3 L507.1 441.7 L503.4 445.1 L499.3 448.5 L494.7 451.9 L489.5 455.3 L483.8 458.7 L477.4 462.1 L470.3 465.5" fill="none" stroke="#000" stroke-opacity="0.75" stroke-width="0.5"/>
</g>
<rect x="39.5" y="333.1" width="500.1" height="130.39999999999998" fill="none" stroke="#222" stroke-width="0.9"/>
<text transform="translate(30.9,334.7) scale(1.2,1)" font-size="9.0" text-anchor="end" fill="#111">8</text>
<text transform="translate(30.9,356.4) scale(1.2,1)" font-size="9.0" text-anchor="end" fill="#111">16</text>
<text transform="translate(30.9,378.2) scale(1.2,1)" font-size="9.0" text-anchor="end" fill="#111">32</text>
<text transform="translate(30.9,399.9) scale(1.2,1)" font-size="9.0" text-anchor="end" fill="#111">64</text>
<text transform="translate(30.9,421.6) scale(1.2,1)" font-size="9.0" text-anchor="end" fill="#111">128</text>
<text transform="translate(30.9,443.4) scale(1.2,1)" font-size="9.0" text-anchor="end" fill="#111">256</text>
<text transform="translate(30.9,465.1) scale(1.2,1)" font-size="9.0" text-anchor="end" fill="#111">512</text>
<text transform="translate(49.9,476.7) scale(1.22,1)" font-size="10.2" text-anchor="middle" fill="#111">3.5</text>
<text transform="translate(102.9,476.7) scale(1.22,1)" font-size="10.2" text-anchor="middle" fill="#111">4.0</text>
<text transform="translate(156.0,476.7) scale(1.22,1)" font-size="10.2" text-anchor="middle" fill="#111">4.5</text>
<text transform="translate(209.0,476.7) scale(1.22,1)" font-size="10.2" text-anchor="middle" fill="#111">5.0</text>
<text transform="translate(262.1,476.7) scale(1.22,1)" font-size="10.2" text-anchor="middle" fill="#111">5.5</text>
<text transform="translate(315.1,476.7) scale(1.22,1)" font-size="10.2" text-anchor="middle" fill="#111">6.0</text>
<text transform="translate(368.2,476.7) scale(1.22,1)" font-size="10.2" text-anchor="middle" fill="#111">6.5</text>
<text transform="translate(421.2,476.7) scale(1.22,1)" font-size="10.2" text-anchor="middle" fill="#111">7.0</text>
<text transform="translate(474.3,476.7) scale(1.22,1)" font-size="10.2" text-anchor="middle" fill="#111">7.5</text>
<text transform="translate(527.3,476.7) scale(1.22,1)" font-size="10.2" text-anchor="middle" fill="#111">8.0</text>
<path d="M34.7 333.1H43.7 M34.7 354.8H43.7 M34.7 376.6H43.7 M34.7 398.3H43.7 M34.7 420.0H43.7 M34.7 441.8H43.7 M34.7 463.5H43.7 M48.3 460.1V467.1 M101.3 460.1V467.1 M154.4 460.1V467.1 M207.4 460.1V467.1 M260.5 460.1V467.1 M313.5 460.1V467.1 M366.6 460.1V467.1 M419.6 460.1V467.1 M472.7 460.1V467.1 M525.7 460.1V467.1" stroke="#222" stroke-width="0.9" fill="none"/>
<text x="45.0" y="329.8" font-size="10" fill="#111">Shilou red clay lightness</text>
<text x="0.3" y="325.9" font-size="9.4" font-weight="bold" fill="#111">c</text>
<text transform="translate(8.2,390.8) rotate(-90)" font-size="10.3" text-anchor="middle" fill="#111">Period  (kyr)</text>
<rect x="655.3" y="332.5" width="10.800000000000068" height="131.2" fill="url(#cb)" stroke="#333" stroke-width="0.6"/>
<text x="671.5" y="336.0" font-size="10" fill="#111" letter-spacing="0.8">1.0</text>
<text x="671.5" y="401.1" font-size="10" fill="#111" letter-spacing="0.8">0.5</text>
<text x="671.5" y="466.3" font-size="10" fill="#111">0</text>
<path d="M556.4 332.6 L560.0 336.5 L564.0 340.2 L570.0 345.0 L575.4 350.4 L579.0 355.0 L583.0 360.5 L590.0 366.0 L595.7 370.7 L601.0 375.0 L605.9 382.1 L604.6 391.0 L608.0 394.0 L613.5 397.3 L620.0 402.0 L626.2 408.7 L622.0 414.0 L621.1 420.1 L623.6 426.4 L630.0 431.0 L636.3 435.3 L639.0 439.0 L641.4 444.2 L645.2 451.8 L641.4 456.9 L630.0 460.0 L618.5 463.6" fill="none" stroke="#6f8cf5" stroke-width="0.9"/>
<path d="M555.1 332.6 L565.0 341.0 L575.4 350.4 L590.0 365.0 L605.9 380.8 L616.0 392.0 L626.2 406.2 L632.0 420.0 L637.6 436.6 L640.5 450.0 L642.6 463.6" fill="none" stroke="#f0562a" stroke-width="1.3" stroke-dasharray="3 2.2"/>
<path d="M583.8 335.7H646" fill="none" stroke="#f0562a" stroke-width="1.3" stroke-dasharray="3 2.2"/>
<text x="583.6" y="344.8" font-size="8.9" fill="#111">95% confidence</text>
<text x="607.0" y="388.4" font-size="8.8" fill="#111">41</text>
<text x="628.7" y="413.8" font-size="8.8" fill="#111">~100</text>
<text x="618.5" y="459.4" font-size="8.8" fill="#111">405</text>
<text x="556.3" y="474.8" font-size="9.6" fill="#111" letter-spacing="0.5">10<tspan font-size="6.5" dy="-4">0</tspan></text>
<text x="596.9" y="474.8" font-size="9.6" fill="#111" letter-spacing="0.5">10<tspan font-size="6.5" dy="-4">1</tspan></text>
<text x="636.2" y="474.8" font-size="9.6" fill="#111" letter-spacing="0.5">10<tspan font-size="6.5" dy="-4">2</tspan></text>
<path d="M565.3 460.7V463.7 M605.9 460.7V463.7 M645.2 460.7V463.7" stroke="#444" stroke-width="0.7"/>
<rect x="554.4" y="332.5" width="96.80000000000007" height="131.2" fill="none" stroke="#555" stroke-width="0.9"/>
<g clip-path="url(#cp3)">
<rect x="40.0" y="493.5" width="499.6" height="130.70000000000005" fill="#fff"/><path d="M40 492.5l1.5 0 0 1-2 24 1.5 7 1 1 3 0.5 1-1.5-0.5-1-3-3 0-1 2.5-11 0-16 3 0 0.5 9-0.5 9 0.5 5 0 4 1.5 3 1 0 0.5-1 1.5-4 3 3 1 0 1-1 0-2-1.5-3 0-1 0.5-1.5 1 0 2 2 1.5 5.5 1.5 3 1 0.5 2 0.5 0.5 3 0.5 1 1 0.5 1-1.5-0.5-3 0.5-2 1-2.5 2-2 1-0.5 2 3 5 1.5 1 0 2-2.5 1 0 0.5 3-1.5 2-0.5 2 0.5 1.5 1 0.5 1.5-1 1-3 1.5-1.5 2-4 1-0.5 0.5 6 0 4-0.5 2-1 2-2 0.5-2-0.5-2 0.5-7 4.5 0 1.5 2 2 1.5 2.5 2.5 2 4-1.5 4-2.5 1-0.5 2 1.5 2 0.5 1-1 2.5-9.5 0-5 1.5-3.5 2-2.5 1-3.5 1-1 1 0.5 2.5 4 3.5 1 1 0 1-1 0.5-4 0.5-1 0.5 0 0.5 0.5 4 13.5 1-0.5 2.5-9.5 0-6 1.5-3-1-2 0-1 1-3 1-1.5 1 2-0.5 5.5 1 3-0.5 5 1 1.5 1.5 7.5 0.5 1.5 1 0.5 1.5-2 0.5-5 1-2.5 2-1.5 2-2.5 2.5-1.5 0.5-4 1.5-5-0.5-1.5 1-0.5 1 1 1-0.5 1 1 1 1.5 0 6-0.5 3 0.5 1.5 0 1.5-1 5 1.5 3 0.5 1 1 0 1-1 0.5-2-0.5-3 1-1.5 3 1.5 1 3 1 1 1 0 1.5-1 0-2-1-7 0.5-1.5 1-1.5 1.5 2 0.5 3 3 2 1 2.5 1 0.5 1-0.5 0.5-3.5 0-4 1-7-0.5-3 1-4.5 1 3.5 1 8 1 4 0.5 8 1.5 1.5 1 0.5 1-0.5 2-5.5 1.5-2 0-3 0.5-0.5 1 2.5 0.5 4 2.5 4 1 3 0 1-1.5 4 1 3 0.5 4 2 4 1.5-6-1-8 0.5-5 2.5-3 1.5-4.5 1 0 1 3 1 0.5 1-1 0.5-3 1.5-2 0.5 1 0 4 1 3 1.5 4 2-3 2 0 2-1 2 2 1 0 1-1 1-4 1-1.5 1 0 2 1.5 1 0 4-2 1 1 0.5 7-1 11 1.5 4 1 1 1.5-2 1.5-6.5 0.5-9.5 0.5-1 2-2-0.5-2-2-2 0.5-3 1-2 1 2 1 0.5 0.5-0.5 2-8-0.5-3 1.5-3 0.5-7 5 0 0 7 1 5 1 0.5 3-2 1 1.5 1.5 11 0.5 7.5 1 2.5 2.5-26 0-7 3 0 0.5 7 1.5 6-0.5 2.5-1 1.5 0 1 1 1 2-2 2-0.5 0.5-0.5 2.5-14 2 0.5 0.5 0.5 0 2-1 2 1.5 3.5 1 5 1 1 1.5-2.5 0.5-0.5 2 1 2-2 1.5-4.5 1-8 5 0-0.5 5 0.5 3 0.5 1 2-1.5 1 2 1.5 4.5 0.5 4-1 6 1 3.5 1 0 1.5-1.5 1.5-3 0-1-3.5-4 0-5 0.5-6 0-7 3 0 0.5 11-1 5 1 10 0.5 1.5 1 1 1-0.5 0.5-1 1.5-15 2-6 0.5-6 3.5 0 0 7-1.5 6 0 3-0.5 8 1 1.5 2 0 1 1 1 0 1.5-1.5-0.5-2-1.5-2 1-3 0.5-6 0.5-2 0.5-10 4.5 0-0.5 9 0.5 23 0.5 1.5 3 1 1-1.5 1.5-5 0-4-1-4 0.5-7-0.5-13 3 0 0 10 1 5 1 6 1.5 4.5 1 0 1-2.5 0-4 1-19 6.5 0 0 7 0.5 2 1 0.5 1-0.5 1 0.5 2 4 1 0.5 1-1.5 0.5-3.5 1-9 8.5 0 0.5 6 0.5 3 1-0.5 1-3.5 0-5 7 0 1 15 0 1 1 0.5 3-1.5 0-1-2-2-0.5-1 0.5-11 19.5 0 0 2 1.5 3 1.5 13 0.5 2 1 1 1.5-7-0.5-7 2-4 0-1-0.5-1-1-1 2.5 0 0.5 8 1.5 2.5 2 1 1-1.5 0.5-2 0-8 9 0 0 7-0.5 1-2 1-0.5 1 1.5 1.5 1 0 2 1 1 0 1.5 2.5 0.5 0.5 1 0.5 1.5-1 0.5-1-0.5-2-1.5-1-2 0 0-1 0.5-2 2-2-0.5-6 10.5 0 0 9 1.5 10-0.5 5 0.5 2 1 1 1 0 3-2.5 1-1.5 3-12 2-3 1-8 4 0 0.5 9 0.5 2.5 1 1 1-1.5 1-0.5 1 0.5 1 0 1.5-5-0.5-6 3.5 0-1 6 0.5 0.5 1 0.5 0.5-2-0.5-5 5 0 0.5 8 1 4 1.5 3 0 5 1 1.5 1-0.5 1-2 0-3 1.5-10 0-6 7.5 0 0 10 1 8.5 1-0.5 1.5-6 1-2 1.5-1.5 2.5-0.5 0.5-2 0.5-6 4 0 0.5 7 1 3 2-6-0.5-4 6.5 0-0.5 3-0.5 1.5-1 0.5 1.5 3-0.5 6 0.5 4-1.5 7 1 2 1 0.5 1.5-1.5 2.5-7 0.5-16 1-3 5.5 0 1 2.5 0 4.5 0.5 4 1.5 2 1 0 1-1 0.5-2-0.5-10 7 0 0.5 7 2.5 10 1 0.5 2-3.5 1 2 1 9 1 0.5 1-0.5 2 2 1-0.5 0.5-0.5-1-2 0-2-1.5-3-1-15 0-4 2 0 0.5 6 1.5 2 2 6 0 9-1.5 9-1.5 1.5-0.5 1.5 3.5 4 1-1 0.5-1-0.5-2 1.5-4 0-8 1-5-1.5-5 0.5-13 4 0-0.5 4 2 14.5 0 113.5-501 0 0-31 3-1 6 0 3-2 3 0 2-0.5 1-0.5 0.5-1-1-1-1.5-0.5-4 0.5-2.5-3-1.5-0.5-8-1.5 0-90zM376.5 496.5l0 1 0.5 1 1-0.5 0.5-1.5-0.5-0.5-1-0.5zM347 503.5l1 1 0.5-1-0.5-1zM467 503.5l-0.5 1 0.5 0.5 1.5-0.5-0.5-1zM280 504.5l-1 2 1 3.5 1-0.5 1-3-1-2.5zM368 504.5l-0.5 2 0.5 0.5 1 0.5 0.5-1 0.5-1-1-1.5zM375.5 504.5l-0.5 2 0 5 1 3 1.5-9-0.5-1.5-1 0zM350.5 506.5l-0.5 0.5 0 1 1 1 0.5-1.5-0.5-1.5zM440 507.5l0 1 1 0.5 0-2zM499.5 507.5l0.5 1 0.5-1-0.5-0.5zM400.5 508.5l0.5 1 0.5-1-0.5-0.5zM450 508.5l0 1 1 0.5 0.5-0.5 0-1-0.5-0.5zM510.5 509.5l0.5 1.5 1 0 0.5-0.5 0-1-0.5-1-1 0.5zM142.5 510.5l-1.5 4 0 2 1 2 2 1.5 1.5-1.5 0.5-3-2-4.5-1-1zM433.5 510.5l-0.5 1 1 1 1-0.5 0-1.5-1-0.5zM442 510.5l-1 2 0.5 3 1.5 1 1 0 1-2 0-3.5-1-1.5zM267 511.5l-1 3 0 2 1 1 1 0 1.5-2-1.5-4zM280 511.5l0 1.5 0.5-0.5zM273.5 512.5l-1 3 0.5 1.5 1 0.5 1.5-1 0.5-2-1-2-1-0.5zM332 512.5l-1 1-0.5 1 0.5 1 1 0.5 1-0.5 0.5-1-0.5-2zM413.5 513.5l-0.5 1 1 1 1-1-1-1.5zM235.5 515.5l0.5 1.5 1.5-0.5-0.5-1.5-1 0zM397.5 515.5l-1 1 0 1 1.5 1 1-1 0-1-1-1zM363 516.5l0 1 1 1 1-1 0-1-1-0.5zM252 517.5l0 1 1 1.5 1-1.5-0.5-1-0.5-0.5zM383 517.5l0 1.5 1-0.5zM233.5 518.5l0 1 0.5 0.5 1-0.5 0-1-1-0.5zM321 518.5l-1 1 1 1 1-1zM520.5 518.5l-0.5 2 0.5 1 1.5 0.5 1 0 0.5-0.5 0.5-2-2-1.5-1 0zM368.5 520.5l-0.5 1 0 2 1 1.5 1 0 1-1.5 0.5-2-1.5-2-1 0.5zM271.5 521.5l-0.5 2 1 2 1 0.5 1-0.5 1-1.5 1 2 1-1.5 0-1.5-1-0.5-1 1 0-1-2-1.5zM286 521.5l-1 1 0 1 1 1.5 1-1 0.5-1.5-0.5-1zM427.5 521.5l0.5 2 1 0 0.5-1-0.5-1.5-1-0.5zM486.5 521.5l-0.5 1 1 0.5 0.5-0.5-0.5-1zM160.5 522.5l-0.5 2 1 1 1-0.5 0.5-1.5-0.5-1.5-1 0zM329 523.5l0 2 1 0.5 1-1.5-0.5-1-0.5-1zM281.5 524.5l0.5 1 0.5-1-0.5-1zM252.5 525.5l0 1 0.5 1 1-0.5 0.5-0.5-0.5-1.5-1 0zM405 525.5l0 2 1 1.5 1-1 0.5-1.5-1.5-1.5zM522.5 525.5l-1 1 0 2 0.5 1.5 1 0.5 1-0.5 0.5-2.5-0.5-2-1-0.5zM50.5 527.5l-0.5 1-0.5 1 1.5 1.5 1-1 0-1.5-1-1.5zM60.5 528.5l0 2 0.5 0.5 1 0 0.5-1.5 0-1-0.5-0.5-1 0zM367 528.5l-0.5 1 0.5 1 1.5-1-0.5-0.5zM437 528.5l-0.5 2 2 2-1 3 1.5 3 1 0.5 0.5-4.5-0.5-1.5-1.5-1.5 0.5-2-0.5-1-0.5-0.5zM194.5 529.5l0.5 1.5 1 0.5 0.5-1 0-1-0.5-1zM400 529.5l0 1.5 1 0 0.5-0.5-0.5-1.5zM44.5 530.5l0 1 0.5 1 1 0 0.5-1 0-1-1.5-0.5zM74 530.5l0 1 1-1-1-0.5zM163.5 530.5l-0.5 1 1 1 1-1-0.5-1-0.5-0.5zM325.5 530.5l0.5 1.5 1 0 0.5-0.5-0.5-1.5-1 0zM123.5 531.5l0.5 1 1.5 0-0.5-1.5zM127 532.5l0 1 1 1 1-1 0-1-1-0.5zM170.5 532.5l-0.5 1 1 1 1-1 0-1-1-0.5zM298.5 532.5l-0.5 1 0.5 2 1.5 1.5 1-0.5 0.5-1-0.5-2-1-1-1-0.5zM138.5 533.5l0.5 1 1-0.5 0.5-0.5-1.5-0.5zM167.5 533.5l0.5 1 2-1-2-1zM532 533.5l0.5 1 0.5 0.5 1-0.5 0-1-1-1zM174.5 534.5l-0.5 1 1 1.5 1-0.5 0.5-1-0.5-1-1-0.5zM211 534.5l0 1 1 3.5 1 2 1 1 1.5-1.5-0.5-3.5-1-2-1-0.5-1-0.5zM324.5 534.5l-1 1 0.5 1 1 0.5 0.5-1.5-0.5-1zM207 535.5l0 0.5 1-0.5-1-0.5zM260 535.5l0 2 1 1 0.5-1 0-2-0.5-0.5zM62.5 536.5l-2.5 4 0 2 2 1.5 1 0 0.5-0.5 0.5-3 1.5-2 0-1-1.5-1.5zM444.5 536.5l0 1 0.5 1 1 0 0.5-1-0.5-1-1-0.5zM269 537.5l0.5 1 0.5 0.5 0.5-0.5 0-1-0.5-1zM522 537.5l-0.5 2 0 2 1.5 1 1 0 1-1 0.5-2-1.5-2.5-1 0zM126.5 538.5l0.5 0.5 0.5-0.5-0.5-0.5zM234 538.5l-0.5 2 1.5 1 1-1 0-1-1-1.5zM362 538.5l1 1 2 0.5 1.5-0.5 0.5-1-2-1zM52 539.5l-0.5 2 1 1 1.5 2 1 0.5 1-0.5 1-1 0-2-3-2.5-1-0.5zM58 539.5l0 1 1 0.5 0.5-0.5 0-1-0.5-0.5zM175 540.5l-1 1 1 1 1-1-1-1zM218 540.5l-1 1 0 1 1 1 1-0.5 0.5-1.5-0.5-1zM293 541.5l0 1 1.5 0 0-1-0.5-0.5zM297 541.5l0 1 1 1 1-1 0-1-1-0.5zM346.5 543.5l0.5 0.5 1 0 0.5-0.5zM95.5 544.5l-0.5 1 0 2 1 0.5 1 0 0.5-0.5 0-2-0.5-1-1-0.5zM66 545.5l-0.5 1 0 1 1.5 1 1-1-0.5-2-0.5-0.5zM186 545.5l-1 2 0 1 1 1 1 0 0.5-2-0.5-3zM204 545.5l-1 1-0.5 1 0 1 1.5 1 2-1.5 1-1.5-0.5-1-0.5-0.5zM440.5 546.5l-0.5 2 0 1 1 1 1 0 1-0.5 1-1.5 0.5 1 1.5 1 1.5-1 0-2-1.5-1-1.5 1-0.5 1 0-1-2-1.5-1 0zM74.5 547.5l-1.5 1.5-1.5 0.5 0 2 0.5 1 1 0 1-2 1-0.5 0.5-0.5 0.5-1-1-1zM484 548.5l1 0.5 2-0.5-2-0.5zM116 549.5l0 2 1 0.5 1-0.5-0.5-2-0.5-1zM527.5 550.5l-0.5 1 0 1 1 1.5 1-1 0-1.5zM64 553.5l-1 0-0.5 1 0 1 0.5 1 1-0.5 0.5-0.5 0.5-1zM65.5 553.5l-0.5 1 0.5 1 1.5 1 1-1 0.5-1-0.5-1-1-1zM80 554.5l-1 2 1 2-2 2 0 1 0 1 1 1 1 0 1-2-0.5-3 1-1 0-2-0.5-1zM537 554.5l-0.5 1 0.5 1 1 0 0.5-1-0.5-1zM46 557.5l0 1zM434.5 557.5l-1 1 0.5 1 2 1 1-0.5 0.5-0.5-0.5-1.5zM537 558.5l-0.5 1 0.5 1.5 1-0.5 0-1zM92 559.5l0 2 1 0.5 1-1.5 0-1-1-1zM62.5 561.5l0.5 0.5 0-0.5zM68.5 561.5l0 1 1.5 1.5 1 0.5 1.5-1-0.5-2-1-0.5-1-0.5zM91 563.5l-2 1 0 2 0.5 4 1.5 1 1-1 0.5-4-0.5-2.5zM417 564.5l-1 1 2 1 3 0 2.5-1-1-1-1.5-0.5zM98.5 566.5l-1 1 0 1 1.5 1 1-1 0-1-1-1zM191.5 568.5l0.5 1 1 0 1-1zM72.5 570.5l0.5 0.5 0.5-0.5-0.5-1zM532 576.5l0 2-2 2-1 2 1 2 1 0.5 1 0 3-1.5 1-2-1.5-5-1.5-0.5zM80 578.5l0 1 1 1 1-1 0-1-1-1zM96 578.5l-0.5 1 1.5 1 1-1 0-1-1-1zM90 579.5l0 1 1 1 1-1 0-1-1-1zM374 594.5l1 0.5 1-0.5-1-0.5zM280.5 595.5l-0.5 1 0 1 1 0.5 1-0.5 0.5-1-0.5-1-1-0.5zM316 602.5l-1.5 2 0 2 1.5 1 2-0.5 1.5-1.5-0.5-2-1-1.5-1 0zM85 605.5l1 0.5 1.5-0.5-1.5-1zM57 492.5l2 0 0 7 0.5 5-0.5 5-1 1-1.5-4 0-4 1-2-1-5 0-3zM68 492.5l1.5 0 0.5 4-1 4 0.5 5-0.5 2-1 1-1-2 0-2 0.5-4 0-6 0-2zM81 492.5l1.5 0-0.5 5-1 3 1 1 0 1 0 2.5-1-1.5-0.5-10 0-1zM92 492.5l2 0 0.5 1-0.5 4.5-1 3-1-3.5-0.5-5zM216 492.5l3 0 0 7-1 2.5-1 0-0.5-1.5zM229 492.5l1.5 0-0.5 11-1-3.5zM425 502l1-0.5 1 2.5 0.5 3.5-0.5 2-1 1.5-1 0-1-4.5zM82 507l0.5 4.5-0.5 2-1-0.5 0-2.5 0-2.5zM105 511.5l0.5 1-0.5 2-1-1 0-1zM205 512l1 0 0 1.5 0.5 3-0.5 2.5-1-1.5-0.5-2zM220 513.5l0.5 1 0 1-0.5 1-1 0-0.5-2 0.5-1z" fill="#00009c" stroke="#000" stroke-opacity="0.7" stroke-width="0.55" fill-rule="evenodd"/>
<path d="M40 492.5l1 0 0 2-2 21 0-23zM46 492.5l2 0-0.5 3 0.5 5-1.5 10 1.5 5 0.5 5 1.5 3.5 1 0 2-2.5 1-0.5 3 2 1-0.5 2-3 1 1 2 3.5 2 0 0.5 0.5 1 3 1.5 1 1-2 0-3 0.5-2 2.5-3 1 0.5 2 2 3 0.5 1.5 1 3.5 5.5 1 0.5 1.5-1 3.5-3.5 1 0.5 0 4-1 2-1 0-2-0.5-3 1-2 1.5-2 2-2 1-0.5 1 0.5 2 2.5 4 3.5 3 1 0 4-1.5 2-2 2-0.5 2 2 1 4 1 1 1 0 1-2-0.5-4 1.5-8 1-3 0.5-4 3-5 1.5-1.5 1 0 6 1.5 1 0.5 3-2 1 0.5 3 13 1.5-3 1.5-9 1-3 1-1 2 1.5 1 1.5 2 10 1 0 2-4 1-5.5 2-0.5 3-3.5 1-0.5 4 6 2 1.5 2 2.5 1 0.5 1.5-1.5 0-4 0.5-1 2 0 1 1 1.5 3 0.5 0.5 1 0.5 1.5-1 0.5-1 2 1.5 1-0.5 2-3 2 1.5 1 0 1-1.5 0.5-3 0.5-8 1 0.5 1.5 3.5 0.5 8 2 2 1 1 1-0.5 2-4 1-2 1-0.5 3.5 5 1 4-1 4 2.5 11-1.5 4 0.5 1 1 1.5 1 0 1-1.5 0-5 0.5-6-0.5-8 0.5-4 1-2 1.5-1 3 0 3-1.5 1 0 1 2.5 2 8 1.5-6 0.5-1 1-0.5 3-0.5 2 2.5 1 0 1-1.5 2-4 1 0 2 2.5 3-1 1 0 1 0.5 0.5 4-0.5 10 1.5 5 1.5 1 1-0.5 1-2 1.5-6.5 0.5-9 2.5-4 0-4 0.5 0 1-2 1.5-5 1.5-3 1.5-5-1-9 4 0-0.5 8 0.5 5-1 3 0 4 0.5 0.5 1-0.5 1.5-5 1-1 2.5-1.5 0.5 1.5 1.5 9 1 12.5 1 2.5 1.5-12 0-6 0.5-8 1.5-5-0.5-7 2 0 0 7 2 6-0.5 2-1 2 0 1 0.5 1 1 0.5 2-1.5 1-0.5 2 1 0.5-1.5 0.5-5.5 1-1 2 1 1 3.5-1 4 0.5 7 0.5 2 1-1 2.5-4-0.5-5 1-3 3-0.5 1-0.5 1.5-3 1-3 0.5-8 3 0 0 4-1.5 5-0.5 5 0.5 4-0.5 4-1 0.5-3-4-1 1-1 2.5 0.5 2 0.5 1 2.5 1 0.5 1-1 2-2-1-1 0-1 2 0 2 1 1.5 1 0.5 1.5 0 0.5 1 0.5 2-0.5 3 1 2 1-2-0.5-3 1.5-6 0.5-4 1-2 2-4 0-3 1-4 0-2 0.5-1.5 1 0 1 2 1 4.5-0.5 7 0.5 3 0 1-1.5 2 0 1 1.5 1.5 1.5-0.5 1-4 1.5-1.5 1 0.5 1 2.5 1 0.5 2.5-2 0-1 0-4 1-10 0.5-2 2-1.5 0.5 0.5 0.5 6-0.5 7 0.5 4 1 0 2-0.5 2 0.5 1.5-1 0-2-1-3 1-3 0-4 0.5-4 0.5-10 3.5 0-0.5 15 0.5 7 0 10 0.5 2 3.5 2 1 0 0.5-1 1.5-7 0.5-5-1-4 0.5-7 1 0.5 1 1.5 1 7 1 4-2 1-0.5 1 0 1 1.5 0.5 3-1 1.5-5.5 1-22 5.5 0-0.5 7 0.5 2.5 1 1.5 1 0.5 2 0 3 4 1-1 0.5-2.5 1.5-12 7.5 0 0.5 8 1 2.5 1-1 1.5-4.5 0-5 6 0 0.5 13 1 8.5 1.5-4.5 3-2 0-1-2-2-0.5-1 0.5-11 18 0 0 1 2 4 1.5 14 1 4.5 1 1.5 1-3 1-8 0-6 1-3 1.5 4 2.5 3 1 0.5 1-1 0.5-2.5 0-9 9 0-0.5 7-2 1.5-0.5 1.5 0.5 1 2 2 0.5 4 0.5 0.5 1-2 1-1 2 1.5 3 1.5 1-1 1-4.5-2-3 0-3-1-6 4.5 0 0.5 6 1 0.5 1-2.5 1-1.5 0.5 6.5 2 17 1.5 2 2.5 0 1 3 1.5 0.5 1-1.5-0.5-1-0.5-1.5-1.5-0.5 2.5-6 2-8.5 1-2 1 0 1-1.5 0.5-9 3 0 0 9 0.5 4 0 4 1.5 6 1 1 1.5 0.5 1 0 1.5-2.5 0-8 1-4 1.5-1.5 2 0 1-2 0.5-2.5-0.5-4 3.5 0 1 9 2 6 0 5 1.5 2 1-0.5 1-1.5 0-3 2-7 0.5-5-0.5-5 6 0 0 9-2 1-0.5 1-0.5 1 1 1 1 0 1-1 1 2 0 4.5 1 2 1-0.5 1.5-7 1.5-2.5 2-1.5 1 0.5 1-1 1-8.5 3.5 0 0.5 9.5 1 3 1-1.5 2-7-0.5-4 2.5 0-1 4 1.5 5-0.5 5 2 4-1 8 1 2 1 0 1.5-1 2.5-7 0.5-5 0.5-12 0.5-3 4 0 1 3 0 4 2 5 1.5 2 1 0 1.5-2 3-5-0.5-2-1-2 0-3 1.5 0 2 2 1 5 3.5 12 1 1 1-1 1-2 0.5 2 0 5-1.5 0.5-1 1-0.5 1.5 0.5 2 2 2-1 4 1 3.5 1 1 1.5-2.5 0.5-2-0.5-4 1-4 0.5-0.5 2 1 2-0.5 0-1 0.5 5-0.5 1-1.5 2 0 1 3 4 0.5 3 1 1 1-1 0-1-1-2 0.5-4 1.5-4 0-8 1-5-1-5 0-13 3 0-0.5 4 2.5 22.5 0 105.5-501 0 0-30.5 3-0.5 5-0.5 4-1.5 3 0 3-1 1-1 0-1-0.5-1-1.5-0.5-5-1-3-2.5-9-1.5 0-62.5 2 6.5 4 0.5 1-1 0-2-3-4 3-11-1-9 0.5-7zM346.5 493.5l0.5 1 1-0.5 0.5-0.5-1.5-0.5zM354.5 495.5l0 1 0.5 0.5 0.5-0.5-0.5-1zM376.5 495.5l-0.5 2 1 1.5 1-0.5 1-2-1-1.5zM347 502.5l-0.5 1 0.5 1 1 0.5 1-1.5-1-1.5zM375.5 503.5l-1 3 0 10 0.5 3 1 1 0.5-2 1.5-13-1-2.5-1 0zM367.5 504.5l-0.5 2 1 1.5 1 0 1-1.5 0-2-1-1-1 0zM350 506.5l0 2 1 1 0.5-1 0.5-1-1-2zM499.5 507.5l0 1 1 0 0-1-0.5-0.5zM400 508.5l0 1 1 0.5 0.5-0.5 0-1-0.5-0.5zM449.5 508.5l0 1 1.5 1 0.5-1 0-1-0.5-0.5zM510.5 508.5l0 2 0.5 0.5 1 0.5 1-1-0.5-2-0.5-0.5zM434 509.5l-1.5 2 1.5 1.5 1-0.5 0.5-1-0.5-2zM331 512.5l-1 3 0 1.5 3-0.5 1-2-0.5-2-0.5-1zM413 513.5l0 1 1 1.5 1-1.5 0-1-1-1zM236 514.5l-1 3-1 0-1 1 0 1 1 1 1-1 1-2 1 0 0.5-1 0-2-0.5-0.5zM396.5 515.5l0 2 0.5 1 1 0.5 1-1.5 0-1-1-1.5zM362 516.5l0 1 2 1.5 1.5-1.5-0.5-1-1-1zM251.5 517.5l0 1 0.5 1 1 0.5 1-0.5 0.5-1-0.5-1-1-1zM383 517.5l0 2 1.5-1-0.5-1-1-0.5zM369 519.5l-1 1-0.5 2 1.5 3 1 0 1.5-2 0-2-0.5-1.5-1-0.5zM486 521.5l0 1.5 1 0.5 0.5-1 0-1-0.5-0.5zM329 522.5l-0.5 2 0.5 1.5 1 0 1-0.5 0-2-1-2zM281.5 523.5l-0.5 1 0 1 1 0.5 1-1.5-1-1.5zM405.5 524.5l-1 1 0 2 0.5 1 1 0.5 1-0.5 0.5-2-0.5-1.5-1-0.5zM252.5 525.5l0 1 0.5 1 1 0 0.5-1-0.5-2-1 0zM49.5 527.5l0 2 0 1 1.5 1 1.5-1 0-2-1.5-2-1 0.5zM61.5 527.5l-1.5 1 0 1 0 1 1 1 1 0 1-2-1-2zM195 528.5l-0.5 1 0 1 0.5 1 1 0.5 1-1.5 0-1-1-1.5zM366.5 528.5l0 1 0 1 1.5 0 0.5-1 0-1-1.5-0.5zM436.5 528.5l0 2 1 2-0.5 3 2.5 7 0 7 0.5 1 1 0.5 1 0 2-1 2 0.5 1 0 1-2-1-2-1-0.5-2 1-3-3.5-0.5-2 0.5-5-0.5-3-1-2-0.5-3-1-1zM399.5 529.5l0.5 1.5 1 0.5 0.5-1 0-1-0.5-0.5-1 0zM44.5 530.5l-0.5 1 1 1.5 1.5-0.5 0.5-2-1-1-1 0zM73.5 530.5l0.5 1.5 1-0.5 0-1.5-1-0.5zM163 530.5l0 1.5 1 1 0.5-0.5 0.5-1 0-1.5-1-0.5zM325 530.5l0 1 1 1 1 0 0.5-1 0-1-0.5-1-1 0zM123.5 531.5l0 1 0.5 0.5 1 0 1-0.5-1-1.5-1-0.5zM126.5 532.5l0 1 1.5 1.5 1.5-1.5 0.5-1-2-1zM139 532.5l-0.5 1 0 1 0.5 0.5 1 0 0.5-1.5-0.5-1zM167.5 532.5l-0.5 1 1 1.5 2-1 1 0.5 1.5-1-0.5-1.5-1 0-1 0.5-2-0.5zM210 532.5l0.5 4 1.5 4.5 2 3.5 1 0 1-1.5 2 1 1-0.5 1-1-0.5-2-0.5-0.5-2-0.5-1.5-4-1.5-2-3-2zM298 532.5l-0.5 1 1 2 1.5 1.5 1 0 1-1.5-0.5-2-1.5-1.5-1-0.5zM174 534.5l-0.5 1 0.5 1 1 1 1-0.5 0.5-1.5-0.5-1.5-1-0.5zM323.5 534.5l0 2 0.5 0.5 1 0.5 0.5-1 0-2-0.5-0.5zM62 535.5l-1 0.5-3 0-2 3-3-1-1 0.5-0.5 2 0.5 2 2 2 2.5 1 1.5 1 1-0.5 1-2 2 1 1.5-0.5 0.5-1 0.5-3 1-2 0-1-1.5-2-1-0.5zM206.5 535.5l0.5 1 1 0 0.5-1-0.5-0.5-1-0.5zM259.5 535.5l0 2 0.5 0.5 1 0.5 1-1 0-2-1-1-1 0.5zM269 536.5l-0.5 1 0.5 1 1 0.5 1-0.5 0-1-1-1.5zM444.5 536.5l0 2 1.5 0.5 0.5-1.5 0-1-0.5-0.5-1 0zM522.5 536.5l-1 2-0.5 2 1 2 1 0.5 1 0 1.5-1.5 0-2-1.5-3-1-1zM127 537.5l-1 1 1 1 0.5-1zM233.5 538.5l0 2 0.5 1 1 0.5 1.5-1.5-0.5-2-1-1-1 0zM361 538.5l1 1 3 0.5 2-0.5 0.5-1-1.5-1-2 0zM174.5 540.5l-0.5 1 1 1.5 1-1.5 0-1-1-0.5zM293 540.5l-0.5 1 0 1 1.5 0.5 0.5-1.5-0.5-1zM298 540.5l-1 1 0 1 1 1 1.5-1-0.5-1.5zM346 543.5l0.5 1 0.5 0 1.5 0 0.5-1-1-0.5zM206 544.5l-2.5 1-1 1 0 2 0.5 1 1 0.5 1-0.5 1.5-2 0.5-2zM65.5 545.5l0 2 1.5 1.5 1-1.5 0-2-1-1zM74 547.5l-3 2 0 2 1 1.5 1 0 3-3.5 0.5-1-0.5-1-1-0.5zM485 547.5l-1.5 1 1.5 0.5 4-0.5zM116 548.5l-0.5 2 0.5 1.5 1 0.5 1-1 0-2-1-1.5zM527 550.5l-0.5 2 1.5 1.5 1-0.5 0.5-2-1.5-1.5zM66 552.5l-1 0.5-2 0-0.5 0.5-0.5 2 1 1 1 0 1-0.5 2 1 1-0.5 0.5-1 0-2-1.5-1.5zM79.5 554.5l-1 2 0 2-1 3 0.5 1.5 1 1 1 0 1.5-1.5 0.5-2 0-5-1-1.5-1 0zM536.5 554.5l0 1 0.5 2 1 0 0.5-2 0-1-0.5-0.5zM45.5 557.5l0.5 1.5 0.5-1.5-0.5-0.5zM433.5 557.5l-0.5 1 1 1.5 2 0.5 2 0 0-2-1-1-2-0.5zM92.5 558.5l-1 1-0.5 2.5-2 1.5-1 2 0.5 2 1 3 1.5 1 1-0.5 0.5-1.5 0.5-6 1.5-3-0.5-1-1-1zM536.5 558.5l-0.5 2 1 0.5 1 0 0.5-1.5-0.5-1.5-1-0.5zM69 560.5l-0.5 1 0.5 2 2 1.5 1-0.5 0.5-1 0-2-1.5-1-1-0.5zM62 561.5l0 0.5 1 0.5 0.5-1-0.5-1zM416.5 564.5l-1 1 1.5 1 1 0 4 0 2-1-0.5-1-1.5-0.5-3 0zM97.5 566.5l0 2 0.5 1 1 0.5 1-1 0.5-1.5-1.5-1.5zM191 568.5l0.5 1 1.5 0.5 2-0.5 0-1-2-0.5zM72.5 569.5l0 1 0.5 1 1-1-0.5-1-0.5-0.5zM532 576.5l-0.5 2-2 2-0.5 2 1 2.5 2 0.5 4-2 0.5-2-2-5-1.5-1zM80.5 577.5l-0.5 1 0 1 1 1 1-0.5 0.5-1.5-1-1-0.5-0.5zM96.5 577.5l-1 1 0 1 0.5 1 1 0.5 1-1.5 0-1-1-1zM90.5 578.5l-1 1 0 1 1.5 1.5 1.5-1.5 0-1-1.5-1.5zM212 580.5l1 0 0-0.5-1 0zM373.5 594.5l1.5 0.5 1.5-0.5-1.5-1zM280 595.5l-0.5 1 0.5 1 1 1 1-0.5 0.5-1.5-0.5-1-1-0.5zM315.5 602.5l-1.5 2 0 2 1 1 3 0 1.5-2 0-2-1.5-2-1 0zM85.5 604.5l-1 1 0.5 0.5 3-0.5-0.5-1zM58 492.5l0.5 0-0.5 3-0.5-3zM217 492.5l1.5 0-0.5 2.5-1 0zM289 492.5l1.5 0 0.5 10-1 6-1 1-0.5-5zM301 492.5l0 1-0.5-1zM317 492.5l2 0 0 6-1 6zM300 500.5l0 1zM528 502.5l1 0 1 0.5 1.5 3.5-0.5 10-1 2-2.5-8-0.5-6zM58 503l0 1.5zM68 503l0.5 1.5-0.5 1zM426 504l0.5 2.5-0.5 1.5-1-1.5 0-1zM145 507.5l1 0 0 2zM125 514l1-0.5 0.5 2-0.5 1.5-1 0.5-0.5-1zM229 515.5l0 0.5z" fill="#0000c8" stroke="#000" stroke-opacity="0.7" stroke-width="0.55" fill-rule="evenodd"/>
<path d="M40 492.5l0.5 0 0 6-0.5 4-1 3.5 0-13.5zM237 492.5l1 0 0 1.5-1 0zM308 492.5l2.5 0-1 18 1 5 0 10 0.5 1.5 2.5 1.5 2.5 3.5 1.5-1.5 0.5-4 1-4 1-0.5 2 0 2 1 2.5-7.5 0-9 1-8-0.5-6 4 0 0 9 1 4 0 2-1 1.5-2 1-0.5 2.5-1 3 1 4 0 6 0.5 1 1 0 1.5-2 0-5 2.5-1 1.5-2-0.5-7 0.5-2 0.5-0.5 1 0 2 5 1 0 1.5-14.5 1-3 0.5-0.5 1.5-0.5 0.5-1 1.5 0-1 1 0.5 1 1 1 1 0 1 1 0.5 5-0.5 0.5-2-0.5-1 2 1 1.5 1 0.5 1-1 0.5 1 0 3 0.5 1 1 0 1-1-0.5-4 1.5-4 1-2 2.5-2-0.5-1.5-2-1 0-1.5 5 0 1 24-0.5 10 0.5 4.5 1-0.5 1-3 0-7 1-1.5 1 0.5 1-0.5 1-1.5-1-2-2-0.5-0.5-1.5 0.5-3 3-3-0.5-2-1.5-1-0.5-1 0-11 4 0 0.5 4.5 0.5-4.5 9.5 0 0 1-2 1.5-0.5 1.5-0.5 4-1.5 3-0.5 2 0.5 13 1.5 3.5 1 1 1-2.5 1-11 0.5-4-0.5-5 2-4 1-0.5 1 0.5 1 2 2 16-0.5 2-1.5 0-0.5 2 0.5 1 2-0.5 2 2.5 1-1.5 0.5-3.5 1.5-13.5 1-0.5 4 4.5 1-0.5 1-6 0-8 8 0-0.5 6-2 3 0 1 1.5 4 0.5 14-0.5 7 1 2.5 1 0 1-1 1-1.5-0.5-2-1.5-3 0-2 0.5-8 1.5-3 1-0.5 3.5 2.5 0 3 0.5 1 1 1 1-1 0.5-1-0.5-3 1-1.5 1-1 2 0.5 1.5 3 1 6 1.5 3 1 1 2 0.5 2 1.5 1 0 1.5-2-1-4 1.5-5.5 1-0.5 2 1.5 2-1.5 0.5-2-1.5-5 1-2 1 0 0.5 2 0 4 2.5 9 1 0.5 3-1 2-3.5 1-6 0.5-4 0.5-1 2-1 1.5-3 0.5-3-0.5-4 2.5 0 0.5 8 2.5 7 0 5 1 2 1 0.5 1.5-1.5 2.5-7.5 1-1.5 1-1 0.5 1 1.5 1.5 2 0.5 0.5 5 1.5 4 1-1 1-2.5 2-8 1-1 1 0 2 1 1-11.5 3 0 1 13.5 1 3 1-0.5 2-4 0.5 3 2 5 0.5 2-0.5 3 0 2 1.5 2 1 0.5 1.5-1.5 2.5-6.5 1-6.5 0-11 0.5-3 0.5-1 2 0 1 3 0 5 3 4.5 2 6.5 1 0.5 1-2 2 2 1 0 1-0.5 0.5-2-0.5-4 2-1.5 1 1.5 2.5 8 0.5 7 1.5 4 0 3 1 7-0.5 6 0.5 2 1.5 1.5 1 0 1-1 1-1.5 0-2-1.5-4-0.5-2 1-5 0.5-5 0.5-2.5 2 0 1.5 0.5 0.5 2-2 3 0.5 2 2.5 3 0.5 3 1.5 1 1 0 0.5-1-0.5-3 1.5-8 0.5-9 1-1 1.5 2 0.5 4 1 2.5 0 102.5-501 0 0-30 8-0.5 4-1.5 7-1 0.5 0 0.5 2 0.5 0 3.5-2 0-1-1-0.5-2 0-0.5-0.5-1.5-2.5-2-1-4-0.5-3.5-3-9.5-1 0-59.5 0.5 3.5 1.5 2 2-0.5 2 0.5 1-0.5 0.5-1.5 0-2-2.5-4 0-1 2-4.5 1 1.5 0 5 2 5-1 5-2-1.5-1 0-0.5 0.5-0.5 2 1 1.5 1 0.5 1.5-1 0.5-1.5 0.5 0.5 2.5 1.5 1-1 1-2.5-1-4 0.5-1 1.5-1 3 3 1-0.5 2-3 1 0 0.5 1.5 0.5 1-3 3-0.5 3-1.5 3-2 2-3 0.5-1 3.5 0 2 1 1 4 3.5 2 4 1-1 2-4 2.5 0.5 2.5 3.5 1 0.5-1.5 1-2.5 0.5-1 1.5-0.5 2 1.5 2 2-0.5 3 0.5 1.5-2 0-1-0.5-2-2-2 1.5-2 0-3-1.5-1.5-2-0.5 0-2 1-4-0.5-1-2-3-0.5-1 1-6 1-0.5 2 3 1 0.5 1.5-2 0.5-4 2-2.5 1 0.5 2 1.5 3 0.5 2.5 5-1 4-3 3-0.5 1 0.5 3 2.5 4 3 3 2 1 4-1.5 3-3 1 0 1 1.5 2 4 1 1 1 0 1-1 0.5-1 0.5-7 2-7 0.5-5 3.5-5.5 1-0.5 6 2 3-1 1 0 1 1 1 6 0 11 3-4 1-3 1-1.5 1 1 2-0.5 1 1.5 1 0.5 2-0.5 1 0.5 3-9 5-5.5 1-0.5 1 1 1.5 2 1.5 4 2-1 3 2 1-0.5 1-1.5 0.5-3 0.5-1 1 0 3 5 1 0.5 2-1.5 3-0.5 2-1 2 1.5 1-0.5 1-1.5 2-4 3.5 6 1.5 3.5 1 1 2-7 2-2 2 2 2 3.5-1 5 2 11-0.5 5 1.5 2 1 0.5 1-0.5 0.5-2 0.5-11-0.5-8 0.5-3 1-2 3 0 4-1.5 1 0.5 1 5-0.5 6 1.5 3.5 1-0.5 1-3 1.5-9 1.5-1 2 0.5 1 1.5 1 3-0.5 4-1.5 0.5-0.5 0.5 0 2 0.5 0.5 2 0 2 3.5 0 3 3 4 1 0 1-2 1-1 2 0 1-1 1-2.5 2 3 1 0.5 1-0.5 2-4.5 1-5 0.5-7 1.5-4 2-2.5 2 0 1-0.5 1-2 1.5-1 2.5-3 3-5.5 1 0 1 0.5 1.5 5 1.5 19 0 0.5 1 0.5 1.5-5 0.5-9 2 0.5 1-0.5 1-2-1-2.5-1 0-1 0-0.5-0.5-0.5-2 2-10.5 1 1 1 2.5-1.5 4 0.5 1 1 1 1 0 2-1 1 0 2 3 2-2 1 1 0.5 6 1.5 3.5 1-0.5 3-6 0.5-7 0.5-1 1 1-0.5 6 1 3-2 3-0.5 2 1 2.5 2.5 3.5 0 2 1 4 0.5 3 1 1 1.5-6 0.5-6 1-3 1 0 0.5 1 1.5 1 1-2-1-2.5-1-1.5 1.5-8 0.5-4.5 1-2 1 4.5 0 9-1 2 0.5 2 2.5 3 1-1.5 1-3 1-0.5 2 6 2-3 2-2.5 1-0.5 1 0.5 1 1.5 1 0 2-3 1-0.5 3-0.5 1-1 0-5 1-3-0.5-3 0.5-6zM368 501.5l-2 5 3 4 1 0 1-3-0.5-3-2.5-3.5zM500 506.5l-1 1 0 1 1 0.5 1-0.5 0.5-1zM400.5 507.5l-1 1 0 1 1.5 1 1-1 0-1-1-1zM450 507.5l-1 1 0 1 1 1.5 1 0 1-1.5 0-1-1-1zM396 514.5l-0.5 2 0.5 2 1 1.5 1-0.5 1.5-2-0.5-2-2-2zM369.5 518.5l-1.5 1.5-0.5 1.5 0 2 1.5 3 1 0 1-1.5 1-2.5-0.5-3-1.5-1zM486.5 520.5l-1 1 0 1 0.5 1 1 0.5 1-1.5 0-1-1-1zM252.5 524.5l-1 2 1.5 1.5 1 0.5 1-2 0-2-1-1zM195.5 527.5l-1.5 1 0 2 1 2 1 0 1.5-1 0-2-0.5-1.5zM437 527.5l-1 2 1 3 0 3 1.5 8 0.5 7 1 1 1 0.5 3-1 3 0 1-2.5-0.5-2-0.5-1-3-1-1-1-1-2-0.5-7-2-6-0.5-1-1-0.5zM164.5 528.5l-1.5 1-0.5 1 0.5 2 1 1 1.5-1 0.5-1-0.5-3-0.5-0.5zM366.5 528.5l-0.5 1 1 1.5 1.5-0.5 0.5-2-1-1-1 0zM400 528.5l-1 2 1 1 1 0.5 1-1.5 0-1-1-1.5zM73.5 529.5l0 2 0.5 1 1 0 0.5-1 0-2-1.5-0.5zM288 529.5l-1 2 0 3 1 4 1 0 2.5-4-0.5-1-2-2zM325 529.5l-2 5 0 2 1 1.5 1 0 1-1.5 0-3 1-0.5 1-1.5 0-1-1-1.5-1 0zM170.5 531.5l-2.5 0-1 1 0 2 1 0.5 2-0.5 1 0.5 2-0.5 0-1 1 4 1 1 1 0 0.5-1 0.5-2-1-3-1 0-1 1-1-0.5-0.5-1.5zM298 531.5l-1 2 0.5 2 1.5 1.5 1 0.5 1 0 1-2-0.5-2-1.5-2.5-1 0zM138.5 532.5l0 2 0.5 1 1 0 1.5-2-1.5-1.5-1 0zM143 532.5l-0.5 2 0.5 2 0 0.5 1 1 0-6zM260 534.5l-0.5 3 0.5 1.5 1 0 1-1 0.5-1.5-1.5-2.5zM445 535.5l-1.5 2 1.5 2 1 0 1-1-0.5-2-0.5-1zM233.5 536.5l-1 1 0 2 0.5 2 1 0.5 1 0.5 1-1 0.5-1 0-2-1.5-2-1-0.5zM268.5 536.5l0 2 0.5 1 1 0 1.5-1 0-2-0.5-0.5-1-0.5zM126 537.5l-0.5 1 0.5 1 1 0.5 1-0.5-0.5-2-0.5-0.5zM360 537.5l-0.5 1 0.5 1 2 0.5 4 0 1.5-0.5 0.5-1-1-1-2-0.5-4 0zM387 538.5l0 1 1 1.5 3 0 1.5-0.5-0.5-1-2-0.5-2-1zM175 539.5l-1 0.5-0.5 1.5 0.5 1.5 1 0.5 1.5-1 0.5-1-1-2.5-1 0zM292.5 540.5l0 2 0.5 1 1 0 1.5-2-0.5-1-1-1-1 0zM297 540.5l-1 1 0.5 1 1.5 1.5 1-0.5 0.5-1-0.5-2-1-0.5zM199.5 541.5l-1.5 6 0 1.5 1 0.5 2-1 2 1.5 2 0 2.5-2.5 0-2-1.5-1.5-4 1-1-0.5-1-3.5zM116.5 542.5l-0.5 1.5-1 5.5 0.5 2 1.5 1.5 1-1 0.5-1.5-1.5-4 0.5-4-0.5-1zM345 543.5l0 1 2 0.5 2.5-0.5 0.5-1-2-1zM378 544.5l1 0.5 1-0.5zM75 546.5l-3 1-1.5 2 0 3 1.5 1.5 1.5-0.5 3-4 0-2-0.5-0.5zM483.5 547.5l-0.5 1 1 1 1 0 4 0 1.5-1-4.5-1.5zM526 549.5l-0.5 2 1 2 1.5 1 1-0.5 0.5-1.5-0.5-2.5-2-1.5zM496 552.5l2 0.5 1.5-0.5-2.5-1zM79.5 553.5l-1 1-1.5 5 0.5 4 0.5 1 1 0.5 2-1 2.5-2.5-1.5-7-1-1.5zM537 553.5l-0.5 1-0.5 3-0.5 2 0 1 1.5 1 1 0 0.5-1 0-3 0.5-2-1-2zM446.5 555.5l0.5 0.5 1.5-0.5-1.5-0.5zM45 557.5l0 1 1 0.5 0.5-0.5 0.5-1-1-1zM433 557.5l-0.5 1 0 1 1.5 1 3 0.5 2-0.5-0.5-2-1.5-1.5-2-0.5zM91.5 558.5l-1.5 2-1 0.5-2 0-1.5 0.5-0.5 1 1 2 1 4 3 3.5 1 0.5 1.5-1 2.5-4 1 0 0.5 1 1.5 2 1 0 1-0.5 0.5-2.5-0.5-1.5-1-0.5-1 0-2 0.5-1-2 0-3.5-1-2-1-1zM70 559.5l-1.5 1-0.5 2 0.5 1 1.5 1.5 2 0 1-1.5 0-3-1-1zM62 560.5l-0.5 1 0 1 1.5 0.5 1-1.5-0.5-1-0.5-0.5zM415.5 564.5l-0.5 1 1 1 2 0.5 4-0.5 2.5-1-0.5-1.5-2-0.5-4 0.5zM190.5 568.5l0 1 1 1 0 1 0.5 0.5 2 0 1.5-0.5 0-1 0.5-1 0-1-3-1zM72 569.5l0 1 1 1.5 1-0.5 0-2-1-1zM532.5 575.5l-3.5 5-0.5 2 1 3 2.5 1 4-2 1.5-2 0-1 0-2-2.5-3-1-1zM284 576.5l1.5 0-0.5-0.5zM80 577.5l-0.5 1 0.5 2 1 0.5 1 0 1-1.5-0.5-2-0.5-0.5-1-0.5zM90.5 577.5l-1 1-0.5 2 0.5 1 1.5 1 1.5-1 0.5-2-1-2zM95.5 577.5l-0.5 1 0.5 2 1.5 1 1-1 0.5-2-1.5-1.5zM211 579.5l0 1 1 0.5 2-0.5 0-1-1-0.5zM374 593.5l-1 1 1 0.5 1 0.5 2-1-1-1zM426 593.5l7 0zM279.5 595.5l-0.5 2 0.5 1 1.5 1 2-1 0.5-1-1-2-0.5-0.5-1-0.5zM485.5 595.5l1.5 0.5 1.5-0.5-1.5-0.5zM316 601.5l-2 2-0.5 2 0.5 2 2 1 3-1.5 1-2.5-0.5-2-1.5-1.5-1 0zM84.5 604.5l-0.5 1 1 0.5 2 0 2-0.5 0-1-1 0zM58.5 616.5l0.5 0.5 2-0.5zM55.5 617.5l0.5 0.5 2-0.5-1-0.5zM339.5 619.5l1.5 0-1-0.5zM465 492.5l2 0 0 3 0.5 5-1.5 1.5-1-0.5 0.5-5zM46 496.5l1 0.5 0 4.5-1 0zM537 503.5l1 6 0 1-1 1-1-5 0-1.5zM511 504.5l1 0 1 1-3 2.5-1-0.5 0.5-1zM529 505l1 1 0.5 1.5-0.5 5.5-1-0.5-1-3 0-3zM235 511l1 0.5 0 1-2 3.5-0.5-0.5 0.5-3zM125 521l2 1 1 2 1 5.5-0.5 1-1.5 1-1 0-1-1.5-1 0-1 0 0-0.5 0-5 1-2.5zM213 524l1 0 2 1 3 0 1 1 0 6.5-1 2.5-1 0-6-5.5-0.5-1 0-2zM61 533.5l-0.5 0z" fill="#0000f4" stroke="#000" stroke-opacity="0.7" stroke-width="0.55" fill-rule="evenodd"/>
<path d="M399 492.5l4 0-0.5 4-1 5 0 3-0.5 0.5-1 0.5-1 0-0.5-1 0-11 0-1zM481 493.5l1-0.5 1 2.5-0.5 19 2 9 3.5 3 0.5 12 1 2 0.5 0.5 6-1 1-0.5 0.5-1-0.5-1-2.5-2-0.5-2 1-7 2-5 1-9 1-2.5 0.5 0.5 1.5 1 2 5 1-1 1 0.5 2 7.5 1 1 1.5-3 0.5-3.5 1 0 1 2 1.5 4.5-0.5 6 1 10 1 3.5 2-2 1 0.5 1 3-0.5 2-0.5 1-3 0.5-2.5 3.5 2.5 2 0 2 3 1 4-1.5 1.5 1.5 0 4 1 1 1.5 0.5 3 0 4-1 4 1 1-0.5 2-1.5 0 13.5-7-1-2 0.5-3.5 2.5-3.5 3.5-7 3.5-12 5-1.5 2 0.5 1 1 0.5 2 0.5 2-1 1-2.5 1-0.5 2 0 7 1 5 0 7 2.5 8-1 0 33.5-501 0 0-28 8 0 7-1.5 7 0.5 10-4.5 8 0 3 1.5 3 0 2-1 2-2 0.5-1 0-2 0.5-0.5 10-4 3-0.5 1-1-3-2-0.5-3 0.5-2 3.5-5-0.5-3 0.5-2-3.5-1-2-2-0.5-3 1.5-3.5 2-1 4-0.5 2 0.5 4-1.5 6.5 4 3.5 0.5 0.5-0.5-0.5-1.5-2-0.5 0-8.5 0.5 0.5-0.5 5 2 2.5 6 1 5-1 1-4.5 0.5-15 0.5-2.5 1-0.5 1 2 1 9 0 9 1 1.5 3-2 3 1 1-0.5 2-2-1.5-2-0.5-2 0.5-14 0.5-1.5 1 0 1.5 1.5 0.5 4 2-3 1 0 3 3 1 0.5 3-2.5 1 0 3 2.5 6.5 2.5 0.5 1 1.5 4 3.5 4 2.5 5 0.5 0.5 1 0 2-2.5 1 0.5 2 2.5 1 2-0.5 1-2 2-0.5 1 1 1 3 1 4-0.5 0 1.5 1 1 3 0.5 1-0.5 0.5-1-2-2 1-1 6.5-4 4-0.5 4-2.5 2 0 2 1 3-1 3.5 0 0.5 0 2 3 1 0.5 1 0 0.5-0.5 0.5-4 2-6 1-1 1-0.5 4 3 1-0.5 3-2 1 0 2 8.5 1 1.5 1-0.5 0.5-2.5 0-3-2-15 0-2-1-2 1.5-11 1-2 1 0.5 1 2.5 1 8 0 8 3 9.5 1 1 1.5-6.5 0.5-5 1-1 2 0 2-1 1 1 0 5 2 6 1 1 1-1 1-3 1-1 1 0 6 4 0.5 1 0.5 3 2 1.5 2 0.5 2-1.5 3.5-0.5 0.5-1 0-2 0.5-5-0.5-10 0.5-2 1.5-1.5 1.5 1.5 0 11 1.5 8-1 3 2 1 1 0 1-1-0.5-3 1.5-2.5 2 1 3 0.5 2.5 1 1.5 2 1 4-1 2-3 2 0 1 6 3.5 5 0 5 1 4-0.5 3-2.5 4 1 2 0 1-0.5 1-2 2-0.5 1.5-1.5-1.5-1-3-0.5-3 2-4 1.5-5-3.5-1 0-5 2-2 0-1-0.5-1-2-0.5-2 1.5-4.5 3-3.5 1-2 2-11 1 0 0.5 1 1.5 9.5 1 1.5 2 1 1 1.5 2 6 1 1 4 0 2-2.5 0.5-2 0.5-3-1-6 0-2 1-2 2.5-2 0.5-1-1-2 2-4.5 4-3.5 1 0 2 1.5 1-1 2-2.5 1 0 1-3 1.5-9 1.5 0.5 0.5 1.5 1.5 2 1 0 2-2 1-5.5 1-1.5 1-1 1 2 1 8 0 7-0.5 10 0.5 6-1 2.5-4 1.5 1 0.5 3 1 2 2 1 0.5 3-1 5-1 4 0.5 3 0.5 1.5 1-1.5 2 1 1.5 4 1 5-0.5 3 2.5 1 0 2-1.5 2.5-5 3.5-3.5 2 0 5 0.5 1 0 1-1 1-2 0.5-3 2-2 0-1-1-11 0-2 0.5-2 1-0.5 1 0 2 2.5 2 1 2-2.5 1 0.5 0 4 0.5 5-0.5 2 1 3 0.5 9 0.5 2 3.5 3 2.5 6.5 1-2 1.5-4.5 1.5-1 1 0 1 0.5 0.5 9.5-3 4 0 2 2.5 3 0.5 1-1 2 1.5 2 3 2.5 0 2.5 1 0.5 2 0.5 1.5-1 0-1-3-2 4.5-2 1.5-1-0.5-1-1-1-4-1 4-3 3-0.5 1.5-0.5 3-3 0.5-1-1-2 0-1 3-3 2.5 0-2.5-0.5-1.5-4.5 0-2 1.5-1 2 0.5 4-2.5-4-3-2 2-3 0-2-4-1-1-2-1-1-2 0-4 2-2.5 3-8.5 1 0 2 11.5 1 3 1 1.5 1.5-12-2.5-6 1-4-1-4 0-1 1-1 1 1 1 2.5 0.5 6.5 1 5 1.5 4.5 1 0 1.5-6.5 1.5-2.5 4-2 1 0.5 0.5 1 0.5 2 0 6 1 7-0.5 2-2.5 2 1.5 2 0.5 4 1 0.5 0.5-6.5-0.5-4 3-5 3-14.5 1-2 1 1 1.5 4.5 1 4 0 15-1 2 0 1 1 2 0 3 1.5 1 1.5-6 0.5-6-2-6 0.5-7-1-8 0-9 0-3zM344 530.5l0 1 1 0.5 2-0.5 0-1-1-0.5-1 0zM463 532.5l1 0.5 2-0.5-2-0.5zM507 532.5l-4 2 3 1 1 1.5 1 0 0.5-2.5-0.5-2zM474 537.5l-1 1-1 2 0.5 1 1.5 0.5 2.5-0.5 1-1 0-2-2-1zM345.5 541.5l-3.5 1-4 0-1.5 1 0.5 1 3.5 1 1.5 1.5 3 0.5 6-2.5 1-0.5 0-1-1-1-3-1.5zM462.5 542.5l-0.5 1 1 0.5 2 0 1-0.5 0-1-1-0.5-2 0zM481.5 546.5l-1 2 1.5 2.5 1 0.5 4 0 6 2.5 5 1 3-1 6 0 2.5-0.5 1-1-2.5-0.5-6-0.5-4-1.5-4-0.5-3-2.5-2-1-6 0zM249.5 547.5l-0.5 1 1 1.5 4-0.5 0-0.5-3.5-1.5-0.5-1zM345 549.5l0 1 1 1-0.5 1 0.5 1.5 2 0.5 2-1 0-1-1-1-0.5-2-0.5-0.5-2 0zM457.5 549.5l0.5 1 5 0.5 3.5-0.5 0-1-3.5-0.5zM407 550.5l0.5 1 2.5 0.5 2 0 2-0.5 0-1-2-0.5zM278.5 553.5l0.5 1 1 0 1-1-1-0.5zM416.5 553.5l-2 1-0.5 3 1 1 2 0 1-0.5 1-2.5 0-1-1-1zM365 554.5l0 1 3 0.5 3 0 2-0.5-0.5-1-2.5-0.5zM140.5 555.5l-1 1 1.5 1 2 0 2-1 0-1-1-0.5zM172.5 555.5l-1.5 0.5-3 0.5-1.5 1-0.5 1-3 1-1 0.5-0.5 1.5 1 2-2 2 0 1 2.5 1 2 0 6-3 1-2-1.5-3 1.5-2 2-1 0-1zM287.5 555.5l0 1 0.5 0 2 0 0-1-1-0.5zM346.5 555.5l-2.5 1 0 1 3 1 4.5-1 0-1-3-1-0.5-1zM490 556.5l0.5 1 1.5 0 1.5-1-1.5-1zM263.5 557.5l0 1 3 0-0.5-1zM480 557.5l-1.5 1 2.5 2-1.5 1 0 1 2.5 0.5 3.5-0.5 0-1-3-1-0.5-1 0.5-1-0.5-1zM245.5 559.5l1.5 0.5 1-0.5-1-0.5zM339.5 560.5l0.5 1 1 0 1.5 0 0.5-1-2-0.5zM378 560.5l-4 1-0.5 1 2.5 1 4-1 4-0.5 2-0.5-0.5-1-1.5-0.5zM421.5 560.5l-3 2-4.5 1.5-1 1.5 0.5 1 1.5 0.5 4 0.5 5-0.5 3.5-1.5 0.5-1-0.5-1 0-2-1-1-2.5-0.5zM185.5 561.5l-0.5 1 1 0.5 1 0 2-0.5 0-1-1-1-2 0.5zM266 561.5l-0.5 1 2 0-0.5-1zM259.5 562.5l-0.5 1 1 0.5 1.5-0.5-0.5-1zM297 563.5l-0.5 1 0.5 0 2 0.5 1.5-0.5-0.5-1-1-0.5zM118 564.5l-0.5 1 0.5 0.5 2 0 1-0.5-1-1zM135 564.5l1 1 1 0 1-1-1-0.5zM147.5 564.5l-1 1 1.5 1 2 0 2-1-2-1.5zM215.5 565.5l0 1 1.5 0.5 2.5-0.5 0-1-1.5-0.5zM193.5 566.5l-2.5 0.5-2.5 1.5-1 3 0.5 1 3 1 3 0 3 0 3-1 0.5-1-0.5-1-1.5-3-2.5-1zM237 566.5l-1.5 1 1.5 1 3 0 1-1-1-1zM470 566.5l0 1 3 0.5 4-0.5 0-1-4-0.5zM350.5 567.5l2 0-0.5-0.5-1 0zM285.5 568.5l0.5 0.5 0.5-0.5zM374 568.5l1 0.5 1.5-0.5-1.5-0.5zM510.5 568.5l-0.5 1 2 0.5 5-0.5 0-1-2-0.5zM521 568.5l-0.5 1 2.5 1 2 0 2-1-0.5-1-1.5-1-2 0zM361.5 569.5l0 1 1 0 0-1zM152.5 570.5l-2 1 1.5 1 2 0 1-1-1-1zM223.5 571.5l1.5 0.5 1.5-0.5-1.5-0.5zM331.5 572.5l-1 1 1.5 1 2 0 0.5-1-0.5-1zM480 572.5l0 1 2 0.5 5.5-0.5 0-1-2.5-0.5-3 0zM138 573.5l-1 1 0 1 1.5 1 0 2 2.5 1 3-1-1-4-1-1-2-0.5zM284.5 574.5l-2 1-0.5 1 1 1 2 0.5 7-2.5 0.5-1-3.5-1zM517 574.5l-4 2-5-0.5-5 1-2 1.5-2 0.5-1.5 1.5 1.5 1 1 0 3-1 7-0.5 5 1 3 0 2-1.5 1-4-2-1zM340 575.5l-2 1-6 0-3-0.5-3-0.5-3 1.5-1 1.5 1 1 2 0.5 6-1 4 1 10 0 1.5-0.5 1-1-0.5-1-1.5-2-2.5-1zM495 575.5l0 1 2 1 2 0 1-1-0.5-1-1.5-0.5-2 0zM431 576.5l0 1 2 0 1.5 0 0.5-1-2-0.5zM106 578.5l-0.5 1 1.5 1 2 0 1.5-1 0-1-1.5-0.5-2 0zM207.5 578.5l-0.5 1 0.5 1 0 1-1 1 0.5 1 1 0.5 2 0 1.5-1.5 3-1 2.5-2-1-1-3-0.5-3 0zM232 578.5l1 0.5 1.5-0.5-1.5-0.5zM373.5 578.5l1.5 0.5 1-0.5-1-0.5zM129 579.5l-0.5 1 1.5 1 2 0 1-1-1-1-1-0.5zM315 579.5l1 0.5 2-0.5-1-0.5-1 0zM368.5 579.5l-1 1 1.5 0.5 1-0.5-0.5-1zM443.5 581.5l-0.5 1 1 0.5 2 0 2-0.5 0-1-1 0zM134.5 582.5l0 1 0.5 0.5 2 0 1-0.5 0-1-1-0.5zM264 582.5l-2 1 0 1 1 1 2 0 2.5-1 0-1-0.5-0.5-1-0.5zM112 583.5l1 0.5 1.5-0.5-1.5-0.5zM313.5 583.5l1.5 0zM380.5 583.5l2 0-0.5-1-1 0zM173 584.5l-1 1 0 1 1.5 1 2.5 0.5 8-1 1-0.5 0.5-1-7.5-1.5-3 0zM225.5 585.5l0 1 3.5 1 6-1 1-1-3-1-3 0zM302.5 586.5l1.5 0.5 1.5-0.5-1.5-1zM363.5 586.5l-1 1 1.5 1.5 3-0.5 1-1-2-1zM200.5 587.5l-1 1 1.5 1 2.5-1-1.5-1zM216.5 587.5l0.5 1 2 0.5 2-0.5 0.5-1-2.5-1zM372 587.5l-1 1 0 1 3 1.5 1 0 2-1 1-1.5-0.5-1-1.5-0.5-2 0zM433.5 587.5l0.5 1 1 0.5 1-0.5 0.5-1-1.5-0.5zM476 587.5l-0.5 1 1.5 1.5 2 0 1-0.5 1-1-1-1-1-0.5zM354.5 589.5l1.5 1 1 0 1.5-1-1.5-1zM295 591.5l-1 1 0 1-1 0.5-7 0.5-5-1-8 1.5-4 2-5 0.5-1 1 0.5 1 4.5 1 1 0.5 3 5.5 2 1.5 9 1.5 12 0.5 9 2.5 3 0 5-1 4 0 3-1 3-3 0.5-2-0.5-4 1-1 4-0.5 1.5-1.5 0-1-1.5-1-6-0.5-4-3-3 0-6 1-5 0-2.5-0.5-2.5-2zM430.5 591.5l-6.5 1-2.5 1 0.5 1 2 0.5 10 0 3-1 0-1.5-3-1zM373 592.5l-1.5 1 0 1 1.5 1 3 0.5 2-1.5 0-1-2-1.5-2 0zM484 593.5l-4 0.5-6.5 1.5 0.5 1 6 1 3 0 4 0 2-1 1-1-0.5-1-1.5-1zM334.5 595.5l-0.5 1 1 1 1 0 1.5-1-1-1zM91.5 597.5l-0.5 1 1 0.5 2.5-0.5-0.5-1-1-0.5zM62 598.5l-1 1.5-3 1.5-0.5 1 2.5 2.5 3 1 2-1.5 0-1-1-2 2.5-2 0-1-1.5-0.5zM41 601.5l-0.5 1 1.5 1 2 0 1-1-1-1zM85 603.5l-3 1-0.5 1 3.5 1.5 2 0 5.5-1.5 0-1-4.5-1zM361 603.5l0 1 4 0.5 3.5-0.5 0-1-3.5-0.5zM432 603.5l-1 1-3.5 2 0.5 1 5 2 3 0 18-1-0.5-1-1.5 0-14-1-2.5-1 0-1-1-1zM49 604.5l-1.5 1 0.5 1 2 1 2.5-1 0.5-1-1-1zM327 605.5l-1 1 1 1 1 0.5 3-0.5 2-1-3-1.5zM334 606.5l0.5 1 2 1 4.5 0.5 2.5 1.5 1.5 2 1 0.5 2.5-0.5 0.5-1-1-1 1.5-2-1-1-1.5-0.5-8-1.5-3 0zM353.5 606.5l-2.5 1-0.5 1 1.5 1 3 0.5 1.5-0.5 1-1-0.5-1.5-1-0.5zM61.5 608.5l-3.5 1.5-2 1.5-5-1-2.5 1-0.5 1 0.5 1 3 2-3 4-0.5 1 0.5 1 2.5 1 2 0 4-2 8.5-2 1-2-1-3 0.5-3-1-1.5-1-1-1 0zM296 613.5l0 1 1 0 0.5 0 0.5-1-1-0.5zM432.5 613.5l-0.5 1 1 0.5 2 0 1-0.5-1-1.5-1 0zM453 614.5l-6.5 1-2 1 3.5 3 3 1.5 3-1 2-1.5 7-1 2.5-1-0.5-1-3-0.5zM81.5 615.5l-1 1 0 2 2.5 2.5 1 0 2-0.5 2-1.5 0.5-1.5 0-1-2.5-1.5-2 0zM107.5 616.5l0.5 1 4 0.5 4-0.5 0-1zM311.5 618.5l-1 1 2.5 1 8-1-0.5-1-1.5 0-5-0.5zM337.5 618.5l0 1 2.5 1 2 0 1-1-1-1-2-1zM68.5 619.5l-1.5 1 0.5 1 1.5 0.5 2 0.5 2.5-1 0-1-1.5-1zM305 621.5l-1 1 1 1 1 0 1.5-1-1-1zM499 494.5l1 1 0 7 0 2-1 0.5zM343 497l1 0 0.5 2.5 0 6-0.5 1-1 1-0.5-2 0-6zM381 499l1 3.5 1 11-1 5 1 3 1.5 1 1 3 0.5 4-1 2 1.5 2 0 1-0.5 1-3 2-1.5 2 1.5 2-3 0.5-0.5-0.5-1-2-1.5-1.5-5 1-2-2.5-4 0-2.5-1-0.5-2 1-2.5 1 0 2 1.5 3 2 1-1.5 2-5.5 1 0.5 0.5 1.5 1 4 0.5 1 1-0.5 1-0.5 0.5-1-1-1-0.5-2 1.5-10 1-17 0.5-3zM304 525.5l1 0.5 0 1.5-1 4-1-1.5 0-1.5 0-1.5zM391 525l1 2.5-1 2-1-3zM263 528l0.5 1.5-0.5 1zM238 529.5l1 2-1 1-0.5-2zM396 530.5l2 1.5 1.5 2.5-0.5 1-3 1-1.5-1-0.5-2 1-3zM40 534l3 0 2 1.5 0.5 1 0.5 4-1 2.5-1 1-3-1-2 0.5 0-10zM531 536l3 1.5 0.5 2-0.5 6 0.5 9-0.5 3-1 1-1 0.5-1-0.5-1-2 0.5-5-0.5-13 0.5-2zM191 541.5l1-0.5 1.5 1.5-0.5 3-1 3-1.5-4zM191 553.5zM41 556l1 0 1 0.5 1.5 3 1.5 0.5 1-0.5 2-2.5 2 0.5 2-1 1 0.5 1 1.5 2 0 2 1 2 4 1 1 1 0.5 3-0.5 1 1 3 3 0 3 2 2 1 0.5 1 0 2-2.5 1 0 1 0.5 1 0.5 0 1-3 7.5-1 0.5-8-1-7 1-12-2.5-9 0 0-22zM68.5 575.5l-2 1 1.5 1 2 0 1-1-1-1z" fill="#ffff00" stroke="#000" stroke-opacity="0.7" stroke-width="0.55" fill-rule="evenodd"/>
<path d="M399 492.5l3 0-0.5 4-1.5 6-1-6zM481 494.5l1-0.5 0.5 1.5-0.5 12.5-1-3.5zM343 498.5l1-0.5 0 1.5 0 2.5-1 1.5zM381 500l0.5 2.5 1 11-1 5 3.5 8.5 0 2.5-1.5 2 1.5 2 0 1-1 1-3 2-2 0-1-2 1.5-3-1.5-2 0-1 1-10 0.5-17 0.5-1.5zM355 507l1 1 1.5 7.5-0.5 10-1 3 1 4 0 3-1 1-5 1-1 1 0 1-3-3-2 3-5 2-3 0.5-1 1-0.5 0.5 0.5 1 1 1 3 0.5 2 1.5 3 1-1 1 0 1 1 1 0 3-2.5 2-0.5 1 1 1-3 1-1.5 1 0.5 1 1 0.5 2 0 1.5-0.5 0.5-1-0.5-1 0.5-0.5 6 0 4.5-1.5 0.5-1-4-2 0-2-1-1-0.5-2-1.5-2 5-3 0.5-1-1.5-2 1-1 3 0.5 1 0.5 2 2.5 1 0 5-2.5 3-0.5 4 0.5 2.5 1-0.5 2 0.5 1 1.5 1 4 1 4 0 4 3 1 0 2-0.5 2-2.5 1.5-4 1.5-2 2-1 3 1 3 0 1 0 1-1 1.5-3 1-3 2.5-3-0.5-9 0.5-4 1.5 1 2 5 0.5 1-0.5 2 0.5 1 2 0.5 1 1 0.5 3.5-0.5 10 1 3 1.5 2-0.5 1.5-1-1-3 1-5-0.5-5 1 0 1 1 0.5 7 1.5-1 4 1 1 2 0.5 4-0.5 0 1-1.5 2-5.5 2.5-1 1.5 0.5 1 1.5 0.5 4 1 4 0 7-1.5 2 1.5 4 5 2 1 2 0 2.5-1.5 0-3 2.5-2 0.5-1-0.5-1.5-3-1.5 0-1 1-1 4-1 1.5-1 3-4 0-2 0.5-1 1-0.5 4-1 8 0.5 4.5-1 0.5-1-4-1-9-0.5-1.5-2.5 0.5-2 1-1.5 3.5-1.5 1-1-0.5-1-1-0.5-2-0.5-0.5-1-1.5-9 0.5-3 0.5-0.5 2 2.5 1-0.5 3-9.5 1-1 2 0 1 1 1.5 8 0 4-0.5 2-1 1-3 0-2 1 0.5 1 2.5 1 0.5 1-1.5 2-0.5 1 0 2-1.5 2 0.5 1 0.5 0.5 3 0.5 6-3 3 1 5-0.5 1.5 1.5 0.5 1-1.5 4 1 2 2.5 2.5 4 0 2.5 1.5-1 2 0.5 1 1 0.5 3 0 3-2.5 5-1 10 0 2 0.5 2 2 5 1.5 1.5 4 2.5 1.5 5 0.5 4-1 5 0 2-1 0 11-8-1-7 1.5-8 0-4 1.5-10 0.5-10-4-11-1-3 1-0.5 0.5 0 1 3.5 1 8 0.5 2 1.5 4 5 3 1.5 3.5 0.5-4 3-0.5 1 0 1 6 4 3 0.5 5-1.5 5-0.5 8 0 7 2 8-0.5 0 32-231.5 0 1.5-2 1-1 5 0 8.5-2 0-1-1.5-0.5-9-1-8 1-3 3.5-0.5 1 1 2-217 0 2-3 3.5-4 0-1-4-2.5-4-1-3 0.5-2 1-1.5 1-0.5 2 0.5 2 3 3 1 2-42.5 0 0-3.5 5 0.5 5 2 3 0 9-1 10 0.5 3.5-1.5 0.5-1-0.5-1-3-2-1.5-4-3-12 1.5-2 0-1-1.5-2 0.5-1 1.5-0.5 4.5-1.5 5.5-1 6 0.5 9-2.5 2-1.5 2-3.5 2-2 6-2 3-0.5 2-0.5 1-1 0-1-2-1.5-3.5-1.5 0.5-1 3-4 0.5-2-0.5-1-3-4-5.5-3-0.5-1 0-2 1-1.5 1-0.5 5-0.5 4-1.5 2 0.5 3 2 2 1 3 0 4-1 7 1 1-1 0.5-5.5 0.5-17 1-1.5 0.5 1.5 0.5 5 0 18 0.5 1 1.5 1 3 0.5 3-0.5 2-2 0.5-3 0.5-1 4-1.5 3 0.5 2-1 1-1.5 1-4.5 0.5-4 0-4 0.5-1.5 1-0.5 1.5 1 1.5 2-2 2 1 1 2 0.5 1-0.5 1-2 1 0 3 5 3.5 3 1 3-0.5 4-9 3-5.5 3-2 3-0.5 3 0.5 1 1.5 1.5 3 1 6 0 4-1.5 1-1 1-2 0.5-5 1-1 1.5-0.5 2 0 3 2.5 1 2 1.5 1 1.5 0.5 4-0.5 3 0.5 3-1 5-5.5 4-1 4-3 2 0 2 0.5 4-0.5 2 0.5 3 2 2 0 1.5-0.5 0.5-1 1-6 1-2 1-0.5 1 0 3 2.5 1 0 2-1.5 1 0 1 2 2 7.5 1 2 0 1-1 1.5-6.5 4.5-1 1 0 1 0.5 1 3 1 3 0.5 3-0.5 2.5-2 2-5 2-2 0.5-1-1-1.5-3.5-1.5 0-1 0.5-2 1 0 2 1 1-0.5 2-3 4-1.5 0-1-3-1-1-1 0-2 0-3 1-2 2-1 0-1-1-1 0.5-1 1.5-0.5 1 0 0.5 3.5 0.5 1 2 7 1 0.5 2-2.5 3-1.5 2 0.5 1.5 1 1 3 3.5 5 2.5 2 3.5 1 2-1 0.5-1-1.5-2-2.5 0 1.5-1 1 0.5 3-1 4 2.5 3-2 2-3 2 0.5 2 1 1 1.5 0.5 2-0.5 1-4 3 0.5 1 2.5 3 0 1-1.5 2 0 1 1 1 7.5 1 4-0.5 8-0.5 3-0.5 3-2 4-1 5.5-5.5 0.5-1-2.5-3 1.5-8-1-6 0-2 0.5-2 2.5-2 0.5-1-1-3 2-3 2.5-2 1 0 2 2 2-1 1 0 1 3 0 1-1.5 2 0 1 1.5 1.5 2 0.5 1 0 2-2 0-1-3-3 0-2-0.5-7 1.5-7.5 1 0 2 2 1-0.5 2-2zM351 528.5l-0.5 1 0.5 0.5 3-0.5 0-1zM458.5 532.5l0.5 1.5 0.5-1.5-0.5-1zM287.5 554.5l-1 1 0.5 1.5 3 0.5 2.5-1-0.5-1-1-0.5-3-1zM363.5 554.5l0 1 5.5 1 3 0 2.5-1-0.5-1-3-1-4 0zM260 557.5l0 1 4 1 4 0 3-1-0.5-1-3.5-0.5-4 0zM478.5 557.5l-0.5 1 0.5 2-0.5 1 0 1 1 0.5 4 1 4.5-1.5 0.5-1-4-2 0-1-1-1.5-2 0zM221.5 559.5l0 1 0.5 0.5 2 0 1-0.5 0-1-1-0.5-2 0zM275.5 560.5l1.5 1 2 0 2.5 0 0.5-1-4-0.5zM374.5 560.5l-1.5 1 0 1 1 1 2 0.5 9-1.5 2-1-0.5-1-3.5-1zM264.5 561.5l-1 1 2.5 0.5 2.5-0.5 0-1-1.5-1zM258 562.5l-0.5 1 2.5 1 2.5-1 0.5-1-3-0.5zM133.5 563.5l-0.5 1 0.5 1 2.5 1 3-0.5 1.5-0.5 0.5-1-3-1.5-2 0zM146 563.5l-2 1-0.5 1 0.5 1 1 1 3.5 2-2.5 2-6 0.5-4 1.5-0.5 1 0 1 1 3 1.5 1.5 3 0.5 3-0.5 2.5-2.5 1.5-3.5 7-1 1.5-1.5-1.5-1.5-5-1.5 3.5-2 0.5-1-0.5-1-3.5-1.5zM284 563.5l0 1 1 0.5 2-0.5-0.5-1-0.5-0.5zM116.5 564.5l-0.5 1 0 0.5 2 1 3 0 2-1.5-1-1.5-2-0.5-2 0zM215.5 564.5l-1.5 1-0.5 1 1.5 1 3 0.5 2.5-1.5 0-1-1.5-1zM323.5 564.5l-1 1 0 2 1.5 2.5 1 0 1-1 0.5-2.5-0.5-1.5-1-1zM472 565.5l-3 1-0.5 1 1.5 0.5 4 0.5 5-1 0-1-2-0.5zM190.5 566.5l-1.5 0.5-1.5 1.5-1.5 3 0.5 1 1.5 1 4 1 6-0.5 4-0.5 1.5-1 0-1-1-2-3.5-3-4-1zM350 566.5l-0.5 1 1.5 1 1 0 1.5-1-0.5-1-1-0.5zM261 567.5l0 1 1 0.5 1.5-0.5-0.5-1zM373 567.5l-0.5 1 0.5 1 1 0.5 3 0 1-1.5-0.5-1-1.5-0.5zM521 567.5l-2 0.5-5-0.5-3 0.5-2 0.5 0 1 4 1 6-0.5 3 1.5 3 0 2.5-1 0.5-1-0.5-1-2.5-1.5-2 0zM284 568.5l0.5 1 1.5 0.5 1-0.5 0.5-1-1.5-0.5zM311 569.5l-1.5 1 0 1 2.5 1.5 3 0 2-1.5-0.5-1-1.5-1-2-0.5zM360.5 569.5l0 1 0.5 0.5 2 0 1-0.5 0-1-1-0.5zM224 570.5l-1.5 1 1.5 1 2 0 1.5-1-1.5-1zM250 570.5l2 0-1-0.5zM324.5 572.5l-5.5 3-4 1-2 1-1 2 0 2-0.5 2 1.5 1.5 3 0 1.5-0.5 1.5-2 3-1 4 0.5 2 1.5 2 1 4-0.5 1 1.5 2 0.5 1-0.5 0.5-1-1.5-1-3 0 0-1 1-0.5 3-0.5 8-1 3-1 0.5-1 0-1-0.5-1-3-1.5-2-1-7 0.5-1.5-2-2.5-1-7 0.5zM286 573.5l-3 1-1.5 1-0.5 1 1 1 2 0.5 2 0 7-2.5 1-1-3-1zM432 575.5l-3 1 0 1 1 0.5 4 0.5 2.5-1 0-1-0.5-0.5-2-1zM205.5 577.5l-1.5 1 0 1 1 1.5 0.5 2.5 2.5 1 3-0.5 5-2.5 2-2-1-1.5-3-0.5-5-0.5zM232 577.5l-1 1 1 1 2 0 1.5-1-1.5-1zM371.5 577.5l-5.5 1.5-0.5 0.5-0.5 1 1 1 2 0.5 8-2 1.5-1.5-0.5-1-2-0.5zM128 579.5l-0.5 1 1 1 4.5 1 0.5 1 1.5 1 2 0 2-1 0-1-1-1-3-0.5-2-2-3-0.5zM355 581.5l1 1 1 0.5 2-0.5 0.5-1-2.5-1zM441.5 581.5l0 1 2.5 1 3 0 2.5-1 0-1-2.5-0.5-3 0zM111.5 582.5l-0.5 1 1 1 2 0 1.5-1-1.5-1.5zM172.5 582.5l-2.5 2-0.5 1 0 1 2 2 2.5 0.5 3 0 10-2.5 1-1-12-3.5zM262.5 582.5l-3.5 2.5-4.5 1.5 0.5 1 7 1 2 0 2-1 2-2.5 0.5-1.5-2.5-1.5zM379.5 582.5l0 1 1.5 1 2.5-1-0.5-1-1-0.5zM225.5 584.5l-3.5 1.5-4 0-2 1 0 1.5 2 1 2 0 4-2 4 0.5 6-0.5 3.5-1 1.5-1 4 1.5 5-0.5-0.5-1-3.5-0.5-5 0.5-8-1.5zM302.5 585.5l-1 1 1.5 1 2 0 1.5-1-0.5-1-1-0.5zM343.5 585.5l-1.5 1-0.5 1 1 1 1.5 0.5 3-1.5 1-1 0-1-2-1zM362 585.5l-2.5 2-5.5 1-1 1 1 1.5 2 0.5 13 0.5 1 0.5 0.5 2 1 1 2.5 1 3-0.5 1.5-1.5 0-1-1-2 1.5-2 0.5-1-1.5-1.5-3-1-5 0-4-1.5-2 0zM477.5 586.5l-3 1 0 1 0.5 1 2 1 2 0 2 0 1-1 0.5-1-1-1-1.5-1zM198 587.5l-0.5 1 2.5 1 3 0 1.5-1-0.5-1-2-1-2 0.5zM322.5 587.5l-0.5 1 2 1.5 2-0.5 1-1-0.5-1-1.5-0.5zM433 587.5l0 1 2 1 2-0.5 0.5-1.5-2.5-1zM312.5 590.5l-3.5 1.5-3 0.5-4-0.5-5-1-2 0-4 2-5 0.5-5-1-8 1-2 0.5-3 1.5-5 1.5-1 1.5 0 1 5 2.5 2 5.5 1 1 3 1.5 21 1.5 1.5 1-1 1 0.5 1 2 0.5 4-1 5 1.5 5-1.5 7-1 6-2.5 7-0.5 9 0.5 2 0.5 3 2 2 0.5 2.5-1 1.5-1.5 4-0.5 2-0.5 1-1.5 0-2 0.5-1 8.5 0 3.5-1 0-1-1.5-0.5-5-0.5-6 1-8 2.5-8-1-4.5-1.5-2-2 0-1 0.5-1 2-1.5 1-1.5 0-1-2-3-3-1-10 0.5-8-2zM427 591.5l-4 0.5-2.5 1.5 0.5 1 3 1 10 0.5 3-1 1.5-1.5-0.5-1.5-3-1-3-0.5zM481.5 592.5l-8.5 2.5-1 0.5 0.5 1 10.5 2 3-0.5 3-1 1.5-1.5 0-1-1.5-1.5-4-1zM90 597.5l0 1 2 1 2 0 1-1 0-1-1-0.5-2-0.5zM82.5 603.5l-2.5 1 0 1 2 1 3 1 3-0.5 6-1.5 0-1-7-1.5zM431 603.5l-4 2.5-0.5 0.5 0 1 2.5 1.5 4 1.5 3 0 8-1 9 0 2 0 1.5-1-0.5-1-2-0.5-10-0.5-5-0.5-1.5-0.5-1.5-2-2-1zM254 607.5l0 1 1 0 1.5 0 0.5-1-2-0.5zM433 612.5l-1.5 1 0 1 0.5 0.5 3 1 2.5-1.5-1.5-1.5-2-1zM447 614.5l-5 1-1.5 1 4.5 6.5 9-2 4-1.5 7-1 2.5-2-0.5-1-1-0.5-8-1-5 0zM105.5 616.5l0 1 6.5 0.5 5.5-0.5 0.5-1-6-0.5zM338.5 617.5l-1.5 1 0 1 2 1.5 3 0 1.5-1.5-1.5-1.5-2-0.5zM476 510l1.5 2.5 1 4 0.5 7-0.5 8-1 2-0.5 1 1 1-0.5 1-3.5 0-2 0.5-1-0.5 0-3 1-4 1-1 1-12 1-4.5zM499 512l1 0.5 2 8 1 0.5 1-1 1 0.5 2 6 0 3-0.5 2-1.5 1.5-3 0.5-0.5 1 3.5 1.5 2 4.5 1 0 2-6-1-4 0-3 1-2.5 1 0.5 0.5 9 2 11-1 4-1.5 1.5-6 0.5-4-0.5-3-2.5-1-0.5-1 0.5-1 0-3.5-3-0.5-1 1-2 3-1 3 0 1-2 0-2-1-1.5-2-2-0.5-2.5 0.5-4.5 1.5-5.5zM448 519.5l1 1.5 1 3.5 1 9 0 2-1 0.5-1-0.5-1-1-2.5-5 0.5-4zM483 521.5l1 3 1.5 2-0.5 1-1-0.5-1-2-0.5-2.5zM243 523l1 0 1 3 0 3-1 1-2-1.5 0-2zM284 527l0.5 1.5 0 11 0.5 4 0 1.5-1 0-0.5-1.5 0-5-1-8 0.5-2.5zM485 529l1.5 1.5 0.5 1.5 0 6.5 1 5 0 1-1 0.5-3.5-0.5-1-1 1-5 0-7 0.5-1.5zM148 530l0.5 1.5 1 11-0.5 2-1 1.5-1-1-0.5-2.5 0.5-12zM244 531.5l0.5 1 0 2 1.5 2.5 1.5 6.5-0.5 4.5-1 1.5-1-2-1-4-1-11zM313 532l1.5 11.5 0.5 1 2 1 1 1 1 2 0 3 0 1-1 0.5-3-1.5-5 1-2-1 0-2 2.5-6 1.5-10zM373 532.5l1 1 1 2 0 1-1 1-1.5 0-0.5-1 0-2zM365 533l1 0.5 1 1-1 1-1-0.5-0.5-0.5zM39 537.5l0.5 1-0.5 0.5zM43 537l1 0.5 0.5 1-0.5 1.5-1.5-0.5-0.5-1zM531 537.5l1-0.5 1 0.5 0.5 2-0.5 6 0.5 10-0.5 2-1 1-1-1 0-1 0-11-0.5-7zM420 550.5l0.5 2-0.5 0zM183 553.5l0.5 1-0.5 1-2 0 1-1.5zM40 558.5l2 0 3 2 1 0 3-1.5 1 0 4 1.5 3 0 2 1.5 2 3 2 2.5 0 2-3 4-4 2-6 1-11 1 0-19zM51 597.5l6 0 1 0 1 1-2.5 2-1.5 3-7-0.5-2-2-2-1-3 0-2 1.5 0-3.5 6 0zM40 604.5l2 1 0 1-3 1 0-4z" fill="#ffc800" stroke="#000" stroke-opacity="0.7" stroke-width="0.55" fill-rule="evenodd"/>
<path d="M482 495.5l0 3.5-0.5-2.5zM381 502l0.5 11.5-0.5 5 1 4-1 5.5-1-0.5-0.5-5 0.5-14.5 0.5-5.5zM353 514l1-0.5 1 1 1 2 0 2-1 5.5-1 1-1 0-2-2.5-0.5-3 0.5-3zM463 521l2 1.5 1 2 0 4-1 1.5-3 0.5-1-1-0.5-3 1-4zM500 524.5l2 2 2-2 1 1.5 0 4.5-1 1-2-1.5-2 0.5-1-1 0-3zM335 534.5l0.5 1-0.5 3-1-0.5 0-1.5 0-1zM413 534.5l1 0 1 1 0.5 1-0.5 10-1 1-9 2-2 1 0.5 1 6.5 2 1.5 1 0 3 2 3-0.5 1-3 3 0 1 0.5 1 2.5 1 3 1 11-0.5 1.5 0.5 1 1 0.5 2 0.5 2-5 3-0.5 1 0.5 1 3.5 1 5 1 2 0 2-1.5 1-1.5 0-2 1-1 7-5 0.5-1 0.5-2-1.5-4 2.5-2.5 4-6 4-1.5 10-0.5 4 0.5 5-1 2.5 3 0 1-2 2-1 4 0 2-1.5 1-5.5 1-2 1 0 1 3.5 1.5 7 0.5 1 1-2.5 2-0.5 1 0.5 1 3.5 1.5 6 0.5 2 0.5 1.5 1.5 0.5 3-1 2-2 1-9-0.5-2 0-2 1-1 1.5 0 2 1 2 1.5 2-4.5 2.5-0.5 0.5 0 1 14.5 3.5 2 0 3-2 2-1.5 1.5-3 2.5-1 11 1.5 16-1 10 1 8 0 0 30.5-73.5 0 1-4 2.5-4 0-1-3-1.5-7.5-1.5-1-1 1-3-0.5-1.5-2-1-2-0.5-11 0.5-3.5-0.5-1.5-1-2-3 0-2 0.5-2 3.5-4 0-1-1.5-3 0.5-2-2-1.5-2-1-4 1-3 3-7 2.5-3.5 2 0.5 1 2 1 7 1 2.5 1 1 1 0.5 2-1 1-2 2-3.5 2-1 2 0.5 1 4.5 3 0.5 3 4.5 5 0.5 5-108 0 1-2 2.5-3 0-1-1.5-2 0-1 1.5-1 2.5-0.5 6-0.5 6 1 4 0 7-2.5 2-1 1.5-1.5 0.5-2 1.5-1 12.5-0.5 1-1.5-0.5-1-1.5-1-3-1-10-0.5-1.5-0.5-1-1 0.5-1 2.5-2 3.5-1 4 0.5 5 1 4 0 2-1.5 1.5-3 3-3 0-1-0.5-2 2-2.5 0-1.5-2-1-3-1 0-3-2-4 6-1.5 1.5-1.5 1-2-1-4 3-2 0.5-1 0-1-3-1-8-1-1-0.5-0.5-0.5 2-3-0.5-1-8-1-8 1-4-2-3 0-2-2-0.5-1 0.5-1 3-1.5 1 0 1 1 1 0.5 5-4.5 3-0.5 2 0.5 2 2 7 3.5 2 2.5 3-0.5 5 2.5 2-0.5 6-2.5 2-1 1 0.5 0.5-2 1.5-2 1.5-1 3.5-1 4-3 2-5zM438.5 580.5l-1.5 0-1 1 0 1 1.5 1 2.5 0.5 7 0.5 3-1 1.5-1 0-1-3.5-1.5-4 0zM337.5 616.5l-1.5 0.5-1.5 1.5 0 1 1.5 1 3 1 2 0.5 2-0.5 1.5-1 0.5-1 0-1-2-1.5-3-1zM503 539l1 0 1 1 2 4.5 1 1 2-1 0.5 1-0.5 2-4 3-3.5 0-2-1-0.5-1-0.5-2 0.5-3.5zM313 540l0 2-0.5-0.5zM471 544l1-0.5 5 1 0.5 2-1.5 2-6-1-3 0.5-5-0.5-3.5-1-0.5-1 1-0.5 5 0.5 5-0.5zM266 547l3 5.5 0.5 1-0.5 1-3 1-4-1-0.5-1 1.5-1 2-5zM335 547l2 0.5 2 0 3 1.5 1 3.5-1 2-3 1-3 0.5-1-1-1-1.5-0.5-2 0.5-3.5zM231 554.5l1 0 1.5 1 0.5 1-0.5 1-0.5 0.5-2 0.5-1.5-1 0-1zM501 555.5l4-0.5 5 1 6 4 3.5 4.5 0 1-0.5 0.5-2 1-7 0-3 1.5-0.5 1 2.5 1.5 7 1.5-5 1.5-5 0.5-3-0.5-3-1.5-5.5-6-0.5-1 2-6 3-3zM282 557.5l2-0.5 3.5 2.5-1.5 0-3.5-1zM361 557l6 0.5 4.5 1 0.5 1-1.5 3 1.5 2 0 1-1.5 2-0.5 2 1.5 3-3.5 0-1.5-1-0.5-2-3-1.5-2 0-2 0.5-1 1-1 1.5-1 0.5-8 1-6.5-1-5-2-0.5-1 1-4 5-0.5 6-2.5 8-1zM349 565.5l-2 1 0 1 0.5 1 1.5 1 3 0 2-0.5 1.5-1.5-0.5-1-2-1-2-0.5zM214 558.5l3 0 0 1-1 1-1 0-1.5-1zM40 561l5 1 5-0.5 4 1 2 1 1 1 1 2-0.5 1-0.5 1-2 1-5 0-11 1.5 0-10zM49.5 567.5l-0.5 1 1 1 1 0 0.5-1-0.5-1zM272 562.5l9 0.5 2 2 2 1 2 0.5 2-1 1 0 0.5 1-0.5 0.5-5 0-2.5 1.5 0.5 1.5 2.5 1.5-5.5 3-0.5 1 0 2 2.5 2 3 0 11-3.5 3 0 2 1.5 2 5-0.5 1-2 2 0 1 1 2 0 1-0.5 0-12 2-17-0.5-2.5-1.5 0-2 1-4-0.5-1-2-1-4-0.5-7 1-5 0-3-1-6-3-4 0.5-2-1.5-4-1-3.5 1.5-0.5 1 0 1 1 0.5 3 1 6-1-0.5 1.5-1 1-2.5 0.5-7-1-6 0-1-0.5 1-2-1-1-3-1.5-6-1.5-1.5-1 0-1 0.5-1 1-1 6-1 1 0.5 4 2.5 3 0 5-0.5 3 0 3 0.5 5 2 2-0.5 3.5-2.5 5.5-1 1.5-1-1-3 1.5-0.5 2 0 1 1.5 2.5 1 1.5 0.5 2-0.5 1-1 0-1-3-2 2-1 4-0.5zM182 565l3.5 0.5 0 1-1.5 1-2 0-0.5-1zM488 565.5l2.5 0 0.5 1-2 1-2 0.5-1-1.5zM536 565.5l4-1 0 6.5-5-0.5-2.5-1-0.5-1 0-1 1-1zM181 573.5l13 3.5 1 0.5 0.5 1-1 1-6.5 3-2 0.5-3-0.5-4-5-1-2 1-1.5zM118 581.5l2-1 2 0 7 3 1.5 1 1.5 2-1.5 2 0.5 1 2 1 2 0.5 2.5-0.5 1.5-1 1-1 0-2 4-3 4-1 4-0.5 4 0.5 3 0.5 1 0.5 2 3 2.5 2 4 2 4.5 1 3 0 6-3 4-0.5 2 0 4 3 3 0.5 9-1 2-1 2-2 2-1 1 0.5 3.5 2.5 3.5 1 7-0.5 7-1.5 5-0.5 2 0 4 2 16 4.5 0.5 1-1 3 1 4 0 2-1 1-3.5 0.5-2 1-0.5 0.5 0.5 1.5 3 0.5 4-0.5 13 3 16 0.5 3 1 3 2 5 1 1 2-1 6-208.5 0 0.5-1.5 1.5-1.5 6.5-3.5 16 0.5 5-1 0-1-8-1-12 0.5-9-2.5-4.5-3-1-1 0.5-1 2-1 7.5-2 1-1-8.5-3-7-0.5-1-1.5 0.5-2 1.5-1 2-0.5 1 0.5 0.5 2 1.5 1.5 4 0.5 4-0.5 2-1.5 1-3 6-3 2-2 0-1-0.5-3 0-1 1.5-0.5 5 0.5 3-0.5 1.5-1.5zM344 596.5l3-0.5 2 1 1.5 1.5 0 1 0 1-1.5 1-3 1-2 0-1.5-1-1-1 0.5-2zM443 610.5l4 0 3 1-2 1-6 0.5-1.5-0.5-0.5-1z" fill="#ee9600" stroke="#000" stroke-opacity="0.7" stroke-width="0.55" fill-rule="evenodd"/>
<path d="M504 543.5l1 0.5 1 3.5 0 1-1 1-1 0-1 0-1.5-1 0-2 0.5-2 1-1zM365 544.5l2 0 3 2 4 1 1 1 0.5 1-0.5 1-1 1-8 0.5-3.5-0.5-0.5-1 0-2 1-2zM406 546l1 0 1 0.5-1 1-2 0zM393 553.5l3-1 4 0.5 2 0 6.5 1.5 0.5 1 0.5 4-0.5 2-2 3-0.5 1 0.5 1 3 1.5 3 1 12 0.5 2 1 0 1-0.5 1-4.5 2.5-1.5 1.5-0.5 2 1 6-0.5 3-0.5 2-4 4 0.5 1 1.5 1 8 2 2 1 0 1-0.5 2-6 4-1 2 0 1 1.5 2.5 4 2.5 2.5 3 1 3 0.5 5-84.5 0 8.5-4.5 8-11.5 1-0.5 4-0.5 2.5 1 2.5 2 2 0.5 2 0 2-2 1-2.5 0-2-2-5 6-6 4.5-2 1.5-2 0-2-2-8 0-1 2.5-7 1-7 1.5-3-0.5-1-2.5-1.5-7-1.5-0.5-1 0-1 0.5-1 2-1 5 1.5zM460 553.5l7.5 0 2 2 2 4-0.5 3-1 1-5 2-1.5 1 0 1 1.5 1.5 4.5 1.5 1 1 0 3 0.5 4-2 8 0 6-3.5 3 0.5 1 3 1.5 8 1.5 4 3 3 1 3-1 7-6.5 3-1 26 0 17 0.5 0 29-70 0 1-4.5 1-1.5 2-2 0-1-4-2.5-6.5-2.5 0-2-1.5-2-3-1.5-3-1.5-3 0-8 1.5-3-0.5-1-1-1-3 1-3.5 1.5-1.5 5-4 1-5 0.5-1 5-3 0-1-2-1.5-9-1.5-0.5-1 0-2 1-1 4.5-2 2-2 0.5-3-0.5-5 3-5.5 3-2.5zM502 556.5l3-0.5 3 1 1.5 1.5 2 3 4 3-1.5 1-4 0.5-6 2-2 0-1-0.5-1-2-0.5-5 1-3zM363 559l2 0 1.5 0.5 0 1-0.5 1-1 1-1 0.5-1 0-1-1.5 0-1zM272 565.5l6 0 2 1-2 4-6.5 6-3 1-12.5 1-3-0.5-2-1.5 0-1 0.5-1 1.5-1 5-1.5 6-1 3-1 1.5-1.5 1-2zM292 578.5l4-0.5 2 1 1 4.5-1 4-0.5 1-4.5 1-7 0-11-0.5-1.5-0.5-1-1 0.5-1 2-1.5 11-2zM184 589.5l3 0.5 4 3 4 1 14-2 16 0 2 0 5.5-2.5 4.5 0 4 2.5 6 1.5 3 2 1 2 0.5 2-0.5 5-0.5 3 0 1 1.5 1.5 10 2 9 1.5 17 0.5 3 1 7 2.5 0.5 2-0.5 5-200.5 0 2-4 2.5-1.5 15 0 8-1.5 0-1-6-1.5-18-0.5-8-3-1.5-1-0.5-1 0-1 2-1 8-2 1-1 1-2 4-2 3-6 3-2 4-0.5 9 0.5 3 1.5 4 3.5 2 0 2-0.5 4-3 3-1 18-0.5 13 1.5 3-1 4-3z" fill="#dd5a1a" stroke="#000" stroke-opacity="0.7" stroke-width="0.55" fill-rule="evenodd"/>
<path d="M540 607l-43 0.5-4-1-0.5-1-0.5-1 1-3 1-1.5 2-1.5 3-0.5 17-0.5 24 0.5M102 624.5l1-2.5 2-1 21-2 6-1 2-1.5-0.5-1-1.5-0.5-5-1-22-2.5-2.5-1-1-1 1-1 4.5-1.5 3-1.5 1.5-2 2.5-6 2-1 6-0.5 3 0.5 1.5 1 2.5 5 2 1.5 3 0.5 3-0.5 2-1 4-5.5 3-1 17-0.5 12 1 4-0.5 6-2 6 2 5 0.5 11-1 18-0.5 3-0.5 6-2 2 0.5 4 1.5 4.5 1.5 1.5 1 0.5 2 0 6 0.5 3 1.5 3 2.5 2 12 2.5 24 1 5 1 2 0.5 0.5 1-0.5 5M360.5 624.5l2.5-10 1-2 1-0.5 1 0 5 3 3 0.5 5-0.5 3-2.5 1-3 1-3-0.5-2-1-4 0-2 2.5-2 4-1.5 2.5-1.5 1.5-2 1-2-1.5-6 0-4 1.5-8 1-2.5 1-0.5 2 0.5 8 3 9 0.5 0.5 1-1 4 1.5 5-0.5 3-1.5 3-3.5 3-0.5 2 1.5 2 1.5 1 7 3-0.5 1-4 6-0.5 2 0 1 3 5.5 6 4 1 2.5 0 3M484.5 624.5l2.5-1 5.5-1 10.5-1 37-0.5M366 547.5l1.5 1-0.5 1.5-1 0-0.5-0.5-0.5-1zM401 555.5l1-0.5 2 0.5 1 1 0.5 1-1 2-2.5 1-4 0-4-2-1-1 0.5-1 1.5-0.5 2-0.5 2 0.5zM461 556.5l4 1 1 0.5 0.5 1.5-0.5 2-1.5 1-3.5 1-3 0-2 0-1-1-0.5-1 1-2 2-2zM456 572.5l2-0.5 3 0.5 2 1 1.5 1 1 2 0 2-0.5 2-1 1.5-1 0-4-2.5-6.5-2-1.5-1 1.5-2zM459 585.5l2-0.5 1.5 0.5-1 3-1 1-2.5 1.5-2 0-1-0.5-0.5-2 0-1 1-1zM447 598.5l3 0-2 2-2 1-1-1 0-1zM464 601.5l8 0 2 1 0.5 1-1.5 0.5-6-0.5-2.5-1z" fill="none" stroke="#000" stroke-opacity="0.6" stroke-width="0.5"/><path d="M41.0 493.5 L41.1 496.9 L41.3 500.3 L41.4 503.7 L41.6 507.1 L41.7 510.5 L41.9 513.9 L42.2 517.3 L42.4 520.7 L42.7 524.1 L43.0 527.5 L43.3 530.9 L43.7 534.3 L44.1 537.7 L44.6 541.1 L45.2 544.5 L45.7 547.9 L46.4 551.3 L47.1 554.7 L47.9 558.1 L48.9 561.6 L49.9 565.0 L51.0 568.4 L52.3 571.8 L53.7 575.2 L55.2 578.6 L57.0 582.0 L58.9 585.4 L61.1 588.8 L63.5 592.2 L66.1 595.6 L69.1 599.0 L72.5 602.4 L76.2 605.8 L80.3 609.2 L84.9 612.6 L90.1 616.0 L95.8 619.4 L102.2 622.8 L109.3 626.2 M538.6 493.5 L538.5 496.9 L538.3 500.3 L538.2 503.7 L538.0 507.1 L537.9 510.5 L537.7 513.9 L537.4 517.3 L537.2 520.7 L536.9 524.1 L536.6 527.5 L536.3 530.9 L535.9 534.3 L535.5 537.7 L535.0 541.1 L534.4 544.5 L533.9 547.9 L533.2 551.3 L532.5 554.7 L531.7 558.1 L530.7 561.6 L529.7 565.0 L528.6 568.4 L527.3 571.8 L525.9 575.2 L524.4 578.6 L522.6 582.0 L520.7 585.4 L518.5 588.8 L516.1 592.2 L513.5 595.6 L510.5 599.0 L507.1 602.4 L503.4 605.8 L499.3 609.2 L494.7 612.6 L489.5 616.0 L483.8 619.4 L477.4 622.8 L470.3 626.2" fill="none" stroke="#000" stroke-opacity="0.75" stroke-width="0.5"/>
</g>
<rect x="40.0" y="493.5" width="499.6" height="130.70000000000005" fill="none" stroke="#222" stroke-width="0.9"/>
<text transform="translate(31.4,495.1) scale(1.2,1)" font-size="9.0" text-anchor="end" fill="#111">8</text>
<text transform="translate(31.4,516.9) scale(1.2,1)" font-size="9.0" text-anchor="end" fill="#111">16</text>
<text transform="translate(31.4,538.7) scale(1.2,1)" font-size="9.0" text-anchor="end" fill="#111">32</text>
<text transform="translate(31.4,560.5) scale(1.2,1)" font-size="9.0" text-anchor="end" fill="#111">64</text>
<text transform="translate(31.4,582.2) scale(1.2,1)" font-size="9.0" text-anchor="end" fill="#111">128</text>
<text transform="translate(31.4,604.0) scale(1.2,1)" font-size="9.0" text-anchor="end" fill="#111">256</text>
<text transform="translate(31.4,625.8) scale(1.2,1)" font-size="9.0" text-anchor="end" fill="#111">512</text>
<text transform="translate(50.0,637.4) scale(1.22,1)" font-size="10.2" text-anchor="middle" fill="#111">3.5</text>
<text transform="translate(103.1,637.4) scale(1.22,1)" font-size="10.2" text-anchor="middle" fill="#111">4.0</text>
<text transform="translate(156.1,637.4) scale(1.22,1)" font-size="10.2" text-anchor="middle" fill="#111">4.5</text>
<text transform="translate(209.2,637.4) scale(1.22,1)" font-size="10.2" text-anchor="middle" fill="#111">5.0</text>
<text transform="translate(262.2,637.4) scale(1.22,1)" font-size="10.2" text-anchor="middle" fill="#111">5.5</text>
<text transform="translate(315.3,637.4) scale(1.22,1)" font-size="10.2" text-anchor="middle" fill="#111">6.0</text>
<text transform="translate(368.3,637.4) scale(1.22,1)" font-size="10.2" text-anchor="middle" fill="#111">6.5</text>
<text transform="translate(421.4,637.4) scale(1.22,1)" font-size="10.2" text-anchor="middle" fill="#111">7.0</text>
<text transform="translate(474.4,637.4) scale(1.22,1)" font-size="10.2" text-anchor="middle" fill="#111">7.5</text>
<text transform="translate(527.5,637.4) scale(1.22,1)" font-size="10.2" text-anchor="middle" fill="#111">8.0</text>
<path d="M35.2 493.5H44.2 M35.2 515.3H44.2 M35.2 537.1H44.2 M35.2 558.9H44.2 M35.2 580.6H44.2 M35.2 602.4H44.2 M35.2 624.2H44.2 M48.4 620.8V627.8 M101.5 620.8V627.8 M154.5 620.8V627.8 M207.6 620.8V627.8 M260.6 620.8V627.8 M313.7 620.8V627.8 M366.7 620.8V627.8 M419.8 620.8V627.8 M472.8 620.8V627.8 M525.9 620.8V627.8" stroke="#222" stroke-width="0.9" fill="none"/>
<text x="44.6" y="490.1" font-size="10" fill="#111">Jiaxian red clay Rb/Sr</text>
<text x="0.3" y="486.8" font-size="9.4" font-weight="bold" fill="#111">d</text>
<text transform="translate(8.2,551.2) rotate(-90)" font-size="10.3" text-anchor="middle" fill="#111">Period  (kyr)</text>
<rect x="655.3" y="492.8" width="10.800000000000068" height="131.2" fill="url(#cb)" stroke="#333" stroke-width="0.6"/>
<text x="671.5" y="496.3" font-size="10" fill="#111" letter-spacing="0.8">1.0</text>
<text x="671.5" y="561.4" font-size="10" fill="#111" letter-spacing="0.8">0.5</text>
<text x="671.5" y="626.6" font-size="10" fill="#111">0</text>
<path d="M556.4 493.1 L563.0 497.0 L570.4 502.8 L575.4 509.1 L582.0 515.0 L588.1 520.5 L591.9 528.1 L600.0 537.0 L608.4 545.9 L613.0 551.0 L617.3 556.0 L618.5 566.2 L621.0 574.0 L623.6 581.4 L626.2 586.4 L624.9 591.5 L631.2 596.6 L637.6 600.4 L640.1 606.7 L638.5 612.0 L637.6 616.9 L636.3 624.0" fill="none" stroke="#6f8cf5" stroke-width="0.9"/>
<path d="M556.4 493.9 L570.0 508.5 L583.0 523.0 L600.0 545.0 L618.5 568.7 L628.0 584.0 L638.8 601.7 L643.5 612.0 L647.7 624.0" fill="none" stroke="#f0562a" stroke-width="1.3" stroke-dasharray="3 2.2"/>
<path d="M583.8 496.4H646" fill="none" stroke="#f0562a" stroke-width="1.3" stroke-dasharray="3 2.2"/>
<text x="583.6" y="505.3" font-size="8.9" fill="#111">95% confidence</text>
<text x="612.2" y="547.9" font-size="8.8" fill="#111">41</text>
<text x="620.9" y="572.5" font-size="8.8" fill="#111">~100</text>
<text x="618.5" y="621.9" font-size="8.8" fill="#111">405</text>
<text x="567.7" y="635.9" font-size="9.6" fill="#111" letter-spacing="0.5">10<tspan font-size="6.5" dy="-4">-3</tspan></text>
<text x="598.1" y="635.9" font-size="9.6" fill="#111" letter-spacing="0.5">10<tspan font-size="6.5" dy="-4">-2</tspan></text>
<text x="627.3" y="635.9" font-size="9.6" fill="#111" letter-spacing="0.5">10<tspan font-size="6.5" dy="-4">-1</tspan></text>
<path d="M576.7 621.0V624.0 M607.1 621.0V624.0 M636.3 621.0V624.0" stroke="#444" stroke-width="0.7"/>
<rect x="554.4" y="492.8" width="96.80000000000007" height="131.2" fill="none" stroke="#555" stroke-width="0.9"/>
<text x="367.3" y="10.2" font-size="10.2" fill="#111">Wavelet power spectral evolution</text>
<text x="550" y="10.4" font-size="10.2" fill="#111">Global wavelet power spectra</text>
<text x="313" y="647.6" font-size="10" fill="#111">Age (Ma)</text>
<text x="591.6" y="647.3" font-size="10" fill="#111">Power</text>
</svg>
</body></html>
